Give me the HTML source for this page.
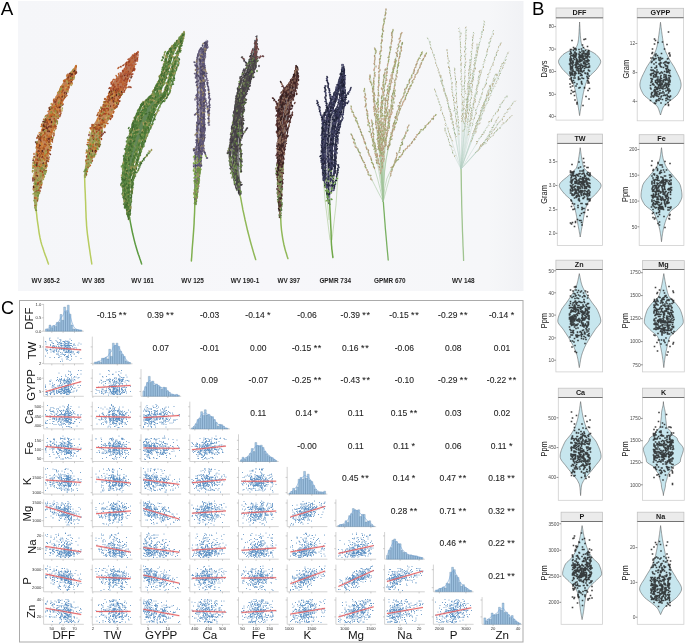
<!DOCTYPE html>
<html><head><meta charset="utf-8"><style>
html,body{margin:0;padding:0;background:#fff;}
body{width:685px;height:644px;overflow:hidden;font-family:"Liberation Sans",sans-serif;}
svg{display:block;will-change:transform;}
</style></head><body>
<svg width="685" height="644" viewBox="0 0 685 644">
<defs><linearGradient id="pbg" x1="0" y1="0" x2="1" y2="0"><stop offset="0" stop-color="#f5f6f9"/><stop offset="0.5" stop-color="#f7f7fa"/><stop offset="0.93" stop-color="#f6f7f9"/><stop offset="1" stop-color="#f1f2f5"/></linearGradient></defs>
<rect x="18" y="1" width="505.5" height="290" fill="url(#pbg)"/>
<text x="0.8" y="14.9" font-size="18.8" fill="#000" font-family="Liberation Sans, sans-serif">A</text>
<defs><filter id="bl" x="-5%" y="-5%" width="110%" height="110%"><feGaussianBlur stdDeviation="0.35"/></filter></defs>
<g filter="url(#bl)">
<path d="M35.5 205l.2 1.7.3 2.3.3 2.7.4 3 .3 3.1.4 3.1.4 2.8.4 2.5.3 2.3.3 2.2.3 2.1.4 2.2.4 2.2.5 2.3.6 2.5.8 2.9 1.1 3.2 1.1 3.4 1.2 3.4 1.2 3.2 1 2.8.8 2.3.3.8" fill="none" stroke="#b8cc60" stroke-width="1.5" stroke-linecap="round"/>
<defs><linearGradient id="g299564765" gradientUnits="userSpaceOnUse" x1="0" y1="65.6" x2="0" y2="211.0"><stop offset="0" stop-color="#b05a2a"/><stop offset="0.55" stop-color="#b86a30"/><stop offset="0.75" stop-color="#a08040"/><stop offset="1" stop-color="#8a9a48"/></linearGradient></defs>
<path d="M76.9,65.6 76.7,68.1 76.5,70.5 76.1,73.0 74.9,75.5 73.8,77.9 72.6,80.4 71.4,82.9 70.2,85.3 69.1,87.8 68.0,90.2 66.9,92.7 65.8,95.2 64.7,97.6 63.9,100.1 63.0,102.6 62.2,105.0 61.4,107.5 60.5,110.0 59.7,112.4 58.8,114.9 58.0,117.4 57.1,119.8 56.3,122.3 55.5,124.7 54.7,127.2 53.9,129.7 53.1,132.1 52.4,134.6 51.8,137.1 51.3,139.5 50.7,142.0 50.2,144.5 49.8,146.9 49.3,149.4 48.9,151.9 48.5,154.3 48.0,156.8 47.5,159.2 47.0,161.7 46.4,164.2 45.9,166.6 45.3,169.1 44.8,171.6 44.1,174.0 43.5,176.5 42.9,179.0 42.3,181.4 41.6,183.9 41.0,186.4 40.4,188.8 39.7,191.3 39.1,193.7 38.5,196.2 37.9,198.7 37.4,201.1 37.2,203.6 36.9,206.1 36.7,208.5 36.4,211.0 35.0,211.0 34.7,208.5 34.4,206.1 34.1,203.6 33.8,201.1 33.7,198.7 33.7,196.2 33.8,193.7 33.8,191.3 33.9,188.8 33.9,186.4 33.9,183.9 33.9,181.4 33.9,179.0 33.9,176.5 33.9,174.0 34.0,171.6 34.1,169.1 34.3,166.6 34.5,164.2 34.7,161.7 34.8,159.2 35.1,156.8 35.4,154.3 35.7,151.9 36.0,149.4 36.3,146.9 36.6,144.5 37.3,142.0 38.1,139.5 38.8,137.1 39.6,134.6 40.4,132.1 41.3,129.7 42.1,127.2 43.0,124.7 43.9,122.3 44.9,119.8 46.0,117.4 47.1,114.9 48.2,112.4 49.3,110.0 50.5,107.5 51.7,105.0 52.8,102.6 54.0,100.1 55.2,97.6 56.4,95.2 57.6,92.7 58.8,90.2 60.1,87.8 61.3,85.3 62.8,82.9 64.5,80.4 66.2,77.9 67.8,75.5 69.5,73.0 71.7,70.5 74.1,68.1 76.5,65.6Z" fill="url(#g299564765)" opacity="0.8"/>
<path d="M50 118l2.2-2.7 3.1-3.7 2.7-3.6 1.8-3.1 1.3-2.9.9-2M46 140l1.7-2.1 2.3-3.1 2-2.8 1.3-2.4 1-2.1.7-1.5M42 160l1.7-2.2 2.3-3.1 2-2.7 1.3-2.1 1-1.7.7-1.2" fill="none" stroke="#b87040" stroke-width="0.9" stroke-linecap="round" opacity="0.85"/>
<path transform="scale(0.5)" d="M90 278l-2 0m-8-4l-1 1m-5 0l0 2m5 41l-2 1m69-160l-1 1m-63 182l-2 0m4-91l0 2m24-52l-1 1m27-52l0 2m-22 56l-1 1m-41 167l1 1m22-136l1 2m4 36l1 1m-23 22l-1 1m69-153l-1 1m-53 104l0 2m-12 19l0 2m32-36l0 2m0-27l0 2m-34 100l0 2m76-189l-1 1m-57 182l0 2m-5-50l-1 1m6 62l-1 1m17-120l0 2m9-3l0 2m-49 148l-1 1m6-55l0 2m0-5l0 2m20-24l-1 1m-5-27l-2 0m3 34l-1 1m-12 90l-1 1m7-107l-1 1m-13 98l0 2m22-98l-2 0m62-131l0 2m-58 155l0 2m-3 6l1 1m-21 44l-2 0m17-13l0 2m5-57l-1 1m6 12l0 2m-29 52l0 2m29-117l-1 1m-21 52l0 2m4-22l-1 1m-3 108l-1 1m-3-59l-1 1m2 70l0 2m-3-72l-1 1m13 38l-1 1m-4-47l0 2m48-119l0 2m-49 122l1 1m43-90l-1 1m-20 10l0 2m-10 10l-1 1m61-105l-2 0m-28 59l-1 1m-23 64l0 2m4 24l-1 1" stroke="#a04420" stroke-width="2.8" stroke-linecap="round" fill="none"/>
<path transform="scale(0.5)" d="M93 270l0 2m33-102l-1 1m-53 199l-1 1m66-201l-1 1m-49 94l0 2m18 11l-1 1m-28 69l0 2m56-175l-1 1m-41 169l0 2m-2-25l1 1m-22 28l0 2m25-24l0 2m1-27l-1 1m-5-39l-1 1m41-73l-2 0m-49 94l0 2m62-124l-1 1m-42 89l0 2m-7 0l-1 1m2 78l-1 1m22-111l0 2m-19 63l-1 1m54-126l0 2m-57 167l-1 1m15-85l1 1m22-33l0 2m-59 108l1 2m33-92l0 2m-32 75l-1 1m84-175l-1 1m-65 152l1 1m23-71l0 2" stroke="#c8b060" stroke-width="2.8" stroke-linecap="round" fill="none"/>
<path transform="scale(0.5)" d="M73 330l1 1m35-121l-1 1m-35 153l-1 1m19-33l0 2m-4-80l-1 1m39-39l-1 2m-12 17l-1 1m-24 8l-1 1m2 106l-1 1m3-77l1 1m-20 101l-2 0m31-90l1 1m-8 15l0 2m-10 26l-1 1m9-80l-2 0m16-26l-1 1m39-84l-1 2m-56 213l1 1m65-227l0 2m-16 31l-1 1m-70 176l1 1m28-23l0 2m4-24l2 0" stroke="#a8a858" stroke-width="2.8" stroke-linecap="round" fill="none"/>
<path transform="scale(0.5)" d="M106 254l0 2m-25 20l0 2m-12 35l-1 1m7-4l0 2m19-56l-1 1m21-35l1 1m-10 4l0 2m47-96l-1 1m-85 226l0 2m15-71l-1 1m1 72l1 2m51-180l0 2m-41 49l0 2m34-30l-1 1m-56 120l-1 1m20-88l-2 0m32-35l-1 1m-23 112l0 2m-27-3l-1 1m32-68l-1 1m-17 15l1 1m22-18l0 2m-13 58l-1 1m6-51l1 1m-21 24l-1 1m7 45l0 2m11-82l1 1m27-25l1 1m2-30l0 2m-32 130l0 2m1-1l0 2m-14-28l0 2m-12 49l0 2m36-94l1 1" stroke="#6a2a20" stroke-width="2.8" stroke-linecap="round" fill="none"/>
<path transform="scale(0.5)" d="M86 271l-1 1m-6 17l-1 1m28-14l-1 1m-1-18l-1 1m-1-44l1 2m-14 57l-1 1m48-98l-1 1m-9-4l-2 0m-52 183l-1 1m7-63l1 1m36-99l-1 1m-15 45l1 1m15-3l-1 1m-32 85l-1 1m3-81l-1 1m3 9l0 2m-6 105l0 2m24-123l0 2m-24 129l-1 1m29-178l-1 2m25-41l1 1m-42 166l-1 1m10-87l0 2m1-7l-1 1m-32 78l1 1m79-177l-1 1m-10 16l0 2m-46 109l0 2m56-127l0 2m-26 77l0 2m-53 85l0 2m26-2l1 1m-29 33l-1 1m10-49l0 2m69-130l0 2m-3-8l0 2m11-16l-1 1m-42 103l-2 0m-39 129l-2 0m52-145l-1 2m-29 14l0 2m24 6l-1 1m0-6l1 1m-15 24l-2 0m10-17l0 2m-23 58l0 2m67-178l-2 0m-41 84l1 1m17-44l-1 1m-53 174l1 1m3-34l0 2m40-96l-2 0m-6 19l-1 1m8-42l1 1m-30 62l0 2m33-92l-1 1m-13 47l-1 1m10-12l2 0m6-11l0 2m-27 65l2 0m-4 32l1 1" stroke="#b8662e" stroke-width="2.8" stroke-linecap="round" fill="none"/>
<path transform="scale(0.5)" d="M116 208l1 1m24-62l0 2m-58 135l-1 1m35-88l-1 1m6-6l-1 1m-25 93l-1 1m3 32l-1 1m13-95l1 1m-36 124l1 1m8-92l-1 1m35-52l1 2m32-76l-1 1m-73 187l0 2m14-45l-1 1m28-86l1 2m23-31l0 2m-60 164l-1 1m4-45l0 2m3-10l-1 1m40-91l-1 1m-13 3l-1 1m-10 26l1 1m-19 75l0 2m5-7l1 1m40-114l0 2m-14 5l-1 1m-31 100l-2 0m52-135l-1 1m-15 51l-1 1m-28 56l-1 1m12 33l-1 1m9-30l-1 1m-39 105l0 2m60-212l-1 1m21-16l-1 1m-32 64l0 2m-2 17l-1 1m-33 34l-1 1m-8 61l0 2m47-110l-1 1m-13 48l1 1m-11 21l1 1m7-3l1 1m22-101l0 2m-25 25l0 2m-10 34l-1 1m20-37l-1 1m-19 110l0 2m3 8l-1 1m16-82l0 2m-4 10l-2 0m12-18l-1 1m-21 27l0 2m11 4l-1 1m-24-14l0 2m10 23l0 2m-12-12l0 2m11 0l-1 2m8-46l-1 1m18-6l0 2m39-88l0 2m-62 201l1 1m13-101l0 2m9-33l2 0m2-7l1 1m8-11l-2 1m-33 107l0 2" stroke="#d08a40" stroke-width="2.8" stroke-linecap="round" fill="none"/>
<path transform="scale(0.5)" d="M119 201l-1 1m17-40l-1 2m-52 101l0 2m1 52l2 0m46-133l-1 1m-39 155l0 2m6-33l-1 1m2-21l1 1m-30 79l1 1m-3-45l1 1m21-65l-1 1m55-94l-1 1m-20 31l0 2m-32 110l0 2m-21 31l-1 1m20-56l-1 1m-14 2l-1 1m7 64l-1 1m55-200l0 2m-30 44l-1 1m25-36l-1 1m-48 157l1 1m25-102l1 1" stroke="#b89a50" stroke-width="2.8" stroke-linecap="round" fill="none"/>
<path transform="scale(0.5)" d="M149 154l-1 1m-41 63l-1 1m-12 65l-1 1m-24 46l2 0m23-72l-1 1m-20 92l0 2m-3-40l1 1m32-89l0 2m-1 50l-1 1m21-94l-1 1m27-30l0 2m-71 134l-1 1m8 19l-2 0m38-109l-1 1m-11 36l-1 1m-31 136l-1 1m19-142l-1 1m15-7l1 1m-26 106l-1 1m27-78l0 2m-20 50l1 1m-18 54l1 1m5-95l-1 2m4 13l-1 1m61-121l-2 0m-33 81l-1 1" stroke="#a89848" stroke-width="2.8" stroke-linecap="round" fill="none"/>
<path transform="scale(0.5)" d="M140 167l-1 1m-66 140l0 2m37-58l-1 1m42-110l-1 2m-14 34l0 2m0-33l0 2m-36 150l1 1m16-108l1 1m-46 156l0 2m65-192l0 2m-49 117l0 2m14-50l0 2m2 50l1 1m39-123l-1 1m-24 70l1 1m-44 61l0 2m49-123l-1 1m-49 159l-2 0m56-137l-1 2m-41 111l-2 0m54-148l-1 1m-4 29l-1 1m6-42l-1 2m-45 189l-2 0m-16-47l-1 1m44-64l-1 1m-31 117l1 1m35-123l-1 1m1-32l-1 1m-35 153l0 2m34-132l-1 1m-19 11l-1 1m7-2l-2 0m7 22l-1 2m27-82l-1 1m-14-1l-1 2m-14 56l0 2m22-73l0 2m-6 41l-1 1m4-4l-1 1" stroke="#b05a26" stroke-width="2.8" stroke-linecap="round" fill="none"/>
<path transform="scale(0.5)" d="M144 157l-1 1m-40 93l-1 1m-21 60l-2 0m47-140l0 2m-51 151l0 2m7-24l0 2m-4 27l1 1m4 28l-1 1m27-125l-1 1m-27 102l0 2m2-41l1 1m10-72l0 2m10 31l-1 1m-16 52l1 1m-9 2l1 1m24-105l0 2m-16 80l0 2m-18 112l1 1m17-164l-1 1m-7 47l0 2m50-136l-1 1m-17 39l0 2m-21 34l-1 1m-21 85l0 2m28-20l1 1m-5-25l0 2m10-11l0 2m9-23l0 2m-16 68l1 1m-15-41l0 2m-5 11l1 1m60-122l0 2m-37 99l-1 1m-17-9l-2 0m70-121l-1 1m-26 36l-1 1m-43 197l0 2m32-184l1 1m-25 94l-1 1m33-115l0 2m-18 48l-1 1m-7 39l0 2m-11 34l0 2m25-37l-1 1m29-115l-1 1m-56 156l0 2m43-92l-2 0m-34 81l1 1m-14 39l-1 1m24-86l-1 1m22-47l-1 1" stroke="#a04e22" stroke-width="2.8" stroke-linecap="round" fill="none"/>
<path transform="scale(0.5)" d="M67 373l1 1m9 14l0 2m6-41l0 2m-8 36l-1 1m2-3l1 1m0-1l-1 1m-1-26l1 1m-1 36l1 1m-2-15l0 2m4-28l1 1m-9 27l0 2m2-21l-1 1m1 53l1 1m20-92l0 2m-27 4l0 2" stroke="#7a9040" stroke-width="2.8" stroke-linecap="round" fill="none"/>
<path transform="scale(0.5)" d="M111 212l-2 0m22-41l0 2m-50 120l1 1m-16 39l1 1m28-36l0 2m-5 28l1 1m29-139l-1 1m33-60l-1 2m-54 151l1 1m-21 19l-1 1m23-61l-2 0m-14 8l-1 1m-1 81l-1 1m13-3l1 1m29-151l-2 0m17-14l-1 1m-33 110l1 1m16-75l0 2m-1 5l-1 1m-33 105l-1 1m17-39l0 2m-18-30l-1 1m0 116l0 2m-9-80l1 1m70-144l-1 1m-18 58l-1 1m-4-31l-1 1m24-18l-1 1m-20 12l-1 1m-46 131l1 2m67-160l-1 1m-71 247l1 2m8-87l-1 1m3-23l0 2m67-153l-1 1m-17 32l1 2m-47 140l-1-1m-1 57l-1 1m1-40l0 2m9-22l-1 1m17-98l-1 1m-24 100l-1 1m16-81l-1 1m-10 22l0 2m28-51l1 1m-19 98l0 2m44-161l0 2m-42 79l0 2m15-6l-1 1m-15 45l1 1m3-8l2 0m0-4l1 1" stroke="#d07c34" stroke-width="2.8" stroke-linecap="round" fill="none"/>
<path transform="scale(0.5)" d="M80 309l0 2m-5 89l0 2m40-207l0 2m-37 123l-1 1m16-71l0 2m17-12l0 2m19-57l0 2m-52 180l-2 0m46-155l-1 1m2-6l-1 1m-32 56l0 2m-8 7l1 1m49-80l-1 1m13-37l-1 1m-69 210l1 1m35-141l0 2m-15 8l1 1m57-96l-1 1m-32 49l-1 1m-3 30l-1 1m8-21l0 2m-24 82l1 1m-6 35l0 2m7-109l-1 1m-13 29l1 1m27-37l-1 1m-20 36l-1 1m38-57l-1 1m-40 80l-1 1m7 42l1 1m12-51l0 2m-10 45l0 2m4-63l0 2m-1-41l1 1m24-41l-2 0m-36 123l-2 0m38-104l-1 1m7-4l-1 1m-19 60l0 2m-7 41l-1 1" stroke="#9a5428" stroke-width="2.8" stroke-linecap="round" fill="none"/>
<path transform="scale(0.5)" d="M76 272l1 1m17-29l0 2m-9 67l-1 2m53-161l-1 1m-66 204l-1 1m27-61l0 2m-4 30l-1 2m9-25l1 1m52-165l0 2m-48 85l-2 1m7-29l0 2m-18 85l-1 1m0-51l-1 1m-2 18l1 1m49-94l-1 1m4-20l-2 0m4 16l-1 1m-47 92l0 2m5-6l0 2m-14 5l0 2m18 18l1 1m-22 87l-1 1m59-216l0 2m11-9l-1 2m-53 131l-2 0m3-63l-1 1m27-24l0 2m-43 180l0 2m48-191l-1 1m-31 97l0 2" stroke="#7a3424" stroke-width="2.8" stroke-linecap="round" fill="none"/>
<path transform="scale(0.5)" d="M142 148l1 1m-65 152l0 2m9 36l1 1m-1-14l-1 1m-12 3l-1 1m25-55l0 2m0-16l1 1m21-49l-1 1m-30 37l-1 1m38-73l-1 1m20-33l-1 1m-41 94l0 2m-27 121l0 2m24-150l-1 1m-28 65l1 1m8-6l1 1m18-41l-2 1m-24 46l0 2m76-147l-1 2m-63 158l0 2m-18 70l0 2m35-82l-1 1m-27 57l1 1m4-62l0 2m8-42l0 2m-13 32l0 2m16-43l0 2m-17 83l-1 2m15-70l1 1m12-23l0 2" stroke="#5a2a1e" stroke-width="2.8" stroke-linecap="round" fill="none"/>
<path transform="scale(0.5)" d="M124 204l-1 1m-44 104l-1 2m10-19l0 2m-11-5l0 2m31-61l0 2m-37 88l-1 1m33-57l-2 0m-27 24l0 2m21-52l0 2m-5 79l-1 1m-1-51l-1 1m19-40l0 2m-18 6l-1 1m12 34l1 1m10-54l0 2m-11 11l0 2m5-9l0 2m24-67l-1 1m-9 22l-1 1m-37 184l-1 1m45-182l0 2m-27 112l-1 1m12-83l0 2m-6 6l0 2m-5 10l-1 1m26-43l-1 1m-30 92l0 2m13-84l1 1m-3 85l0 2m-15 10l0 2m-12 56l1 1m17-65l-1 1m-9-25l-1 1m27-64l-2 1m45-83l0 2m-34 75l-1 1m-17 32l-1 1m5-15l0 2m-35 103l1 1m56-155l-1 1m-45 120l1 2m62-148l0 2m-70 148l0 2m11-11l0 2m9-15l0 2m-22 34l1 1m61-141l1 2m-37 42l-1 1m39-40l1 1m-44 47l-1 1m5 40l1 2m12-19l-1 1m-18 56l1 1m8-12l-1 1" stroke="#c46a2c" stroke-width="2.8" stroke-linecap="round" fill="none"/>
<path transform="scale(0.5)" d="M68 401l1 1m2-15l1 2m7-4l0 2m-7-14l2 0m-2 16l0 2m3-56l1 1m5 16l0 2m-11 60l0 2m19-73l-1 2" stroke="#8a9a48" stroke-width="2.8" stroke-linecap="round" fill="none"/>
<path transform="scale(0.5)" d="M123 210l-1 1m-6 22l1 1m-28 27l1 1m-7 84l-1 1m-15-12l-1 1m14-7l-1 1m13-29l0 2m-23 63l-1 1m33-153l0 2m20-36l-1 1m-29 52l-1 1m-8 34l0 2m60-115l-1 1m-6 26l-1 1m-13-6l0 2m-45 166l-1 1m15-40l0 2m18-64l0 2m-24 119l-1 2m-11-9l0 2m2-77l0 2m-7 39l0 2m22 4l0 2m28-148l0 2m6-10l0 2m-53 183l1 1m32-137l-1 1m13 21l-1 1m-8 27l-1 1m3-29l-1 1m39-109l1 1m-32 90l-1 1m-2-7l-1 1m-26 95l-1 1" stroke="#9a9a48" stroke-width="2.8" stroke-linecap="round" fill="none"/>
<path transform="scale(0.5)" d="M89 239l0 2m22-20l-1 1m-37 85l0 2m-1 31l0 2m0 26l-1 1m10-33l-1 1m2 0l0 2m6-1l-1 1m28-95l-1 1m-27 93l-1 1m0-10l0 2m-17 24l-1 1m5 21l0 2m22-148l1 1m48-75l-2 0m-29 84l0 2m-35 74l0 2m25-96l-1 1m6 9l-2 0m-24 128l1 1m34-157l0 2m-17 29l-1 1" stroke="#8a8a40" stroke-width="2.8" stroke-linecap="round" fill="none"/>
<path transform="scale(0.5)" d="M76 388l-1 1m-1-1l0 2m-1 19l0 2m-4-8l1 1m5-27l-1 1m-3 35l0 2m9-49l0 2m-10-28l-1 1" stroke="#9aa850" stroke-width="2.8" stroke-linecap="round" fill="none"/>
<path transform="scale(0.5)" d="M91 348l-2 0m-18 19l0 2m5 22l0 2m16-51l-1 1m-20-14l-1 1m14 5l0 2" stroke="#6a8a3a" stroke-width="2.8" stroke-linecap="round" fill="none"/>
<path transform="scale(0.5)" d="M75 395l1 1m-5-9l-1 1m13-40l0 2m6 3l-1 2m-20 25l-1 1m-2-39l0 2m2 43l-1 1m26-53l0 2m0 6l0 2m-13 12l0 2" stroke="#a0a050" stroke-width="2.8" stroke-linecap="round" fill="none"/>
<path d="M84.5 175l.1 2 .1 2.7.1 3.3.1 3.5.2 3.9.2 3.9.1 3.8.2 3.7.1 3.8.1 3.9.2 3.9.1 4.1.3 4.1.2 4.2.4 4.2.5 4.6.7 5.1.7 5.2.8 5.3.7 4.8.7 4.3.5 3.4.2 1.3" fill="none" stroke="#b8cc60" stroke-width="1.5" stroke-linecap="round"/>
<defs><linearGradient id="g186076096" gradientUnits="userSpaceOnUse" x1="0" y1="51.8" x2="0" y2="178.0"><stop offset="0" stop-color="#a04a28"/><stop offset="0.5" stop-color="#b86a30"/><stop offset="0.7" stop-color="#a08040"/><stop offset="1" stop-color="#8a9a48"/></linearGradient></defs>
<path d="M138.1,51.8 137.7,53.9 137.4,56.1 136.9,58.2 136.3,60.4 135.7,62.5 135.1,64.6 134.4,66.8 133.8,68.9 133.0,71.1 131.9,73.2 130.9,75.3 129.8,77.5 128.6,79.6 127.5,81.7 126.4,83.9 125.4,86.0 124.4,88.2 123.4,90.3 122.4,92.4 121.3,94.6 120.4,96.7 119.4,98.9 118.4,101.0 117.4,103.1 116.5,105.3 115.5,107.4 114.4,109.6 113.3,111.7 112.2,113.8 111.2,116.0 110.1,118.1 108.8,120.2 107.2,122.4 105.6,124.5 103.9,126.7 103.0,128.8 102.6,130.9 102.1,133.1 101.6,135.2 101.1,137.4 100.6,139.5 99.9,141.6 99.2,143.8 98.5,145.9 97.7,148.1 97.0,150.2 96.3,152.3 95.2,154.5 94.1,156.6 93.0,158.7 91.9,160.9 90.8,163.0 89.8,165.2 89.1,167.3 88.3,169.4 87.6,171.6 86.9,173.7 86.4,175.9 85.8,178.0 84.2,178.0 84.1,175.9 84.1,173.7 84.3,171.6 84.6,169.4 84.9,167.3 85.2,165.2 85.6,163.0 85.9,160.9 86.3,158.7 86.6,156.6 87.0,154.5 87.3,152.3 87.6,150.2 87.8,148.1 88.1,145.9 88.4,143.8 88.6,141.6 88.9,139.5 89.5,137.4 90.0,135.2 90.5,133.1 91.1,130.9 91.6,128.8 92.4,126.7 93.6,124.5 94.8,122.4 96.1,120.2 97.1,118.1 98.1,116.0 99.1,113.8 100.1,111.7 101.1,109.6 102.0,107.4 103.1,105.3 104.1,103.1 105.2,101.0 106.3,98.9 107.3,96.7 108.4,94.6 109.1,92.4 109.9,90.3 110.7,88.2 111.5,86.0 112.2,83.9 113.2,81.7 114.9,79.6 116.5,77.5 118.4,75.3 120.8,73.2 123.2,71.1 125.0,68.9 125.8,66.8 126.6,64.6 127.4,62.5 128.2,60.4 129.1,58.2 131.3,56.1 134.4,53.9 137.6,51.8Z" fill="url(#g186076096)" opacity="0.8"/>
<path d="M110 92l3.2-1.1 4.6-1.6 4.2-1.3 3.6-.6 3.2-.3 2.2-.1M96 140l1.3-1 1.9-1.5 1.8-1.5 1.6-1.5 1.4-1.5 1-1M118 68l2.4-1.2 3.2-1.6 2.4-1.2" fill="none" stroke="#b07040" stroke-width="0.9" stroke-linecap="round" opacity="0.85"/>
<path transform="scale(0.5)" d="M234 205l-2 0m-22 14l0 2m8 15l0 2m-19 28l0 2m11-58l0 2m-14 16l-1 1m18-7l-1 1m-26 31l1 1m31-50l0 2m-31 56l-1 1m7-14l-2 0m-15 83l0 2m23-70l0 2m41-88l-1 1m-46 121l0 2m6-83l1 1m-11 75l0 2m26-94l1 1m11 9l1 1m-39 51l0 2m44-83l-1 1m8 16l-1 1m-15-7l-1 1m-47 92l-2 0m42-54l0 2m10-39l-1 1m-26 56l0 2" stroke="#a04e22" stroke-width="2.8" stroke-linecap="round" fill="none"/>
<path transform="scale(0.5)" d="M223 227l-1 1m-9 7l-1 1m-21 15l0 2m12-20l-2 0m27-43l-2 0m-43 70l0 2m1 41l0 2m30-83l1 1m-26 62l0 2m42-81l0 2m-27 12l-1 1m5 27l-1 1m-28 15l0 2m18-26l0 2" stroke="#c8b060" stroke-width="2.8" stroke-linecap="round" fill="none"/>
<path transform="scale(0.5)" d="M237 206l-2 0m-22 21l0 2m-1-4l-1 1m-16 61l-1 1m11-60l-2 0m7 23l-1 1m-5-12l-1 1m7 13l-1 1m26-54l0 2m-21 24l-1 1m-7 18l-1 1m23-58l1 1m-32 66l0 2m-12 31l-1 1m12-53l-1 1m12-27l-1 2m-23 100l-1 1m15-48l0 2m27-67l-1 1m-5 9l-1 1m1-22l-1 1m-27 67l0 2m-13 25l-2 0m19-22l-1 1m27-69l-1 2m-6 47l-1 1m-11-14l-1 1m-11 47l-2 0m3 16l-1 1m50-105l-1 1m-35 54l-1 1m-4-16l0 2m23-48l-2 1m-24 55l-1 1m33-30l0 2m-36 83l0 2m39-119l2 0m-42 100l2 0" stroke="#d07c34" stroke-width="2.8" stroke-linecap="round" fill="none"/>
<path transform="scale(0.5)" d="M202 214l0 2m0 40l-1 1m39-71l-1 1m-54 112l0 2m46-111l1 1m-21 12l0 2m-38 138l2 0m6-55l-1 1m25-61l1 1m-22 28l-1 1m30-48l1 1m-6 1l-1 1m1-9l0 2m-2 20l-1 1m-18 23l-1 1m17-29l-1 1m45-43l-2 0m-48 70l-1 1m22-65l-1 1m-17 35l-1 1m-17 33l-1 1m50-43l-1 1m-57 126l0 2m14-45l-1 1m10-45l-2 0m7-28l0 2m7 0l-2-1m-15 27l-1 2m-2 56l1 1m45-99l-1 1m-23-8l-1 1m-31 90l0 2m58-120l0 2m-21 17l-2 1m22-3l-1 2m-36 88l-1 1m-9-17l-2 1" stroke="#b8662e" stroke-width="2.8" stroke-linecap="round" fill="none"/>
<path transform="scale(0.5)" d="M224 192l1 1m5 24l-1 1m-10 13l-1 1m-8 20l-1 1m2-49l1 2m-26 79l-1 1m-2 2l0 2m38-106l-1 1m20 8l0 2m-31 20l1 1m3 12l0 2m-11-2l1 1" stroke="#a89848" stroke-width="2.8" stroke-linecap="round" fill="none"/>
<path transform="scale(0.5)" d="M174 339l-1 1m10-74l0 2m5 43l1 1m1-31l0 2m8-17l-2 0m-14 44l1 1m3-25l1 1m-9 45l1 1m-7-12l0 2m16-43l-1 1m17-20l1 1" stroke="#8a9a48" stroke-width="2.8" stroke-linecap="round" fill="none"/>
<path transform="scale(0.5)" d="M257 143l-1 1m-62 144l0 2m9-27l0 2m-15-7l-1 1m-9 10l0 2m49-70l-1 1m-8-3l0 2m37-51l0 2m-56 79l1 2m74-126l-1 1m-34 94l-2 0m-39 57l0 2m-25 41l1 1m50-71l0 2m-5-58l-1 1m-33 94l-1 1m23-28l-1 1m0 2l-1 1m-2 17l-1 1m26-63l-1 1m4-24l0 2m-36 76l-1 1m-10-6l0 2m61-103l-1 1m-38 113l0 2" stroke="#7a3424" stroke-width="2.8" stroke-linecap="round" fill="none"/>
<path transform="scale(0.5)" d="M203 216l1 1m71-100l-1 1m-38 67l1 1m-3 25l0 2m8-50l1 1m-12 51l-1 1m40-101l-1 1m-1 25l-1-1m-31 28l1 1m12-1l0 2m-57 118l0 2m26-98l0 2m17 12l-1 1m-13 5l-1 1m-41 93l0 2m28-66l-1 1m44-93l-1 1m-45 119l-1 2m6-8l1 1" stroke="#6a2a20" stroke-width="2.8" stroke-linecap="round" fill="none"/>
<path transform="scale(0.5)" d="M219 219l0 2m-9-15l-1 1m-1-4l-1 1m23 0l1 1m-28 47l0 2m-3 29l0 2m0-59l0 2m-19 46l0 2m26-30l-1 1m13-35l-1 1m19-29l-1 1m-14 11l-1 1m-23 87l0 2m40-96l-1 1m-51 75l-1 1m34-62l-1 1m-27 48l-1 1m10 19l-2 0" stroke="#b89a50" stroke-width="2.8" stroke-linecap="round" fill="none"/>
<path transform="scale(0.5)" d="M208 243l-1 1m16-16l-1 1m-7-35l0 2m14-13l0 2m-36 104l0 2m9-47l-1 1m-12 55l-1 1m22-62l-1 1m28-36l0 2m-9 17l-1 1m-27 40l1 2m14-73l-1 1m-32 118l-1 2m21-58l-2 0m5-12l1 1m15-54l-1 1m-32 120l0 2m4-19l0 2m8-60l-1 1m-7 63l-1 1m13-55l-1 1m-6-23l-1 1m-16 104l1 1m-7-5l-1 1m13-39l1 1m-10 15l-1 1m35-88l-2 0m-25 96l1 1m2-19l-1 1m21-77l0 2m28-20l-1 1m-18 19l-1 1" stroke="#c46a2c" stroke-width="2.8" stroke-linecap="round" fill="none"/>
<path transform="scale(0.5)" d="M234 162l-1 1m10 12l-1 1m0-15l-1 1m26-25l-1 1m-39 30l0 2m9-2l0 2m28-17l-1 1m-43 21l-1 1m38-58l-1 1m-5 53l-2 0m-5-13l-1 1m21-30l0 2m-8 15l1 1m5-12l0 2m-13 10l-1 1m17-33l-1 1m-23 56l0 2m25-27l-2 0m4-11l1 1m-1-3l-1 1m-16 32l0 2m2 0l-1 1m-10-7l1 1m16-34l-2 0m-3 37l-1 1m1-5l-1 1m-9-9l-1 1m32-39l0 2m-29 56l2 0m-7-43l1 1" stroke="#a84a2a" stroke-width="2.8" stroke-linecap="round" fill="none"/>
<path transform="scale(0.5)" d="M200 253l-1 1m42-71l-1 1m-30 67l-1 1m22-41l-1-1m-57 95l-1 1m28-84l0 2m-15 77l-1 2m42-112l-1 1m-1 35l-1 1m-36 23l-1 1m26-47l0 2m-28 48l-1 1m-7 23l0 2m39-76l0 2m-33 80l-1 1m49-88l0 2m3-4l1 1m-52 58l0 2" stroke="#d08a40" stroke-width="2.8" stroke-linecap="round" fill="none"/>
<path transform="scale(0.5)" d="M212 212l-2 0m15-25l-1 1m-38 61l0 2m11 42l1 1m-1-3l1 1m23-94l-1 1m10-7l-1 1m-25 55l-1 1m-11 7l-1 1m-9 39l-1 1m56-115l1 1m-16 49l0 2m-22 3l-1 1m-17 61l-1 2m39-103l0 2m9 2l1 1m-53 115l-1 1m8-6l-1 1m50-102l-1 1m-59 135l0 2m19-48l-1 1m-4-42l-1 1m26-59l-1 1m-4 5l-1 1m-11 20l-1 1m10 0l-1 1m7-35l0 2m27-17l0 2m-21 27l1 1m-7-9l-1 1m-24 117l-1 2" stroke="#9a5428" stroke-width="2.8" stroke-linecap="round" fill="none"/>
<path transform="scale(0.5)" d="M253 145l-1 1m-61 155l-1 1m-4-25l1 1m46-89l0 2m5-3l1 2m-15-1l-2-1m-22 62l-2 0m-8 5l-1 1m36-61l-1 1m19-13l0 2m19-31l0 2m-27 50l0 2m-32 62l-1 1m5-34l-1 2m-7 52l0 2m-14 8l0 2m34-120l0 2m4-3l0 2" stroke="#5a2a1e" stroke-width="2.8" stroke-linecap="round" fill="none"/>
<path transform="scale(0.5)" d="M204 226l-1 1m-15 71l0 2m1-39l0 2m26-51l-1 1m7-23l0 2m-4 41l-1 1m-27 24l-1 1" stroke="#a8a858" stroke-width="2.8" stroke-linecap="round" fill="none"/>
<path transform="scale(0.5)" d="M172 341l-1 1m6-28l0 2m24-27l-1 1m-28 47l1 1m6-42l-1 1m16-9l0 2m6-18l-1 1m-17 18l-1 1m13 5l1 1m-23 48l0 2m-3-6l-1 1m9-52l0 2m18 3l-1 1m-17 15l-1 1m-5 26l-1 1" stroke="#6a8a3a" stroke-width="2.8" stroke-linecap="round" fill="none"/>
<path transform="scale(0.5)" d="M260 160l-1 1m-22 11l-2 0m16-38l1 1m-2 27l-1 1m14-36l-1 1m9-20l0 2m5-1l0 2m-26 37l-2 0m19-24l-2 0m-28 33l-1 1m25-29l-1 1m-29 47l-1 1m15-6l-1 1m-2-24l-1 1m13-14l-1 2m-32 38l0 2m20-26l-1 1m1 12l-2 0m14-20l-1 1m-6 14l1 1m-5-6l-1 1m35-53l0 2m-34 41l-2 0m15 4l-1 1m-32 14l1 1m14 11l1 1m13-4l0 2" stroke="#b0583a" stroke-width="2.8" stroke-linecap="round" fill="none"/>
<path transform="scale(0.5)" d="M247 163l-1 1m-13-12l0 2m21-10l-1 1m-24 14l-2 0m41-43l0 2m-5 23l-1 1m-12 26l0 2m19-37l-1 1m-4 2l0 2m5-31l0 2m-29 68l-1 1m11-39l-1 1m-24 31l1 1m20-31l1 2m-18 29l1 1m31-52l-1 1m-11 46l-1 1m4 8l-1 1m-19-27l1 1m23-28l-1 1m-18 42l-2 0m19-40l0 2m-2 26l-1 2m-19 18l-1 1m23-52l-1 1m-12 53l1 2m13-19l0 2m-8 5l0 2m15-45l0 2m-18 25l-2 0m23-30l0 2m-20 41l0 2m-3-6l0 2m26-33l-1 1m-27 24l-1 1m-13 13l-1 1m22-5l-1-1m-4-2l-1 1m-4-16l0 2m7 27l-1 1m10-3l1 1m-4-47l2 0" stroke="#c06a38" stroke-width="2.8" stroke-linecap="round" fill="none"/>
<path transform="scale(0.5)" d="M205 263l-1 1m-9 18l1 1m11-45l-1-1m11 1l-1 1m-34 39l-1 1m-4 27l0 2m-4-8l0 2m15-9l-1 1m4-15l0 2m9-10l0 2m-1 12l-2 0m5-70l0 2m26-36l-1 1" stroke="#9a9a48" stroke-width="2.8" stroke-linecap="round" fill="none"/>
<path transform="scale(0.5)" d="M235 205l0 2m-56 73l1 1m8-13l1 1m48-81l1 1m-40 101l0 2m8-68l1 1m-25 76l-1 1m43-83l-1 1m-47 89l-1 1m1-8l-1 1m70-115l-2 1m-49 82l-1 1m31-53l-1 1m-35 56l1 1" stroke="#8a8a40" stroke-width="2.8" stroke-linecap="round" fill="none"/>
<path transform="scale(0.5)" d="M253 138l-1 2m-9 23l-1 1m30-36l-1 1m-26 12l0 2m-5 21l-1 1m11-29l-1 1m14-7l-1 1m-15 12l-1 1m19-34l0 2m-23 48l-1 1m7-23l0 2m9-14l0 2m2 18l2 0m-27 11l-1 1m26 3l0 2m-7-1l0 2m23-42l-2 0m-13-3l0 2m-13 56l0 2m22-40l0 2m-14 2l-1 1m-3 0l-1 1m-6 13l-1 1m33-55l0 2m-48 68l-1 1m9-15l-1 1m29-45l-1 1m-17 51l-1 1m-7 5l-2 0m-11-12l0 2m31-22l-1 1m-32 21l0 2m30-8l0 2m1-2l0 2m17-49l-1 1m6 2l-1 1m-5-1l1 1m-43 54l1 1m23-26l-1 1m-29 31l0 2m5-19l-1 1m11-25l-1 2" stroke="#b85a30" stroke-width="2.8" stroke-linecap="round" fill="none"/>
<path transform="scale(0.5)" d="M249 160l-1 1m19-21l-1 1m-15 15l0 2m-24 19l0 2m0-2l-1 1m34-30l-1 1m-35 19l-2 0m46-58l0 2m2 26l-2 0m-15-13l-1 1m12 23l-1 1m-4-28l0 2m-7 7l-1 1m5 25l-1 2m-25 14l-1 1m26-24l0 2m-19 25l1 1m5-26l0 2m16-31l-1 1m16-18l0 2m-7 33l-1 1m5-22l0 2m-24 19l0 2m-19 27l-1 1m26-43l1 1m19-9l-1 1m-38 57l1 2m24-7l0 2m3-1l1 1m-15-45l-1 1" stroke="#983e26" stroke-width="2.8" stroke-linecap="round" fill="none"/>
<path transform="scale(0.5)" d="M195 293l0 2m-10-19l2 0m-11 3l1 1m1 35l0 2m2-26l-1 1m18 6l-1 1m0-35l-1 1" stroke="#9aa850" stroke-width="2.8" stroke-linecap="round" fill="none"/>
<path transform="scale(0.5)" d="M215 217l-2 0m-9 1l-1 1m0 58l0 2m6-52l-1 1m33-38l0 2m-19-3l-1 2m-24 58l-1 1m29-19l0 2m3-23l-1 1m-35 46l0 2m24-56l0 2m21 3l-1 1m-27 10l-1 2m25-37l-1 1m13 0l-1 1m-44 102l-2 1m30-109l-1 1m23-1l-1 1m-13 18l0 2m-24 26l-1 1m-2-10l-2 0m-34 94l0 2m30-43l-1 1m41-82l-1 1m-25 0l0 2m-14 62l-2 0m21-18l-1 1m-17 2l1 1m-2-19l0 2m32-43l-1 1m-33 72l-1 1m21-18l0 2m1-58l0 2m-5 45l1 1m1-34l0 2m21-2l-1 1m-11 0l1 2m9-6l-1 1m-43 70l-1 1m24-46l0 2m-33 29l0 2m7 53l0 2m58-122l-2 0" stroke="#a04420" stroke-width="2.8" stroke-linecap="round" fill="none"/>
<path transform="scale(0.5)" d="M182 315l1 1m14-35l0 2m1 5l0 2m-17 0l-1 1m29-46l-2 0m4-47l-2 0m-16 80l0 2m34-56l0 2m-26 3l0 2m30-16l-1 1m-51 64l-1 1m45-95l-1 1m-36 105l0 2m2-38l0 2m28-11l-2 0m-27 27l-1 2m-4-20l-2 0m21-8l-1 1m-28 71l0 2m51-90l1 2m-28 24l-1 1m4 15l0 2m12-25l-1 1m-17 2l-2 0" stroke="#b05a26" stroke-width="2.8" stroke-linecap="round" fill="none"/>
<path transform="scale(0.5)" d="M173 323l-1 1m9-41l-1 1m9 28l-1 1m-12 16l-1 1m-2 3l0 2m9-19l0 2m10-10l-1 1m-12 2l0 2m-7 20l0 2m8-23l-1 1m5-28l0 2m15-3l-1-1m-17 36l0 2m-7 8l0 2m4-2l-1 1m-1 0l0 2" stroke="#a0a050" stroke-width="2.8" stroke-linecap="round" fill="none"/>
<path transform="scale(0.5)" d="M182 292l1 1m-6-3l-1 1m6 10l0 2m0 22l1 1m15-39l1 1m-13-4l0 2m3 23l0 2m-6-3l-1 1m17-28l-1-1m-14 31l0 2m-7 13l-1 1m20-50l-1 1" stroke="#7a9040" stroke-width="2.8" stroke-linecap="round" fill="none"/>
<path d="M129 215l.3 1.7.5 2.3.5 2.8.6 3 .6 3.2.6 3 .6 2.8.6 2.3.5 2.2.5 2.1.5 2 .5 1.9.6 1.9.5 1.9.6 1.9.6 2 .7 2.2.8 2.1.7 2.2.7 1.9.5 1.7.5 1.4.2.5" fill="none" stroke="#5c9a40" stroke-width="1.5" stroke-linecap="round"/>
<path d="M164.7,92.7 163.1,95.9 160.1,99.0 157.2,102.2 154.4,105.3 153.1,108.5 151.8,111.6 150.4,114.8 149.1,118.0 147.8,121.1 146.5,124.3 145.3,127.4 144.2,130.6 143.1,133.7 142.0,136.9 140.8,140.1 139.8,143.2 138.8,146.4 137.8,149.5 136.8,152.7 135.8,155.8 134.8,159.0 134.0,162.2 133.3,165.3 132.7,168.5 132.0,171.6 131.3,174.8 130.7,178.0 130.3,181.1 130.1,184.3 130.0,187.4 129.8,190.6 129.7,193.7 129.5,196.9 129.5,200.1 129.5,203.2 129.6,206.4 129.6,209.5 129.6,212.7 129.6,215.8 129.5,219.0 128.5,219.0 127.9,215.8 127.3,212.7 126.8,209.5 126.2,206.4 125.7,203.2 125.1,200.1 124.8,196.9 124.6,193.7 124.4,190.6 124.3,187.4 124.1,184.3 123.9,181.1 124.0,178.0 124.3,174.8 124.7,171.6 125.0,168.5 125.3,165.3 125.6,162.2 126.2,159.0 126.9,155.8 127.7,152.7 128.4,149.5 129.2,146.4 129.9,143.2 130.8,140.1 131.7,136.9 132.6,133.7 133.5,130.6 134.4,127.4 135.3,124.3 136.6,121.1 138.0,118.0 139.4,114.8 140.8,111.6 142.2,108.5 143.6,105.3 146.8,102.2 150.1,99.0 153.5,95.9 155.5,92.7Z" fill="#3e6a30" opacity="0.8"/>
<path d="M138 165l1.8-1.8 2.7-2.5 2.5-2.7 2.4-2.9 2.3-3 1.6-2.1M133 178l1.4-2.1 1.9-3 1.7-2.9 1.3-2.7 1-2.5.7-1.8M128 190l1.1-2.1 1.5-3.1 1.4-2.8 1.2-2.4 1.1-2.1.7-1.5M162 60l.6-1.4.7-1.9.7-1.7.4-1.3.4-1 .2-.7" fill="none" stroke="#7aa458" stroke-width="0.9" stroke-linecap="round" opacity="0.85"/>
<path transform="scale(0.5)" d="M255 318l1 2m-11 52l-1 2m48-104l0 2m1-72l-1 2m45-55l-1 2m-19 36l-2-1m47-87l-2 1m-94 232l2 2m26-126l-2 0m39-70l-1 2m-69 244l0 2m33-72l-2 1" stroke="#a8a060" stroke-width="3" stroke-linecap="round" fill="none"/>
<path transform="scale(0.5)" d="M259 347l1 2m-3-42l-2 1m12 26l-1 2m-13-54l0 2m48-59l-2 1m68-155l0 2m-96 172l1 2m-19 82l-2 1m47-70l0 2m-51 70l-1 2m6 67l0 2m6-120l-2 0m61-85l-2 1m-40 130l1 2m20-25l2 1m-20 26l2 1m-24 45l0 2m13-26l-1 2m57-237l-2 1" stroke="#5e8a44" stroke-width="3" stroke-linecap="round" fill="none"/>
<path transform="scale(0.5)" d="M247 357l-1 2m92-197l0 2m8-58l1 2m-6 6l1 2m23-40l-2 1m-11 36l-2 1m-62 131l-2 1m-21 94l-1 2m0 5l0 2m63-221l0 2m-5 54l0 2m27-93l-2 2m-24 59l-2 2m-41 168l2 0m21-25l0 2" stroke="#a09858" stroke-width="3" stroke-linecap="round" fill="none"/>
<path transform="scale(0.5)" d="M346 157l0 2m-58 82l-1 2m-37 106l0 2m-8 18l0 2m83-214l-2 1m-10 40l-1 2m-44 132l-1 2m10-78l-2 1m69-158l-1 2m-46 151l-1 2m64-152l1 2m-101 268l2 1" stroke="#6a9048" stroke-width="3" stroke-linecap="round" fill="none"/>
<path transform="scale(0.5)" d="M272 299l2 2m21-95l-1 2m31-73l0 2m-27 60l1 2m27-36l-2 2m-73 133l-2 0m9-43l-1 2m87-114l1 2m6-18l0 2m-71 197l1 2m-22 47l0 2" stroke="#4a7636" stroke-width="3" stroke-linecap="round" fill="none"/>
<path transform="scale(0.5)" d="M249 412l1 2m60-226l-1 2m-57 223l2 1m67-216l-1 2m7-32l0 2m-15 57l-1 2m-1-38l-1 2m21-75l2 1m-47 111l-2 2m-40 100l0 2m73-133l-2 2m-54 57l-1 2m63-108l1 2m-55 195l0 2m9-12l-2 1m-12 21l1 2m67-262l-2 2" stroke="#7a9a50" stroke-width="3" stroke-linecap="round" fill="none"/>
<path transform="scale(0.5)" d="M356 100l-1 2m-91 265l0 2m41-138l-1 2m58-132l-2 1m-111 283l-1 2m7 31l1 2m91-315l0 2m-51 89l-1 2m26-23l0 2m-31 101l-2 0m-30 44l-1 2m1 99l0 2m27-137l-1 2m18-50l-1 2m-26 77l-1 2m16-6l-2 2m-10 20l-1 2" stroke="#587e40" stroke-width="3" stroke-linecap="round" fill="none"/>
<path transform="scale(0.5)" d="M256 274l-2 2m104-198l0 2m-70 201l-2 2m-31 13l0 2m33-42l0 2m59-115l2 2m2-31l0 2m2 5l1 2m-61 104l-2 1m-4 90l1 2m6-11l0 2m-27 44l-1 2m15-27l-2 0m3-5l1 2m-20 40l-1 2m7-17l2 0m54-238l2 2" stroke="#40682f" stroke-width="3" stroke-linecap="round" fill="none"/>
<path transform="scale(0.5)" d="M275 307l0 2m70-178l0 2m-29 55l-1 2m-29 13l0 2m-10 62l-2 0m-16 170l-1 2m3-146l-1 2m39 7l2 2m-31 45l2 0m58-241l0 2" stroke="#909050" stroke-width="3" stroke-linecap="round" fill="none"/>
<path transform="scale(0.5)" d="M325 190l-2 2m-70 161l-2 1m59-175l0 2m-26 106l-1 2m51-143l-1 2m-42 114l-1 2m41-109l-2 1m21-12l-2 1m-82 130l-1 2m20 44l0 2m-11 22l-2 0m-5 15l-2 0" stroke="#52803c" stroke-width="3" stroke-linecap="round" fill="none"/>
<path d="M128.5 205.4l0-1.4-.1-1.7-.1-1.5-.1-1.6 0-1.5.1-1.6 0-1.5 0-1.6.1-1.5 0-1.5.1-1.6 0-1.5.1-1.6 0-1.5.1-1.6.1-1.5.1-1.6.3-1.5.3-1.5.3-1.6.3-1.5.3-1.6.3-1.5.3-1.6.3-1.5.3-1.5.3-1.6.4-1.5.4-1.6.4-1.5.5-1.6.5-1.5.5-1.6.4-1.5.5-1.5.5-1.6.5-1.5.5-1.6.5-1.5.5-1.6.5-1.5.5-1.6.6-1.5.6-1.5.5-1.6.6-1.5.6-1.6.5-1.5.6-1.6.6-1.5.5-1.5.6-1.6.6-1.5.7-1.6.6-1.5.7-1.6.7-1.5.7-1.6.7-1.5.7-1.5.7-1.6.7-1.5.6-1.6.8-1.5.9-1.6 1.2-1.5 1.5-1.6 1.5-1.5 1.5-1.5 1.5-1.6 1.3-1.5 1.2-1.6.7-1.5.5-1.6.6-1.5.6-1.5.6-1.6.6-1.5.6-1.6.6-1.5.5-1.6.5-1.5.5-1.6.5-1.5.5-1.5.5-1.6.6-1.5.5-1.6.5-1.5.5-1.6.4-1.5.5-1.5.4-1.6.5-1.5.4-1.6.5-1.5.4-1.6.5-1.5.5-1.6.6-1.5.6-1.5.7-1.6.6-1.5.6-1.6.7-1.7.5-1.4M131.8 192.9l0-1.4.2-1.7.1-1.6.1-1.6.1-1.6.1-1.6.1-1.5.1-1.6.2-1.6.4-1.6.3-1.6.4-1.6.3-1.5.4-1.6.3-1.6.4-1.6.3-1.6.4-1.6.3-1.5.3-1.6.5-1.6.5-1.6.5-1.6.4-1.5.5-1.6.5-1.6.5-1.6.4-1.6.5-1.6.5-1.5.5-1.6.4-1.6.6-1.6.5-1.6.6-1.6.5-1.5.5-1.6.6-1.6.5-1.6.5-1.6.5-1.5.6-1.6.5-1.6.5-1.6.6-1.6.7-1.6.6-1.5.6-1.6.6-1.6.6-1.6.6-1.6.6-1.6.6-1.5.6-1.6.7-1.6.9-1.6 1.3-1.6 1.5-1.5 1.4-1.6 1.4-1.6 1.5-1.6 1.2-1.6.6-1.6.4-1.5.5-1.6.6-1.6.5-1.6.5-1.6.5-1.6.5-1.5.6-1.8.4-1.4M131.9 188.3l.1-1.4.1-1.7.1-1.5.1-1.6.2-1.5.1-1.6.4-1.5.4-1.6.3-1.5.4-1.6.4-1.5.3-1.6.4-1.5.3-1.6.4-1.5.4-1.6.3-1.5.4-1.6.5-1.5.5-1.6.5-1.5.5-1.6.5-1.5.5-1.6.5-1.5.5-1.6.5-1.5.5-1.5.5-1.6.5-1.5.6-1.6.5-1.5.6-1.6.5-1.5.6-1.6.6-1.5.5-1.6.6-1.5.5-1.6.6-1.5.5-1.6.6-1.5.6-1.6.6-1.5.7-1.6.6-1.5.6-1.6.6-1.5.7-1.6.6-1.5.6-1.5.6-1.6.6-1.5.8-1.6 1.3-1.5 1.5-1.6 1.3-1.5 1.4-1.6 1.5-1.5 1.3-1.6.7-1.5.5-1.6.5-1.5.5-1.6.5-1.5.5-1.6.5-1.5.5-1.6.5-1.5.5-1.6.5-1.5.4-1.6.5-1.5.4-1.6.5-1.5.4-1.5.5-1.6.5-1.5.4-1.6.4-1.5.4-1.6.5-1.5.4-1.6.4-1.5.4-1.6.5-1.5.4-1.6.4-1.5.5-1.6.6-1.5.5-1.6.5-1.5.6-1.8.4-1.3M127.1 203.7l-.1-1.3-.2-1.8-.2-1.5-.1-1.6-.1-1.5 0-1.6-.1-1.6 0-1.5 0-1.6-.1-1.5 0-1.6 0-1.5-.1-1.6 0-1.5 0-1.6 0-1.5.2-1.6.2-1.5.2-1.6.2-1.5.2-1.6.2-1.6.2-1.5.2-1.6.2-1.5.2-1.6.2-1.5.2-1.6.4-1.5.4-1.6.4-1.5.4-1.6.4-1.5.4-1.6.4-1.6.3-1.5.4-1.6.4-1.5.4-1.6.4-1.5.5-1.6.4-1.5.5-1.6.4-1.5.5-1.6.4-1.5.5-1.6.4-1.5.5-1.6.5-1.6.4-1.5.5-1.6.7-1.5.7-1.6.6-1.5.7-1.6.6-1.5.7-1.6.7-1.5.6-1.6.6-1.5.7-1.6 1-1.7.8-1.4M128.4 194.4l.1-1.3 0-1.8.1-1.5.1-1.6 0-1.5.1-1.6 0-1.5.1-1.6.1-1.5.1-1.6.3-1.5.3-1.6.4-1.6.3-1.5.3-1.6.3-1.5.3-1.6.3-1.5.4-1.6.3-1.5.3-1.6.4-1.5.5-1.6.5-1.5.5-1.6.5-1.6.5-1.5.5-1.6.5-1.5.5-1.6.5-1.5.5-1.6.5-1.5.5-1.6.6-1.5.6-1.6.6-1.5.5-1.6.6-1.6.6-1.5.6-1.6.5-1.5.6-1.6.6-1.5.6-1.6.6-1.5.7-1.6.7-1.5.7-1.6.7-1.5.7-1.6.7-1.6.7-1.5.7-1.6.7-1.5.7-1.6.8-1.5.9-1.6 1.4-1.5 1.6-1.6 1.5-1.5 1.5-1.6 1.6-1.5 1.4-1.6.7-1.6.4-1.5.6-1.6.6-1.5.6-1.6.6-1.5.6-1.6.6-1.5.6-1.6.5-1.5.5-1.6.5-1.5.5-1.6.6-1.6.5-1.5.5-1.6.5-1.5.5-1.6.5-1.5.4-1.6.5-1.5.4-1.6.5-1.5.5-1.6.4-1.5.5-1.6.5-1.6.5-1.5.6-1.6.6-1.5.6-1.6.6-1.5.6-1.6.5-1.5.7-1.8.5-1.3M129.1 203.8l0-1.3-.1-1.7 0-1.6 0-1.5 0-1.5.1-1.5.1-1.6 0-1.5.1-1.5.1-1.6.1-1.5 0-1.5.1-1.5.1-1.6 0-1.5.1-1.5.3-1.5.4-1.6.3-1.5.3-1.5.3-1.6.3-1.5.4-1.5.3-1.5.3-1.6.3-1.5.4-1.5.3-1.5.5-1.6.5-1.5.4-1.5.5-1.6.5-1.5.5-1.5.5-1.5.5-1.6.5-1.5.5-1.5.5-1.6.5-1.5.5-1.5.6-1.5.5-1.6.6-1.5.5-1.5.6-1.5.6-1.6.5-1.5.6-1.5.5-1.6.6-1.5.6-1.5.6-1.5.7-1.6.6-1.5.7-1.5.7-1.5.6-1.6.7-1.5.7-1.5.6-1.6.7-1.5.6-1.5.7-1.5 1.1-1.6 1.3-1.5 1.4-1.5 1.5-1.6 1.4-1.5 1.4-1.5 1.2-1.5 1-1.6.7-1.5.5-1.5.5-1.5.6-1.6.6-1.5.5-1.5.6-1.6.6-1.5.5-1.5.5-1.5.5-1.6.4-1.5.5-1.5.5-1.5.5-1.6.5-1.5.5-1.5.5-1.6.4-1.5.5-1.5.4-1.5.4-1.6.5-1.5.4-1.5.5-1.5.4-1.6.5-1.5.6-1.5.5-1.6.6-1.5.6-1.5.5-1.5.6-1.6.5-1.5.6-1.5.5-1.6.4-1.5.3-1.5.3-1.7.3-1.4M129.1 210.9l-.1-1.4 0-1.7-.1-1.5 0-1.6-.1-1.5 0-1.6 0-1.5-.1-1.6.1-1.5.1-1.5 0-1.6.1-1.5.1-1.6.1-1.5.1-1.6 0-1.5.1-1.6.1-1.5.1-1.5.1-1.6.3-1.5.3-1.6.3-1.5.4-1.6.4-1.5.3-1.5.4-1.6.3-1.5.4-1.6.3-1.5.4-1.6.4-1.5.4-1.5.5-1.6.6-1.5.5-1.6.5-1.5.6-1.6.5-1.5.5-1.6.6-1.5.5-1.5.5-1.6.6-1.5.5-1.6.7-1.5.6-1.6.6-1.5.6-1.5.6-1.6.6-1.5.6-1.6.6-1.5.7-1.6.6-1.5.6-1.6.7-1.5.7-1.5.7-1.6.7-1.5.7-1.6.7-1.5.7-1.6.7-1.5.7-1.5.7-1.6.7-1.5.8-1.6 1.1-1.5 1.3-1.6 1.4-1.5 1.5-1.6 1.5-1.5 1.4-1.5 1.2-1.6.9-1.5.7-1.8.4-1.3M128.3 218.2l-.3-1.3-.3-1.8-.3-1.5-.3-1.5-.2-1.6-.3-1.5-.3-1.5-.2-1.6-.3-1.5-.2-1.6-.3-1.5-.3-1.5-.2-1.6-.1-1.5-.1-1.5-.1-1.6 0-1.5-.1-1.5-.1-1.6 0-1.5-.1-1.5-.1-1.6-.1-1.5 0-1.5 0-1.6 0-1.5.2-1.6.1-1.5.2-1.5.2-1.6.1-1.5.2-1.5.2-1.6.2-1.5.1-1.5.2-1.6.2-1.5.3-1.5.3-1.6.4-1.5.4-1.5.4-1.6.4-1.5.3-1.6.4-1.5.4-1.5.4-1.6.4-1.5.3-1.5.5-1.6.4-1.5.5-1.5.4-1.6.5-1.5.4-1.5.5-1.6.5-1.5.4-1.5.5-1.6.4-1.5.5-1.6.5-1.5.7-1.5.7-1.6.7-1.5.7-1.5.7-1.6.7-1.5.7-1.5.7-1.6.6-1.5.8-1.5.7-1.6.9-1.5 1.5-1.5 1.8-1.6 1.6-1.5 1.7-1.6 1.7-1.5 1.5-1.5 1-1.6.7-1.5.8-1.5.7-1.6.8-1.5.7-1.5.8-1.6.7-1.5.7-1.5.7-1.6.5-1.5.5-1.5.5-1.6.6-1.5.5-1.6.5-1.5.5-1.5.5-1.6.5-1.5.4-1.5.5-1.6.4-1.5.4-1.5.4-1.6.5-1.5.4-1.5.5-1.6.6-1.5 1-1.5 1.2-1.6 1.1-1.5 1.1-1.6 1.1-1.5 1.1-1.5 1.1-1.6 1.1-1.5 1-1.7.8-1.4M130.1 215.2l.1-1.3.1-1.8.1-1.6.1-1.5 0-1.6.1-1.5 0-1.6.1-1.5.1-1.6.1-1.6.1-1.5.1-1.6.1-1.5.2-1.6.1-1.6.1-1.5.2-1.6.1-1.5.2-1.6.1-1.5.1-1.6.2-1.6.3-1.5.3-1.6.4-1.5.4-1.6.4-1.6.4-1.5.4-1.6.5-1.5.4-1.6.4-1.5.4-1.6.4-1.6.5-1.5.5-1.6.6-1.5.6-1.6.5-1.6.6-1.5.6-1.6.5-1.5.6-1.6.6-1.5.5-1.6.6-1.6.6-1.5.6-1.6.6-1.5.7-1.6.6-1.5.7-1.6.6-1.6.6-1.5.7-1.6.6-1.5.7-1.6.6-1.6.7-1.5.6-1.6.7-1.5.7-1.6.7-1.5.7-1.6.7-1.6.6-1.5.7-1.6.6-1.5.6-1.6.7-1.6 1-1.5 1.2-1.6 1.3-1.5 1.4-1.6 1.4-1.5 1.3-1.6 1-1.6.9-1.5.5-1.6.4-1.5.5-1.6.5-1.6.4-1.5.5-1.6.5-1.5.4-1.6.5-1.5.5-1.6.4-1.6.5-1.5.5-1.6.4-1.5.5-1.6.5-1.6.4-1.5.5-1.6.4-1.5.5-1.6.5-1.7.4-1.4M129.1 139.6l.3-1.4.5-1.7.4-1.6.4-1.5.4-1.6.5-1.5.4-1.6.4-1.6.4-1.5.4-1.6.6-1.5.7-1.6.7-1.5.7-1.6.7-1.5.7-1.6.6-1.6.7-1.5.7-1.6.7-1.5.6-1.6.8-1.5 1.4-1.6 1.7-1.6 1.7-1.5 1.7-1.6 1.8-1.5 1.6-1.6 1.3-1.5.9-1.6.9-1.5.7-1.6.8-1.6.8-1.5.8-1.6.8-1.5.8-1.6.7-1.5.5-1.6.5-1.6.6-1.5.5-1.6.5-1.5.5-1.6.6-1.5.5-1.6.5-1.5.4-1.6.4-1.6.4-1.5.4-1.6.4-1.5.4-1.6.5-1.5.4-1.6.7-1.5 1.2-1.6 1.4-1.6 1.3-1.5 1.3-1.6 1.2-1.5 1.3-1.6 1.5-1.7 1.1-1.4M146.1 130.2l.4-1.4.6-1.8.4-1.6.5-1.5.5-1.6.6-1.6.6-1.6.5-1.5.6-1.6.6-1.6.5-1.6.6-1.5.6-1.6.5-1.6.5-1.5.7-1.6 1.2-1.6 1.5-1.6 1.4-1.5 1.4-1.6 1.4-1.6 1.3-1.6.8-1.5.5-1.6.5-1.6.5-1.6.5-1.5.5-1.6.6-1.6.5-1.5.5-1.6.4-1.6.5-1.6.4-1.5.4-1.6.5-1.6.4-1.6.4-1.5.5-1.6.4-1.6.4-1.6.3-1.5.4-1.6.4-1.6.4-1.7.3-1.4M128 215.7l-.2-1.3-.3-1.8-.3-1.5-.2-1.5-.3-1.6-.2-1.5-.3-1.6-.3-1.5-.2-1.6-.3-1.5-.2-1.6-.2-1.5-.1-1.5-.1-1.6-.1-1.5-.1-1.6-.1-1.5-.1-1.6-.1-1.5-.1-1.6-.1-1.5-.1-1.5-.1-1.6 0-1.5.1-1.6.2-1.5.1-1.6.1-1.5.1-1.5.2-1.6.1-1.5.1-1.6.1-1.5.1-1.6.2-1.5.2-1.6.3-1.5.3-1.5.3-1.6.3-1.5.4-1.6.3-1.5.3-1.6.3-1.5.3-1.6.4-1.5.3-1.5.3-1.6.4-1.5.4-1.6.4-1.5.4-1.6.3-1.5.4-1.6.4-1.5.4-1.5.4-1.6.4-1.5.4-1.6.4-1.5.6-1.6.7-1.5.6-1.5.7-1.6.6-1.5.7-1.6.6-1.5.6-1.6.7-1.5.6-1.6.7-1.5.9-1.5 1.6-1.6 1.7-1.5 1.7-1.6 1.6-1.5 1.8-1.6 1.5-1.5 1-1.6.7-1.5.8-1.5.8-1.6.7-1.5.8-1.6.8-1.5.7-1.6.7-1.5.7-1.6.5-1.5.5-1.5.5-1.6.5-1.5.5-1.6.5-1.5.5-1.6.5-1.5.4-1.5.4-1.6.4-1.5.3-1.6.4-1.5.4-1.6.3-1.5.5-1.6.5-1.5.8-1.5 1.2-1.6 1.4-1.5 1.4-1.6 1.3-1.5 1.3-1.6 1.4-1.5 1.4-1.6 1.3-1.5 1.1-1.5 1.1-1.6 1.2-1.7.9-1.4M125.6 207.6l-.3-1.4-.4-1.7-.3-1.6-.3-1.5-.4-1.5-.3-1.6-.1-1.5-.1-1.5-.2-1.6-.1-1.5-.1-1.5-.1-1.6-.1-1.5-.1-1.6-.2-1.5-.1-1.5-.1-1.6-.1-1.5.1-1.5.1-1.6.1-1.5.1-1.5.1-1.6.1-1.5.2-1.5.1-1.6.1-1.5.1-1.6.1-1.5.2-1.5.2-1.6.3-1.5.4-1.5.3-1.6.4-1.5.3-1.5.3-1.6.4-1.5.3-1.6.4-1.5.3-1.5.3-1.6.4-1.5.4-1.5.4-1.6.5-1.5.4-1.5.4-1.6.4-1.5.4-1.6.5-1.5.4-1.5.4-1.6.4-1.5.6-1.5.6-1.6.7-1.5.7-1.5.7-1.6.7-1.5.7-1.6.7-1.5.7-1.5.6-1.6.7-1.5.7-1.5 1.2-1.6 1.5-1.5 1.6-1.5 1.8-1.6 1.7-1.5 1.7-1.5 1.4-1.6 1.3-1.5.9-1.6.7-1.5.8-1.5.8-1.6.8-1.5.8-1.5.8-1.6.8-1.5.6-1.5.5-1.6.6-1.5.5-1.6.5-1.5.6-1.5.5-1.6.5-1.5.5-1.5.5-1.6.5-1.5.4-1.5.4-1.6.4-1.5.4-1.6.4-1.5.4-1.5.4-1.6.9-1.5 1.2-1.5 1.2-1.6 1.3-1.5 1.5-1.7 1.1-1.4M125.5 202.6l-.2-1.4-.3-1.7-.2-1.6-.2-1.5-.1-1.6-.1-1.5-.1-1.6-.1-1.5-.1-1.6-.1-1.5-.1-1.6-.1-1.5-.2-1.6 0-1.5-.1-1.6.1-1.5.1-1.6.1-1.5.2-1.6.1-1.5.1-1.6.1-1.5.1-1.6.1-1.5.1-1.6.2-1.5.2-1.6.2-1.5.3-1.6.4-1.5.3-1.6.3-1.5.3-1.6.3-1.5.4-1.6.3-1.5.3-1.6.3-1.5.4-1.6.3-1.5.4-1.6.4-1.5.4-1.6.4-1.5.4-1.6.4-1.5.3-1.6.4-1.5.4-1.6.4-1.5.5-1.6.5-1.5.7-1.6.6-1.5.7-1.6.6-1.5.7-1.6.6-1.5.7-1.6.7-1.5.5-1.6.8-1.5 1-1.6 1.3-1.5 1.7-1.6 1.7-1.5 1.7-1.6 1.6-1.5 1.6-1.6 1.2-1.5.9-1.6.7-1.5.8-1.6.8-1.5.7-1.6.8-1.5.8-1.6.8-1.5.6-1.6.5-1.5.5-1.6.5-1.5.5-1.6.5-1.5.5-1.6.6-1.5.4-1.6.5-1.5.4-1.6.4-1.5.4-1.6.3-1.5.4-1.6.4-1.5.3-1.6.5-1.5 1-1.6 1.2-1.5 1.3-1.6 1.4-1.5 1.3-1.6 1.4-1.5 1.3-1.6 1.4-1.5 1.3-1.6 1.3-1.5 1.2-1.8.9-1.3M148.6 105.6l1.2-1.4 1.6-1.8 1.6-1.5 1.6-1.6 1.6-1.6 1.5-1.6 1.1-1.6.9-1.5.7-1.6.7-1.6.6-1.6.7-1.5.7-1.6.6-1.6.7-1.6.6-1.5.5-1.6.5-1.6.5-1.6.5-1.5.5-1.6.5-1.6.6-1.6.5-1.6.4-1.5.4-1.6.5-1.6.4-1.6.4-1.5.4-1.6.5-1.6.4-1.6.5-1.5.7-1.6.9-1.6.9-1.6 1-1.5.9-1.6.9-1.6.9-1.6 1-1.5.9-1.6.8-1.8.6-1.4M128.8 217.9l-.1-1.3-.2-1.8-.2-1.5-.1-1.5-.2-1.6-.1-1.5-.2-1.6-.2-1.5-.1-1.6-.2-1.5-.2-1.5-.1-1.6-.1-1.5-.1-1.6 0-1.5 0-1.6 0-1.5-.1-1.5 0-1.6 0-1.5 0-1.6-.1-1.5 0-1.6 0-1.5.1-1.6.1-1.5.2-1.5.2-1.6.3-1.5.2-1.6.2-1.5.2-1.6.2-1.5.2-1.5.2-1.6.3-1.5.3-1.6.3-1.5.4-1.6.4-1.5.4-1.5.4-1.6.4-1.5.4-1.6.4-1.5.4-1.6.4-1.5.4-1.5.5-1.6.4-1.5.5-1.6.4-1.5.5-1.6.5-1.5.5-1.5.4-1.6.5-1.5.5-1.6.4-1.5.5-1.6.6-1.5.5-1.5.7-1.6.7-1.5.6-1.6.7-1.5.7-1.6.6-1.5.7-1.5.6-1.6.7-1.5.7-1.6.9-1.5 1.1-1.6 1.5-1.5 1.6-1.5 1.6-1.6 1.6-1.5 1.5-1.6 1.3-1.5.8-1.6.6-1.5.6-1.5.7-1.6.7-1.5.7-1.6.7-1.5.6-1.6.6-1.5.6-1.5.5-1.6.5-1.5.5-1.6.5-1.5.5-1.6.5-1.5.5-1.5.5-1.6.4-1.5.4-1.6.4-1.5.4-1.6.4-1.5.4-1.5.4-1.6.5-1.5.6-1.6.8-1.5 1-1.6 1-1.5.9-1.5 1-1.6 1-1.5.9-1.6 1.1-1.5.9-1.6.7-1.5.7-1.5.8-1.8.6-1.3M130 135.6l.4-1.4.5-1.7.4-1.6.4-1.6.4-1.6.5-1.6.4-1.5.6-1.6.6-1.6.8-1.6.7-1.6.7-1.5.7-1.6.7-1.6.7-1.6.7-1.6.7-1.5.7-1.6.9-1.6 1.2-1.6 1.6-1.6 1.9-1.5 1.7-1.6 1.7-1.6 1.8-1.6 1.4-1.6 1-1.5.7-1.6.8-1.6.8-1.6.8-1.6.8-1.5.8-1.6.8-1.6.7-1.6.6-1.6.5-1.5.6-1.6.5-1.6.5-1.6.6-1.6.5-1.5.6-1.8.5-1.4M127.5 213.9l-.2-1.4-.3-1.7-.3-1.5-.2-1.6-.3-1.5-.2-1.5-.3-1.6-.2-1.5-.3-1.5-.2-1.6-.2-1.5 0-1.5-.1-1.6-.1-1.5 0-1.5-.1-1.6-.1-1.5 0-1.5-.1-1.6 0-1.5-.1-1.5-.1-1.6.1-1.5.2-1.5.1-1.6.2-1.5.2-1.5.2-1.6.2-1.5.1-1.6.2-1.5.2-1.5.2-1.6.2-1.5.3-1.5.3-1.6.4-1.5.4-1.5.4-1.6.4-1.5.3-1.5.4-1.6.4-1.5.4-1.5.4-1.6.4-1.5.4-1.5.5-1.6.4-1.5.5-1.5.5-1.6.4-1.5.5-1.5.5-1.6.4-1.5.5-1.5.5-1.6.4-1.5.6-1.6.6-1.5.7-1.5.7-1.6.7-1.5.7-1.5.7-1.6.7-1.5.7-1.5.7-1.6.6-1.5.8-1.5 1.1-1.6 1.3-1.5 1.5-1.5 1.7-1.6 1.7-1.5 1.6-1.5 1.5-1.6 1.3-1.5.8-1.5.7-1.6.7-1.5.7-1.5.8-1.6.7-1.5.7-1.5.8-1.6.6-1.5.5-1.6.6-1.5.5-1.5.5-1.6.5-1.5.6-1.5.5-1.6.5-1.5.5-1.5.4-1.6.5-1.5.4-1.5.4-1.6.5-1.5.4-1.5.4-1.6.4-1.5.8-1.5.8-1.6 1.1-1.5 1.1-1.5 1-1.6 1.1-1.5 1-1.5 1.1-1.6 1.1-1.5 1-1.5.8-1.6.7-1.5.8-1.7.7-1.4" fill="none" stroke="#4e7e3c" stroke-width="1.3" stroke-linecap="round" opacity="0.9"/>
<path transform="scale(0.5)" d="M259 413l0-2m-3-16l1-2m0-25l-1-2m12-51l0-2m4-13l1-2m20-61l2-1m3 0l0-2m33-56l-1-2m8-11l2-1m5-27l0-2m4-8l1-2m1-18l2 0m4-2l0-2m-92 251l1-2m21-72l0-2m5-14l0-2m3-3l-1-2m4-5l0-2m-2-1l2-1m-34 130l1-2m6-42l1-2m5-19l0-2m3-8l0-2m1-2l2-1m1-7l1-2m26-68l1-2m22-34l1-1m5-19l1-2m5-17l0-2m2-1l1-2m3-16l1-2m8-32l0-2m-109 294l0-2m3-15l-1-2m1-34l1-2m2-14l1-2m2-8l1-2m2-4l0-2m1-7l2-1m8-44l2-1m-19 135l0-2m-1-2l-1-2m3-17l0-2m5-18l1-2m10-42l0-2m5-8l-1-2m15-34l1-2m5-14l1-2m2-3l0-2m45-88l1-2m-91 264l0-2m1-10l0-2m2-19l-1-2m-1 0l0-2m16-60l0-2m12-34l2-1m1-5l1-2m0-4l0-2m11-26l1-1m24-29l1-2m2-10l2-1m5-12l0-2m4-11l0-2m5-15l1-2m0-4l0-2m21-60l1-2m-112 347l0-2m1-4l-1-2m1-1l0-2m0-17l0-2m3-32l0-2m9-33l1-1m3-16l2-1m20-51l2-1m-1-2l1-2m16-34l1-2m20-21l0-2m-80 242l0-2m-5-78l-1-2m6-33l0-2m1-5l0-2m19-62l0-2m18-33l2 1m3-5l1-1m8-7l1-2m12-21l1-1m13-41l0-2m28-52l1-2m-100 329l-1-2m1-1l-1-2m1-34l1-2m12-36l0-2m5-19l2-1m-2-3l2-1m5-6l0-2m7-19l0-2m6-12l-1-2m6-16l2 0m2-8l1-2m6-13l1-2m29-62l0-2m3-7l-1-2m-89 137l0-2m0-6l0-2m4-13l1-2m30-54l0-2m21-26l1-2m-21 75l1-2m6-22l1-2m38-79l0-2m2-9l1-2m-95 270l0-2m0-9l-1-2m13-118l0-2m9-21l1-2m9-27l1-2m29-39l1-2m13-30l-1-2m7-20l1-2m32-49l2-1m-118 310l-1-2m0-55l2-1m6-37l1-2m-1-2l1-1m8-27l1-2m12-22l0-2m-1 0l0-2m3-4l1-2m0-2l1-1m6-8l2-1m17-13l0-2m3-9l1-2m4-6l1-2m19-55l-1-2m-84 283l0-2m-3-30l2-1m4-49l1-2m2-19l1-2m5-20l-1-2m14-36l-1-2m2-6l0-2m1-2l1-2m23-24l0-2m10-16l1-2m3-7l1-2m5-10l0-2m5-6l0-2m-1-1l0-2m5-15l0-2m20-39l1-2m8-10l2-1m-47 124l1-2m10-23l1-2m5-6l-2-1m2-3l1-2m9-34l-1-2m3-2l0-2m2-5l1-1m-92 243l-1-2m4-16l-1-1m2 0l1-2m6-33l0-2m6-21l1-2m5-19l1-1m11-32l2-1m17-27l2-1m5-6l1-2m31-81l1-1m11-21l1-2m6-9l-1-2m3-3l0-2m-108 204l1-2m2-6l-1-2m36-63l2-1m10-11l-1-2m16-33l1-2m-74 253l-1-2m-1-7l1-2m1-64l2-1m1-17l0-2m13-34l-1-2m1-2l2-1m3-13l1-2m6-24l2-1m22-31l1-2m12-18l1-2m24-69l1-2m2 0l0-2m14-23l2-1m0 0l1-2" stroke="#6a9048" stroke-width="2.8" stroke-linecap="round" fill="none"/>
<path transform="scale(0.5)" d="M258 411l0-2m-2-38l-1-2m23-88l1-2m5-17l1-2m1 1l0-2m1-9l0-2m4-3l1-2m2 2l-1-2m46-88l1-2m14-43l1-1m0-5l0-2m4-7l-1-2m-93 285l0-2m0-18l0-2m7-17l0-2m50-138l-1-2m-49 133l-1-2m22-66l1-2m21-51l1-2m40-97l0-2m1-1l1-2m1-10l-2-1m-106 295l1-2m1-12l-1-1m1-35l1-1m3-17l2-1m-1-10l2-1m6-26l0-2m3-10l0-2m4-8l1-1m-16 101l0-2m11-44l0-2m0-4l0-2m12-32l1-2m20-52l1-1m28-35l1-2m-1-6l2-1m1-2l1-2m8-26l2-1m6-21l0-2m1-2l0-2m5-16l0-2m0-1l0-2m9-18l0-2m-90 220l1-1m0-2l2 0m58-128l0-2m2-1l-1-2m17-50l2-1m2-14l0-2m-101 317l0-2m7-74l2-1m5-22l0-2m29-70l0-2m6-17l1-2m-60 170l-1-2m1 0l0-2m2-16l0-2m0-10l-1-2m2-37l1-2m15-50l1-2m21-53l2-1m39-68l1-1m9-40l2-1m19-19l1-2m-95 278l-1-2m47-128l1-2m2-3l2-1m31-74l1-2m4-9l0-2m-63 69l1-2m16-14l1-2m20-60l2-1m13-28l1-1m13-16l2 0m-67 177l2-1m0-4l0-2m24-51l0-2m13-21l0-2m2-3l-1-2m-83 179l-1-2m3-29l0-2m8-27l0-2m1-11l1-2m4-12l1-2m1-7l-1-2m6-11l0-2m-1-1l-1-2m40-52l1-2m15-43l0-2m3-7l1-2m4-19l2-1m1-5l2 0m12-15l1-2m10-12l2-1m-122 282l0-2m5-8l-1-2m5-38l0-2m1-10l1-2m13-44l-1-2m17-29l-1-2m4-2l0-2m16-13l1-2m4-8l0-2m17-36l0-2m-74 258l-1-2m-1-14l-1-2m1-14l-2-1m1-27l1-2m15-80l1-2m6-13l-2-1m54-95l1-2m21-54l2-1m9-11l2-1m5-9l2-1m-57 132l2-1m3-5l1-2m5-5l1-2m-1-3l1-2m18-48l1-1m16-42l1-1m-2 1l1-1m-96 333l-1-2m-4-41l0-2m-1-8l1-2m1-21l1-1m0-14l2-1m23-92l2-1m36-56l-1-2m13-24l1-1m2-9l-1-2m31-70l1-2m-81 139l1-2m5-1l1-2m4-5l0-2m-42 206l-2-1m6-97l1-2m26-81l2-1m2-6l1-2m4-4l0-2m5-7l1-2m9-5l1-2m2-1l1-2m5-5l-1-2m8-18l1-2m10-37l1-2m12-23l0-2m8-12l0-2m11-12l-1-2" stroke="#a8a060" stroke-width="2.8" stroke-linecap="round" fill="none"/>
<path transform="scale(0.5)" d="M256 406l1-2m0-25l0-2m3-29l0-2m10-40l-1-2m3 0l1-2m4-13l0-2m0-2l1-2m5-10l-1-2m-2-2l2-1m15-37l1-2m16-25l1-2m15-17l0-2m-65 190l1-2m-2-5l1-2m7-34l2-1m0-15l2-1m0-2l0-2m3-1l0-2m5-13l1-1m31-84l1-2m19-38l0-2m3-4l0-2m0-1l0-2m-73 218l-1-2m0-1l-1-2m4-23l-2-1m6-24l2 0m1-5l0-2m14-44l1-2m3-3l-1-2m5-12l1-2m3-3l-1-1m0-2l2-1m-1-4l2-1m22-41l1-2m-73 214l1-2m-1-12l-1-1m12-102l0-2m6-9l-1-2m-3-4l-1-2m4-2l2 0m13-40l1-2m3-16l2-1m-32 178l1-2m-1-4l0-2m13-74l-1-2m3-10l2 0m-1-2l0-2m8-18l1-2m7-20l0-2m6-10l0-2m40-72l1-2m-81 225l0-2m3-9l0-2m0 1l1-2m4-33l1-2m0-7l1-2m2-14l1-1m2-3l1-2m2-8l-1-2m14-35l1-2m4-9l1-2m40-77l0-2m8-16l0-2m4-13l1-2m7-25l1-2m-96 304l-1-2m1-16l0-2m1-41l0-2m53-142l0-2m13-15l2 0m1-4l0-2m1-1l2-1m-80 213l0-2m-3-36l-1-1m4-42l1-2m7-24l-1-2m6-17l1-2m0 0l0-2m9-22l1-2m1-11l1-2m22-36l2 0m14-21l1-1m2-3l-1-2m16-30l0-2m5-26l1-1m8-15l1-2m-84 289l-1-2m23-88l-1-2m3-10l2-1m-1-5l1-2m12-22l0-2m3-1l1-2m36-74l-1-2m-68 59l2 0m48-86l2-1m-73 263l-1-2m-3-22l1-1m-2-5l0-2m1-3l0-2m2-17l-1-2m1-21l0-2m1-14l2-1m16-67l1-1m33-53l2-1m26-58l0-2m28-51l1-2m-110 335l0-2m-4-36l-1-2m-1-16l-1-1m2-24l1-2m5-29l1-2m0-5l1-2m39-91l2-1m14-12l1-2m5-16l1-2m32-75l2-1m-100 295l0-2m1-52l-1-2m1-14l0-2m2-6l0-2m5-21l0-2m1-6l2-1m1-7l1-2m14-39l0-2m5-13l2-1m-2-2l2-1m14-10l0-2m33-73l1-2m2-9l0-2m1-1l1-2m8-14l2 0m-30 99l1-2m1-1l0-2m5-10l0-2m7-16l1-2m6-16l1-1m1-4l1-2m-82 290l0-2m-1-19l-1-2m-3-27l2-1m-2-8l1-2m-1-3l1-2m18-94l2-1m16-37l-1-2m9-14l2-1m-1-2l2-1m1-2l1-2m14-15l1-2m4-7l1-1m18-51l1-2m1-14l1-2m4-12l1-2m3-1l0-2m3 0l1-2m0-1l1-2m-85 148l1-2m32-43l0-2m3 0l0-2m23-53l1-2m-82 279l0-2m0-21l1-2m-4-20l2-1m2-20l0-2m-1-4l1-2m2-1l-1-2m8-39l0-2m14-48l2-1m2-5l1-2m1-2l2-1m18-33l1-2m18-19l1-2m9-27l0-2m7-13l0-2m3-13l0-2m4-5l-1-2" stroke="#52803c" stroke-width="2.8" stroke-linecap="round" fill="none"/>
<path transform="scale(0.5)" d="M257 402l0-2m12-91l0-2m3-11l0-2m8-15l2-1m5-25l1-2m14-27l1-2m-2-1l1-2m7-9l0-2m1-2l2-1m10-8l0-2m4-8l1-2m12-23l0-2m-1-4l0-2m13-40l2-1m5-13l1-2m-2-4l2-1m2-1l-1-2m1-2l1-2m-89 234l1-2m60-146l1-2m-72 199l1-2m1-6l2-1m-1-5l1-2m13-52l2-1m3-16l2-1m10-29l-1-2m11-31l1-2m3-3l1-2m1-3l1-2m13-12l2-1m8-24l0-2m3 0l2 0m-2-3l1-2m1-3l-1-2m2-4l-1-2m12-31l-1-2m10-32l1-2m-111 284l-2-1m1-11l1-2m2-29l2 0m0-4l-1-2m8 18l-2-1m3-13l2 0m0-11l0-2m60-122l1-2m-1 1l0-2m14-32l1-2m7-23l1-2m1-5l1-2m13-38l1-2m-105 291l-1-2m-1-2l0-2m-2-2l2-1m6-36l1-2m1-2l0-2m2 0l0-2m8-32l2-1m0-6l0-2m4-8l0-2m15-32l0-2m16-28l0-2m19-21l-1-2m3-10l1-2m18-56l0-2m10-28l1-2m-106 285l1-2m-1 0l1-2m0-2l0-2m8-36l-1-2m4-6l0-2m1-7l0-2m2 0l1-2m5-17l1-2m1-3l0-2m0 0l0-2m4-4l1-2m13-35l2-1m2-10l2-1m10-16l1-1m-62 217l-1-2m-3-23l-2 0m0-15l0-2m0-8l0-2m-2-22l0-2m20-85l2 0m7-22l0-2m8-21l1-2m40-58l1-2m15-48l2-1m7-13l2-1m-92 338l-1-1m6-49l0-2m2-28l0-2m6-23l-1-2m5-6l1-1m17-49l0-2m14-30l1-2m5-13l1-1m4-5l0-2m0 1l0-2m37-81l0-2m-100 152l-1-2m7-14l1-2m3-18l2-1m8-20l0-2m2-3l0-2m27-28l1-2m14-29l1-2m-27 93l2-1m1-3l1-2m6-19l1-2m29-57l2-1m8-36l1-2m2-1l1-2m-97 283l1-2m-2-10l-1-2m-3 0l1-2m3-45l-1-2m7-56l-1-2m34-78l1-2m2-3l2 0m26-50l2-1m37-73l1-2m1-2l1-2m-117 310l0-2m-3-7l-1-2m3-25l2-1m-2-5l0-2m1-8l0-2m9-40l1-2m3-16l1-2m5-13l1-2m51-86l2-1m-1-1l0-2m3-8l1-2m8-21l1-2m18-39l1-1m-100 314l-1-2m0-8l0-2m-1-23l1-2m-2-10l1-2m2-1l-1-2m-1-13l0-2m1-1l1-2m-2-8l2-1m0-5l2-1m10-54l1-2m0 0l-1-2m90-174l2-1m-26 83l2-1m7-26l-1-2m7-11l1-1m3-22l1-2m1-3l2-1m-92 337l0-2m-5-42l0-2m-3-5l2-1m1-15l-1-2m15-80l1-1m4-16l1-2m2-14l1-2m10-21l0-2m5-13l1-2m47-93l1-2m8-18l1-2m18-33l0-2m-109 206l2-1m4-22l1-2m7-14l0-2m4-4l2-1m1-3l1-2m0-3l1-1m28-38l2-1m7-11l1-1m1-5l0-2m-67 261l0-2m-5-61l0-2m3-20l-1-2m1-7l2-1m0-6l1-2m21-77l1-2m6-9l1-2m10-18l1-2m25-33l1-2m6-13l-1-2m30-66l1-2" stroke="#7a9a50" stroke-width="2.8" stroke-linecap="round" fill="none"/>
<path transform="scale(0.5)" d="M256 399l-1-2m5-52l1-2m0-6l2-1m46-127l1-2m8-8l2 0m3-4l2-1m6-13l0-2m4-10l-1-2m9-28l-1-2m6-12l1-2m1-3l1-2m-66 163l1-2m12-34l1-2m10-31l2-1m22-37l0-2m4-7l2-1m-72 188l1-1m-1-15l2-1m4-9l0-2m16-47l1-2m1-6l1-2m28-61l-1-2m2-1l1-1m10-13l0-2m16-49l1-2m0 1l2 0m-99 258l0-2m7-27l0-2m27-100l0-2m32-61l1-2m9-13l1-2m25-69l0-2m1-2l0-2m-92 231l1-2m0-4l0-2m13-47l1-2m7-14l0-2m7-19l1-2m30-52l2-1m33-92l1-2m5-16l1-2m1-4l2-1m-104 256l1-2m44-114l0-2m12-11l1-2m12-20l2 0m-87 224l0-2m-4-44l1-2m14-77l1-2m16-45l1-2m3-5l1-2m7-12l1-2m19-19l2-1m10-22l2-1m-3-3l2-1m6-14l0-2m-59 195l2-1m3-9l0-2m19-58l1-2m8-18l2-1m25-53l1-1m4-3l0-2m6-7l0-2m1-5l1-2m-2-1l1-2m17-46l0-2m-73 81l2 0m2-2l1-2m12-11l1-2m3-7l1-2m19-40l2-1m-3-1l2 0m4-14l2-1m0-7l0-2m1-5l2 0m8-16l0-2m-35 118l2-1m1-4l2-1m3-1l2-1m3-7l2-1m3-3l1-2m1-5l0-2m4-14l0-2m3-8l0-2m6-17l1-2m6-17l1-2m-95 305l0-2m-7-43l1-1m2-57l1-2m11-47l0-2m12-36l1-2m41-67l2-1m0 1l0-2m9-29l2-1m0-17l1-2m2 1l0-2m9-13l-1-2m8-7l2-1m5-7l2-1m-110 323l1-2m0-2l0-2m-2-71l0-2m4-17l0-2m40-101l2-1m6-8l2-1m25-53l0-2m0 1l2 0m4-19l0-2m2-8l0-2m-78 189l-2-1m3-7l1-2m30-83l2 0m2-4l2 0m21-37l2 0m2-7l1-2m11-33l0-2m2-4l1-2m12-23l2-1m-52 120l0-2m25-26l2-1m3-10l0-2m14-37l0-2m3-19l2 0m17-36l1-2m-109 272l0-2m12-50l2-1m8-32l2-1m4-25l2 0m22-33l0-2m20-32l1-1m-1-3l1-2m9-18l1-2m-1-3l-1-2m7-25l1-1m-72 128l1-1m30-45l1-1m14-21l2-1m8-25l-1-2m-77 253l2-1m4-90l1-2m5-17l0-2m15-41l2-1m8-21l0-2m0-3l2-1m37-56l1-2m12-26l-1-2m15-33l1-2m13-25l1-2" stroke="#a09858" stroke-width="2.8" stroke-linecap="round" fill="none"/>
<path transform="scale(0.5)" d="M255 391l0-2m2-3l-1-2m0-14l-1-2m1-5l1-2m1-8l-1-2m8-21l0-2m9-33l1-2m0-2l1-2m30-73l0-2m-2-1l1-2m30-46l1-2m4-15l1-2m-71 186l1-2m2-2l1-2m3-8l-1-2m12-41l0-2m3-3l-1-2m15-35l0-2m-1 0l2-1m0-6l1-2m0-2l-2-1m3-1l0-2m4-4l1-2m14-15l0-2m-60 152l2 0m11-36l-1-2m10-30l1-1m15-44l0-2m45-100l2-1m3-21l2-1m-104 279l1-2m-2-4l0-2m3-40l0-2m0-3l0-2m5-24l0-2m14-51l1-2m1-5l2-1m1-3l1-2m10-22l0-2m1-5l1-2m-33 170l-1-2m3-28l-2-1m3-17l2-1m2-13l1-2m8-30l1-2m10-16l-1-2m3-11l1-2m11-23l1-1m7-16l1-2m10-15l2-1m20-38l0-2m3-14l1-2m19-58l1-1m-107 328l0-2m-2-1l0-2m1-2l0-2m0-15l0-2m5-32l0-2m10-42l1-2m32-82l1-2m-3-2l2-1m12-16l1-1m24-50l1-2m7-22l1-2m8-26l0-2m-101 308l0-2m0-14l-2-1m3-13l-1-2m-1 1l1-2m29-97l-1-2m5-18l2-1m38-67l1-2m-76 248l-1-2m-3-13l0-2m-3-40l0-2m1-6l0-2m-2-10l-1-2m3-9l0-2m1-7l1-2m1-16l0-2m6-12l-1-2m7-33l2-1m29-64l1-2m13-11l2-1m21-55l0-2m-72 276l0-2m0-16l1-2m5-20l-1-2m54-159l1-1m1 0l1-2m6-1l1-2m9-14l0-2m1-2l1-2m6-20l2-1m-75 68l0-2m4-5l2-1m39-61l1-2m9-30l2-1m3-14l0-2m-27 105l1-2m18-22l1-1m12-34l1-2m-87 266l0-2m-5-59l-1-2m2-3l-1-2m1-7l0-2m0-11l-1-2m7-25l0-2m1-5l1-2m-3-2l1-2m4-15l2-1m7-29l1-2m6-15l1-2m6-17l2-1m12-13l2 0m3-4l1-2m10-20l1-2m13-28l-1-2m8-31l2-1m9-12l1-2m6-2l0-2m-102 318l0-2m-3-21l1-2m-1-17l-1-2m2-28l0-2m11-61l1-2m2-12l2-1m12-36l2-1m45-68l0-2m2-2l1-2m3-10l-1-2m-81 228l-1-2m3-16l0-2m5-39l0-2m5-14l0-2m11-43l1-2m-2-4l2-1m8-16l2-1m18-24l1-1m8-7l1-1m17-44l1-2m1-1l-1-1m33-57l-1-2m3-4l2-1m-6 15l2-1m3-7l2-1m-109 318l0-2m-2-44l-1-2m7-21l0-2m0-8l1-2m5-18l1-2m1-9l1-2m54-111l1-2m23-69l0-2m11-16l1-2m5-6l1-1m-85 145l1-1m10-16l2-1m8-8l0-2m21-35l0-2m-67 271l0-2m-2-9l0-2m-1-14l-1-1m0-25l-1-2m1-5l-1-2m1-22l0-2m9-42l0-2m5-18l0-2m9-28l0-2m38-57l1-2m1-1l0-2m22-50l1-2m17-41l1-2" stroke="#5e8a44" stroke-width="2.8" stroke-linecap="round" fill="none"/>
<path transform="scale(0.5)" d="M256 389l1-2m1-37l0-2m4-13l0-2m67-153l1-1m15-32l0-2m2-15l0-2m-83 254l1-2m5-43l1-2m10-41l0-2m42-96l1-2m9-14l0-2m2 1l0-2m-67 165l1-2m72-186l2 0m8-21l0-2m3-16l0-2m8-25l1-2m-110 317l0-2m0-43l0-2m-1-10l0-2m32-108l-1-2m-26 122l2 0m5-27l2-1m6-24l1-2m5-13l1-2m-1-5l2-1m25-66l0-2m8-6l2-1m-1-2l2 0m3-8l2 0m8-15l1-2m12-30l0-2m3-4l0-2m8-29l1-2m6-20l1-2m2 0l-1-2m-98 261l0-2m24-84l0-2m8-17l2-1m1-10l1-2m2-3l2-1m44-90l-1-1m4-14l1-2m2-14l2-1m10-31l2 0m0-7l0-2m-109 360l-1-2m11-96l-1-2m25-72l1-2m28-49l2-1m-69 225l-1-2m27-194l0-2m18-26l2-1m3-3l1-2m26-48l0-2m5-21l1-2m2-1l1-2m4-16l1-2m9-13l0-2m4 0l2 0m-2-2l2-1m-100 335l2-1m0-2l-1-2m4-26l-1-2m7-50l1-2m7-19l1-2m3-14l0-2m8-16l1-2m19-48l0-2m36-78l0-2m8-26l1-2m-97 154l1-2m-1-4l2 0m2-6l0-2m6-16l2-1m25-43l2-1m16-22l0-2m4-4l0-2m0-3l1-1m6-13l0-2m3-14l1-2m7-26l0-2m2-1l-1-2m4-6l2-1m12-10l0-2m-51 144l-1-2m37-77l-2-1m10-31l-1-2m-95 286l0-2m1-88l1-2m4-17l0-2m30-84l1-1m17-19l-1-2m2-2l1-1m12-23l0-2m0-1l0-2m4-4l0-2m6-22l-2-1m15-30l2 0m-99 299l-1-2m23-149l1-2m1-3l0-2m51-75l-1-2m12-38l0-2m5-12l1-2m2-3l1-2m5-2l2-1m-99 257l0-2m10-72l0-2m26-67l1-2m19-17l1-2m4-11l0-2m8-22l1-2m18-48l1-2m16-17l1-2m-55 127l-1-2m32-53l1-2m0 0l1-2m16-49l1-1m9-15l0-2m-104 333l0-2m0-5l0-2m23-156l1-2m24-47l1-2m15-16l1-1m11-26l-1-2m7-21l0-2m5-18l2-1m17-32l1-2m-67 120l2-1m15-21l1-2m9-20l0-2m5-10l0-2m2-7l1-1m-76 296l0-2m-5-49l-1-2m2 1l0-2m3-64l1-2m7-29l2-1m5-18l2-1m-1 0l1-2m70-148l1-2" stroke="#909050" stroke-width="2.8" stroke-linecap="round" fill="none"/>
<path transform="scale(0.5)" d="M255 382l0-2m1-23l2-1m0 1l0-2m5-25l0-2m40-112l0-2m23-23l1-1m6-18l2-1m13-37l-1-2m-83 256l0-2m2-17l0-2m0-1l0-2m0-17l2-1m1-1l1-2m4-21l2-1m16-58l1-2m10-24l0-2m1-8l2-1m24-36l1-2m-48 104l2 0m2-12l0-2m12-27l0-2m39-70l0-2m7-26l0-2m5-21l2-1m4-11l-1-2m-101 248l0-2m-3-6l1-2m2-8l0-2m13-56l0-2m10-32l1-2m1-12l1-1m9-14l1-1m-23 101l0-2m5-20l1-2m21-56l1-2m3-6l1-2m4-11l1-2m2-8l2-1m29-47l1-2m-42 82l0-2m2-2l0-2m9-22l0-2m2-3l1-2m1 0l2 0m33-64l0-2m12-39l1-2m6-24l1-1m-108 320l0-2m-2-2l1-1m0-13l0-2m0 0l1-2m4-28l-1-2m5-7l-1-2m13-42l0-2m0-1l1-2m1-2l-2-1m13-28l0-2m8-13l2-1m-44 192l-1-2m-5-20l-1-2m2-2l-1-1m-3-26l-2-1m3-40l1-2m0-5l1-2m5-22l1-2m3-18l-1-2m3-10l2-1m5-20l1-2m5-10l0-2m13-28l1-1m25-26l0-2m19-52l1-1m8-21l-1-2m7-12l1-2m-89 334l1-2m1-22l1-2m1-36l0-2m15-54l2-1m15-45l2-1m-2-2l1-2m5-4l0-2m43-88l1-2m10-32l1-2m-93 128l1-2m0-4l1-2m4-10l0-2m14-28l0-2m48-76l-1-2m16-39l1-2m1-1l2-1m2-1l1-2m-53 149l1-2m5-19l2-1m13-14l0-2m18-49l0-2m7-12l-1-2m-90 297l-1-2m-4-86l-2-1m5-30l-1-2m8-23l0-2m3-17l-1-2m2-7l2-1m12-32l0-2m5-13l2-1m20-22l1-1m3-5l1-2m8-20l0-2m-70 255l-2-1m-3-20l1-2m1-26l-2-1m3-46l0-2m11-34l0-2m1-13l1-2m5-13l1-2m44-70l2-1m20-47l2-1m-2-2l1-2m-82 282l1-2m-1-22l-2-1m-1-32l0-2m6-44l1-2m6-24l0-2m3-17l1-1m14-36l0-2m17-17l1-2m16-28l2-1m12-38l2-1m11-29l1-2m-33 98l2 0m36-90l0-2m-93 296l0-2m1-4l0-2m2-70l1-2m2-13l1-2m12-33l1-2m6-22l0-2m0-2l1-2m32-47l1-2m11-23l2-1m7-21l1-1m-69 104l-1-2m1 1l1-2m4-4l-1-2m49-76l1-2m-67 162l0-2m19-67l0-2m48-81l0-2m5-10l1-2m14-45l1-2m8-18l0-2m15-19l1-2m1-4l2-1" stroke="#587e40" stroke-width="2.8" stroke-linecap="round" fill="none"/>
<path transform="scale(0.5)" d="M257 376l1-2m24-100l-1-2m3-7l1-1m6-16l-1-1m6-12l1-2m1-8l2 0m44-82l1-1m17-59l2-1m-100 302l0-2m-1-21l0-2m17-59l0-2m17-41l0-2m4-12l0-2m-2-2l1-2m16-32l2-1m2-2l1-2m7-9l2-1m-1-5l0-2m-64 174l0-2m10-34l-1-2m10-25l0-2m2-7l-1-2m23-52l1-2m-1-4l0-2m4-10l2-1m15-19l0-2m4-9l2-1m0-2l0-2m7-27l0-2m16-45l1-2m0-1l0-2m-104 309l-1-2m-2-6l-1-2m1-28l1-2m-1-18l1-2m4-29l0-2m4-15l0-2m3-5l-1-2m8-27l2-1m1-7l0-2m9-23l1-2m-27 156l0-2m0-13l1-2m4-26l2-1m-3-1l0-2m20-68l-1-2m12-22l-2-1m6-9l1-2m27-41l1-2m9-19l1-2m11-32l-1-2m14-40l0-2m1-2l1-2m-104 303l0-2m4-38l0-2m4-13l0-2m4-22l-1-2m15-36l2-1m14-46l1-2m14-22l1-2m5-6l1-2m1 1l1-2m40-107l1-2m-102 265l0-2m0-6l0-2m10-31l0-2m19-48l1-2m25-52l0-2m9-8l1-2m-70 244l1-2m-7-99l0-2m2-9l-1-1m10-37l0-2m9-34l1-2m9-25l2-1m32-41l-1-2m9-19l1-1m0-2l2-1m1-5l-1-2m1 0l2-1m7-25l1-2m-79 300l2-1m0 0l1-2m0-24l2-1m0-2l0-2m1-15l-1-2m1-2l0-2m6-24l1-2m2-6l0-2m1-9l-1-2m6-19l2 0m9-22l1-2m19-43l-1-2m16-34l2-1m6-5l1-2m1-5l2-1m12-32l-1-2m11-36l-1-2m-93 130l2-1m3-9l0-2m13-23l1-2m15-15l0-2m12-15l0-2m0 4l1-2m12-30l0-2m-25 93l1-2m7-18l1-2m9-12l0-2m14-23l0-2m13-43l1-2m-93 282l1-2m0 1l-2-1m3-3l-2-1m-2-19l0-2m-2-27l0-2m11-85l2-1m19-56l0-2m12-14l1-1m60-118l1-1m-106 316l0-2m-6-27l1-2m2-7l0-2m3-39l0-2m13-50l1-2m3-7l0-2m6-16l0-2m25-38l1-1m38-91l2 0m5-7l0-2m-92 291l-1-2m-1-14l-2-1m4-51l1-2m16-65l1-2m-1-1l-1-2m21-42l0-2m23-24l0-2m4-6l0-2m17-51l0-2m3-12l1-2m4-6l2-1m-39 108l1-2m29-46l1-2m10-38l0-2m7-18l1-2m10-10l0-2m4-12l2-1m-109 360l0-2m-6-16l2-1m0-34l2-1m-5-18l1-1m1-15l2-1m3-12l1-1m-2-7l2-1m1-8l2 1m-1-1l1-2m5-27l2-1m11-40l2 0m1-5l1-2m27-40l0-2m11-16l0-2m14-36l0-2m4-14l-1-2m3-3l0-2m-82 150l1-2m3-3l1-2m-1-5l2-1m10-23l1-2m5-15l0-2m3-2l2 0m35-59l1-2m4-8l1-2m-74 283l0-2m-4-48l-1-2m-2-7l0-2m3 0l0-2m1-8l-1-2m2-28l-1-2m7-16l0-2m2-10l0-2m-1 0l1-2m4-11l1-1m24-60l0-2m15-16l2 0m15-28l1-2m6-19l1-2m4-3l-1-2m0 0l2 0m4-16l1-2m3-17l1-2m18-20l0-2" stroke="#40682f" stroke-width="2.8" stroke-linecap="round" fill="none"/>
<path transform="scale(0.5)" d="M261 343l-1-2m6-16l-1-2m2-3l0-2m-2 2l1-2m2-5l0-2m19-56l0-2m30-53l1-2m23-45l0-2m8-34l1-2m-83 237l0-2m1-9l-1-2m12-36l-1-2m2-2l1-1m2-9l1-2m-1-1l1-1m5-10l0-2m3-7l-1-2m21-54l2-1m16-22l0-2m-65 180l0-2m3-23l1-1m7-24l0-2m21-54l-1-2m6-16l1-2m3-3l-1-2m18-33l1-2m6-6l0-2m-58 74l1-2m11-36l1-2m3-5l1-2m5-8l-1-2m-35 156l0-2m2-13l2-1m26-87l0-2m0-1l0-2m21-47l2 0m26-44l0-2m4-12l2-1m6-22l1-2m4-21l1-2m-97 299l-1-2m2-45l1-2m12-44l0-2m5-17l1-2m4-10l0-2m45-87l1-2m1 0l1-2m3-9l0-2m8-15l0-2m1-9l1-2m6-16l1-2m0-5l2-1m10-30l2-1m-104 293l-2-1m5-40l1-2m2-11l0-2m11-30l1-2m7-19l0-2m5-7l-1-2m0-1l1-2m13-30l-2-1m3-1l-1-2m3 0l0-2m2-7l1-2m-56 197l0-2m-4-20l1-1m0 2l-1-2m2-64l-1-2m7-26l1-2m1-4l1-2m1-9l0-2m8-22l0-2m1-6l-1-2m16-28l1-2m28-40l1-2m24-64l0-2m10-20l2-1m10-11l1-2m-102 334l1-2m5-49l1-2m0-4l1-2m1-10l0-2m8-21l0-2m9-28l2-1m18-46l1-2m38-71l2-1m-3-5l-1-2m10-21l0-2m-1-2l1-1m-75 92l0-2m3-9l0-2m19-18l2-1m17-32l-1-2m5-8l1-2m9-31l0-2m8-16l1-1m-51 160l1-2m2-3l1-2m6-18l0-2m3-5l-1-2m25-41l1-2m2-8l1-2m5-13l1-2m1-8l0-2m-82 284l-1-2m-1-1l-1-2m-5-59l0-2m-2-3l0-2m2-26l0-2m1-7l0-2m2-3l-2-1m7-22l0-2m12-43l0-2m7-25l0-2m3-5l-1-1m20-24l2-1m15-25l1-2m14-44l1-2m5-17l2-1m-89 313l0-2m-3-19l1-2m-1-45l-1-2m4-24l0-2m2-11l0-2m0-9l1-2m4-8l1-2m15-55l1-2m1 0l-1-2m10-18l0-2m16-12l1-2m10-15l2-1m9-17l-1-2m10-23l1-2m12-36l1-1m-95 282l0-2m2-47l-1-2m1-17l0-2m16-64l1-2m4-7l0-2m30-41l1-1m14-28l1-2m7-26l2-1m-24 70l2-1m31-59l2-1m-81 291l0-2m-2-13l1-2m0-2l1-2m-3-26l0-2m10-82l-1-1m3-8l0-2m4-16l0-2m5-9l1-2m16-41l1-2m-1-2l-1-1m3-4l2 0m29-47l1-2m4-11l-1-2m8-22l1-1m-67 115l0-2m39-60l-1-2m5-7l0-2m-60 244l0-2m-3-22l0-2m-1-5l-1-2m0-31l2-1m16-82l2-1m2-13l1-2m24-47l0-2m33-47l-1-2m4-9l0-2" stroke="#4a7636" stroke-width="2.8" stroke-linecap="round" fill="none"/>
<path d="M195 200l-.1 2.1-.1 2.9-.1 3.4-.1 3.8-.2 3.9-.2 3.8-.1 3.5-.2 3.1-.2 2.9-.2 2.8-.2 2.7-.2 2.6-.2 2.6-.2 2.5-.2 2.4-.2 2.5-.2 2.5-.1 2.5-.2 2.3-.1 2.2-.2 1.9-.1 1.5 0 .6" fill="none" stroke="#80b050" stroke-width="1.5" stroke-linecap="round"/>
<path d="M206.6,39.6 206.2,42.4 205.8,45.2 204.7,48.0 203.6,50.8 202.6,53.6 202.2,56.4 201.9,59.2 201.7,62.0 201.7,64.8 201.7,67.6 201.7,70.4 201.7,73.2 201.7,76.0 201.8,78.8 201.9,81.7 202.1,84.5 202.2,87.3 202.4,90.1 202.5,92.9 202.5,95.7 202.5,98.5 202.5,101.3 202.4,104.1 202.4,106.9 202.5,109.7 202.5,112.5 202.5,115.3 202.6,118.1 202.6,120.9 202.6,123.7 202.6,126.5 202.5,129.3 202.5,132.1 202.4,134.9 202.2,137.7 201.8,140.5 201.5,143.3 201.1,146.1 200.8,148.9 200.5,151.7 200.2,154.5 199.9,157.3 199.7,160.1 199.4,162.9 199.1,165.8 198.9,168.6 198.7,171.4 198.5,174.2 198.2,177.0 198.0,179.8 197.8,182.6 197.5,185.4 197.3,188.2 197.0,191.0 196.8,193.8 196.5,196.6 196.3,199.4 196.1,202.2 195.9,205.0 194.6,205.0 194.6,202.2 194.6,199.4 194.6,196.6 194.6,193.8 194.6,191.0 194.7,188.2 194.7,185.4 194.7,182.6 194.8,179.8 194.9,177.0 195.0,174.2 195.0,171.4 195.1,168.6 195.2,165.8 195.3,162.9 195.4,160.1 195.4,157.3 195.5,154.5 195.6,151.7 195.9,148.9 196.2,146.1 196.5,143.3 196.7,140.5 197.0,137.7 197.3,134.9 197.4,132.1 197.6,129.3 197.7,126.5 197.8,123.7 197.8,120.9 197.7,118.1 197.6,115.3 197.5,112.5 197.4,109.7 197.3,106.9 197.3,104.1 197.4,101.3 197.4,98.5 197.4,95.7 197.5,92.9 197.4,90.1 197.4,87.3 197.3,84.5 197.2,81.7 197.1,78.8 197.0,76.0 197.0,73.2 197.0,70.4 197.0,67.6 197.0,64.8 197.0,62.0 197.3,59.2 197.7,56.4 198.2,53.6 199.7,50.8 201.5,48.0 203.2,45.2 204.7,42.4 206.2,39.6Z" fill="#6a6480" opacity="0.5"/>
<path d="M203 60l1.1 5.2 1.5 7.4 1.4 7.4 1.1 6.9.8 6.8.6 6.3 0 5.9-.3 5.4-.2 3.7M204 95l1.1 3.9 1.6 5.5 1.3 5.6.6 5.6.3 5.5.1 3.9M202 140l.5 2.7.7 3.7.8 3.6 1 3.1 1.2 2.9.8 2" fill="none" stroke="#6a6080" stroke-width="0.9" stroke-linecap="round" opacity="0.85"/>
<path transform="scale(0.5)" d="M406 240l0 2m-10 52l-1 2m3-16l1 2m11-27l0 2m-19-28l-2 1m14-74l2 2m-15 152l-1 2m1-114l0 2m15 83l-1 2m-2-163l-1 2m-4-17l-1 2m13 61l-1 2m-5 95l0 2m-7 50l1 2m-3-47l2 2m10 1l2 1m-7 51l0 2m-3-136l-2 1m-3-50l1 2m-1 49l1 2m8-71l-1 2m10 20l2 1m1 10l2 0m-8 33l2 0m0 3l2 1m0 7l2 2m4 26l-1 2m2 15l-2 0m-12 33l1 2" stroke="#7a7088" stroke-width="3" stroke-linecap="round" fill="none"/>
<path transform="scale(0.5)" d="M389 147l2 1m-1 158l2 1m16-140l0 2m-15 90l1 2m0-8l0 2m9-145l0 2m-8 169l-1 2m14-156l0 2m6 28l-2 2m5 17l0 2m0 48l2 1m-9-37l-2 1m7 34l2 2m-11 64l1 2" stroke="#6a6280" stroke-width="3" stroke-linecap="round" fill="none"/>
<path transform="scale(0.5)" d="M396 303l-2 2m3-97l-1 2m-7 117l-2 1m7-139l-2 2m10 96l0 2m-7-5l0 2m9-136l0 2m-6 132l1 2m-7-156l2 2m16 143l-2-1m-13-141l-2 2m4 2l-1 2m14-42l-2 1m-16 129l-2 2m12-133l-1 2m4 159l1 2m-6-50l0 2m11-58l2 1m6 37l-1 2m1 2l-2 1m1 10l1 2m-1 6l2 1m-7-5l-2 0m-8 70l2 1m2 14l1 2" stroke="#605878" stroke-width="3" stroke-linecap="round" fill="none"/>
<path transform="scale(0.5)" d="M393 147l1 2m1 94l-1 2m10 16l2 2m0-107l1 2m-16-4l0 2m8 129l0 2m-5-29l-1 2m4-99l-1 2m11 49l1 2m-8 99l0 2m2-29l0 2m4-28l-2 2m0-108l-1 2m-11 124l1 2m7 51l-1 2m7-176l1 2m-3 100l-1 2m-5-153l-1 2m-9 12l2 1m17 116l0 2m-2 27l1 2m1-152l-2 1m3 2l-1 2m3 6l-2 1m4 14l2 1m1 25l2 2m4 24l-2 2m0 2l-1 2m0 14l1 2m-2 1l-2 2m3 22l-2 1m-9 42l-2 0m5 19l1 2" stroke="#5a5470" stroke-width="3" stroke-linecap="round" fill="none"/>
<path transform="scale(0.5)" d="M399 236l0 2m-7 30l-2 2m6 15l0 2m1 69l0 2m-8-61l-2 1m10-40l-1 2m-6 126l2 2m10-239l0 2m-9 152l0 2m14-24l-1 2m-2-100l0 2m2-15l0 2m-9 57l1 2m-3 93l-2 2m5-218l0 2m-5 140l1 2m16-114l1 2m7 89l0 2" stroke="#8a7a62" stroke-width="3" stroke-linecap="round" fill="none"/>
<path transform="scale(0.5)" d="M402 261l-1 2m-5 19l2 2m1-166l0 2m-8 224l1 2m0-151l2-1m12-86l-1 2m-8 148l0 2m-6-121l0 2m10 157l1 2m6-27l-2 2m2-188l-2 0m1 125l-1 2m-11 143l-1 2m16-217l2 1m6 40l-1 2m-1 32l-2 1m4 11l-2 1m1 12l2 0m-11 58l-2 1" stroke="#9a8a6a" stroke-width="3" stroke-linecap="round" fill="none"/>
<path transform="scale(0.5)" d="M396 368l-2 1m-7-43l2 1m6 46l0 2m-1-8l-1 2m0-3l0 2m5-9l-1 2m-4-1l1 2m0-49l0 2" stroke="#80a848" stroke-width="3" stroke-linecap="round" fill="none"/>
<path transform="scale(0.5)" d="M406 161l-1 2m-3 28l-1 2m6-4l0 2m-20 109l1 2m11-15l-2 1m3-89l-1 2m-1 95l1 2m7-179l-1 2m3 65l0 2m-10 59l-1 2m-7 50l-1 2m11-2l0 2m13-217l-2 2m-21 44l1 2m-4 200l1 2m17-244l0 2m11 88l2 0m1 7l-2 1m1 33l-1 2m-9 81l2 1m3 11l2 0" stroke="#4a4460" stroke-width="3" stroke-linecap="round" fill="none"/>
<path transform="scale(0.5)" d="M391 350l1 2m-3 28l1 2m0-18l-1 2m0 19l-1 2m3 9l-1 2m10-86l2 1m-13-1l-2 2m3-3l1 2m20-2l1 2" stroke="#8ab050" stroke-width="3" stroke-linecap="round" fill="none"/>
<path transform="scale(0.5)" d="M401 315l-1 2m-13 23l0 2m4 51l1 2m5-81l0 2m-5 21l-1 2m1 5l0 2" stroke="#78a048" stroke-width="3" stroke-linecap="round" fill="none"/>
<path transform="scale(0.5)" d="M395 117l-1 2m4 100l-2 1m5-6l0 2m-4-65l0 2m-3 92l0 2m7 3l1 2m-7-30l1 2m9 61l0 2m1-115l0 2m3-89l0 2m1 47l0 2m4 29l2 1m-2 2l1 2m5 40l-2 1m-6-10l-1 2m5 10l-2 1m2 23l2 1" stroke="#504a66" stroke-width="3" stroke-linecap="round" fill="none"/>
<path transform="scale(0.5)" d="M399 351l0 2m-8 48l2 2m-1 4l0 2m-2-94l-1 2m4 28l2 2m-5 58l-1 2m12-82l1 2" stroke="#6a9040" stroke-width="3" stroke-linecap="round" fill="none"/>
<path d="M198.8 173.3l.2-1.4.1-1.7.2-1.6.1-1.5.2-1.6.2-1.6.2-1.5.2-1.6.1-1.6.2-1.5.2-1.6.2-1.5.2-1.6.2-1.6.2-1.5.2-1.6.3-1.6.2-1.5.2-1.6.2-1.5.2-1.6.3-1.6.2-1.5.2-1.6.1-1.6 0-1.5.1-1.6 0-1.5.1-1.6 0-1.6 0-1.5.1-1.6 0-1.5 0-1.6 0-1.6.1-1.5 0-1.6 0-1.6 0-1.5 0-1.6 0-1.5.1-1.6 0-1.6 0-1.5.1-1.6 0-1.6 0-1.5.1-1.6 0-1.5 0-1.6.1-1.6 0-1.5-.1-1.6-.1-1.5 0-1.6-.1-1.6-.1-1.5 0-1.6-.1-1.6-.1-1.5-.1-1.6 0-1.5 0-1.6 0-1.6.1-1.5 0-1.6 0-1.6 0-1.5.1-1.6 0-1.5 0-1.6.1-1.6.1-1.5.2-1.6.2-1.6.2-1.5.3-1.6.3-1.5.5-1.6.5-1.6.4-1.5.4-1.6 0-1.7-.2-1.4M199.8 174.3l.1-1.3.2-1.8.1-1.6.1-1.5.2-1.6.1-1.5.2-1.6.2-1.6.1-1.5.2-1.6.2-1.5.1-1.6.2-1.6.2-1.5.1-1.6.2-1.5.2-1.6.2-1.6.1-1.5.2-1.6.2-1.6.2-1.5.2-1.6.1-1.5.1-1.6.1-1.6 0-1.5-.1-1.6 0-1.5 0-1.6 0-1.6 0-1.5 0-1.6 0-1.5-.1-1.6 0-1.6 0-1.5-.1-1.6 0-1.6 0-1.5-.1-1.6 0-1.5 0-1.6 0-1.6 0-1.5-.1-1.6 0-1.5 0-1.6 0-1.6 0-1.5 0-1.6-.1-1.5 0-1.6-.1-1.6-.1-1.5-.1-1.6-.2-1.7 0-1.4M201.9 153.1l.2-1.4.2-1.8.2-1.6.2-1.6.2-1.6.2-1.6.2-1.6.2-1.6.3-1.6.2-1.6.1-1.6.1-1.6 0-1.6 0-1.6 0-1.7 0-1.6 0-1.6 0-1.6 0-1.6 0-1.6 0-1.6 0-1.6 0-1.6 0-1.6 0-1.6 0-1.6 0-1.6 0-1.6 0-1.6 0-1.6 0-1.6 0-1.6.1-1.6 0-1.6 0-1.7 0-1.6 0-1.6 0-1.6-.1-1.6-.1-1.6-.1-1.6-.1-1.6-.1-1.6-.1-1.6-.1-1.6-.1-1.6-.1-1.6 0-1.6 0-1.6 0-1.6 0-1.6 0-1.6 0-1.6 0-1.6 0-1.9 0-1.4M195.9 196.2l.1-1.4.1-1.7.1-1.6.1-1.5.1-1.6.1-1.5.1-1.6.1-1.5.1-1.6.1-1.5.1-1.5.1-1.6.1-1.5.1-1.6.1-1.5.1-1.6.1-1.5.1-1.6.1-1.5.1-1.6.2-1.5.1-1.6.1-1.5.1-1.6.2-1.5.1-1.6.1-1.5.2-1.6.1-1.5.2-1.6.1-1.5.2-1.6.2-1.5.2-1.6.2-1.5.2-1.5.2-1.6.2-1.5.1-1.6.1-1.5.1-1.6 0-1.5.1-1.6 0-1.5.1-1.6 0-1.5 0-1.6 0-1.5 0-1.6 0-1.5 0-1.6 0-1.5-.1-1.6 0-1.5 0-1.6 0-1.5-.1-1.6 0-1.5.1-1.6 0-1.5 0-1.5 0-1.6 0-1.5.1-1.6 0-1.5 0-1.6 0-1.5 0-1.6-.1-1.5-.1-1.6 0-1.5-.1-1.6-.1-1.5 0-1.6-.1-1.5-.1-1.6 0-1.5 0-1.6 0-1.5 0-1.6 0-1.5 0-1.6 0-1.5 0-1.5 0-1.6 0-1.5.1-1.6.1-1.5.1-1.6.3-1.5.1-1.6.3-1.5.5-1.6.7-1.5.7-1.6.7-1.5.6-1.6.6-1.5.4-1.8.2-1.3M197.4 167l.1-1.3.1-1.8.1-1.6.1-1.5.2-1.6.1-1.6.1-1.5.1-1.6.1-1.5.2-1.6.1-1.6.2-1.5.2-1.6.2-1.6.2-1.5.2-1.6.2-1.6.2-1.5.2-1.6.1-1.5.1-1.6.1-1.6 0-1.5.1-1.6 0-1.6.1-1.5 0-1.6.1-1.6 0-1.5 0-1.6-.1-1.5 0-1.6 0-1.6 0-1.5-.1-1.6 0-1.6 0-1.5 0-1.6 0-1.6 0-1.5 0-1.6.1-1.5 0-1.6 0-1.6 0-1.5 0-1.6.1-1.6 0-1.5-.1-1.6 0-1.6-.1-1.5-.1-1.6 0-1.5-.1-1.6 0-1.6-.1-1.5-.1-1.6 0-1.6 0-1.5 0-1.6 0-1.6 0-1.5 0-1.6 0-1.5 0-1.6 0-1.6.1-1.5 0-1.6.2-1.6.2-1.5.2-1.6.3-1.6.4-1.5.6-1.6.7-1.5.8-1.6.8-1.8.6-1.3M194.7 202.6l0-1.4 0-1.7 0-1.5 0-1.6 0-1.5.1-1.6 0-1.5 0-1.6.1-1.5 0-1.6 0-1.5 0-1.6.1-1.5 0-1.6 0-1.5.1-1.6 0-1.5.1-1.6 0-1.5 0-1.6.1-1.5 0-1.6.1-1.5 0-1.6.1-1.5 0-1.6.1-1.5 0-1.6.1-1.5 0-1.6.1-1.5 0-1.5.1-1.6.1-1.5.1-1.6.2-1.5.2-1.6.1-1.5.2-1.6.1-1.5.2-1.6.1-1.5.2-1.6.1-1.5.1-1.6 0-1.5.1-1.6.1-1.5 0-1.6.1-1.5 0-1.6.1-1.5-.1-1.6-.1-1.5 0-1.6-.1-1.5-.1-1.6 0-1.5-.1-1.5-.1-1.6 0-1.5 0-1.6 0-1.5 0-1.6 0-1.5 0-1.6 0-1.5.1-1.6 0-1.5 0-1.6 0-1.5 0-1.6-.1-1.5 0-1.6-.1-1.5 0-1.6-.1-1.5 0-1.6-.1-1.5 0-1.6-.1-1.5 0-1.6 0-1.5 0-1.6 0-1.5 0-1.6 0-1.5 0-1.5-.1-1.6 0-1.5.1-1.6.1-1.5.2-1.6.2-1.5.2-1.6.3-1.5.7-1.6.9-1.5 1.1-1.8.8-1.3M195.9 202.6l0-1.3.2-1.8.1-1.5.1-1.6.2-1.6.1-1.5.1-1.6.2-1.5.1-1.6.2-1.6.1-1.5.2-1.6.1-1.5.1-1.6.2-1.5.1-1.6.1-1.6.2-1.5.1-1.6.1-1.5.2-1.6.1-1.6.2-1.5.1-1.6.2-1.5.2-1.6.1-1.5.2-1.6.2-1.6.2-1.5.1-1.6.2-1.5.2-1.6.2-1.6.2-1.5.2-1.6.3-1.5.2-1.6.2-1.5.2-1.6.2-1.6.2-1.5.2-1.6.1-1.5.1-1.6 0-1.6.1-1.5 0-1.6 0-1.5.1-1.6 0-1.5 0-1.6.1-1.6 0-1.5 0-1.6 0-1.5 0-1.6 0-1.6 0-1.5 0-1.6.1-1.5 0-1.6 0-1.5 0-1.6.1-1.6 0-1.5 0-1.6.1-1.5 0-1.6 0-1.6 0-1.5 0-1.6-.1-1.5 0-1.6-.1-1.5-.1-1.6 0-1.6-.1-1.5-.1-1.6 0-1.5-.1-1.6 0-1.6 0-1.5.1-1.6 0-1.7 0-1.4M196.8 198.7l.2-1.4.1-1.8.2-1.5.2-1.6.2-1.5.1-1.6.2-1.5.2-1.6.1-1.5.2-1.6.2-1.6.1-1.5.1-1.6.2-1.5.1-1.6.2-1.5.1-1.6.1-1.5.2-1.6.1-1.5.2-1.6.1-1.6.2-1.5.2-1.6.1-1.5.2-1.6.2-1.5.2-1.6.1-1.5.2-1.6.2-1.6.2-1.5.2-1.6.2-1.5.2-1.6.1-1.5.2-1.6.2-1.5.2-1.6.2-1.6.1-1.5 0-1.6.1-1.5 0-1.6 0-1.5 0-1.6 0-1.5 0-1.6 0-1.6 0-1.5 0-1.6 0-1.5 0-1.6-.1-1.5 0-1.6 0-1.5 0-1.6 0-1.6 0-1.5 0-1.6 0-1.5 0-1.6 0-1.5 0-1.6 0-1.5 0-1.6 0-1.6 0-1.5 0-1.6-.1-1.5-.1-1.6-.1-1.5-.1-1.6-.1-1.5-.1-1.6-.1-1.6-.1-1.5-.1-1.6 0-1.5 0-1.6 0-1.5 0-1.6 0-1.5 0-1.6 0-1.6 0-1.5-.1-1.6.1-1.5.1-1.6.1-1.5.2-1.6.2-1.5.2-1.6.3-1.5.5-1.6.6-1.6.7-1.7.4-1.4M198.2 175.6l.1-1.4.1-1.8.1-1.5.1-1.6.1-1.6.1-1.5.1-1.6.2-1.6.1-1.5.1-1.6.2-1.6.1-1.5.1-1.6.1-1.6.2-1.6.1-1.5.2-1.6.2-1.6.1-1.5.2-1.6.2-1.6.2-1.5.1-1.6.2-1.6.2-1.6.1-1.5 0-1.6 0-1.6 0-1.5 0-1.6.1-1.6 0-1.5 0-1.6 0-1.6 0-1.5-.1-1.6 0-1.6-.1-1.6 0-1.5-.1-1.6 0-1.6 0-1.5-.1-1.6 0-1.6 0-1.5 0-1.6 0-1.6 0-1.5 0-1.6 0-1.6 0-1.8 0-1.3" fill="none" stroke="#4e4864" stroke-width="1.1" stroke-linecap="round" opacity="0.9"/>
<path transform="scale(0.5)" d="M397 347l1-2m2 1l0-2m3-28l0-2m-10 68l0-2m2-55l1-2m-5 84l-2-1m1-30l1-2m0-46l0-2m-1-3l1-2m2 80l-1-2m2-4l1-2m-2-22l1-2m1 19l-2-1m2-11l0-2m4-14l-1-2m1-9l-1-2m2-30l1-2m1-2l0-2m-3 6l1-2" stroke="#80a848" stroke-width="3" stroke-linecap="round" fill="none"/>
<path transform="scale(0.5)" d="M398 345l-1-2m3-9l0-2m0 11l0-2m1-18l-1-2m-5 55l-2-1m0-3l0-2m3-12l0-2m0-7l1-2m-9 48l2-1m-1-12l0-2m1 1l-1-2m2-7l0-2m-3-14l2-1m-1 0l2-1m-2-5l0-2m3 2l-1-2m-1-31l0-2m1 89l0-2m1-16l0-2m2-17l1-2m2-4l-1-2m1-15l-1-2m-3 55l1-2m1-12l0-2" stroke="#78a048" stroke-width="3" stroke-linecap="round" fill="none"/>
<path transform="scale(0.5)" d="M399 340l-1-2m10-83l1-2m0-14l0-2m0-4l-1-2m1-112l0-2m4-30l1-2m-7 198l0-2m-1-7l2-2m-1-100l0-2m-3 133l1-2m0-1l0-2m2-5l1-2m-1-12l1-2m2-64l0-2m-4-71l-1-2m-11 224l-1-2m4-50l2-1m1-17l-1-2m2-2l0-2m3-31l-1-2m-2-38l0-2m0-6l2-2m0-23l0-2m0-4l0-2m-2 93l1-2m0-62l2-1m-2-15l0-2m-5 94l-1-2m2-91l-1-2m-2-9l0-2m1-36l-1-2m-2-11l0-2m1 0l0-2m1 232l1-2m10-110l-1-2m1-14l1-2m1-9l-2-1m0-25l0-2m-13 213l0-2m13-118l1-2m1-41l-1-2m0-27l-1-2m-11 149l0-2m1-4l1-2m1-1l0-2m3-136l0-2" stroke="#8a7a62" stroke-width="3" stroke-linecap="round" fill="none"/>
<path transform="scale(0.5)" d="M398 338l1-2m5-47l0-2m3-10l1-2m-1-66l0-2m2-15l1-2m0-8l1-2m-12 154l1-2m4-30l1-2m0-3l0-2m3-16l1-2m0-5l1-2m-2-18l0-2m-2-11l1-2m1-3l-1-2m1-11l-1-2m0-5l-1-2m1-7l0-2m2 2l0-2m-1-7l0-2m-3-68l2-1m-10 195l1-2m-1-3l-1-2m5-24l1-2m0-6l-1-2m0-2l-1-2m5-29l-1-2m-2-23l0-2m0-22l1-2m1-86l-1-2m2-3l1-2m-2-1l2-1m-6 116l2-1m-1-15l2-1m-2-42l0-2m-2-33l1-2m-6 172l0-2m-1-19l1-2m1-9l-1-2m0-4l1-2m0-30l1-2m-2-16l2-1m-1-14l0-2m-2-16l1-2m1-57l1-2m4-11l1-2m1 1l0-2m-5 228l1-2m1-7l1-2m1-6l0-2m1-20l1-2m2-12l2-1m0-104l-1-2m-6 166l-2-2m6-26l0-2m2-11l0-2m0-20l-1-2m4 0l-1-2m1-18l-1-2m0-30l-1-2m0-35l1-2m-2-30l1-2m-2-28l1-2m-7 191l2-1m0-15l-1-2m4-20l-1-2m0-32l0-2m-2-3l1-2m0-5l1-2m0-29l1-2" stroke="#5a5470" stroke-width="3" stroke-linecap="round" fill="none"/>
<path transform="scale(0.5)" d="M400 332l-1-2m3-24l-1-2m4-11l0-2m-1-5l0-2m3-88l1-2m1-7l0-2m0-1l-2-2m2-37l-1-2m0-19l1-2m1-6l1-2m3-29l0-2m-6 172l-2-1m3-22l0-2m-2-2l0-2m0 43l0-2m1-9l2-1m0-18l-2-2m1-21l-1-2m0-28l1-2m-3-25l1-2m-2-2l0-2m1-20l2-1m-12 196l0-2m2 1l-1-2m3-56l2-1m0-44l0-2m0-116l1-2m7-9l1-2m-14 222l1-2m-1-12l1-2m3-37l-1-2m2-3l-1-2m1-20l0-2m-1-7l-1-2m3-2l-1-2m0-5l-1-2m1-66l2-1m-15 174l0-2m3-16l0-2m0-4l-1-2m5-50l0-2m0-5l-1-2m1-33l-1-2m1-32l-1-2m0-6l0-2m-2-1l0-2m2-34l1-2m5 178l1-2m2-19l1-2m2-37l1-2m-3-4l2-2m-1-9l1-2m-1-6l1-2m0-41l0-2m0-8l-1-2m0-4l1-2m-7 185l0-2m4-35l0-2m1-1l-1-2m3-10l0-2m0-21l-1-2m2-13l0-2m-2-4l1-2m0-29l0-2m-1-53l0-2m-5 155l0-2m2-43l0-2m0-37l1-2m-2-13l0-2m1-13l-1-2" stroke="#7a7088" stroke-width="3" stroke-linecap="round" fill="none"/>
<path transform="scale(0.5)" d="M400 325l0-2m9-105l0-2m-1-38l0-2m0-2l-1-2m3 2l-2-2m2-9l0-2m-3-5l-1-2m0-1l1-2m1-14l-1-2m1-2l-1-2m4-23l-1-2m1-7l1-2m2-5l1-2m-12 242l0-2m0-20l1-2m0 0l-1-2m0-16l1-2m2-39l-1-2m2-29l0-2m-2-21l1-2m1-9l0-2m-2-5l-1-2m3 97l0-2m1-6l-1-2m1-6l1-2m-1-5l1-2m-2-24l1-2m-1-13l1-2m1-36l0-2m-3-19l0-2m3 0l-1-2m-2-15l1-2m-6 144l1-2m1-5l-1-2m-1-6l2-1m0-53l0-2m-2-17l0-2m0-17l1-2m0-13l-1-2m0-1l0-2m1-11l1-2m-1-10l0-2m10-32l1-2m-22 246l2-1m3-21l0-2m3-21l0-2m2-24l1-2m1-70l0-2m-3-14l0-2m3-6l-1-2m-1-7l-2-2m2-8l-1-2m2-31l0-2m2-11l1-2m5-7l1-2m-21 243l2-1m-1-15l0-2m1-5l-1-2m6-73l-1-2m-3-79l-1-2m2 0l-2 0m1-6l1-2m1-9l-1-2m2 201l1-2m5-25l0-2m2-24l1-2m-1-4l1-2m0-14l-1-2m1-20l0-2m2-40l-1-2m2-9l-1-2m2-1l-1-2m-2-30l0-2m0-8l0-2m-7 191l1-2m8-48l-2-1m0-19l2-1m-2-1l1-2m2-2l1-2m-2-13l-1-2m0-5l2-1m-3-58l0-2m0 1l-1-2m0-19l-2-1m3-31l0-2m0-5l0-2m-9 220l0-2m1-7l1-2m2-15l1-2m2-48l0-2m-2-33l0-2m2-1l-2-1m0-14l2-2" stroke="#504a66" stroke-width="3" stroke-linecap="round" fill="none"/>
<path transform="scale(0.5)" d="M399 324l2-1m-1-2l-1-2m5-17l-2-1m5-20l0-2m0-21l2-1m-1-13l0-2m2-25l-1-2m1-14l0-2m-3-74l-1-2m5-11l-1-2m1-8l1-2m-4 164l1-2m-1-39l1-2m-4-10l0-2m2-1l-1-2m2-18l-2-1m-2 110l0-2m6-33l0-2m-2-12l1-2m0-7l-1-2m0-38l0-2m2-7l1-2m-4 0l1-2m3-4l-1-2m-1-7l0-2m-1-5l-2-1m-5 131l0-2m-1-48l1-2m1-11l0-2m1-1l-2-1m3-1l0-2m0-38l-1-2m-1-6l1-2m0-25l-1-2m-1-7l-1-2m2-15l-1-2m2-5l-1-2m13-34l0-2m-18 246l-1-2m-1-18l1-2m2-2l1-2m-2-11l1-2m2-19l1-2m1-15l0-2m0-2l-1-2m-1-3l-2-1m3 0l0-2m0-48l1-2m-3-38l2-1m-1-14l0-2m4-30l-1-2m0-1l2-1m3-4l0-2m-17 211l-1-2m3-31l0-2m1-6l-1-2m2-51l-1-2m2-102l2-1m0-4l2-1m-4 226l1-2m10-122l0-2m0-6l0-2m-1-53l0-2m4 83l-1-2m-4-25l0-2m2-16l1-2m-2-12l1-2m-3-5l-1-2m1-15l1-2m8-43l0-2m-12 221l-2-1m0-3l2-1m2-12l-1-2m-2-2l2-1m0-18l2-1m0-33l2-1m-3-43l-1-2" stroke="#6a6280" stroke-width="3" stroke-linecap="round" fill="none"/>
<path transform="scale(0.5)" d="M398 316l2-1m7-43l-1-2m1-3l0-2m1-14l0-2m0-4l-2-1m2-7l-2-1m2-7l0-2m0 0l1-2m-2-4l2-1m-2-7l1-2m0-5l1-2m-1-1l0-2m0-34l0-2m-1-3l0-2m1-8l1-2m-1-3l1-2m-3 118l1-2m2-1l1-2m-2-71l-1-2m1-23l0-2m-12 175l0-2m2-30l1-2m-2-2l2-1m2-36l0-2m1-50l0-2m-1-9l-1-2m2-29l0-2m1-4l0-2m-3-2l1-2m2-15l1-2m-2-3l0-2m10-44l0-2m-14 208l0-2m-1-3l0-2m5-12l0-2m0-3l0-2m-1-31l0-2m2-9l0-2m-2-20l0-2m0-35l-1-2m2-32l-1-2m-1-4l0-2m1-3l0-2m-2-3l2-2m-9 214l-2-1m5-48l-1-2m3-31l0-2m1 1l1-2m-3-21l-2 0m1-17l0-2m-3-41l1-2m9 141l-1-2m0-10l1-2m4-6l0-2m1-26l-1-2m-2-2l1-2m1-1l-1-2m2-19l0-2m-1-9l1-2m0-8l0-2m2-6l-1-2m-3-8l2-1m0-32l0-2m-1-10l-2-1m-3 180l1-2m0-4l1-2m1-24l1-2m2-10l1-2m1-76l0-2m-3-10l0-2m0-37l0-2m0-14l-1-2m3-12l0-2m-2-14l2-1m2 0l1-2m1-6l0-2m-15 245l1-2m6-63l0-2m0 0l-1-2m1-31l0-2" stroke="#4a4460" stroke-width="3" stroke-linecap="round" fill="none"/>
<path transform="scale(0.5)" d="M402 313l0-2m-3 38l0-2m3-8l-1-2m0-17l1-2m-11 75l0-2m1-4l1-2m-1-6l0-2m2-7l1-2m-2-13l1-2m3-1l-1-2m-1-15l2-1m-3-8l2-1m-1-7l1-2m-6 87l0-2m0-8l-1-2m-1-2l0-2m2-19l-1-2m0-22l0-2m-1-4l1-2m4 53l0-2m1-4l0-2m0-6l1-2m2-38l2 0m-3 35l-1-2m2-15l1-2m1-11l2-1m-2-16l0-2" stroke="#8ab050" stroke-width="3" stroke-linecap="round" fill="none"/>
<path transform="scale(0.5)" d="M402 309l1-2m-1-13l1-2m3-12l1-2m0-12l-2-1m2-125l1-2m2-34l0-2m-9 226l0-2m4-39l-1-2m3-10l0-2m-2-47l2-1m1-22l1-2m-2-48l0-2m-12 215l0-2m5-84l1-2m4-27l0-2m-1-12l-1-2m-1-118l-1-2m8-18l1-2m-15 226l-1-2m8-40l0-2m-2-65l-1-2m4-30l0-2m-1-14l-1-2m0-31l0-2m1-19l2-1m-16 277l1-2m2-44l1-2m3-71l-2-1m1-37l-1-2m1-8l0-2m1-71l1-2m-4 252l1-2m4-41l-1-2m0-3l0-2m6-47l1-2m1-6l2-1m2-115l1-2m-3-11l0-2m-10 224l-1-2m1-9l2-1m10-145l1-2m-2-8l0-2m-2-23l1-2m0-4l1-2m1-22l0-2m-2-23l0-2m0-10l0-2m4-25l2 0m-15 237l0-2m7-88l-1-2" stroke="#9a8a6a" stroke-width="3" stroke-linecap="round" fill="none"/>
<path transform="scale(0.5)" d="M404 299l-2-2m6-36l0-2m-2-129l-1-2m10-32l1-2m-10 209l0-2m-1-4l-1-2m3-21l1-2m-1-27l1-2m0-2l-1-2m-1-39l0-2m1-3l0-2m-1-15l0-2m-1-6l2-1m-4 138l-1-2m3-15l0-2m0-2l1-2m2-2l0-2m1-36l-2-1m2-10l-1-2m-1-2l1-2m-1-10l2-1m-1-38l0-2m0-38l-1-2m-8 181l-1-2m0-9l1-2m1-63l1-2m3-23l-1-2m0-20l-1-2m1-20l-1-2m-1-40l1-2m1-15l-1-2m-3 172l1-2m2-49l0-2m-1-33l1-2m1-11l-2-1m0-6l-1-2m1-36l-1-2m10-42l0-2m-17 206l1-2m0-11l-2-1m2 1l-1-2m2-26l1-2m0-15l0-2m-1-21l0-2m1-18l-1-2m-1-2l-1-2m2 0l1-2m-1-9l0-2m1-2l1-2m-4-35l0-2m0-9l0-2m2-10l-1-2m4-13l1-2m1 231l0-2m-1-15l0-2m7-46l-1-2m1-1l-1-2m2-16l-1-2m0-69l0-2m-5 161l-1-2m3-22l1-2m-1 0l-1-2m5-33l-1-2m2-47l0-2m-1-21l-1-2m2-16l1-2m-1-50l1-2m-3-5l-1-2m-6 210l0-2m2-41l1-2m1-3l0-2m0-1l-2-2m4-20l-1-2m0 1l-1-2m3-6l-1-2m-2-13l-1-2m1-29l0-2" stroke="#605878" stroke-width="3" stroke-linecap="round" fill="none"/>
<path transform="scale(0.5)" d="M399 322l1-2m-6 70l-1-2m3-44l-1-2m-1-1l0-2m2 0l1-2m-5 63l-1-2m0-34l1-2m-4 0l2-1m1 46l0-2m3-27l2-1m0-9l0-2m-1-7l1-2m3-17l0-2m1-18l1-2m-8 73l-1-2m6-22l-1-2m1 0l0-2m-2-5l2-1m1-10l0-2m0-4l1-2m-3 2l-1-2" stroke="#6a9040" stroke-width="3" stroke-linecap="round" fill="none"/>
<path d="M239.6 192l.4 1.9.4 2.5.6 3 .6 3.4.7 3.5.6 3.6.8 3.5.7 3.2.7 3.4.8 3.4.8 3.4.8 3.5.9 3.4.8 3.2.8 3.1.8 3 .9 3.1.9 3.1.8 2.9.8 2.6.7 2.3.6 1.9.2.7" fill="none" stroke="#90b858" stroke-width="1.5" stroke-linecap="round"/>
<path d="M257.0,35.8 257.0,38.5 257.0,41.2 256.9,43.9 256.9,46.6 256.8,49.3 256.8,52.0 256.9,54.7 256.9,57.4 256.7,60.1 256.4,62.8 256.1,65.5 255.1,68.2 254.1,70.9 253.0,73.6 252.0,76.3 250.9,79.0 249.8,81.7 248.8,84.4 247.9,87.1 246.9,89.8 245.9,92.5 244.9,95.2 244.1,97.9 243.7,100.6 243.3,103.3 242.9,106.0 242.5,108.7 242.1,111.4 241.8,114.1 241.6,116.7 241.4,119.4 241.2,122.1 241.0,124.8 240.8,127.5 240.4,130.2 239.9,132.9 239.4,135.6 238.9,138.3 238.6,141.0 238.7,143.7 238.9,146.4 239.0,149.1 239.1,151.8 239.3,154.5 239.3,157.2 239.3,159.9 239.3,162.6 239.3,165.3 239.3,168.0 239.3,170.7 239.5,173.4 239.8,176.1 240.0,178.8 240.3,181.5 240.6,184.2 240.9,186.9 240.9,189.6 240.9,192.3 240.8,195.0 238.8,195.0 238.2,192.3 237.6,189.6 237.1,186.9 236.4,184.2 235.7,181.5 235.1,178.8 234.4,176.1 233.8,173.4 233.2,170.7 232.9,168.0 232.7,165.3 232.4,162.6 232.1,159.9 231.8,157.2 231.7,154.5 231.9,151.8 232.1,149.1 232.2,146.4 232.4,143.7 232.5,141.0 232.8,138.3 233.1,135.6 233.4,132.9 233.7,130.2 234.0,127.5 234.4,124.8 234.7,122.1 235.1,119.4 235.4,116.7 235.8,114.1 236.1,111.4 236.6,108.7 237.0,106.0 237.4,103.3 237.8,100.6 238.2,97.9 238.8,95.2 239.5,92.5 240.1,89.8 240.8,87.1 241.5,84.4 242.1,81.7 243.2,79.0 244.2,76.3 245.3,73.6 246.3,70.9 247.4,68.2 248.4,65.5 249.7,62.8 251.0,60.1 252.0,57.4 252.4,54.7 252.8,52.0 253.3,49.3 254.0,46.6 254.6,43.9 255.3,41.2 256.0,38.5 256.7,35.8Z" fill="#3e3c40" opacity="0.65"/>
<path d="M250 70l-1.4-2.2-1.9-3.1-1.7-2.7-1.3-2.1-1-1.7-.7-1.2M255 60l1.4-.9 1.9-1.1 1.7-1 1.3-.5 1-.3.7-.2M232 140l-.8 2.2-1.2 3.1-1 2.7-.8 2.1-.7 1.7-.5 1.2M240 140l1.1-1.9 1.5-2.7 1.4-2.4 1.2-2 1.1-1.8.7-1.2" fill="none" stroke="#5a4a52" stroke-width="0.9" stroke-linecap="round" opacity="0.85"/>
<path transform="scale(0.5)" d="M467 345l0 2m7 20l1 2m7-175l1 2m5 22l1 2m-6-24l-2 2m27-55l1 2m-29 223l2 2m15-193l1 2m-32 103l-1 2m40-163l-1 2m-18 133l-1 2m13-105l-2 1m6-31l-2 0m0 48l-1 2m-5-45l-2 2" stroke="#46404a" stroke-width="3" stroke-linecap="round" fill="none"/>
<path transform="scale(0.5)" d="M504 131l-1 2m-22 167l1 2m0-88l2 1m-9-26l-1 2m32-80l-1 2m-18 104l0 2m18-68l-2 1m-3-28l-1 2m-13 114l2 1m30-110l0 2m-55 132l1 2m-1 5l-1 2m48-188l1 2m-35 100l1 2m4 44l1 2m-10-27l1 2m38-91l-2 0m-53 185l-1 2m32-40l-2 1m8-9l-2 2m4-5l-2 1" stroke="#4a4448" stroke-width="3" stroke-linecap="round" fill="none"/>
<path transform="scale(0.5)" d="M484 369l-2 1m-21-63l0 2m2-24l1 2m-2-9l-1 2m25-35l-1 2m-10-41l-1 2m-7 73l0 2m22-129l-2 1m4 43l-1 2m-26 130l1 2m14-15l1 2m14-171l0 2m-4 19l-1 2m-28 106l0 2m38-140l2 2m-12-21l-1 2m-6 158l-2 1" stroke="#3e3a40" stroke-width="3" stroke-linecap="round" fill="none"/>
<path transform="scale(0.5)" d="M483 343l-2 1m13-177l1 2m-8 79l-1 2m24-125l-1 2m-37 99l0 2m9-8l0 2m1 108l2 1m25-227l0 2m-31 260l-2 1m-14-79l0 2" stroke="#6a8a4a" stroke-width="3" stroke-linecap="round" fill="none"/>
<path transform="scale(0.5)" d="M480 272l1 2m21-163l0 2m-22 251l2 1m-12-137l1 2m22-31l-1 2m-8 88l-2 1m-3-98l-1 2m-2 23l-1 2m-6 28l-2 2m30-73l-1 2m-21 10l0 2m24-58l-2 2m-5 55l-2 1m-13 178l2 1m-6-107l0 2m-3 9l1 2m38-154l-1 2m-12 9l0 2m-11-20l-2 1m-1 160l2 1" stroke="#55504e" stroke-width="3" stroke-linecap="round" fill="none"/>
<path transform="scale(0.5)" d="M495 171l1 2m15-45l-1 2m-9 31l0 2m-20 128l0 2m11-88l-2 1m-8 114l1 2m-16 16l2 2" stroke="#4e6a3c" stroke-width="3" stroke-linecap="round" fill="none"/>
<path transform="scale(0.5)" d="M473 359l1 2m1 1l2 2m5 19l0 2m-5-54l1 2m36-192l0 2m-17-8l0 2" stroke="#5a7a44" stroke-width="3" stroke-linecap="round" fill="none"/>
<path transform="scale(0.5)" d="M485 265l-2 2m-14-30l-1 2m13 21l0 2m19-144l-2 2m5-2l1 2m-3 25l-1 2m-13 100l-2 1m-3-71l-2 2m-18 114l-1 2m29-134l-2-1m16-11l1 2m3 3l-2 1m-29 52l-1 2m6 44l0 2m-15 7l1 2m24-93l1 2m-23 157l0 2m2-43l-1 2m17-153l0 2m3-16l2 2m-30 157l0 2m-3 7l-1 2m26-23l-1 2" stroke="#34323a" stroke-width="3" stroke-linecap="round" fill="none"/>
<path transform="scale(0.5)" d="M475 178l1 2m-8 149l2 1m37-188l-1 2m10-23l-1 2m-35 243l-1 2m-10-17l2 2m-3-44l1 2m1 56l-1 2m-7-82l-2 2m55-172l-2 2" stroke="#5a6a48" stroke-width="3" stroke-linecap="round" fill="none"/>
<path transform="scale(0.5)" d="M473 339l1 2m-13-14l1 2m0-16l1 2m14-86l0 2m-6-16l0 2m26-79l0 2m-40 157l2 1m-1 3l-2 1m32-39l2 1" stroke="#7a8a5a" stroke-width="3" stroke-linecap="round" fill="none"/>
<path transform="scale(0.5)" d="M500 154l-1 2m7-29l0 2m7-7l-1 2m-18 12l-2 1m10-11l0 2m3 16l-2 0m-33 141l-1 2m32-164l-2 2m-12 112l-2 0m-1 12l0 2m-19 77l-1 2m-2-63l-1 2m42-144l0 2m-21 133l1 2m-13 21l0 2m9-98l-2 1m-10 75l-2 1m-1 15l0 2" stroke="#5a5450" stroke-width="3" stroke-linecap="round" fill="none"/>
<path transform="scale(0.5)" d="M514 93l-1 2m-1 9l1 2m-6 10l-2 1m-5-4l1 2m20-3l0 2" stroke="#7a4a48" stroke-width="3" stroke-linecap="round" fill="none"/>
<path transform="scale(0.5)" d="M505 117l-2 1m13-21l1 2m-7-14l-1 2m-23 30l2 1m30-4l1 2m6-4l2 1" stroke="#6a4444" stroke-width="3" stroke-linecap="round" fill="none"/>
<path d="M238.5 185l-.3-1.4-.3-1.8-.3-1.6-.3-1.5-.3-1.6-.3-1.6-.3-1.6-.3-1.6-.2-1.6-.1-1.5-.2-1.6-.1-1.6-.1-1.6-.1-1.6-.1-1.6-.1-1.5-.2-1.6-.1-1.6 0-1.6 0-1.6 0-1.5 0-1.6 0-1.6 0-1.6 0-1.6 0-1.6 0-1.5 0-1.6.2-1.6.2-1.6.2-1.6.2-1.6.2-1.5.2-1.6.2-1.6.2-1.6.2-1.6.1-1.5.2-1.6.1-1.6.2-1.6.1-1.6.2-1.6.1-1.5.2-1.6.2-1.6.2-1.6.2-1.6.2-1.6.3-1.5.2-1.6.2-1.6.2-1.6.3-1.6.2-1.5.3-1.6.4-1.6.4-1.6.5-1.6.4-1.6.4-1.5.4-1.6.5-1.8.4-1.4M240.5 168.7l.1-1.3 0-1.8 0-1.6 0-1.5 0-1.6.1-1.6 0-1.5 0-1.6-.1-1.5-.2-1.6-.1-1.6-.1-1.5-.2-1.6-.1-1.6-.1-1.5-.1-1.6-.2-1.6-.1-1.5.2-1.6.3-1.5.3-1.6.3-1.6.3-1.5.2-1.6.3-1.6.3-1.5.1-1.6.1-1.6.1-1.5 0-1.6.1-1.5.1-1.6.1-1.6.1-1.5.1-1.6.1-1.6.2-1.5.2-1.6.2-1.5.2-1.6.2-1.6.3-1.5.2-1.6.2-1.6.2-1.5.2-1.6.6-1.6.6-1.5.5-1.6.6-1.5.5-1.6.6-1.6.5-1.5.6-1.6.5-1.6.6-1.5.6-1.6.6-1.6.5-1.5.6-1.6.6-1.5.6-1.6.6-1.6.6-1.5.6-1.6.5-1.6.2-1.5.1-1.6.2-1.5.2-1.6 0-1.6 0-1.5 0-1.6 0-1.6 0-1.5 0-1.6 0-1.6 0-1.5.1-1.8 0-1.3M236.3 189.3l-.4-1.4-.5-1.7-.4-1.6-.5-1.6-.4-1.5-.4-1.6-.4-1.5-.4-1.6-.4-1.5-.4-1.6-.4-1.5-.3-1.6-.2-1.6-.2-1.5-.1-1.6-.2-1.5-.2-1.6-.1-1.5-.2-1.6-.2-1.5 0-1.6-.1-1.6.2-1.5.2-1.6.2-1.5.2-1.6.1-1.5.2-1.6.2-1.5.1-1.6.2-1.6.2-1.5.2-1.6.2-1.5.2-1.6.2-1.5.2-1.6.2-1.5.3-1.6.2-1.6.3-1.5.2-1.6.3-1.5.2-1.6.3-1.5.2-1.6.3-1.6.2-1.5.3-1.6.2-1.5.3-1.6.3-1.5.3-1.6.2-1.5.3-1.6.3-1.6.3-1.5.2-1.6.4-1.5.3-1.6.5-1.7.4-1.4M230.6 167.1l-.2-1.4-.3-1.7-.2-1.6-.2-1.5-.2-1.6-.2-1.5-.1-1.6 0-1.5.2-1.6.2-1.5.1-1.6.2-1.5.2-1.6.1-1.6.2-1.5.2-1.6.1-1.5.2-1.6.1-1.5.2-1.6.2-1.5.1-1.6.2-1.5.2-1.6.2-1.5.2-1.6.2-1.6.3-1.5.2-1.6.2-1.5.3-1.6.2-1.5.3-1.6.2-1.5.2-1.6.3-1.5.3-1.6.2-1.5.3-1.6.2-1.6.3-1.5.2-1.6.3-1.5.2-1.6.3-1.5.4-1.6.3-1.5.4-1.6.4-1.5.3-1.6.4-1.5.4-1.6.3-1.5.4-1.6.6-1.8.4-1.3M237.2 181.8l-.2-1.4-.3-1.7-.3-1.5-.3-1.6-.3-1.5-.3-1.6-.1-1.5-.1-1.5-.1-1.6-.1-1.5-.1-1.6 0-1.5-.1-1.5-.1-1.6-.1-1.5 0-1.6 0-1.5 0-1.6.1-1.5 0-1.5.1-1.6 0-1.5.1-1.6 0-1.5.1-1.5 0-1.6.2-1.5.2-1.6.2-1.5.3-1.6.2-1.5.3-1.5.2-1.6.3-1.5.2-1.6.2-1.5.2-1.5.2-1.6.2-1.5.2-1.6.1-1.5.2-1.6.2-1.5.2-1.5.2-1.6.2-1.5.3-1.6.3-1.5.2-1.5.3-1.6.2-1.5.3-1.6.2-1.5.3-1.6.4-1.5.4-1.5.5-1.6.5-1.5.5-1.6.5-1.5.5-1.6.6-1.5.5-1.5.5-1.6.6-1.5.6-1.6.6-1.5.6-1.5.7-1.6.6-1.5.7-1.6.6-1.5.7-1.6.6-1.5.6-1.5.5-1.6.4-1.5.4-1.6.4-1.5.3-1.5.2-1.6 0-1.5.1-1.6.1-1.5.1-1.6.1-1.5.1-1.5.2-1.6.1-1.5.2-1.6.1-1.5.1-1.5.2-1.8.1-1.3M237.5 152.1l0-1.4-.1-1.7-.1-1.6-.1-1.6-.1-1.6-.1-1.5 0-1.6 0-1.6.2-1.5.3-1.6.2-1.6.2-1.6.2-1.5.2-1.6.2-1.6.1-1.6.1-1.5.1-1.6.1-1.6.1-1.6.1-1.5.1-1.6.1-1.6.1-1.5.2-1.6.1-1.6.2-1.6.2-1.5.2-1.6.2-1.6.2-1.6.2-1.5.2-1.6.2-1.6.3-1.6.3-1.5.4-1.6.5-1.6.4-1.5.5-1.6.4-1.6.4-1.6.4-1.5.5-1.6.4-1.6.6-1.6.6-1.7.5-1.4M232.8 129.7l.1-1.4.2-1.7.2-1.6.2-1.5.3-1.6.2-1.6.2-1.5.2-1.6.2-1.5.2-1.6.2-1.5.3-1.6.2-1.6.2-1.5.3-1.6.2-1.5.2-1.6.3-1.6.2-1.5.3-1.6.2-1.5.3-1.6.4-1.5.4-1.6.3-1.6.4-1.5.3-1.6.4-1.5.3-1.6.4-1.6.5-1.5.5-1.6.6-1.5.6-1.6.6-1.5.6-1.6.6-1.6.6-1.5.6-1.6.6-1.5.7-1.6.8-1.5.8-1.6.8-1.6.9-1.5.7-1.6.3-1.5.2-1.6.3-1.6.2-1.5.4-1.8.4-1.3M241.1 171.7l0-1.4 0-1.8 0-1.6.1-1.5 0-1.6 0-1.6 0-1.6.1-1.6 0-1.6 0-1.6-.1-1.5-.2-1.6-.2-1.6-.1-1.6-.2-1.6-.2-1.6-.1-1.6-.2-1.6-.1-1.5 0-1.6.2-1.6.4-1.6.2-1.6.3-1.6.3-1.6.3-1.6.2-1.5.2-1.6.1-1.6.1-1.6 0-1.6.1-1.6.1-1.6.1-1.5 0-1.6.1-1.6.1-1.6.2-1.6.2-1.6.2-1.6.2-1.6.2-1.5.2-1.6.2-1.6.2-1.6.2-1.6.4-1.6.4-1.6.5-1.6.6-1.5.6-1.6.5-1.6.6-1.6.5-1.6.6-1.6.5-1.6.6-1.5.6-1.6.6-1.6.6-1.6.6-1.8.5-1.4M233.9 163.6l-.2-1.4-.1-1.7-.2-1.6-.1-1.5-.1-1.6 0-1.6.1-1.5 0-1.6.1-1.6 0-1.5.1-1.6 0-1.6.1-1.5.1-1.6.1-1.6.1-1.5.2-1.6.2-1.6.2-1.5.2-1.6.2-1.5.2-1.6.2-1.6.2-1.5.1-1.6.2-1.6.2-1.5.2-1.6.2-1.6.1-1.5.2-1.6.2-1.6.2-1.5.2-1.6.3-1.6.2-1.5.2-1.6.3-1.5.2-1.6.2-1.6.2-1.5.3-1.6.3-1.6.4-1.5.4-1.6.4-1.6.4-1.5.5-1.6.4-1.6.4-1.5.4-1.6.4-1.6.5-1.5.6-1.6.6-1.5.6-1.6.6-1.6.6-1.5.6-1.6.6-1.6.6-1.5.6-1.6.8-1.8.5-1.3M234.5 178.2l-.4-1.4-.5-1.8-.4-1.5-.4-1.6-.3-1.6-.2-1.6-.2-1.6-.2-1.5-.2-1.6-.3-1.6-.2-1.6-.2-1.6-.3-1.6-.2-1.5.1-1.6.1-1.6.1-1.6.1-1.6.1-1.6.1-1.5.1-1.6.1-1.6.1-1.6.1-1.6.1-1.6.2-1.5.1-1.6.1-1.6.2-1.6.1-1.6.1-1.6.2-1.5.2-1.6.2-1.6.2-1.6.2-1.6.2-1.6.1-1.5.2-1.6.2-1.6.2-1.6.3-1.6.2-1.6.2-1.5.2-1.6.2-1.6.2-1.6.3-1.6.2-1.6.2-1.5.2-1.6.3-1.6.3-1.6.3-1.6.3-1.5.4-1.6.3-1.6.3-1.6.3-1.6.3-1.6.4-1.5.5-1.6.5-1.6.6-1.6.6-1.6.6-1.6.6-1.7.5-1.4M239 193.9l-.2-1.4-.3-1.8-.3-1.5-.2-1.6-.3-1.5-.3-1.6-.4-1.6-.3-1.5-.3-1.6-.3-1.6-.4-1.5-.3-1.6-.3-1.5-.3-1.6-.2-1.6-.1-1.5-.2-1.6-.1-1.5-.1-1.6-.1-1.6-.1-1.5-.1-1.6-.2-1.6-.1-1.5.1-1.6 0-1.5.1-1.6 0-1.6.1-1.5.1-1.6 0-1.6.1-1.5 0-1.6.1-1.5.2-1.6.2-1.6.2-1.5.2-1.6.3-1.6.2-1.5.2-1.6.2-1.5.2-1.6.2-1.6.2-1.5.2-1.6.1-1.6.2-1.5.2-1.6.2-1.5.2-1.6.2-1.6.2-1.5.3-1.6.2-1.5.3-1.6.2-1.6.2-1.5.3-1.6.2-1.6.3-1.5.2-1.6.5-1.5.4-1.6.5-1.6.4-1.5.5-1.6.4-1.6.5-1.5.5-1.6.5-1.7.4-1.4M239.9 194.5l-.1-1.3-.1-1.7-.2-1.6-.1-1.5-.2-1.5-.2-1.6-.3-1.5-.2-1.5-.3-1.5-.3-1.6-.2-1.5-.3-1.5-.3-1.6-.2-1.5-.2-1.5-.2-1.6-.1-1.5 0-1.5-.1-1.6-.1-1.5-.1-1.5-.1-1.5-.1-1.6 0-1.5-.1-1.5 0-1.6-.1-1.5 0-1.5 0-1.6 0-1.5 0-1.5 0-1.6 0-1.5 0-1.5 0-1.6.1-1.5.2-1.5.3-1.5.2-1.6.2-1.5.2-1.5.2-1.6.2-1.5.2-1.5.2-1.6.1-1.5.1-1.5.2-1.6.1-1.5.2-1.5.1-1.6.2-1.5.1-1.5.2-1.5.2-1.6.2-1.5.2-1.5.3-1.6.2-1.5.2-1.5.2-1.6.3-1.5.2-1.5.3-1.6.4-1.5.5-1.5.4-1.5.5-1.6.4-1.5.5-1.5.4-1.6.5-1.5.4-1.5.5-1.6.6-1.5.6-1.5.5-1.6.6-1.5.6-1.5.6-1.6.6-1.5.6-1.5.6-1.5.5-1.6.5-1.5.5-1.5.5-1.6.5-1.5.3-1.5.3-1.6.1-1.5.1-1.5.1-1.6.1-1.5.2-1.5.2-1.6.3-1.5.2-1.5.2-1.7.3-1.4M239 185.4l-.3-1.3-.2-1.8-.3-1.6-.2-1.5-.3-1.6-.2-1.5-.3-1.6-.2-1.6-.1-1.5-.1-1.6-.1-1.5 0-1.6-.1-1.5 0-1.6-.1-1.6 0-1.5 0-1.6-.1-1.5 0-1.6 0-1.6 0-1.5 0-1.6 0-1.5 0-1.6 0-1.5 0-1.6 0-1.6 0-1.5.2-1.6.1-1.5.3-1.6.3-1.6.2-1.5.3-1.6.3-1.5.2-1.6.3-1.6.2-1.5.1-1.6.2-1.5.1-1.6.2-1.5.2-1.6.1-1.6.2-1.5.1-1.6.2-1.5.3-1.6.2-1.6.3-1.5.2-1.6.3-1.5.2-1.6.3-1.6.2-1.5.3-1.6.4-1.5.5-1.6.5-1.5.5-1.6.6-1.6.5-1.5.6-1.6.5-1.5.5-1.6.6-1.6.6-1.5.6-1.6.6-1.5.7-1.6.6-1.6.6-1.5.7-1.6.6-1.5.7-1.6.6-1.5.4-1.6.4-1.6.4-1.5.3-1.6.3-1.5.2-1.6 0-1.6 0-1.5.1-1.6 0-1.5.1-1.6.1-1.6.1-1.7.1-1.4" fill="none" stroke="#4a4640" stroke-width="1.0" stroke-linecap="round" opacity="0.9"/>
<path transform="scale(0.5)" d="M480 370l-1-1m-7-44l1-1m-3-3l-1-1m0-12l1-2m1-17l0-2m0-20l0-2m0-7l-1-2m2-6l1-1m4-17l0-2m5 19l1-2m-1-1l1-1m4-27l0-2m25-81l0-2m0 0l0-2m0-31l-1-1m-50 198l0-2m2 0l1-1m2-30l0-2m1-5l-1-2m-1 0l1-2m12-64l0-2m-18 114l0-2m3-11l-1-2m3-15l-1-2m0-17l1-2m0-1l2-1m0-4l1-2m0-1l0-2m1-6l0-2m2-27l0-2m5-23l2-1m-6 172l-1-2m-2-14l1-2m0-10l-1-2m1-22l0-2m-2-4l2 0m0-6l0-2m0-10l1-2m2-10l0-2m30-119l0-2m5-16l1-2m1 0l0-2m0-3l1-2m3-32l0-2m-41 214l1-1m-1-7l1-2m-1 1l0-2m3-8l1-2m-1-10l1-2m1-5l-1-2m1-22l1-1m3-26l-1-1m7-19l0-2m0-7l1-1m4-12l1-1m-23 78l-2-1m8-51l-1-1m6-23l0-2m16-37l0-2m2-10l1-2m-18 232l-1-1m1-33l1-2m2-92l2 0m12-49l1-2m-33 160l0-2m-3-41l1-2m6-36l0-2m1-13l0-2m2-12l2 0m0-3l0-2m-1 1l1-2m1-5l0-2m3-13l1-2m7-34l0-2m2 0l1-1m-25 205l-1-2m-5-54l1-2m1-3l-2 0m1-8l1-1m5-42l1-2m-1-1l0-2m0-2l-1-2m3-20l1-1m5-19l0-2m5-37l2-1m2-6l0-2m-8 241l0-2m0-1l0-2m-7-45l-1-1m-1-12l1-2m-2-18l1-2m1-16l0-2m2-21l0-2m2-10l-2-1m2-2l0-2m0-3l1-1m12-69l0-2m2-7l0-2m-7 228l1-2m-8-38l0-2m-2-48l0-2m0-11l0-2m1-9l1-1m0-4l0-2m-2 0l1-2m4-12l-2-1m2-3l-1-2m21-102l0-2m3 0l0-2m7-33l1-2m2-24l0-2m-39 256l1-1m2-56l-1-2m14-84l0-2m1-9l2-1m-1-5l2 0m7-19l1-2" stroke="#34323a" stroke-width="2.6" stroke-linecap="round" fill="none"/>
<path transform="scale(0.5)" d="M477 369l1-2m-7-53l1-2m-2-7l0-2m0-3l-1-1m12 5l1-2m5-86l0-2m7-34l1-2m-28 69l0-2m10-44l0-2m-16 134l1-1m-4-10l1-2m15-120l0-2m2-14l0-2m5-13l0-2m-8 195l0-2m-3-12l1-2m-1-7l-1-2m1-17l-1-2m11-107l2 0m0-8l0-2m26-72l0-2m2-21l1-2m-34 168l0-2m0-3l-1-2m6-76l1-1m4-17l1-1m8-43l1-2m-14 185l0-2m-3-28l1-1m3-20l-1-1m2-24l1-1m10-61l1-2m-30 137l-1-1m6-49l-2-1m16-81l-1-1m-23 157l0-2m0-13l0-2m3-43l0-2m11 104l1-1m-3-1l1-1m-5-26l1-2m-3-25l0-2m3-48l2-1m13-91l0-2m-8 188l0-2m-5-25l-1-1m0-13l-1-2m8-77l-2 0m-1-3l-1-2m1 0l0-2m9-55l1-2m-10 184l0-2m-1-4l0-2m-2-5l-1-1m-1-20l1-2m1-3l0-2m2-52l0-2m20-100l1-2" stroke="#4e6a3c" stroke-width="2.6" stroke-linecap="round" fill="none"/>
<path transform="scale(0.5)" d="M476 363l-2 1m1-6l-1-1m-3-69l-1-2m1-40l2 0m3-2l0-2m-1-2l1-2m3-18l1-2m0-26l0-2m8-19l0-2m-6 166l-1-2m1-4l-1-1m0-36l0-2m0-26l-1-2m3-23l0-2m2-5l0-2m-1-1l1-1m3-26l-1-1m3-10l1-1m5-12l1-2m14-48l0-2m2-3l1-1m-1-16l1-2m-53 197l1-2m3-31l0-2m5-36l2 0m0-11l1-1m2-14l0-2m-15 84l0-2m2-1l0-2m0-15l1-1m4-30l0-2m3-14l0-2m2-19l0-2m1-2l0-2m5-14l1-1m1-4l0-2m-11 171l-1-1m1-32l1-2m1-31l0-2m3-11l-1-1m3-17l1-1m7-54l0-2m6-10l0-2m1-2l0-2m-14 79l-1-2m3-12l0-2m-1-12l0-2m2-5l0-2m11-48l-1-1m-23 85l1-2m0 0l-1-1m3-18l1-1m-1-6l1-2m15-69l1-1m2-3l1-2m-1-2l2-1m1-5l1-1m10-19l0-2m-22 220l1-2m-2-30l-1-1m1-3l1-2m4-51l0-2m3-45l-1-2m4-7l1-1m0-5l1-1m-1-4l1-2m7-18l1-1m-34 145l0-2m0-5l2-1m-1-3l-1-2m1-6l0-2m3-11l0-2m1-37l1-2m5-22l-2-1m10-36l1-2m-23 169l0-2m-2-32l0-2m2-36l1-2m14-95l-1-2m7-19l1-2m-10 231l0-2m-8-101l-1-2m5-12l0-2m-2-5l1-1m10-53l0-2m0-11l2-1m-1 2l0-2m-7 169l1-2m1-23l-1-2m-5-13l-1-2m1-21l0-2m1-8l0-2m0-1l-2 0m4-13l-1-1m6-45l0-2m8-44l1-1m2-10l1-2m2-2l-1-2m14-37l1-2m5-32l1-1m-40 260l2-1m-2-36l1-1m0-13l0-2m4-56l1-1m3-22l0-2m-2 2l0-2m15-48l1 1m4-9l1-2m2-4l-1-2m3-4l-1-2m4-7l0-2" stroke="#5a5450" stroke-width="2.6" stroke-linecap="round" fill="none"/>
<path transform="scale(0.5)" d="M475 360l-1-1m-3-19l1-2m0-6l0-2m-1-20l-1-2m2-13l1-2m-2-29l0-2m5-35l0-2m0-9l-1-1m5-16l0-2m3-12l-1-1m-1 139l-1-2m1-2l1-1m-2-20l1-1m0-18l-2-1m2-3l2-1m2-40l1-2m-1-6l0-2m2-1l0-2m0-28l1-2m2-4l1-1m12-31l-1-1m-29 223l-1-2m-11-37l-1-1m-1-27l0-2m3-21l0-2m2-5l0-2m-1 0l1-2m10-66l1-2m1-2l1-2m-1-5l1-2m-18 111l1-1m12 51l1-1m-5-46l0-2m1-15l1-1m8-69l-1-2m6-28l0-2m3-6l1-1m21-59l0-2m3-11l-1-2m1-19l1-2m-37 211l0-2m1 1l-1-2m4-80l1-2m-1-5l1-2m0-1l1-2m3-8l-1-2m3-16l0-2m1 0l0-2m-15 39l0-2m-2-1l0-2m1-5l2-1m1-6l1-1m4-29l1-1m3-9l1-1m19-48l0-2m-19 217l0-2m-4-35l-1-2m6-23l0-2m2-36l1-2m2-16l0-2m10-42l1-2m2-3l0-2m-32 85l-1-2m3-13l1-1m4-22l0-2m1-10l0-2m2-8l-1-1m5-6l1-1m5-25l2-1m2-1l0-2m-1-2l1-2m-33 192l1-2m-3-15l0-2m5-55l0-2m0-2l1-1m0-4l-1-2m2-1l0-2m5-49l0-2m3-1l1-1m-2-4l1-1m0-7l0-2m5-20l0-2m-7 214l0-2m-7-40l1-1m1-39l1-2m1-8l-1-2m2-10l-1-1m16-86l0-2m-10 204l2-1m-7-40l0-2m0-53l0-2m9-89l1-1m26-79l1-1m-32 253l-1-1m-2-80l1-2m1-2l-1-2m0-3l-1-2m-1 0l1-1m4-17l1-2m3-32l1-2m3-12l0-2m0-3l0-2m13-38l1-2m0-3l0-2m15-59l0-2" stroke="#3e3a40" stroke-width="2.6" stroke-linecap="round" fill="none"/>
<path transform="scale(0.5)" d="M474 356l0-2m7-29l-1-2m3-56l0-2m12-91l1-1m2-7l1-2m-30 198l-1-2m0-4l1-2m-4-3l0-2m8-126l0-2m7-33l0-2m-19 144l-2 0m0-16l0-2m-2-5l1-2m13-92l1-2m-1 104l-1-2m24-147l0-2m17-52l0-2m-34 147l0-2m-8-11l0-2m24-106l1-2m-12 183l0-2m2-85l-1-1m5-27l2-1m-22 87l0-2m1-38l2 0m3-25l0-2m27-94l-1-2m-33 224l1-1m-5-24l-1-2m-1 0l1-1m4-89l0-2m3 112l0-2m2-5l-1-2m5-117l1-1m-4 131l1-1m0-20l1-2m11-138l1-2m2-12l2 0m3-17l2-1m11-27l2-1m0-7l-1-1m-29 245l-1-1m-2-19l-1-1m-1-35l-1-2m1-17l0-2m2-19l0-2m-1-2l1-2m9-50l-1-1" stroke="#5a7a44" stroke-width="2.6" stroke-linecap="round" fill="none"/>
<path transform="scale(0.5)" d="M475 352l-1-2m-2-6l-1-1m1-8l-1-2m-1-11l0-2m7-110l-1-2m12 15l-1-2m2-12l0-2m-15 174l-1-2m-11-52l-1-2m-1 1l0-2m13 30l0-2m-3-21l-1-2m1-42l0-2m14-93l1-2m5-16l1-2m11-26l0-2m-20 59l0-2m-13 36l0-2m0-7l-1-2m9-32l-1-1m0-10l0-2m23-60l1-2m-20 172l0-2m6-62l1-2m16-71l1-1m-35 166l0-2m-2-41l2-1m15-107l0-2m-21 150l-2-1m3-26l-1-1m8-90l2-1m-3 156l0-2m1-5l-1-2m-4-32l-1-1m0-5l0-2m11-84l0-2m5 171l-1-2m-2-15l1-2m-11-62l2 0m8-74l0-2m5-28l0-2m19-68l1-1m2-1l0-2m-31 182l-1-2m4-50l2 0" stroke="#5a6a48" stroke-width="2.6" stroke-linecap="round" fill="none"/>
<path transform="scale(0.5)" d="M474 351l0-2m-3-79l1-2m0-8l0-2m2-20l0-2m1-3l1-2m10-56l1-2m-7 112l0-2m0-14l1-1m2-26l1-1m4-43l1-1m4-13l1-2m2-12l1-1m9-27l-1-2m7-28l0-2m3-22l-1-1m-42 286l-1-1m-5-27l-1-2m-6-27l0-2m0-1l0-2m2-18l1-1m2-19l0-2m1-5l1-1m6-24l-2-1m0-6l0-2m-10 66l1-2m-2-3l0-2m8-53l0-2m4-30l0-2m5-15l1-1m6-29l0-2m-14 142l1-2m1-30l1-2m0-5l1-2m4-8l-1-2m-1-2l0-2m2-7l-1-2m1-7l1-1m9-42l1-2m6-20l0-2m1-5l2-1m7-17l1-2m6-34l1-2m-36 197l-1-2m-1-13l0-2m1-21l1-2m1-12l1-2m7-57l1-1m2-15l1-1m-17 66l0-2m-3-8l0-2m3-16l1-2m0-4l0-2m30-91l-1-1m-20 235l0-2m0-7l1-1m-1-10l0-2m4-80l-1-2m0-1l-1-2m3-17l-1-2m20-68l0-2m-38 128l-1-1m7-39l0-2m1-13l0-2m13-50l1-2m1-10l1-2m-22 197l0-2m-6-23l1-1m-5-17l-1-2m6-27l-1-2m2-12l0-2m1-3l0-2m1-7l-1-2m3-18l1-2m-2-4l0-2m3-12l0-2m1 0l0-2m-1-1l0-2m1-2l1-1m5-19l0-2m3-20l-1-2m-1 233l0-2m-7-40l-1-1m-2-67l-1-1m4-40l1-2m2-5l0-2m2 0l1-2m0-13l0-2m0-1l0-2m1-5l1-2m5-21l0-2m-8 195l1-2m-4-45l0-2m-1-14l0-2m-2-6l0-2m1 1l-1-1m1-12l0-2m3-24l-1-2m2-7l1-2m-2-9l0-2m3-16l0-2m1-9l-1-1m2-4l-1-2m5-21l1-2m6-18l1-2m2-5l0-2m17-67l-1-2m-37 234l-1-2m2-2l-2-1m0-22l-1-1m8-45l0-2m1-3l0-2m1-17l0-2m7-34l0-2m19-49l0-2" stroke="#55504e" stroke-width="2.6" stroke-linecap="round" fill="none"/>
<path transform="scale(0.5)" d="M473 347l-1-1m-2-55l1-2m-1-12l1-2m2-16l1-2m3-44l0-2m3-11l0-2m0-3l2-1m0-3l0-2m3-11l1-2m-7 121l1-2m-1-12l0-2m0-4l1-2m4-15l-1-1m4-47l-1-2m2-13l0-2m8-17l1-1m6-24l1-1m2-8l1-2m-35 228l0-2m-11-60l-1-2m1-1l0-2m3-19l0-2m1-30l1-2m3-1l0-2m1-10l-1-1m10-40l0-2m-22 111l1-2m2-23l1-1m4-2l1-1m-3-22l1-1m3-27l0-2m3-9l1-1m6-33l1-2m4-13l-1-2m-7 191l0-2m3-130l1-1m2-8l0-2m4-4l-1-2m13-46l0-2m2-4l0-2m2 0l1-2m5-18l0-2m6-57l2-1m-35 176l1-2m-1-14l0-2m5-35l0-2m-21 65l0-2m6-11l1-1m4-53l1-1m2-10l0-2m10-29l0-2m2-6l1-1m-8 133l-1-1m2-20l2-1m8-62l1-2m1-4l0-2m5-14l1-1m-31 158l1-2m-4-5l0-2m1-14l0-2m-2-2l0-2m0-16l1-1m4-12l-2-1m1-3l1-2m-2-6l2-1m-1-1l1-1m1-4l-1-2m7-47l0-2m1-1l1-1m2-14l0-2m6-16l0-2m9-23l-1-1m2-5l1-1m-30 228l1-2m-7-74l0-2m3-12l-1-2m5-45l0-2m-1-2l1-2m7-41l2 0m2-12l1-1m4-19l1-2m-12 224l0-2m-7-56l0-2m-1-6l1-2m-3-3l1-1m9-56l0-2m0-12l1-2m2-16l1-2m0-5l0-2m9-29l-1-2m-10 205l0-2m-3-8l1-2m-4-62l0-2m7-65l-1-1m0-4l0-2m3-8l-1-2m1-11l1-1m4-10l0-2m1-10l1-1m6-26l2-1m13-48l1-2m-33 148l2-1m1-7l1-1m-2-6l1-1m3-7l1-2m-1-4l1-1m10-44l0-2m9-21l1-2m4-11l0-2m2-9l1-2m3-21l-1-1" stroke="#46404a" stroke-width="2.6" stroke-linecap="round" fill="none"/>
<path transform="scale(0.5)" d="M471 337l-1-1m1-57l1-2m7-73l0-2m1 135l1-1m1-3l1-2m-1-22l-2 0m2-5l0-2m31-180l-1-1m-42 246l-2-1m2-1l-1-2m-8-16l1-2m-1-25l0-2m4-47l1-1m-5 47l-1-2m7-3l1-1m0-9l-1-2m3-17l1-2m28-132l1-1m3-4l0-2m-27 125l1-2m2-91l0-2m2 168l0-2m0-8l0-2m3-9l-1-2m-2-4l0-2m-1-22l0-2m0-19l1-2m5-56l1-1m-15 29l1-2m-8 111l0-2m14-180l-1-2m6-15l2-1m-8 232l0-2m-7-18l0-2m0-3l0-2m-4-19l0-2m3-2l0-2m-4-14l-1-1m6-57l0-2m10 130l0-2m-2-3l-1-1m-6-44l1-1m9-137l1-1m21-73l1-1m-27 249l-1-2m-6-37l2-1m0-41l1-2m3-34l0-2m2-22l1-1m8-40l0-2m17-40l0-2m8-42l0-2" stroke="#6a8a4a" stroke-width="2.6" stroke-linecap="round" fill="none"/>
<path transform="scale(0.5)" d="M472 328l1-1m-3-30l0-2m1-12l1-2m-2-6l1-2m1-24l2-1m3-22l-1-2m3-18l1-2m5-21l-2-1m-1 131l1-1m-1-3l0-2m-5-16l1-2m4-37l1-2m0 3l-1-2m5-46l1-2m10-39l1-1m1-3l1-1m1 0l0-2m3-7l0-2m0 0l1-2m2-7l2 0m0-1l1-2m-50 197l1-1m-1-43l0-2m7-43l1-1m3-15l0-2m-1-1l0-2m2-8l0-2m3 3l-1-1m-12 120l-1-2m-2-37l1-2m3-19l0-2m0-15l-1-1m7-29l0-2m0-6l0-2m1-9l0-2m6-15l1-1m3-24l1-2m-7 200l0-2m-5-33l0-2m0-59l1-2m3-16l1-2m0-8l0-2m3-3l-1-1m0-5l1-1m0-11l1-1m-1-1l0-2m3-14l1-2m2 0l-1-2m4-14l1-2m3-11l1-2m13-33l0-2m8-41l0-2m-39 215l-1-1m2-11l1-1m-1-14l-1-2m6-33l0-2m-1-11l1-1m-1-1l1-1m1-5l-1-2m2-25l0-2m11-33l-1-2m2 1l0-2m0-2l1-2m-30 109l1-2m4-43l1-1m2-17l-1-1m6-14l1-2m1-13l1-1m3-6l1-1m1-5l1-1m5-23l2-1m8-10l0-2m3-19l1-1m-27 185l1-2m2-9l1-1m2-6l0-2m1-9l-1-1m-3-4l0-2m1-4l0-2m3-20l0-2m1-6l0-2m2-18l1-2m5-15l1-1m4-3l0-2m-35 144l1-2m2-4l0-2m0-43l0-2m13-78l0-2m15-42l1-2m1-6l0-2m-34 208l-1-2m-2-28l1-1m-1-17l0-2m3-14l-1-2m6-49l1-1m6-38l1-2m2-11l1-2m-9 193l1-1m-3-71l0-2m1-15l0-2m3-32l2-1m2-11l0-2m1 139l1-1m-6-20l0-2m-1-23l0-2m4-56l-1-2m5-49l1-1m0-9l1-1m9-28l1-1m5-20l1-1m0-6l0-2m3-3l0-2m5-5l1-2m-30 230l0-2m-1-24l-1-2m-1-18l-1-2m-1-7l-1-2m1-2l2 0m10-96l1-2m0-2l0-2m5-16l1-2m-1-3l2 0m2-6l1-1m15-37l0-2m1-6l1-1m-2 0l0-2m2-2l0-2" stroke="#4a4448" stroke-width="2.6" stroke-linecap="round" fill="none"/>
<path transform="scale(0.5)" d="M470 315l0-2m4-91l1-1m7-40l0-2m6-12l0-2m-7 152l1-2m-2-45l1-1m0-13l0-2m-17 102l0-2m1-1l1-1m-3-12l0-2m0-7l0-2m0-1l-2-1m1-6l-2-1m17-128l-1-2m-16 131l-1-1m4-55l1-1m0-2l1-2m0-13l0-2m5 92l0-2m0-10l-1-1m1-45l1-2m5-21l1-1m-11-2l1-1m11-76l0-2m16-45l2-1m-13 174l0-2m-3-6l-1-2m2-16l0-2m8-74l1-2m16-46l0-2m-38 180l1-2m20-168l1-1m-27 184l0-2m-1-40l-1-2m5 21l-1-2m3-23l-1-1m12-95l1-1m2-6l0-2m0-7l1-1m4-14l1-1m-11 202l0-2m-1-21l0-2m1-98l-1-2m3 126l0-2m-3-19l-1-1m-2-10l-1-2m6-96l1-1" stroke="#7a8a5a" stroke-width="2.6" stroke-linecap="round" fill="none"/>
<path transform="scale(0.5)" d="M512 118l1-2m0-12l1-2m0-5l0-2m-1-4l0-2m-3 17l1-2m1-4l1-2m-1-14l1-2m1-3l-1-2m-9 25l1-2m3 11l1-2m0-5l0-2m1-7l1-2m0-1l1-2m1 27l-1-2m0-24l0-2" stroke="#7a4a48" stroke-width="2.6" stroke-linecap="round" fill="none"/>
<path transform="scale(0.5)" d="M514 115l1-2m-2-5l-1-1m1-12l0-2m0 2l1-1m-2-8l0-2m-8 21l-1-1m8-6l0-2m0 16l0-2m0-1l0-2m1-1l0-2m1-6l0-2" stroke="#6a4444" stroke-width="2.6" stroke-linecap="round" fill="none"/>
<path d="M280.5 215l.1 1.2.1 1.7.1 2 .1 2.2.1 2.3.2 2.4.2 2.2.2 2 .3 2 .3 2.1.3 2 .3 2 .4 2 .4 2 .4 1.9.5 2 .5 2.1.6 2.1.7 2 .5 1.9.5 1.7.5 1.3.1.5" fill="none" stroke="#90b858" stroke-width="1.5" stroke-linecap="round"/>
<path d="M297.1,65.4 297.4,68.0 297.6,70.6 297.9,73.2 298.1,75.7 297.6,78.3 297.0,80.9 296.5,83.5 296.2,86.1 295.8,88.7 295.4,91.3 294.5,93.9 293.6,96.4 292.8,99.0 292.0,101.6 291.3,104.2 290.5,106.8 290.0,109.4 289.5,112.0 288.9,114.5 288.4,117.1 287.8,119.7 287.3,122.3 286.9,124.9 286.5,127.5 286.1,130.1 285.7,132.6 285.3,135.2 284.9,137.8 284.6,140.4 284.3,143.0 283.9,145.6 283.6,148.2 283.3,150.8 283.0,153.3 282.9,155.9 282.7,158.5 282.5,161.1 282.4,163.7 282.2,166.3 282.1,168.9 282.0,171.4 282.0,174.0 281.9,176.6 281.8,179.2 281.7,181.8 281.6,184.4 281.5,187.0 281.4,189.5 281.3,192.1 281.3,194.7 281.2,197.3 281.2,199.9 281.2,202.5 281.2,205.1 281.2,207.7 281.2,210.2 281.1,212.8 280.9,215.4 280.7,218.0 279.8,218.0 279.5,215.4 279.2,212.8 279.0,210.2 278.9,207.7 278.7,205.1 278.6,202.5 278.4,199.9 278.3,197.3 278.1,194.7 278.1,192.1 278.0,189.5 277.9,187.0 277.8,184.4 277.7,181.8 277.6,179.2 277.6,176.6 277.5,174.0 277.4,171.4 277.3,168.9 277.3,166.3 277.4,163.7 277.5,161.1 277.6,158.5 277.8,155.9 277.9,153.3 278.0,150.8 278.1,148.2 278.2,145.6 278.2,143.0 278.3,140.4 278.4,137.8 278.4,135.2 278.4,132.6 278.4,130.1 278.3,127.5 278.3,124.9 278.3,122.3 278.4,119.7 278.6,117.1 278.7,114.5 278.8,112.0 279.0,109.4 279.1,106.8 279.7,104.2 280.4,101.6 281.1,99.0 282.3,96.4 283.5,93.9 284.7,91.3 286.4,88.7 288.2,86.1 289.9,83.5 291.5,80.9 293.0,78.3 294.5,75.7 295.1,73.2 295.6,70.6 296.1,68.0 296.6,65.4Z" fill="#3e2a2a" opacity="0.65"/>
<path d="M280 110l-1.1-2.2-1.5-3.1-1.4-2.7-1.2-1.8-1.2-1.3-.8-.9M286 92l-.8-1.6-1.2-2.3-1-2.1-.8-1.6-.7-1.4-.5-1" fill="none" stroke="#6a4a44" stroke-width="0.9" stroke-linecap="round" opacity="0.85"/>
<path transform="scale(0.5)" d="M558 348l0 2m9-106l1 2m-9 42l0 2m30-99l-1 2m-3 18l0 2m6-72l-1 2m-32 112l-2 1m6 153l0 2m-3-99l1 2m-7 34l0 2m5-126l0 2m-3-5l-2 1m15 3l1 2m16-35l-2 2m-26 131l1 2m10-54l1 2m23-115l0 2m-21 80l-1 2m-7 35l0 2m-1 12l2 1m-8-79l2 2m13-37l-2 1m-1-6l0 2" stroke="#3e2424" stroke-width="3" stroke-linecap="round" fill="none"/>
<path transform="scale(0.5)" d="M593 173l-1 2m-5 19l0 2m-27 64l-2 1m4-30l1 2m-8 136l1 2m36-196l-1 2m-27 211l0 2m2-210l0 2m16-23l0 2m-22 234l0 2m-2-131l2 1m3-40l-2 2m4 61l-2 1m-10 6l2 2m18-75l2 1" stroke="#8a6a58" stroke-width="3" stroke-linecap="round" fill="none"/>
<path transform="scale(0.5)" d="M564 351l-1 2m16-120l-1 2m-18 6l0 2m35-76l1 2m-33 136l-1 2m-3-34l1 2m-6-33l0 2m5-17l0 2m30-66l1 2m-20 81l-2-1m-13 26l1 2m-2 36l-2 2m5 17l-1 2m16-84l-2 2m2 26l0 2m-1-93l-1 2m-1 56l1 2m-2 2l1 2m16-89l-2 1m-23 167l-1 2m3-129l-1 2m-2 52l-2 2m-5-41l0 2m36-67l1 2m-34 178l-1 2m12-54l1 2m-5 5l0 2m-11-83l2 1m13-32l-2 1" stroke="#5a3634" stroke-width="3" stroke-linecap="round" fill="none"/>
<path transform="scale(0.5)" d="M561 335l1 2m19-136l-2 2m-13-3l0 2m3-6l2 0m-6 143l0 2m-2-103l0 2m16-15l0 2m7-38l-2 1m11-27l-1 2m-35 147l0 2m19-118l-1 2m-18 166l0 2m-1 28l-1 2m5-69l2 1m-4-92l-2 1m-4-25l-2 2m29-9l0 2m-26 129l-1 2m39-152l1 2m-34 31l1 2m2-54l1 2" stroke="#947260" stroke-width="3" stroke-linecap="round" fill="none"/>
<path transform="scale(0.5)" d="M557 223l0 2m0-15l-2 2m36-54l-1 2m-11 8l-2 2m7 46l-1 2m-22-13l-2 2m3 75l2 1m-5 58l-2 2m5-32l-1 2m-8 28l0 2m3-38l2 1m1-86l-2 1m33-53l1 2m-29 85l-1 2m28-88l-1 2m0 19l-1 2m-23 105l-1 2m2 27l2 1m0-137l-1 2m-12 122l2 2m27-122l-2 2m-17 115l0 2m-1-82l1 2m18-44l-2 1m-23 106l0 2m18-81l1 2m-10 140l-2 2m-10-144l-2 1m3 87l-1 2m0 21l1 2m24-107l-1 2m-8 73l-1 2m5-128l0 2m-19 65l-1 2m18-58l1 2" stroke="#4a2a2a" stroke-width="3" stroke-linecap="round" fill="none"/>
<path transform="scale(0.5)" d="M571 202l-1 2m4 38l-1 2m-2-2l1 2m-15 63l-1 2m27-99l0 2m-9 59l-2 1m-11-69l0 2m31-43l-1 2m0-6l-1 2m-1-7l0 2m-22 170l-1 2m31-168l0 2m-6 13l0 2m5-25l1 2m-1-7l0 2m-36 109l1 2m8-75l-2 1m10 57l1 2m-11-36l-1 2m12-33l-1 2m-22 205l2 1m-8-186l-1 2m13-38l1 2" stroke="#342020" stroke-width="3" stroke-linecap="round" fill="none"/>
<path transform="scale(0.5)" d="M575 228l-2 1m-11 63l1 2m-9-4l0 2m6 13l-2 1m-4-99l1 2m39-34l0 2m-17 11l0 2m-13 118l-1 2m-10-80l-1 2m41-45l0 2m-22 18l-2 2m9 11l0 2m-1 31l-1 2m2-77l-1 2m-5 7l1 2m-15 10l-1 2m9 123l-1 2m-3-87l0 2m17-26l1 2m-13-15l0 2m19-6l1 2m-24-16l-1 2m20-16l-1 2m-26 39l2 1m-3-6l-1 2m-8-12l2 1" stroke="#4a2c2c" stroke-width="3" stroke-linecap="round" fill="none"/>
<path transform="scale(0.5)" d="M564 409l-1 2m-3-33l-2 1m2 46l2 1m-1-1l1 2m-3 6l0 2m-1-5l1 2m2-81l0 2m-8-8l-1 2" stroke="#6a8a50" stroke-width="3" stroke-linecap="round" fill="none"/>
<path transform="scale(0.5)" d="M563 419l0 2m-4-35l2 0m0-22l0 2m-6-8l0 2m10 18l-1 2" stroke="#5a7a48" stroke-width="3" stroke-linecap="round" fill="none"/>
<path transform="scale(0.5)" d="M553 248l-1 2m12-34l-1 2m-4 216l2 1m1-145l-2 2m18-108l0 2m-22 65l-2 1m1-39l-1 2m13 22l0 2m-3 88l-1 2m30-174l-2 2m-20 93l1 2m22-82l0 2m0-23l1 2m-34 82l0 2m28-55l-2 1m3 24l-1 2m-35 30l2 1m16 5l0 2m-11-27l-1 2m19-10l-1 2m-14-10l0 2m-11 59l0 2" stroke="#603a36" stroke-width="3" stroke-linecap="round" fill="none"/>
<path transform="scale(0.5)" d="M560 390l-1 2m1 28l0 2m-6-67l1 2m5-9l2 2m-1 79l1 2m0-57l2 0" stroke="#8a9a60" stroke-width="3" stroke-linecap="round" fill="none"/>
<path d="M281.1 208.8l.1-1.4 0-1.7 0-1.6 0-1.5 0-1.6 0-1.6.1-1.5 0-1.6.1-1.5 0-1.6.1-1.5.1-1.6.1-1.5 0-1.6.1-1.5.1-1.6.1-1.6.1-1.5 0-1.6.1-1.5.1-1.6.1-1.5.1-1.6.1-1.5.1-1.6.1-1.5.1-1.6.1-1.6.1-1.5.1-1.6.1-1.5.2-1.6.1-1.5.1-1.6.1-1.5.2-1.6.2-1.5.3-1.6.2-1.6.3-1.5.2-1.6.3-1.5.2-1.6.3-1.5.2-1.6.3-1.5.3-1.6.4-1.5.3-1.6.4-1.6.3-1.5.4-1.6.3-1.5.3-1.6.3-1.5.4-1.6.4-1.5.4-1.6.3-1.5.4-1.6.5-1.7.3-1.4M277.9 136.7l0-1.4-.1-1.9 0-1.7 0-1.7 0-1.7-.1-1.7 0-1.7 0-1.7 0-1.7 0-1.7.1-1.7.1-1.6 0-1.7.1-1.7 0-1.7.1-1.7 0-1.7.2-1.7.4-1.7.5-1.7.4-1.7.4-1.7.7-1.6.8-1.7.8-1.7.8-1.7 1.2-1.9.9-1.5M280.6 176.2l.1-1.3 0-1.8 0-1.6 0-1.6 0-1.6 0-1.6.1-1.6.1-1.6.1-1.6 0-1.6.1-1.6.1-1.5.1-1.6.1-1.6.1-1.6.1-1.6.2-1.6.1-1.6.1-1.6.2-1.6.1-1.6.1-1.5.2-1.6.1-1.6.1-1.6.2-1.6.1-1.6.2-1.6.1-1.6.2-1.6.1-1.6.2-1.6.1-1.5.2-1.6.2-1.6.2-1.6.2-1.6.2-1.6.3-1.6.2-1.6.2-1.6.2-1.6.2-1.6.3-1.5.4-1.6.4-1.6.4-1.6.5-1.6.5-1.6.6-1.6.5-1.6.6-1.6.6-1.6.6-1.5.6-1.6.5-1.6.5-1.6.6-1.6.6-1.8.5-1.4M278.4 183.9l0-1.3 0-1.8 0-1.6 0-1.5 0-1.6 0-1.5 0-1.6 0-1.6 0-1.5-.1-1.6 0-1.6.1-1.5.1-1.6.1-1.5.1-1.6.1-1.6.1-1.5.1-1.6.1-1.5.1-1.6.1-1.6.1-1.5.1-1.6.1-1.5.1-1.6.1-1.6.1-1.5.2-1.6.1-1.6.1-1.5.1-1.6.1-1.5.1-1.6.1-1.6.1-1.5.1-1.6.1-1.5.1-1.6.1-1.6.1-1.5.2-1.6.2-1.5.2-1.6.2-1.6.2-1.5.2-1.6.2-1.6.2-1.5.2-1.6.3-1.5.5-1.6.5-1.6.4-1.5.5-1.6.6-1.5.7-1.6.7-1.6.7-1.5.7-1.6.7-1.5.8-1.6.7-1.6.8-1.5.7-1.6.7-1.6.7-1.5.8-1.8.6-1.3M280.2 217.6l0-1.3 0-1.8 0-1.5-.1-1.5 0-1.6-.1-1.5 0-1.6 0-1.5-.1-1.5 0-1.6 0-1.5-.1-1.5 0-1.6 0-1.5 0-1.6 0-1.5 0-1.5 0-1.6 0-1.5 0-1.5 0-1.6 0-1.5 0-1.6.1-1.5 0-1.5 0-1.6 0-1.5 0-1.5 0-1.6.1-1.5 0-1.6 0-1.5 0-1.5.1-1.6 0-1.5.2-1.5.1-1.6.1-1.5.1-1.6.1-1.5.1-1.5.1-1.6.1-1.5.2-1.5.1-1.6.1-1.5.2-1.6.1-1.5.1-1.5.2-1.6.1-1.5.2-1.5.1-1.6.2-1.5.1-1.6.2-1.5.2-1.5.1-1.6.2-1.5.2-1.5.1-1.6.2-1.5.2-1.6.3-1.5.2-1.5.3-1.6.2-1.5.3-1.5.2-1.6.3-1.5.2-1.6.3-1.5.4-1.5.4-1.6.5-1.5.5-1.5.5-1.6.5-1.5.6-1.6.6-1.5.6-1.5.6-1.6.6-1.5.5-1.5.5-1.6.5-1.5.5-1.6.5-1.5.6-1.5.5-1.6.6-1.5.4-1.6.2-1.5 0-1.5 0-1.6 0-1.5 0-1.7 0-1.4M278.2 171.1l0-1.3-.1-1.8 0-1.5 0-1.6 0-1.5.1-1.6.1-1.5 0-1.6.1-1.5.1-1.6 0-1.5.1-1.6 0-1.5 0-1.5.1-1.6 0-1.5 0-1.6.1-1.5 0-1.6 0-1.5 0-1.6 0-1.5 0-1.6 0-1.5 0-1.6-.1-1.5 0-1.5 0-1.6-.1-1.5 0-1.6 0-1.5-.1-1.6.1-1.5 0-1.6.1-1.5 0-1.6 0-1.5 0-1.6.1-1.5 0-1.5 0-1.6.1-1.5.3-1.6.4-1.5.3-1.6.4-1.5.5-1.6.6-1.5.7-1.6.7-1.5.7-1.6.8-1.5 1-1.5 1.1-1.6 1.1-1.5 1.1-1.6 1-1.5 1-1.6.9-1.5 1-1.6.9-1.5.9-1.6.4-1.5.3-1.6.3-1.5.4-1.5.4-1.8.3-1.3M279.2 210.5l0-1.4-.1-1.7-.1-1.6-.1-1.6-.1-1.5-.1-1.6-.1-1.6-.1-1.5-.1-1.6 0-1.5-.1-1.6-.1-1.6 0-1.5-.1-1.6 0-1.6-.1-1.5 0-1.6-.1-1.5 0-1.6-.1-1.6 0-1.5-.1-1.6 0-1.6-.1-1.5 0-1.6-.1-1.5-.1-1.6 0-1.6 0-1.5 0-1.6.1-1.6.1-1.5.1-1.6.1-1.5 0-1.6.1-1.6.1-1.5 0-1.6 0-1.6.1-1.5 0-1.6 0-1.6 0-1.5.1-1.6 0-1.5 0-1.6 0-1.6 0-1.5 0-1.6-.1-1.6 0-1.5 0-1.6-.1-1.5 0-1.6 0-1.6-.1-1.5 0-1.6.1-1.6 0-1.5.1-1.6 0-1.5 0-1.6.1-1.6 0-1.5 0-1.6.1-1.6.2-1.5.3-1.6.4-1.5.4-1.6.5-1.6.5-1.5.7-1.6.7-1.6.7-1.5.8-1.6 1-1.5 1.1-1.6 1.1-1.6 1.1-1.5 1.1-1.6 1-1.6 1-1.5 1-1.6 1-1.5 1-1.6.5-1.6.4-1.5.4-1.6.3-1.6.4-1.7.4-1.4M281.4 181.7l.1-1.3 0-1.8.1-1.6 0-1.5.1-1.6 0-1.5.1-1.6 0-1.5.1-1.6 0-1.5.1-1.6.1-1.5.1-1.6.1-1.6.1-1.5.1-1.6.1-1.5.1-1.6.2-1.5.1-1.6.2-1.5.2-1.6.2-1.6.2-1.5.2-1.6.1-1.5.2-1.6.2-1.5.2-1.6.3-1.5.2-1.6.2-1.6.3-1.5.2-1.6.3-1.5.2-1.6.2-1.5.3-1.6.3-1.5.3-1.6.3-1.5.3-1.6.3-1.6.4-1.5.3-1.6.3-1.5.3-1.6.3-1.5.5-1.6.4-1.5.5-1.6.4-1.6.5-1.5.5-1.6.5-1.5.6-1.6.5-1.5.5-1.6.4-1.5.2-1.6.3-1.5.2-1.6.3-1.6.3-1.5.3-1.6.4-1.5.4-1.8.3-1.3M279.7 210l-.1-1.4-.1-1.8 0-1.5-.1-1.6-.1-1.6 0-1.6-.1-1.6-.1-1.5 0-1.6-.1-1.6 0-1.6 0-1.6 0-1.5-.1-1.6 0-1.6 0-1.6 0-1.6-.1-1.5 0-1.6 0-1.6 0-1.6 0-1.6-.1-1.6 0-1.5 0-1.6 0-1.6-.1-1.6 0-1.6.1-1.5.1-1.6.1-1.6.1-1.6 0-1.6.1-1.5.1-1.6.1-1.6.1-1.6.1-1.6 0-1.5.1-1.6.1-1.6.1-1.6 0-1.6.1-1.5.1-1.6.1-1.6 0-1.6.1-1.6 0-1.5.1-1.6 0-1.6.1-1.6 0-1.6.1-1.5 0-1.6.1-1.6.1-1.6.2-1.6.1-1.6.1-1.5.1-1.6.2-1.6.1-1.6.1-1.6.2-1.5.2-1.6.4-1.6.5-1.6.3-1.6.5-1.5.7-1.8.6-1.4M278.9 159.8l.1-1.4.1-1.7.1-1.6 0-1.6.1-1.5.1-1.6 0-1.6.1-1.5.1-1.6 0-1.6.1-1.5.1-1.6 0-1.6.1-1.5.1-1.6 0-1.6 0-1.5.1-1.6 0-1.5.1-1.6 0-1.6 0-1.5 0-1.6.1-1.6.1-1.5.1-1.6.1-1.6.1-1.5.1-1.6.1-1.6.2-1.5.1-1.6 0-1.6.2-1.5.3-1.6.5-1.6.3-1.5.5-1.6.5-1.6.6-1.5.6-1.6.7-1.6.7-1.5.7-1.6.9-1.6.9-1.5.9-1.6.9-1.5.8-1.6.9-1.6.9-1.7.7-1.4M278.7 194l0-1.3-.1-1.8 0-1.6 0-1.5-.1-1.6 0-1.6 0-1.6-.1-1.5 0-1.6 0-1.6 0-1.5-.1-1.6 0-1.6 0-1.6 0-1.5-.1-1.6 0-1.6 0-1.5.1-1.6 0-1.6.1-1.6.1-1.5.1-1.6.1-1.6.1-1.6.1-1.5.1-1.6 0-1.6.1-1.5.1-1.6.1-1.6 0-1.6.1-1.5.1-1.6 0-1.6.1-1.5.1-1.6 0-1.6 0-1.6.1-1.5 0-1.6.1-1.6 0-1.5.1-1.6 0-1.6.1-1.6.1-1.5.1-1.6.1-1.6.2-1.5.1-1.6.1-1.6.1-1.6.2-1.5.1-1.6.2-1.6.4-1.5.5-1.6.4-1.6.4-1.6.6-1.5.7-1.6.7-1.6.7-1.6.7-1.5.8-1.6.9-1.6.9-1.5.9-1.6.9-1.6.8-1.6.8-1.5.9-1.6.8-1.6.7-1.5.5-1.6.3-1.6.2-1.6.2-1.7.2-1.4" fill="none" stroke="#4a3030" stroke-width="1.0" stroke-linecap="round" opacity="0.9"/>
<path transform="scale(0.5)" d="M563 419l-1-2m1-10l1-2m0-26l0-2m-2-7l0-2m-5-1l-2 0m2-8l0-2m0-11l0-2m-1-6l-1-2m5 96l2-1m-3-40l0-2m1-5l0-2m0-3l0-2m-1-3l0-2m0 1l0-2m1-14l1-2m-2 55l1-2m-4-8l-1-1m3-2l0-2m-3-13l1-1m0-37l0-2m-1-9l0-2m8 29l-1-1m-1-4l1-1m0 66l-1-1m-4-11l0-2m2-2l-1-2m0-5l1-1m0-6l0-2m0-17l0-2m1-33l-1-2m-3 18l0-2m1 0l-1-2m-1-1l1-2m-2-15l1-2" stroke="#5a7a48" stroke-width="2.6" stroke-linecap="round" fill="none"/>
<path transform="scale(0.5)" d="M563 414l1-2m0-3l0-2m0-9l-1-1m0-4l-1-1m-1-20l1-2m2-10l0-2m-4-7l1-2m-2-7l2-1m0 94l0-2m-2-21l0-2m0-18l2-1m-1-29l1-2m-1-10l0-2m-1-5l1-1m-1 0l-1-2m2 75l0-2m-4-18l-1-2m0-5l-1-2m1-18l0-2m0-8l1-2m-1-7l0-2m0-6l1-2m8 28l0-2m0-25l0-2m-6 73l0-2m1-49l-1-2m-1-1l0-2m1-6l0-2m-1-2l0-2m0-4l1-2m-1 49l0-2m1-10l-1-2m1-4l0-2m0-3l-1-2m0-2l0-2" stroke="#6a8a50" stroke-width="2.6" stroke-linecap="round" fill="none"/>
<path transform="scale(0.5)" d="M562 411l0-2m1-26l-1-2m3-28l-1-2m4-32l0-2m8-46l-2-1m3-16l1-2m2-7l1-1m-2-3l1-1m-23-7l0-2m-2-9l0-2m15-39l0-2m-9 151l-1-1m5-53l-1-1m1-10l1-1m0-6l0-2m2-10l1-1m1-23l1-2m4-17l0-2m11-27l0-2m0-3l2-1m-33 197l1-1m2-8l1-1m0-56l0-2m2-3l0-2m-2-4l0-2m3-31l0-2m3-27l0-2m0-3l1-2m-2 60l1-1m1-29l1-1m11-50l0-2m9-26l0-2m5-9l1-1m3-18l0-2m-37 160l-1-2m-1-1l0-2m2-15l-1-2m-2-28l2-1m-2-4l0-2m7-48l0-2m2-2l0-2m5-2l0-2m4-10l1-1m10-14l0-2m-29 209l0-2m-2-37l1-2m1-26l0-2m1-23l0-2m-3-50l1-1m5-24l0-2m5-10l1-2m5-5l0-2m3-4l2 0m10-17l2-1m3-13l1-2m-29 209l0-2m9-85l0-2m-1-5l0-2m7-19l1-2m0-10l0-2m0-2l0-2m5-17l2-1m2-10l0-2m3-11l0-2m4-11l1-2m-38 205l0-2m-2-10l0-2m0-19l1-1m1-33l0-2m4-59l1-2m-2-1l0-2m2-14l2-1m-6 102l0-2m-1-4l2-1m0-19l-1-2m0-23l0-2m2-5l-1-2m1-4l-1-1m1-1l0-2m-2-2l0-2m6-37l0-2m7-16l0-2m1-4l0-2m4-7l1-1m10-17l2-1m-32 154l-1-2m0-2l1-2m1-47l0-2m2-47l2-1m7-16l1-2m6-14l2-1m4-9l1-1m6-13l0-2" stroke="#5a3634" stroke-width="2.6" stroke-linecap="round" fill="none"/>
<path transform="scale(0.5)" d="M563 402l0-2m0-15l1-1m-2-2l0-2m3-30l-1-2m2-4l0-2m1-3l-1-2m-1-2l1-2m0-2l0-2m-4 24l0-2m0-2l-1-2m-1-11l0-2m-3 22l0-2m0-23l-1-2m5 98l0-2m-2-2l0-2m1-3l1-1m0-1l-1-2m0-12l0-2m-1-19l1-1m1-11l-1-2m0-7l0-2m1-19l1-2m-6-4l-1-2m1 73l-1-2m2-12l0-2m-2-4l1-2m3-7l-1-1m-2-3l-1-2m1-8l0-2m-5-21l1-2m3-6l0-2m7 30l0-2m0-13l1-2m1-5l2 0m-8 82l0-2m3-16l1-2m-2-5l-2-1m-2-11l0-2m1-5l1-2m-1-2l0-2m-1-3l-1-1m2-11l-1-1m1-12l-1-1m3 39l-1-1m0 0l0-2m0-21l-1-1m-1-12l-2 0" stroke="#8a9a60" stroke-width="2.6" stroke-linecap="round" fill="none"/>
<path transform="scale(0.5)" d="M563 397l-1-2m5-48l-1-2m-1-19l0-2m4-28l0-2m3-11l0-2m1-4l-1-1m10-41l0-2m-27 33l1-2m1-3l-1-2m-1-6l0-2m2-11l0-2m0-10l0-2m-1 0l0-2m11-37l-1-2m-7 144l0-2m0 0l1-2m0-6l0-2m3-1l0-2m2-7l0-2m0-9l0-2m3-41l1-1m2-25l-1-2m9-35l1-1m8-24l0-2m-30 179l0-2m2-27l0-2m0-28l0-2m1-7l-1-1m0-5l2-1m-1-19l-1-2m4-18l0-2m13-38l1-2m8-22l1-1m1-1l1-1m0-4l2-1m-29 178l-2-1m1-20l-1-2m1-6l2 0m-1-12l1-2m8-60l1-2m13-50l-1-1m-28 144l-1-1m2-12l1-1m1-33l0-2m0-47l-1-1m-1-4l1-1m12-42l1-1m10-10l1-2m4-8l0-2m0-1l1-1m-29 261l1-2m-4-89l1-2m-1-69l0-2m0-15l0-2m10-44l1-1m1-6l1-1m4-7l2 0m2-4l1-2m12-19l1-1m-23 159l0-2m3-27l-1-2m0-2l1-2m19-83l0-2m2-11l0-2m5-18l1-2m-37 230l-1-1m0-81l-1-2m3 1l0-2m-1-44l0-2m1-1l0-2m-3 54l1-1m-1-5l-1-1m3-68l-1-1m6-27l1-1m1-7l2-1m6-7l0-2m8-17l0-2m-27 197l-1-2m2-23l-2-1m2-6l0-2m2-31l-1-2m0-8l1-2m4-59l-1-2m12-42l1-1" stroke="#4a2a2a" stroke-width="2.6" stroke-linecap="round" fill="none"/>
<path transform="scale(0.5)" d="M564 392l-1-2m2-22l1-2m3-65l0-2m6-40l0-2m6-20l1-2m-26 38l-1-1m0-17l0-2m-1-5l0-2m2-30l0-2m1-5l-1-2m5-8l0-2m1-4l2-1m-1 0l1-2m4-8l0-2m-4 155l0-2m0-29l-1-2m5-32l1-1m1-39l0-2m-13 106l0-2m1-15l0-2m2-14l0-2m2-50l0-2m5-37l1-2m7-17l1-2m5-8l2 0m-24 240l0-2m0-33l-1-1m2-56l-1-1m1-1l0-2m1-5l1-2m-2-21l1-1m5-25l1-2m-2-5l0-2m13-66l1-2m6-12l1-2m8-27l0-2m1-14l0-2m-38 204l-1-2m3-3l0-2m-2-44l1-1m0-6l0-2m1-19l-1-2m-1-27l1-2m-2-15l0-2m4-9l1-1m21-39l0-2m8-19l1-1m-33 281l1-2m-2-14l0-2m-2-54l0-2m2-38l-2-1m0-15l-1-1m3-9l-1-1m2-8l1-1m-4-5l1-2m1-5l1-2m-2-3l0-2m0-8l0-2m1-4l-1-2m0-25l1-1m30-62l0-2m-21 149l0-2m1-5l1-2m4-36l1-2m2-13l2 0m-1-3l0-2m0 1l1-1m4-14l-1-1m2-7l0-2m9-27l0-2m-33 153l-1-2m1-5l0-2m-2 0l0-2m2-1l0-2m1-11l-1-2m4-30l-1-1m0-15l0-2m-1-8l1-2m2-23l-1-2m3-16l1-1m4-10l1-1m-11 119l-1-1m0-12l0-2m1-30l0-2m1-9l1-2m-3-11l0-2m1-3l1-2m4-22l-1-1m0-1l-1-2m17-41l0-2m-23 212l0-2m0-42l0-2m0-9l-1-1m3-36l-1-2m1-19l1-2m-1-4l0-2m1-34l0-2m15-45l0-2m19-36l-1-2" stroke="#3e2424" stroke-width="2.6" stroke-linecap="round" fill="none"/>
<path transform="scale(0.5)" d="M565 374l-1-2m4-63l1-1m0-2l-1-2m3-11l-1-2m15-60l0-2m0-3l0-2m-30 44l-1-2m3-49l-1-2m4-14l1-1m6 83l0-2m-1-8l0-2m0-21l2-1m0-10l0-2m4-17l0-2m11-33l0-2m-27 124l1-2m1 0l-1-1m1-11l0-2m3-29l0-2m1-3l-1-1m1-13l1-1m1-11l1-1m12-45l0-2m12-25l1-1m-31 247l0-2m1-4l0-2m1-43l1-1m0-27l-1-1m-1-11l1-1m3-18l-1-2m3-7l0-2m2-37l1-2m-1 0l1-1m1-13l1-2m3-14l0-2m2-5l1-1m11-33l-1-2m3-7l0-2m-33 154l0-2m2-59l1-2m-2-10l0-2m-3-9l1-2m1-11l0-2m1-5l0-2m2-7l1-2m30-65l1-1m-37 220l-1-1m1-40l0-2m1-4l0-2m0-6l-1-2m0-10l-1-2m3-41l-1-1m-1-15l1-2m5-25l0-2m8-19l-1-2m10-11l0-2m3-6l2-1m7-15l0-2m2-8l0-2m-28 189l1-1m-1-2l1-2m-1-1l1-1m-2-21l2-1m4-16l1-1m-1-8l1-1m2-9l0-2m1-9l2-1m-1-1l1-2m3-17l-1-2m15-40l0-2m0-13l0-2m1-1l-1-2m-32 251l1-2m-2-7l0-2m-1-91l1-2m1-39l1-1m3-51l-2-1m2-5l0-2m-4 72l1-2m-2-4l0-2m3-3l-1-2m1-44l0-2m1-18l1-2m3-8l0-2m8-15l0-2m2 0l2-1m-23 144l0-2m4-39l-1-2m0-43l1-2m5-27l1-2m-1-2l1-2m0-1l1-2m13-25l1-1" stroke="#603a36" stroke-width="2.6" stroke-linecap="round" fill="none"/>
<path transform="scale(0.5)" d="M565 365l0-2m5-64l-2-1m3-10l2-1m1-24l0-2m5-18l0-2m2-10l1-1m-26 10l-1-1m3-2l-1-2m5-40l-1-2m0 148l1-1m0-30l-1-1m3-9l0-2m0-9l1-2m4-52l1-2m9-38l0-2m4-9l1-2m6-19l0-2m-33 189l-1-2m2-22l0-2m0-7l0-2m3-30l-1-1m1-11l0-2m6-53l0-2m1-8l0-2m1-4l1-2m14-30l1-2m2-1l0-2m-29 246l0-2m-2-66l2-1m6-39l-1-2m2-19l-1-2m1-5l1-1m-1-15l-1-2m2-3l0-2m1-11l1-1m15-53l0-2m2-10l1-1m8-27l0-2m-38 182l0-2m-1-1l1-2m1-4l0-2m1-9l1-2m-2-35l1-2m0-3l-1-2m2-29l0-2m3-41l2-1m17-29l2 0m10-24l0-2m-39 244l0-2m1-4l1-2m0-50l1-2m-1-13l-1-2m2-26l0-2m-2-26l0-2m0-15l1-2m0-4l1-1m-1-15l0-2m4 1l-1-2m2-10l0-2m1-2l1-2m17-27l0-2m-15 170l-1-2m1-2l0-2m-1-16l0-2m1 0l0-2m3-8l-1-2m2-14l0-2m13-74l-1-2m1-4l1-2m2-8l0-2m7-17l0-2m4-18l1-1m-39 167l-1-2m1-31l0-2m3-20l1-1m-1-15l1-2m-2-7l1-2m8-37l1-1m-9 64l0-2m0-24l-1-2m22-65l-1-1m-24 134l0-2m2-5l0-2m1-37l0-2m0-9l0-2m2-13l1-1m-1-6l1-2m5-26l0-2m18-35l1-1m1 1l0-2" stroke="#4a2c2c" stroke-width="2.6" stroke-linecap="round" fill="none"/>
<path transform="scale(0.5)" d="M564 358l0-2m2-41l1-1m2-26l2-1m2-6l-1-2m-16-7l0-2m2-66l1-2m5-16l1-2m0 115l0-2m0-13l0-2m2-18l0-2m3-20l1-1m2-26l0-2m3-7l0-2m-1-7l0-2m9-14l0-2m-26 183l0-2m1-46l-1-2m6-73l0-2m4-33l0-2m3-4l1-2m9-21l1-2m-16 83l-1-2m5-28l-1-2m2-5l1-1m3-12l1-2m14-42l0-2m0-4l1-2m3-11l0-2m-38 149l-1-2m3-35l0-2m0-43l0-2m14-29l1-1m5-10l2 0m9-22l1-1m-36 159l1-1m1-20l0-2m2-13l0-2m-2-26l-1-1m1-21l0-2m37-76l0-2m-29 214l0-2m0 4l1-2m-1-25l-1-2m4-20l0-2m1-18l0-2m2-11l1-2m0-6l-1-2m13-58l1-2m-25 187l-1-2m0-5l-1-2m3-91l1-1m-1-5l0-2m0-3l1-1m-2-6l0-2m2-3l1-1m-1-18l0-2m2-21l-1-1m-3 87l-1-2m6-84l-1-2m-3 152l-2-1m2-77l-1-1m0-12l0-2m1-2l-1-1m3-27l-1-2m15-62l0-2m7-14l1-1m1-5l-1-1m7-15l1-2m3-7l-2-1" stroke="#947260" stroke-width="2.6" stroke-linecap="round" fill="none"/>
<path transform="scale(0.5)" d="M566 340l-1-1m0-18l1-1m3-11l0-2m8-55l1-1m1-1l-1-2m-21-4l1-1m-1-31l0-2m9 68l-1-1m2-16l-1-2m1-7l1-2m3-21l0-2m3-16l2-1m-1-1l1-1m4-18l1-1m7-17l0-2m-31 174l0-2m1-19l0-2m2-41l0-2m1-1l-1-1m3-23l-1-2m1-10l1-2m2-26l0-2m15-30l0-2m-21 250l-1-2m1-80l0-2m0-10l0-2m1-15l0-2m1-9l1-2m1-21l1-2m1-19l0-2m3-24l0-2m1-12l0-2m3-4l0-2m-2-4l1-1m-14 104l0-2m0-9l-1-2m0-5l1-1m-1-10l0-2m2-11l-1-1m0-6l0-2m0-25l0-2m13-56l2-1m1-8l2-1m14-22l1-2m-7 15l0-2m1-1l1-2m5-13l0-2m-29 186l0-2m11-78l0-2m8-35l1-2m-22 96l0-2m-1-19l0-2m3-40l-1-2m2-28l1-2m2-6l-1-2m-6 92l-1-2m2-5l1-1m-2 0l1-2m2-50l0-2m5-34l1-2m17-31l0-2m-30 228l1-2m-1-71l1-1m5-42l0-2m-1-9l-1-1m1-19l0-2m4-23l-1-2m0-3l1-2m6-18l0-2m6-14l1-1m15-27l-1-1" stroke="#8a6a58" stroke-width="2.6" stroke-linecap="round" fill="none"/>
<path transform="scale(0.5)" d="M566 328l-1-2m2-10l0-2m8-40l1-2m-1-6l0-2m-2-4l1-1m-18 1l-1-2m1-35l0-2m6 104l0-2m2-12l0-2m-1-16l1-2m6-57l0-2m7-34l1-1m7-21l0-2m-28 154l1-2m4-60l1-2m0-29l1-2m0-19l1-2m7-18l2 0m0-2l0-2m6-15l1-1m-20 224l-1-2m0-31l1-1m4-72l-1-2m1-18l0-2m3-32l0-2m9-34l1-2m2-6l0-2m1 0l1-2m0-4l1-2m7-17l0-2m4-16l1-2m0-11l0-2m-39 204l0-2m2-78l-1-2m0-37l1-2m5-19l-2-1m2-1l0-2m26-44l0-2m4-15l-1-2m-34 288l-1-2m-2-72l0-2m-1-26l1-2m1-24l1-2m-1-26l-2-1m4-41l0-2m2-15l1-2m4-10l0-2m3 96l0-2m8-57l1-2m11-34l-1-1m6-28l0-2m-35 154l0-2m2-19l0-2m0-62l1-2m5-21l0-2m4-12l2-1m-13 130l-2-1m3-24l-1-1m-1-22l0-2m5-32l-1-2m1-17l1-2m-2-7l0-2m11-21l0-2m11-25l1-2m-28 182l-1-1m1-17l1-2m0-8l1-2m0-11l-2-1m3-29l1-1m-1-16l2-1m-1-11l0-2m2-3l0-2m0-19l0-2m1-2l1-2m7-22l0-2m16-31l0-2m6-7l0-2" stroke="#342020" stroke-width="2.6" stroke-linecap="round" fill="none"/>
<path d="M322 160L325 200L330 240M338.6 165L336 205L332 240M326 185L329 220" stroke="#a8c890" stroke-width="0.6" fill="none"/>
<path d="M329.5 200l.1 2.6.2 3.6.2 4.4.3 4.7.2 4.7.2 4.5.2 3.9.2 3 0 2.6.1 2.2 0 1.9.1 1.8 0 1.7.1 1.6.1 1.8.2 1.9.1 1.9.3 2 .2 1.8.2 1.8.2 1.4.1 1.2.1.5" fill="none" stroke="#70a848" stroke-width="1.5" stroke-linecap="round"/>
<path d="M338.7,112.4 338.1,114.8 337.5,117.3 337.0,119.7 336.5,122.1 336.0,124.6 335.6,127.0 335.1,129.4 334.6,131.9 334.3,134.3 334.0,136.8 333.8,139.2 333.6,141.6 333.3,144.1 333.1,146.5 332.9,148.9 332.9,151.4 332.9,153.8 332.9,156.3 332.9,158.7 332.9,161.1 332.8,163.6 332.6,166.0 332.4,168.4 332.1,170.9 331.9,173.3 331.7,175.8 331.5,178.2 331.3,180.6 331.1,183.1 330.9,185.5 330.8,187.9 330.6,190.4 330.5,192.8 330.3,195.3 330.3,197.7 330.3,200.1 330.3,202.6 330.3,205.0 329.2,205.0 328.8,202.6 328.4,200.1 328.1,197.7 327.7,195.3 327.5,192.8 327.4,190.4 327.2,187.9 327.1,185.5 326.9,183.1 326.7,180.6 326.7,178.2 326.7,175.8 326.6,173.3 326.6,170.9 326.5,168.4 326.5,166.0 326.4,163.6 326.4,161.1 326.3,158.7 326.2,156.3 326.1,153.8 326.0,151.4 325.9,148.9 325.9,146.5 326.0,144.1 326.0,141.6 326.1,139.2 326.1,136.8 326.2,134.3 326.3,131.9 326.6,129.4 326.8,127.0 327.1,124.6 327.3,122.1 327.6,119.7 327.9,117.3 328.8,114.8 329.8,112.4Z" fill="#2e3048" opacity="0.45"/>
<path d="M333 110l-1.1-5.4-1.6-7.7-1.3-6.9-.9-5.3-.7-4.6-.4-3.1M330 120l-1.2-5.4-1.6-7.6-1.2-7-.4-5.6-.1-5 0-3.4M324 125l-1.4-4.8-2-6.6-1.6-5.6-1-3.3-.6-2.3-.4-1.4M341 105l1.6-2.7 2.3-3.8 2.1-3.5 1.6-2.8 1.4-2.5 1-1.7M336 115l2.2-2.5 3.1-3.5 2.7-3 2-2 1.7-1.4 1.1-1M324 180l-.6-4.1-.7-5.8-.7-5.1-.4-3.8-.4-3.1-.2-2.1M334 190l.8-4.1 1.2-5.7 1-5.2.7-4.1.5-3.5.4-2.4" fill="none" stroke="#3a3c5c" stroke-width="0.9" stroke-linecap="round" opacity="0.85"/>
<path transform="scale(0.5)" d="M669 222l0 2m-7 134l-1 2m12-94l0 2m-25-25l-1 2m12 142l0 2m11-125l-2 2m14-75l0 2m-6 56l-1 2m0 29l1 2m-31-19l0 2m42-51l-1 2m-31 53l-2 1m11-55l2 2m-9-48l-1 2m1 57l-2 1m-1-19l-2 1m-2-17l0 2m0-24l2 0m50 3l-1 2m-52 183l-2 1m-1-10l1 2m-2-9l2 1m-3-25l-2 1m34 24l-2 1m1-9l1 2m1-6l1 2" stroke="#30324e" stroke-width="3" stroke-linecap="round" fill="none"/>
<path transform="scale(0.5)" d="M658 329l1 2m4-54l0 2m18-106l-1 2m-28 143l-1 2m18-2l1 2m-3-81l-2 0m-13 8l0 2m5-8l0 2m13 79l2 1m-25-25l-1 2m14-104l2 1m-3-17l0 2m0 53l0 2m-4-20l1 2m-3-5l2 0m-3-8l2 1m-2-17l0 2m-7 45l0 2m-9-34l-2 2m54-9l1 2m-11 23l1 2m-31 131l-2 0m-2-21l0 2m2-5l-2 1m0-17l-2 1m0-6l-2 2m31 48l2 0m1-13l0 2" stroke="#1e2034" stroke-width="3" stroke-linecap="round" fill="none"/>
<path transform="scale(0.5)" d="M676 224l-2 1m5-36l0 2m-8 36l0 2m4 25l-1 2m-19 114l1 2m-2-15l2 2m12-40l0 2m7-67l2 1m-18 35l2 2m13-50l-2 1m-10 93l1 2m-17-62l1 2m12 92l1 2m14-177l0 2m-31 97l1 2m38-53l-2 2m-9 47l-1 2m-12 31l1 2m22-99l-1 2m-13 100l-1 2m-5-132l2 1m-2-12l-2 1m-4-25l2 2m-4-6l2 1m-1-9l1 2m-9 87l-2 0m47-47l-2 0m6-9l2 2m-6 20l-2 1m-47 115l2 0m29 28l0 2m3-13l-2 1m3-12l-2 0" stroke="#2a2c44" stroke-width="3" stroke-linecap="round" fill="none"/>
<path transform="scale(0.5)" d="M678 171l2 1m-1 82l0 2m-3-77l0 2m2 50l-1 2m-20 82l0 2m18-144l1 2m12-28l-2 2m-27 123l-1 2m22-40l-2 2m-24 42l1 2m30-99l0 2m-16 39l-2 1m-7 9l1 2m5 53l1 2m15-126l1 2m1-36l0 2m-18 88l0 2m-3-17l1 2m-7-29l2 1m0 55l-2 0m0-12l-2 1m-3-19l-2 0m-1-20l2 1m-10 45l1 2m-5-22l-1 2m-2-10l1 2m45 7l2 0m19-31l-1 2m-19 39l-2 1m5-4l-2 1m-11 150l-2 2" stroke="#3a3c5c" stroke-width="3" stroke-linecap="round" fill="none"/>
<path transform="scale(0.5)" d="M660 205l-1 2m6 122l0 2m-10 40l0 2m2-52l-1 2m17-107l-2 2m12-44l0 2m-17 33l-2 1m0 59l2 1m12-68l1 2m-32 71l-2 1m28-56l-1 2m4-8l0 2m-1-31l0 2m-18 72l-1 2m31-89l-1 2m2-36l0 2m-37 132l0 2m14-63l-1 2m-2-21l-2 1m-2-8l2 0m-7-28l1 2m5 81l2 0m-5-15l2 1m-6-40l-1 2m-3 61l0 2m-7-26l0 2m-1-9l-2 0m59-34l2 0m-28 45l2 2m3-4l-2 0m13-15l2 0m8-10l0 2m-50 136l-2 0m23 40l-2 1" stroke="#4a4a6e" stroke-width="3" stroke-linecap="round" fill="none"/>
<path transform="scale(0.5)" d="M675 222l-2 1m-24 17l0 2m16 128l1 2m5-59l-2 2m1 31l-2 1m21-162l1 2m-13-10l0 2m-12 29l-2 0m-7-35l0 2m-5 23l1 2m-2-20l2 0m-3-5l1 2m-4 68l0 2m-1-13l-2 1m-3-14l-1 2m0-10l1 2m45-9l-2 0m2-4l2 1m6-13l-1 2m-5 22l-2 1m9-10l1 2m-48 141l-2 0m0-21l-1 2m25 47l-2 0m1-5l1 2" stroke="#24263c" stroke-width="3" stroke-linecap="round" fill="none"/>
<path transform="scale(0.5)" d="M654 388l2 2m5-5l-2 1m3-22l0 2" stroke="#90b868" stroke-width="3" stroke-linecap="round" fill="none"/>
<path transform="scale(0.5)" d="M662 398l2 1m2-48l-2 2m9 4l2 0" stroke="#6aa048" stroke-width="3" stroke-linecap="round" fill="none"/>
<path transform="scale(0.5)" d="M654 387l1 2m0-32l-2 0m1 24l2 2" stroke="#80b050" stroke-width="3" stroke-linecap="round" fill="none"/>
<path transform="scale(0.5)" d="M670 364l1 2" stroke="#5a9040" stroke-width="3" stroke-linecap="round" fill="none"/>
<path d="M328.9 197.2l-.1-1.4-.1-1.7-.1-1.6 0-1.6 0-1.5-.1-1.6 0-1.6 0-1.5-.1-1.6 0-1.6 0-1.5 0-1.6 0-1.6 0-1.5 0-1.6.1-1.6 0-1.5 0-1.6 0-1.6 0-1.5 0-1.6 0-1.6 0-1.5-.1-1.6-.1-1.6 0-1.5-.1-1.6 0-1.6-.1-1.5-.1-1.6 0-1.6 0-1.5 0-1.6.1-1.6 0-1.5.1-1.6 0-1.6 0-1.5.1-1.6 0-1.6.1-1.5.1-1.6.2-1.6.2-1.5.1-1.6.2-1.6.2-1.5.1-1.6.2-1.6.2-1.5.3-1.6.3-1.6.6-1.5.6-1.6.6-1.6.6-1.5.5-1.6.6-1.6.6-1.5.6-1.6.5-1.6.5-1.5.4-1.6.4-1.6.4-1.5.4-1.6.4-1.6.4-1.5.4-1.6.4-1.6.4-1.5.3-1.6.3-1.6.3-1.5.3-1.8.2-1.4M324.2 180.6l-.1-1.4-.2-1.8-.1-1.5-.1-1.6-.1-1.6-.2-1.6-.1-1.5-.1-1.6-.1-1.6-.1-1.6-.1-1.5-.1-1.6-.1-1.6-.1-1.6-.1-1.5-.1-1.6-.1-1.6 0-1.5-.1-1.6-.1-1.6-.1-1.6 0-1.5 0-1.6 0-1.6-.1-1.6 0-1.5 0-1.6 0-1.6-.1-1.5 0-1.6.1-1.6.1-1.6.1-1.5.1-1.6.1-1.6.1-1.6.1-1.5.1-1.6 0-1.6.2-1.6.6-1.5.7-1.6.8-1.6.8-1.5.8-1.6.8-1.6.8-1.6.8-1.5.9-1.6.8-1.6.7-1.6.6-1.5.7-1.6.7-1.6.7-1.5.6-1.6.7-1.6.7-1.6.7-1.5.6-1.6.5-1.6.5-1.6.4-1.5.5-1.6.5-1.6.4-1.6.5-1.5.4-1.6.5-1.6.5-1.5.1-1.8.1-1.4M325.4 178.5l0-1.4-.1-1.8 0-1.6-.1-1.6 0-1.5 0-1.6-.1-1.6 0-1.6-.1-1.6 0-1.6 0-1.6-.1-1.5 0-1.6-.1-1.6 0-1.6 0-1.6-.1-1.6 0-1.5 0-1.6 0-1.6 0-1.6.1-1.6 0-1.6.1-1.6 0-1.5.1-1.6 0-1.6.1-1.6.1-1.6.2-1.6.1-1.5.2-1.6.2-1.6.2-1.6.2-1.6.2-1.6.2-1.6.2-1.5.5-1.6.6-1.6.7-1.6.7-1.6.8-1.6.7-1.6.7-1.5.7-1.6.8-1.6.7-1.6.6-1.6.5-1.6.6-1.5.5-1.6.5-1.6.5-1.6.5-1.6.5-1.6.6-1.6.5-1.5.4-1.6.3-1.6.4-1.6.3-1.6.4-1.6.3-1.5.4-1.6.3-1.6.4-1.6.3-1.6.1-1.8 0-1.4M330 171.7l.1-1.3.1-1.8 0-1.5.1-1.6.1-1.6 0-1.5 0-1.6 0-1.6 0-1.5 0-1.6-.1-1.6 0-1.5 0-1.6 0-1.5 0-1.6.1-1.6.1-1.5.1-1.6.1-1.6.1-1.5.1-1.6.1-1.6.1-1.5.1-1.6.2-1.5.2-1.6.2-1.6.3-1.5.3-1.6.2-1.6.3-1.5.2-1.6.2-1.5.3-1.6.4-1.6.4-1.5.5-1.6.5-1.6.5-1.5.5-1.6.5-1.6.5-1.5.5-1.6.5-1.5.4-1.6.4-1.6.2-1.5.3-1.6.2-1.6.3-1.5.2-1.6.3-1.6.3-1.5.2-1.6.2-1.5.2-1.6.2-1.6.2-1.5.2-1.6.2-1.6.2-1.7.2-1.4M333.2 180.8l.2-1.4.3-1.8.2-1.6.2-1.6.2-1.5.3-1.6.2-1.6.2-1.6.3-1.6.2-1.6.2-1.6.1-1.6.1-1.6 0-1.6.1-1.6 0-1.5.1-1.6 0-1.6 0-1.6.1-1.6.1-1.6.2-1.6.3-1.6.2-1.6.2-1.6.3-1.6.2-1.5.3-1.6.2-1.6.2-1.6.4-1.6.4-1.6.4-1.6.4-1.6.4-1.6.3-1.6.4-1.6.4-1.5.5-1.6.3-1.6.4-1.6.3-1.6.3-1.6.3-1.6.3-1.6.3-1.6.3-1.6.3-1.6.3-1.5.2-1.6 0-1.6-.1-1.6 0-1.6-.1-1.6-.1-1.6 0-1.6-.1-1.6-.1-1.6 0-1.6-.1-1.5 0-1.6 0-1.6-.1-1.6 0-1.6 0-1.8-.1-1.4M328.7 203.7l-.3-1.3-.3-1.8-.3-1.6-.3-1.5-.3-1.6-.2-1.6-.2-1.5-.1-1.6-.1-1.6-.1-1.5-.2-1.6-.1-1.6-.1-1.5-.1-1.6-.1-1.6-.1-1.5 0-1.6 0-1.6-.1-1.5 0-1.6 0-1.6-.1-1.5 0-1.6 0-1.6-.1-1.5 0-1.6 0-1.6-.1-1.5 0-1.6 0-1.6-.1-1.5 0-1.6-.1-1.6 0-1.5 0-1.6 0-1.6 0-1.5.1-1.6 0-1.6.1-1.5 0-1.6.1-1.6.1-1.5 0-1.6.1-1.6.1-1.6.2-1.5.2-1.6.2-1.6.2-1.5.2-1.6.2-1.6.2-1.5.2-1.6.3-1.6.4-1.5.7-1.6.7-1.6.7-1.5.7-1.6.7-1.6.7-1.5.7-1.6.7-1.6.6-1.5.6-1.6.6-1.6.4-1.5.5-1.6.5-1.6.6-1.7.4-1.4M323.8 162.9l-.1-1.4 0-1.8 0-1.5 0-1.6-.1-1.6 0-1.6 0-1.6 0-1.5 0-1.6 0-1.6 0-1.6.1-1.5.1-1.6 0-1.6.1-1.6.1-1.5 0-1.6.1-1.6.1-1.6.2-1.5.2-1.6.2-1.6.2-1.6.2-1.5.2-1.6.3-1.6.2-1.6.2-1.6.4-1.5.6-1.6.7-1.6.8-1.6.8-1.5.8-1.6.8-1.6.7-1.6.8-1.5.7-1.6.7-1.6.6-1.6.6-1.5.5-1.6.6-1.6.5-1.6.6-1.6.5-1.5.6-1.6.5-1.6.4-1.6.4-1.5.4-1.8.3-1.4M331.6 192.8l.1-1.4.2-1.7.1-1.6.2-1.5.2-1.6.1-1.5.2-1.6.1-1.5.2-1.6.2-1.5.2-1.6.2-1.5.2-1.6.2-1.5.1-1.6.2-1.5.2-1.6.2-1.5.1-1.6.1-1.5 0-1.6 0-1.5 0-1.6.1-1.5 0-1.6 0-1.5 0-1.6 0-1.5.1-1.6.1-1.5.2-1.5.1-1.6.2-1.5.2-1.6.2-1.5.1-1.6.2-1.5.2-1.6.2-1.5.3-1.6.3-1.5.3-1.6.4-1.5.3-1.6.3-1.5.3-1.6.3-1.5.4-1.6.3-1.5.3-1.6.3-1.5.4-1.6.3-1.5.3-1.6.4-1.5.3-1.6.4-1.5.3-1.6.2-1.5.1-1.6 0-1.5 0-1.6.1-1.5 0-1.6 0-1.5 0-1.5.1-1.6 0-1.5.1-1.6 0-1.5 0-1.6.1-1.5 0-1.6.1-1.5 0-1.6 0-1.5.1-1.6 0-1.5 0-1.6-.1-1.5-.1-1.8-.1-1.3M330 152.2l0-1.4.1-1.8.1-1.5.2-1.6.2-1.5.1-1.6.2-1.6.2-1.5.2-1.6.2-1.5.2-1.6.2-1.6.3-1.5.3-1.6.4-1.6.3-1.5.4-1.6.4-1.5.3-1.6.4-1.6.3-1.5.4-1.6.5-1.5.6-1.6.5-1.6.5-1.5.6-1.6.5-1.6.6-1.5.5-1.6.5-1.5.5-1.6.3-1.6.3-1.5.2-1.6.2-1.5.2-1.6.2-1.6.2-1.5.1-1.6.2-1.6.2-1.5.1-1.6.1-1.5.1-1.6.2-1.6.1-1.5.1-1.6.1-1.5.1-1.6.1-1.8.1-1.3M330.2 180.8l.1-1.3.1-1.8.2-1.6.1-1.5.1-1.6.1-1.5.2-1.6.1-1.6.1-1.5.2-1.6.1-1.5.1-1.6 0-1.6 0-1.5.1-1.6 0-1.5 0-1.6 0-1.6 0-1.5.1-1.6 0-1.5.2-1.6.1-1.6.2-1.5.2-1.6.2-1.5.1-1.6.2-1.6.2-1.5.2-1.6.2-1.5.3-1.6.3-1.6.3-1.5.4-1.6.3-1.5.3-1.6.4-1.6.3-1.5.3-1.6.4-1.5.4-1.6.5-1.6.5-1.5.4-1.6.5-1.5.5-1.6.4-1.6.5-1.5.4-1.6.3-1.5.3-1.6.1-1.5.2-1.6.1-1.6.1-1.5.2-1.6.1-1.5.2-1.6.1-1.6.1-1.5.1-1.6.1-1.5.1-1.6.1-1.8.1-1.3M325.2 187.7l-.2-1.3-.2-1.8-.2-1.6-.2-1.5-.1-1.6-.1-1.6-.1-1.5-.1-1.6-.1-1.6-.1-1.5-.1-1.6-.1-1.6-.1-1.5-.1-1.6-.1-1.5-.1-1.6 0-1.6-.1-1.5-.1-1.6 0-1.6-.1-1.5-.1-1.6 0-1.6-.1-1.5 0-1.6-.1-1.6 0-1.5 0-1.6 0-1.5 0-1.6 0-1.6 0-1.5 0-1.6.1-1.6 0-1.5.1-1.6.1-1.6.1-1.5.2-1.6.1-1.6.1-1.5.2-1.6.1-1.5.1-1.6.4-1.6.4-1.5.8-1.6.8-1.6.8-1.5.8-1.6.8-1.6.8-1.5.7-1.6.8-1.6.7-1.5.7-1.6.7-1.6.6-1.5.6-1.6.7-1.5.6-1.6.6-1.6.6-1.5.7-1.6.6-1.8.4-1.3M330.6 179.4l.1-1.4.2-1.8.1-1.5.1-1.6.2-1.6.1-1.6.2-1.5.1-1.6.2-1.6.1-1.6.1-1.5 0-1.6 0-1.6 0-1.6.1-1.6 0-1.5 0-1.6 0-1.6.1-1.6 0-1.5.2-1.6.2-1.6.1-1.6.2-1.6.2-1.5.2-1.6.2-1.6.2-1.6.1-1.5.3-1.6.3-1.6.3-1.6.4-1.6.3-1.5.4-1.6.3-1.6.3-1.6.4-1.5.3-1.6.4-1.6.5-1.6.4-1.5.5-1.6.4-1.6.5-1.6.4-1.6.5-1.5.4-1.6.4-1.6.3-1.6.2-1.5.1-1.6.1-1.6.1-1.6.2-1.6.1-1.5.1-1.6.1-1.6.1-1.6.1-1.5.1-1.6.1-1.6.1-1.6.1-1.6.1-1.5 0-1.6.1-1.6.1-1.6 0-1.7 0-1.4M334.3 168.6l.2-1.4.1-1.8.2-1.5.1-1.6 0-1.6 0-1.6 0-1.5 0-1.6-.1-1.6 0-1.5 0-1.6 0-1.6 0-1.6.1-1.5.2-1.6.1-1.6.2-1.6.1-1.5.2-1.6.1-1.6.1-1.5.2-1.6.2-1.6.2-1.6.3-1.5.3-1.6.3-1.6.3-1.6.3-1.5.3-1.6.2-1.6.3-1.5.3-1.6.3-1.6.4-1.6.3-1.5.3-1.6.4-1.6.3-1.6.3-1.5.4-1.6.3-1.6.2-1.5.1-1.6.1-1.6 0-1.6.1-1.5 0-1.6.1-1.6.1-1.6.1-1.5 0-1.6.1-1.6.1-1.5.1-1.6 0-1.6.1-1.6.1-1.5.1-1.8 0-1.4" fill="none" stroke="#262840" stroke-width="1.0" stroke-linecap="round" opacity="0.9"/>
<path transform="scale(0.5)" d="M657 395l-1-1m-7-35l0-2m21-15l1-1m-15 60l0-2m-2-4l1-2m-3-11l-1-1m0-30l0-2m13 31l-1-2m-15-34l0-2" stroke="#6aa048" stroke-width="2.6" stroke-linecap="round" fill="none"/>
<path transform="scale(0.5)" d="M657 389l-1-1m1-21l0-2m0-36l1-1m-1-44l0-2m7-59l0-2m15-48l0-2m-35 130l0-2m1-14l-1-2m2-51l0-2m17-36l2-1m2-1l1-1m5-21l2-1m4-11l0-2m2-6l-1-2m-31 168l0-2m1-24l1-2m1-14l1-1m-2-18l0-2m10-31l0-2m3-12l2 0m0 1l0-2m0-2l0-2m1-1l2-1m4-6l-1-2m5-23l0-2m-16 151l1-1m-1-13l1-2m-2-14l0-2m3-18l1-2m2-19l-1-2m15-66l1-2m1-6l1-1m1-14l0-2m-14 183l0-2m0-3l1-2m1-3l0-2m-1-13l0-2m4-44l0-2m4 1l-1-1m3-23l1-1m3-7l-1-2m2-6l1-1m3-18l1-2m-1-20l0-2m0-8l-1-1m0-2l-1-2m2-2l-1-2m-37 169l-2-1m2-16l0-2m0-20l-2-1m9-69l0-2m15-38l1-2m-24 65l1-2m5-22l0-2m3-7l1-2m12-23l-1-1m4-10l-1-2m4-8l0-2m-16 203l1-2m3-4l1-2m2-26l-1-1m-1-5l0-2m1-7l0-2m0-22l1-1m0-3l1-2m1-16l0-2m1-8l0-2m3-12l0-2m5-23l1-2m6-57l-1-2m2-15l-2 0m2-10l-1-2m-27 148l0-2m1-4l2-1m14-65l1-1m-1-5l1-2m8-43l1-1m1-22l-1-1m-24 170l1-1m3-50l0-2m5-24l1-1m11-41l0-2m2-24l0-2m-1-3l1-2m-1-3l-1-1m-36 218l1-2m-4-48l-1-2m2-71l-1-2m5-17l1-1m14-32l0-2m6-8l0-2m1-4l-1-2m0 0l1-1m1-3l1-2m-14 181l1-2m4-49l0-2m0-17l-1-2m7-20l-1-1m11-47l0-2m2-8l0-2m0-4l1-2m0-23l0-2m4-32l-1-2m-18 179l-1-2m2-29l0-2m1-7l-1-2m6-23l-2-1m1-11l0-2m2-5l1-1m1-4l1-2m4-37l1-2m-2-4l2-1m0-10l-1-1" stroke="#2a2c44" stroke-width="2.6" stroke-linecap="round" fill="none"/>
<path transform="scale(0.5)" d="M659 388l0-2m-2-6l0-2m-1-24l1-2m1-10l-1-1m1-5l0-2m-5-47l2 0m2-15l1-1m0-4l0-2m1-13l-2-1m2-1l-1-1m1-14l2 0m1-4l1-2m11-36l1-2m1-10l1-1m0-3l2-1m1-12l1-1m-33 187l1-2m-3-10l1-2m-4-33l-1-1m2-33l0-2m2-7l-1-2m0-22l1-2m2-8l1-1m3-4l0-2m4-3l0-2m7-14l1-1m4-14l2-1m7-19l1-2m3-15l1-2m-30 204l0-2m-3-10l1-2m-2-25l0-2m3-4l-2-1m0 0l0-2m2-16l0-2m-1-4l1-1m-2-2l1-2m0-11l1-1m2-28l1-1m7-14l0-2m18-49l0-2m8-32l1-1m-26 180l0-2m-1-1l-1-1m1-17l0-2m9-70l1-2m5-14l1-1m2-9l1-1m0-4l1-2m-1-6l1-2m3-10l0-2m-14 178l1-2m1-40l-1-1m2-3l0-2m0-4l1-1m0-9l0-2m3-21l1-1m-1 0l1-2m1-9l2-1m-27 117l-1-1m-1-8l-1-1m0-36l0-2m-1-17l1-2m2-48l1-2m2-3l0-2m0-4l0-2m11-25l-1-2m0-1l0-2m9-19l1-1m1-4l0-2m-31 82l2-1m-1 0l1-2m4-24l1-2m4-9l1-2m12-32l1-1m1 0l1-1m-9 184l1-1m4-29l0-2m0-7l1-1m3-59l-1-1m1-3l-1-2m4-8l0-2m2-23l0-2m5-8l0-2m2-9l1-1m-3 1l1-2m1-3l1-2m1-6l0-2m-1-4l0-2m0-28l0-2m2-2l-1-1m1-1l0-2m-1-2l0-2m-24 124l0-2m1-5l1-2m-1-8l0-2m9-22l-1-1m-1-3l0-2m4-11l1-1m8-35l2-1m-2-2l1-1m0-6l1-2m-24 159l2-1m-2-16l0-2m2-6l-1-2m2-14l1-1m1-10l1-1m2-25l1-2m1-7l1-2m2-16l2-1m2-5l0-2m4-12l0-2m2-24l0-2m0-5l1-1m-38 183l1-2m-2-50l-1-2m-1-2l0-2m0-14l0-2m1 0l0-2m0-10l-1-1m1 0l0-2m3-3l-1-2m8-37l-1-2m1-3l1-1m2-4l0-2m0-2l2-1m2-8l0-2m13-25l1-1m-13 166l0-2m-2 1l-1-2m1-1l0-2m1-4l2-1m0-13l0-2m-1-20l2-1m5-36l1-2m6-29l0-2m0-3l1-1m4-9l0-2m1-7l0-2m1-15l-1-2m0-3l0-2m3-1l0-2m0-17l0-2m-17 154l-1-1m5-50l-1-2m4-8l2-1m-4-8l1-2m4-17l0-2m6-30l-1-2" stroke="#24263c" stroke-width="2.6" stroke-linecap="round" fill="none"/>
<path transform="scale(0.5)" d="M657 385l0-2m1 21l-1-1m-5-1l1-1m-4-61l0-2m12 12l-1-1m-10 26l-1-1m2-4l0-2m10-12l0-2" stroke="#80b050" stroke-width="2.6" stroke-linecap="round" fill="none"/>
<path transform="scale(0.5)" d="M657 383l0-2m3 28l-1-2m-4-16l-1-2m0-3l-1-1m11-8l0-2m3-6l0-2m-16 2l-1-1" stroke="#5a9040" stroke-width="2.6" stroke-linecap="round" fill="none"/>
<path transform="scale(0.5)" d="M655 376l1-2m3-20l1-1m-3-2l0-2m-2-47l1-2m2-45l0-2m1-13l0-2m7-17l0-2m3-9l0-2m4-15l1-1m5-13l0-2m-32 154l0-2m-4-43l1-2m2-28l-1-2m0-10l1-1m-1-1l-1-2m15-33l0-2m5-8l1-2m7-16l0-2m0-1l0-2m3 0l0-2m8-33l1-2m-32 209l-1-2m1-17l0-2m-2-8l0-2m0-2l0-2m4-70l1-2m7-25l1-2m14-32l1-2m2-19l1-2m5-13l0-2m0-1l0-2m-26 184l1-2m1-12l0-2m-1-8l2 0m-2-17l0-2m1-4l1-2m-2-10l2-1m13-51l-1-2m3-7l0-2m1-1l-2-1m7-38l2-1m-10 127l0-2m-1-4l1-2m10-42l0-2m-1-6l2 0m4-18l-1-2m0-29l-2-1m1-13l1-2m0-8l0-2m-37 221l0-2m0-4l-1-2m-2-20l0-2m1-19l0-2m1-11l0-2m-3-1l1-2m0-17l0-2m2-9l-1-2m0-10l0-2m2-4l0-2m2-18l0-2m9-21l0-2m0-5l2 0m5-17l0-2m3-2l-1-1m-27 120l1-2m1-5l-1-1m0-15l-1-2m2-7l0-2m2-18l-1-2m6-25l1-1m3-9l1-2m5-12l1-1m1-7l2-1m-1-2l0-2m6-9l1-2m0-6l1-1m-8 170l-1-2m1-4l1-1m2-34l1-2m1-10l-1-2m3-35l-2-1m6-12l0-2m-1 1l0-2m4-20l0-2m4-19l1-2m1-17l-1-2m0-35l-1-2m1-11l-1-1m-17 117l-2 0m12-35l1-2m1-6l0-2m0-4l-1-1m7-33l-1-2m-1-8l1-1m-21 183l-1-1m-2-3l0-2m0-7l0-2m1 1l0-2m2-35l1-1m2-18l0-2m3-16l0-2m3-6l-2-1m7-17l0-2m7-31l0-2m2-9l0-2m-3-6l0-2m-39 193l0-2m1-7l0-2m1-10l0-2m0-3l-1-2m-1-18l0-2m0-21l0-2m1-4l-1-1m1-45l1-2m5-11l1-2m5-9l1-2m1-10l2 0m4-10l1-1m9-25l0-2m-12 158l-2-1m0-15l1-1m4-38l1-2m4-23l2-1m1-14l1-2m8-35l-1-1m0-3l0-2m0-18l1-1m3-8l0-2m-1-8l0-2m-20 180l-1-1m3-20l0-2m-1-2l1-1m1-5l0-2m2-28l0-2m11-56l1-1m0-7l1-2m0-18l0-2m0-13l0-2" stroke="#4a4a6e" stroke-width="2.6" stroke-linecap="round" fill="none"/>
<path transform="scale(0.5)" d="M657 373l-1-1m-1-48l1-2m1-11l0-2m1-6l1-2m-3-5l0-2m0-12l-1-2m0-3l1-2m3-34l0-2m10-27l0-2m1-6l2-1m0-1l-1-2m4-12l2 0m-29 173l1-2m-1-3l0-2m-3-34l1-1m0-3l-2 0m1-22l1-2m-3-1l-1-1m2-7l0-2m1-33l-1-1m17-45l1-2m16-39l0-2m-27 199l-2-1m1-32l0-2m1-41l0-2m-2-19l1-2m2-13l1-1m3-13l2-1m1-2l1-1m11-38l1-2m3-1l-1-2m5-11l2-1m1-10l0-2m-1-6l1-1m-20 191l-1-1m-2-4l2-1m-1-7l1-1m0-28l0-2m2-14l-1-2m1-23l0-2m4-17l0-2m1 2l0-2m-3-5l0-2m10-19l-1-2m4-5l0-2m3-13l0-2m-1-4l1-1m0-9l0-2m5-22l1-2m-16 192l0-2m3-42l1-2m3-42l2-1m1-5l0-2m6-24l0-2m-1-5l0-2m1 1l0-2m4-6l0-2m-1-5l1-2m1 1l-1-2m-2-5l2-1m-1-9l1-2m-2-16l-1-1m2-3l0-2m-1-6l2-1m-37 220l-1-2m-2-16l0-2m0-9l1-1m-2-47l2-1m-1-5l-1-2m1-11l1-2m-1-10l0-2m0-13l0-2m7-16l1-2m3-12l1-2m8-13l1-1m-23 123l-1-1m0-4l0-2m-1-3l0-2m0-10l0-2m0-2l-1-1m5-49l1-2m17-42l0-2m7-25l1-2m-15 210l1-2m3-27l0-2m3-28l-1-2m3-7l-2-1m1-1l2-1m-3-4l1-1m13-78l0-2m4-19l1-2m1-2l0-2m-1-28l0-2m0-28l-1-1m-28 152l0-2m5-39l2-1m9-29l0-2m3-4l0-2m6-32l1-2m2-14l-1-1m1-22l1-2m-27 208l-1-1m3-49l0-2m0-4l0-2m0-4l1-2m1-5l0-2m3-9l-1-2m2-14l1-2m10-43l1-1m1-3l-1-2m3-9l0-2m-2-9l1-1m3-1l-1-1m-39 149l1-2m-1-22l0-2m-1-11l0-2m4-61l1-1m2-6l2-1m7-17l0-2m7-15l2 0m-10 169l1-1m1-13l1-1m3-14l-2-1m0-12l-1-1m1-18l1-2m-1 1l1-2m1-14l-1-1m1-1l-1-2m0-1l0-2m3-8l1-2m4-5l0-2m-1-15l1-1m9-32l2 0m1-14l-1-1m0-5l-1-2m1-25l2-1m2-15l1-1m-22 189l1-2m1-42l1-1m1-6l-1-2m3-20l-1-2m6-24l1-2m3-19l1-1m2-20l1-1m0-32l0-2" stroke="#30324e" stroke-width="2.6" stroke-linecap="round" fill="none"/>
<path transform="scale(0.5)" d="M656 370l0-2m1-35l0-2m0-2l1-2m-1-13l-2-1m0-22l1-2m0-10l0-2m0-13l1-2m0-1l0-2m0 0l0-2m1-12l2 0m1-12l0-2m5-14l1-2m15-55l1-1m-38 146l-1-1m0-9l1-2m0-29l0-2m-1-5l0-2m0-16l1-1m4-8l-1-2m2-2l1-2m3-7l-1-2m5-5l1-2m8-20l2-1m14-44l2 0m-1-1l-1-2m-32 207l-1-2m-1-2l0-2m1-44l0-2m0-3l0-2m1-21l0-2m1-17l2-1m-1-6l0-2m8-24l1-1m11-22l-1-1m5-15l1-1m1-10l1-2m3-16l1-2m-23 133l1-2m-3-6l1-2m6-12l0-2m0-3l0-2m4-24l1-2m-1-3l0-2m14-54l1-1m-1 0l0-2m-1-12l1-2m-19 213l1-2m1-8l1-2m-2 1l1-2m3-20l0-2m1-5l0-2m0-4l2 0m-2-4l0-2m2-19l0-2m3-11l-1-2m-1-2l1-1m11-54l0-2m7-22l-2-1m-37 194l0-2m-3-26l0-2m-1-30l0-2m0-3l0-2m1-50l1-2m1-11l1-2m3-23l1-1m0-3l2-1m1-6l2-1m7-16l0-2m2-4l-1-2m-23 129l-1-2m-2-4l1-2m-1-13l1-1m-1-24l2-1m1-6l2 0m-2-3l0-2m14-54l0-2m18-45l2-1m-15 192l0-2m4-30l-1-1m1-25l2-1m-2-9l0-2m1-6l1-2m2-17l-2-1m4-11l1-1m9-62l0-2m0-3l-2 0m3-12l0-2m-28 133l1-2m1-11l2-1m-1-8l0-2m3-26l0-2m3-8l1-1m-1-2l2-1m12-34l-1-2m2-11l0-2m-1-1l2-1m2-28l-1-2m0-2l-1-2m2-4l0-2m-24 193l1-2m-1-11l1-2m-1-10l2 0m-1-7l-1-2m10-70l1-2m0-5l1-2m8-24l1-2m0-2l1-1m1-35l0-2m-39 186l-1-2m2-4l-1-1m0-12l-1-2m-2-14l0-2m1-22l-1-2m3-28l-1-2m-1-2l1-1m4-7l-1-1m12 107l1-2m1-3l0-2m1-25l0-2m2-31l1-1m2-33l1-2m1-2l0-2m2-9l0-2m2-1l1-2m11-67l1-2m0-21l0-2m-18 197l0-2m1-2l-1-1m-1-12l-1-1m0-8l0-2m4-30l1-1m-1-10l0-2m11-44l1-1m1-21l0-2m-2-3l1-1m2-21l0-2m0-1l0-2m2-21l1-2" stroke="#1e2034" stroke-width="2.6" stroke-linecap="round" fill="none"/>
<path transform="scale(0.5)" d="M657 363l1-2m-1-21l1-2m8 21l2 0m-1-4l1-2m-15 27l1-2m-2-16l0-2m11 26l-1-1m-1-29l0-2m1-11l1-1" stroke="#90b868" stroke-width="2.6" stroke-linecap="round" fill="none"/>
<path transform="scale(0.5)" d="M655 359l1-2m0-9l1-2m-1-25l0-2m1-3l-1-1m-1-7l0-2m0-9l1-1m10-69l-1-2m4-17l0-2m5-6l0-2m0-14l1-1m4-13l1-2m-1-2l1-2m1-6l1-2m-35 197l0-2m1-6l0-2m-2-2l0-2m1-3l1-1m-2-2l0-2m1-6l0-2m-2 1l1-2m-1-9l0-2m1-1l0-2m-2-31l0-2m1 0l0-2m-3-2l1-2m2-19l0-2m14-37l1-1m12-28l0-2m5-15l0-2m4-8l0-2m4-17l-1-2m-32 222l-1-2m-1-18l0-2m0 0l0-2m2-10l-1-2m-2-21l1-1m2-27l0-2m2-12l0-2m0-19l0-2m4-8l0-2m11-26l1-2m6-14l0-2m7-27l-1-2m3-11l-1-1m-24 200l1-2m0-3l0-2m0-4l0-2m-2-6l0-2m2-21l1-2m1-35l0-2m2-9l0-2m3-14l-1-2m1 0l2-1m2-12l1-1m-2 108l-1-2m4-16l0-2m2-32l-1-2m6-18l-2-1m5-11l1-2m6-51l0-2m-40 147l1-2m-1-26l0-2m-1 0l0-2m2-16l-1-2m1-6l-1-2m3-21l0-2m-8 43l-1-2m5-1l2-1m-5-6l0-2m3-16l-2 0m2-13l1-1m-1-2l0-2m0-7l1-1m2-1l1-1m-2-8l2 0m10-19l1-1m1-5l1-1m13-34l-1-2m1-8l1-1m-17 201l-1-2m5-9l-1-2m4-36l-1-1m2-28l0-2m1 0l-1-2m5-34l1-1m1-9l1-2m7-42l-1-1m0-12l1-2m1-28l0-2m-2-12l1-1m-26 173l0-2m2-6l-1-2m-2-3l2-1m1-20l0-2m1-5l0-2m0-1l2-1m4-11l0-2m0-19l0-2m4 1l2-1m8-33l2-1m-1-15l0-2m-24 187l0-2m0-2l0-2m2-9l0-2m2-52l1-1m3-20l-1-2m0-4l-1-2m-2-3l2 0m3-15l1-2m6-21l0-2m3-6l1-2m-32 148l0-2m0-3l1-1m-3-31l0-2m-2-7l1-1m-4-9l2-1m0-29l1-2m0-2l0-2m1-19l1-1m0-9l0-2m1-4l0-2m20-45l1-2m-5 126l-1-2m1-10l1-1m4-28l-1-1m8-37l0-2m1-2l0-2m3-9l2-1m5-66l1-2m-18 180l2 0m-3-12l1-1m0-18l-1-1m1-7l-1-1m2-14l0-2m1-10l1-2m2-10l0-2m2-5l0-2m4-24l1-2m1-4l0-2m0-5l1-1m3-39l0-2m0-6l-1-2m0-4l1-1" stroke="#3a3c5c" stroke-width="2.6" stroke-linecap="round" fill="none"/>
<path d="M383.2 200l.2 2.5.2 3.3.3 4 .4 4.5.3 4.6.4 4.6.3 4.4.4 4.2.4 4.4.4 4.6.4 4.6.4 4.5.4 4 .3 3.3.2 2.5" fill="none" stroke="#78b060" stroke-width="1.3" stroke-linecap="round"/>
<path d="M383.2 201.8l-.6-9.3-.9-13.5-.9-15-.8-14-.7-12.4-.7-12.1-.5-12.4-.1-13.1.5-14.8.9-16 1.1-15.4 1.1-13.1 1.1-10.5 1.3-8.8 1.2-7 .8-4.9M383.2 201.8l-.5-9.3-.7-13.5-.7-15-.3-14 0-12.2.2-11.7.6-12.2 1.2-13.9 2.2-17.7 3-20.4 3-18.9 2-13M383.2 201.8l.1-9.3 0-13.5.3-15 .4-14 .6-12.2.6-11.8 1.1-12.3 1.7-13.7 3-17.2 3.9-19.6 3.8-18 2.6-12.5M383.2 201.8l.2-9.3.3-13.5.4-15 .9-14 1.3-12.5 1.7-12.1 1.9-12.4 2.1-13 2.5-15.2 2.9-16.7 2.7-15.1 1.9-10.5M383.2 201.8l.2-7.3.3-10.5.7-12 1.6-12 2.4-11.8 3.1-12.3 3.9-12.7 4.6-13.2 6.3-15.1 7.7-16.4 7.3-14.9 5-10.4M383.2 201.8l.3-7.3.3-10.5.8-12 1.4-12 2.1-11.7 2.6-12.3 3.3-12.8 4-13.2 5.7-15.2 6.9-16.8 6.6-15.2 4.6-10.5M383.2 201.8l-.7-9.3-1.1-13.5-1.2-15-1.2-14-1.3-12.6-1.6-12.4-1.3-12.4-.8-12.6-.1-14.1.5-15.1.6-13.5.4-9.4M383.2 201.8l-1-7.6-1.5-10.8-1.8-12.1-1.9-11.3-2.2-10.3-2.5-10.4-2.4-10-1.9-9.3-1.3-9.1-1-8.9-.6-7.6-.5-5.4M383.2 201.8l-1.3-5.5-1.9-7.9-2.3-9.1-2.7-9.3-3.4-9.8-4-10.7-4.1-10.5-3.5-9-3-7.5-2.6-6.6-2.2-5.3-1.6-3.8M383.2 201.8l-1.9-3.7-2.8-5.3-3.2-6.3-3.3-6.5-3.5-7.2-3.8-8.1-3.7-8-3-6.7-2.3-5.4-1.8-4.6-1.4-3.6-1-2.6M383.2 201.8l.7-5.6.8-7.9 2.1-9.5 4.8-10.6 9.5-13.1 12.9-15.6 12.7-14.4 8.7-10M383.2 201.8l1.4-5.4 2-7.8 2.5-9.1 2.9-9.5 3.9-11.1 4.8-12.7 4.5-11.8 3.1-8.1M383.2 201.8l-.3-9.3-.6-13.5-.3-15 0-14 .5-12.9.8-12.8 1.2-12.5 1.5-11.8 2.3-11.6 2.9-11.5 2.9-9.9 1.9-7M383.2 201.8l-.6-9.6-.8-13.8-.9-15.1-.9-13.3-.9-10.9-.9-10.2-1-9.5-1.2-9.4-1.5-9.9-1.7-10.1-1.7-8.8-1.1-6.2M383.2 201.8l-.2-7.6-.3-10.8-.2-12.1.5-11.3 1.3-10.4 1.9-10.3 2-10 1.8-9.3 1.5-8.9 1.4-8.6 1.2-7.3.9-5.2M383.2 201.8l-.4-7.6-.6-10.8-.7-12.1-.5-11.3-.5-9.9-.4-9.6-.3-9.8.2-10.7.9-13 1.5-14.5 1.6-13.3 1-9.2M383.2 201.8l-.3-6.7-.4-9.5-.4-10.7-.1-9.9.2-9.2.4-9.4.6-8.7.8-7.7 1.2-6.5 1.4-5.7 1.4-4.6 1-3.2M383.2 201.8l-.5-5.8-.7-8.2-.9-9.2-1.1-8.6-1.4-7.9-1.7-7.8-1.6-7.5-1.3-6.8-.8-6.2-.6-5.7-.3-4.7-.3-3.4" fill="none" stroke="#a0c498" stroke-width="0.6" opacity="0.9"/>
<path transform="scale(0.5)" d="M758 269l-1-2m-3-46l0-2m3-1l0-2m1-24l-2-1m2-20l0-2m-1-25l2-2m-2-5l1-2m1-7l1-2m-1-18l1-2m3-10l0-2m1-12l0-2m2-24l0-2m-5 208l1-2m2-21l0-2m1-20l-1-2m1-10l0-2m2-17l0-2m6-26l-1-2m7-47l0-2m3-12l0-2m2-17l1-2m-16 210l0-2m2-29l-1-2m5-42l1-2m1-18l0-2m7-33l0-2m16-69l1-2m-3-3l2-2m3-9l1-2m-25 169l-1-2m3-2l-1-2m0-3l-1-2m9-45l1-2m5-22l-1-2m5-35l1-2m4-13l0-2m-1-3l0-2m-24 197l-1-2m2-7l1-2m1-6l1-2m20-60l0-2m7-11l2-1m16-40l2-1m1-8l2-1m-53 134l1-2m3-14l-1-2m37-99l0-2m4-8l1-2m4-14l1-2m1-3l2-1m-79 123l0-2m-5-32l1-2m-1-2l0-2m-1-2l1-2m-1-20l-1-2m4 0l-1-2m-2-10l0-2m1-14l-1-2m2-10l1-2m-2-8l0-2m5 173l-2-1m0-2l-1-2m-7-32l1-2m-8-29l1-2m-1-14l-2-1m-4-13l1-2m1-3l0-2m6 103l0-2m-5-12l-1-2m-3-8l0-2m-11-30l-1-2m-7-18l-2-1m0 53l-1-2m103 16l1-2m4-4l1-2m3 0l1-2m13-20l2-1m-53 74l2-1m2-9l1-2m24-63l1-2m-48 15l1-2m1-17l-2-2m2-14l0-2m2-6l1-2m1-19l0-2m10-51l-1-2m1-1l0-2m9-28l0-2m-30 184l0-2m3 0l0-2m-3-19l-1-2m-1-35l-1-2m-2-15l0-2m-2-17l-2-1m0-3l0-2m-10-59l0-2m33 123l1-2m5-29l0-2m1-5l1-2m3-7l0-2m-27 33l1-2m4-5l0-2m0-16l0-2m-1-13l1-2m0-9l1-2m3-19l0-2m-3-5l0-2m4-6l-1-2m0 130l1-2m3-38l-1-2m-2-2l-1-2m5-15l2-1m-14 93l-1-2m-1 0l-1-2m-1-14l-1-2m-7-35l0-2m-1-6l-1-2" stroke="#c0a080" stroke-width="2.6" stroke-linecap="round" fill="none"/>
<path transform="scale(0.5)" d="M757 266l1-2m-1-90l0-2m1-18l0-2m0-1l0-2m2-8l0-2m-2-6l0-2m5-29l0-2m-1 179l1-2m-1-34l0-2m9-75l1-2m1-16l1-2m1-14l0-2m0-1l1-2m7-39l-1-2m-13 200l1-2m0-14l-1-2m2-2l0-2m0-18l0-2m-1-2l-1-2m3-8l1-2m2-16l1-2m4-37l1-2m0-3l0-2m1-2l2-1m3-27l1-2m1-11l0-2m10-38l0-2m-27 204l0-2m2-19l1-2m1-18l0-2m6-27l1-2m1-18l1-2m4-21l0-2m8-50l0-2m-14 153l2-2m-1-3l0-2m4-6l1-2m0-4l0-2m5-15l-1-2m12-25l0-2m0-1l1-2m0-1l2-2m21-48l2 0m5-10l0-2m5-10l-1-2m9-16l0-2m-63 147l0-2m1-8l1-2m14-47l1-2m4-5l1-2m26-67l1-2m-79 141l-1-2m-2-11l-2-1m-2-18l1-2m-1-19l0-2m-1-3l-1-2m0-16l1-2m-2-3l1-2m1-11l0-2m1-29l0-2m0-11l0-2m1-6l0-2m-13 126l-1-2m-3-41l-2-2m-2-1l0-2m12 120l-2-1m-9-28l-2-2m-25-63l-1-2m39 141l1-2m-7-16l-2 0m-22-46l-1-2m-5-19l-1-2m97 43l1-2m11-15l2-1m16-22l2 0m21-25l2-1m4-4l1-2m6-8l1-2m-87 116l1-2m11-34l1-2m10-30l1-2m7-12l0-2m3-8l0-2m-51 41l0-2m4-53l1-2m6-65l1-2m6-13l1-2m-1-4l0-2m3 0l0-2m6-26l1-2m-34 153l0-2m-2-14l0-2m-2-9l1-2m-4-15l0-2m-2-32l-1-2m-9-34l0-2m28 166l0-2m0-7l1-2m7-50l2-1m6-32l-1-2m0-7l2-1m1-7l0-2m-27 28l2-1m3-43l1-2m2-3l1-2m1-38l2-1m-6 189l1-2m-1-4l0-2m1-16l0-2m0-10l0-2m-3 44l0-2m-2-1l0-2m-14-56l0-2m0-19l1-2m-4-17l0-2" stroke="#c8a890" stroke-width="2.6" stroke-linecap="round" fill="none"/>
<path transform="scale(0.5)" d="M757 263l-1-2m3-5l-1-2m0-2l0-2m-1-25l-1-2m-1-24l1-2m2-6l-1-2m0-8l-1-2m1-3l-1-2m7-80l-1-2m5-29l0-2m-1-9l1-2m3-12l1-2m0-10l0-2m-8 246l0-2m-1-3l0-2m5-72l2-1m-2-13l1-2m3-35l2-1m11-58l-1-2m-16 201l1-2m0-3l1-2m2-13l1-2m5-59l-1-2m7-34l0-2m3-3l-1-2m0-6l-1-2m10-38l1-2m0-5l1-2m-2-3l1-2m1-6l1-2m4-14l0-2m1-2l-1-2m-29 214l-1-2m3-8l0-2m1-12l1-2m-1 0l-1-2m4-12l-1-2m6-17l0-2m1-15l0-2m7-38l-2-1m0-3l1-2m2-1l0-2m1-5l-1-2m2-3l1-2m5-39l0-2m-7 130l1-2m2-2l1-2m1-2l0-2m26-61l1-2m9-14l1-2m1-4l1-2m5-10l1-2m-1 0l1-2m-65 160l1-2m15-59l1-2m2-3l1-2m3-13l1-2m3-6l1-2m8-20l1-2m17-41l0-2m-76 137l-1-2m-3-29l-1-2m-4-75l1-2m2-3l0-2m2-17l0-2m-3-11l1-2m0-21l-1-2m5 227l-1-2m-6-33l0-2m-4-14l-1-2m-2-16l-1-2m-4-28l0-2m-4-31l0-2m0 0l-1-2m-3 89l-1-2m-18-43l-1-2m37 131l-2-1m-37-82l0-2m77 60l2-1m5-8l2-1m14-18l1-2m57-67l2-1m-84 115l1-2m6-21l1-2m1-6l1-2m9-14l-2-1m19-52l1-2m-52 7l2-1m2-29l1-2m-24-32l0-2m-2-7l0-2m-4-18l-1-2m28 157l0-2m0-11l1-2m-2 0l1-2m4-24l1-2m2-10l0-2m3-7l1-2m9-57l-1-2m-24 116l-1-2m-3-28l1-2m-1-19l1-2m1-34l-1-2m2-8l0-2m3-33l0-2m2-17l0-2m2-12l1-2m-6 144l0-2m-1-1l2-2m-1-11l1-2m5-26l1-2m-10 104l0-2m-4-23l0-2m-1-1l0-2" stroke="#b8a888" stroke-width="2.6" stroke-linecap="round" fill="none"/>
<path transform="scale(0.5)" d="M757 258l2-1m-4-23l1-2m2-66l-1-2m8-90l-2-1m2-4l0-2m0-7l0-2m3-18l0-2m-6 219l1-2m2-41l-1-2m4-14l0-2m1-14l0-2m6-42l-1-2m5-30l1-2m0-8l0-2m4-29l1-2m-7 121l0-2m2-4l-1-2m5-31l2-1m4-24l1-2m6-24l1-2m-26 169l2-1m9-58l0-2m3-10l-1-2m0 0l1-2m9-50l0-2m5-25l0-2m4-18l1-2m-1 0l1-2m-30 209l1-2m3-4l1-2m2-7l2-1m28-86l1-2m-38 109l1-2m3-6l1-2m7-42l2-2m9-30l1-2m15-43l2-1m2-7l1-2m0 0l1-2m21-46l0-2m-85 189l1-2m-5-41l1-2m-1-11l0-2m-2-38l-1-2m-1-3l0-2m6 131l-1-2m-7-41l1-2m-7-18l-2-1m-2-31l-2-2m9 91l0-2m-12-31l0-2m-8-21l-2-2m2 53l0-2m-2-8l-2-1m-1-1l-1-2m-1-2l0-2m-7-18l-2-2m-4-8l-1-2m90 54l1-2m2 0l2-1m40-52l2-1m27-27l1-2m-83 103l0-2m21-49l0-2m-2-2l2-1m3-7l0-2m2-2l0-2m5-9l1-2m-53 48l0-2m3-56l0-2m4-36l0-2m8-36l2-1m7-32l0-2m-25 166l-1-2m-4-37l0-2m-11-85l-1-2m-5-22l0-2m37 93l0-2m7-31l2-1m3-25l-1-2m-27 93l0-2m0-11l0-2m-1-17l0-2m1-22l0-2m2-18l2-1m-2-4l0-2m5-39l1-2m-2-2l1-2m-4 184l1-2m2-50l0-2m0-3l0-2m-15 23l-1-2m-6-47l1-2" stroke="#98a070" stroke-width="2.6" stroke-linecap="round" fill="none"/>
<path transform="scale(0.5)" d="M758 247l1-2m-2-58l0-2m2-60l1-2m0-5l1-2m1-29l1-2m0-12l1-2m-2 211l0-2m1-26l0-2m1-23l1-2m-3-1l1-2m1-3l-1-2m3-11l-1-2m3-5l0-2m0-25l0-2m9-51l1-2m-2-4l2 0m0-1l0-2m8-51l0-2m-16 200l0-2m0-18l1-2m0-3l1-2m2-15l0-2m1-9l0-2m2-9l0-2m1-12l2-2m10-50l1-2m-19 164l0-2m-1-10l0-2m1-2l1-2m3-21l1-2m5-36l1-2m4-29l0-2m3 68l1-2m4-7l-1-2m5-17l1-2m11-22l0-2m11-23l1-2m2-4l1-2m18-43l2-1m-64 149l1-2m2-5l0-2m4-17l1-2m3-11l0-2m0 0l1-2m16-41l0-2m30-66l-2-1m-82 172l0-2m2-10l-1-2m-5-36l1-2m-4-7l0-2m-2-53l0-2m2-25l1-2m1-38l1-2m0 0l0-2m-3 192l-1-2m-3-12l0-2m-4-19l0-2m-6-21l0-2m-4-33l-1-2m-2-17l0-2m19 148l-2-2m-8-21l-1-2m-10-32l-2-1m-6-16l-1-2m-5-11l-1-2m-4-15l-2-1m-1 0l0-2m-1-8l-1-2m40 139l-2 0m-3-1l-1-2m50-14l1-2m16-22l2-1m23-29l2-1m9-14l1-2m1-3l2-1m7-7l2 0m-67 83l1-2m3-9l2-1m8-22l1-2m0-2l0-2m1-4l2-1m-39-26l1-2m5-37l-1-2m5-31l-1-2m3-6l0-2m-17 112l0-2m-3-44l-1-2m-6-43l-2-1m-4-32l1-2m-2-2l-1-2m24 162l-1-2m6-39l2-1m6-35l1-2m9-41l0-2m2-22l0-2m-30 119l-1-2m1-27l-1-2m0-13l-1-2m3-19l1-2m1-22l0-2m3-36l0-2m-2 158l0-2m1-20l1-2m2-38l0-2m0-3l0-2m2-9l1-2m3-15l1-2m1-5l-1-2m-25 67l0-2m0-2l-1-2m-2-6l-1-2m1-18l-1-2m-2-11l0-2" stroke="#a8a878" stroke-width="2.6" stroke-linecap="round" fill="none"/>
<path transform="scale(0.5)" d="M756 241l-1-2m2 0l-1-2m1-7l-2-1m0-15l0-2m2-2l-1-2m-1-3l2-1m-1-2l0-2m2-43l0-2m3-42l1-2m-2-7l1-2m6-53l1-2m1-3l-1-2m3-14l1-2m-8 221l0-2m0-12l1-2m-1-37l0-2m6-23l1-2m1-15l2-1m3-27l0-2m4-22l0-2m-11 151l1-2m15-107l0-2m2-4l0-2m3-9l1-2m-16 117l1-2m6-24l-1-2m8-39l0-2m4-26l1-2m2-9l0-2m-1 1l0-2m1-2l1-2m-10 131l2-2m1-7l2-2m20-57l2-1m5-14l1-2m31-63l1-2m-72 173l-1-2m1-2l1-2m8-38l1-2m17-45l0-2m4-9l1-2m10-23l1-2m12-30l1-2m6-9l1-2m-1-2l2-1m-88 188l1-2m-4-11l1-2m0-6l1-2m-9-103l0-2m5-63l-2-2m2 216l1-2m-3-9l1-2m-3-3l1-2m-3-5l-1-2m-9-39l0-2m3-2l-1-2m-9-66l0-2m18 157l0-2m-2-6l-2-1m-27-77l-1-2m-1-2l0-2m-1-5l-2-2m21 101l-1-2m0 1l-1-2m-4-11l-1-2m-15-32l0-2m77 46l1-2m10-15l1-2m8-10l0-2m39-41l1-2m2-2l2-1m6-8l1-2m13-14l1-2m-108 57l1-2m-1-6l-1-2m7-43l-2-2m3-11l0-2m3-38l2-2m2-10l2-1m7-22l-1-2m4-10l0-2m1-6l1-2m-33 178l0-2m-1-14l-1-2m1-1l1-2m-1-11l0-2m-3-28l1-2m-3-5l0-2m-2-11l0-2m2-9l0-2m-4-18l-1-2m-2-11l1-2m19 137l1-2m5-27l-2-1m8-26l1-2m7-34l-1-2m1-16l1-2m2-10l0-2m-28 120l-1-2m1-1l0-2m0-7l-1-2m-1-6l1-2m1-10l0-2m5-107l1-2m-1 147l0-2m0-38l2-2m8-39l-1-2m-24 66l-1-2m-2-22l-1-2" stroke="#a0a870" stroke-width="2.6" stroke-linecap="round" fill="none"/>
<path transform="scale(0.5)" d="M757 162l1-2m1-40l0-2m5-36l0-2m6-49l1-2m1-9l0-2m-12 257l1-2m0-23l2-1m9-88l2-1m0-15l0-2m9-59l1-2m0-10l-1-2m1-2l-1-2m-11 159l0-2m1-2l0-2m2-17l1-2m19-87l-1-2m-1-4l-1-2m-8 89l-1-2m16-78l1-2m3-17l-1-2m-17 171l0-2m14-44l2-1m15-33l1-2m0-2l0-2m2 0l1-2m19-40l1-2m6-15l1-2m4-5l-1-2m-73 185l0-2m9-40l0-2m5-14l0-2m5-23l2-1m2-4l-1-2m10-25l1-2m17-31l1-2m0-2l1-2m4-12l1-2m-77 168l-1-2m0-10l0-2m-5-35l1-2m-3-115l-1-2m1-14l0-2m5 210l-2-1m-9-51l0-2m-10-46l0-2m-2-7l1-2m17 127l0-2m-7-17l0-2m-5-14l0-2m-3-1l-1-2m-5-18l-1-2m-3-7l-1-2m-2-8l-1-2m16 87l0-2m-5-12l-1-2m-1-4l-2-1m-3-6l-1-2m-2-4l-1-2m-6-14l-2-1m111-8l1-2m0 0l1-2m3-4l1-2m-37 40l1-2m1-7l-1-2m-30-5l2-1m-2-2l1-2m-1-6l0-2m2-15l1-2m-2-2l0-2m2-13l1-2m4-44l-1-2m1-4l2-1m-2 1l1-2m-1-2l0-2m4-9l0-2m13-48l-2-1m-24 162l-1-2m-4-19l-1-2m1-14l1-2m-5-35l-1-2m-5-22l0-2m20 100l0-2m2-3l2-2m0-1l-1-2m3-19l1-2m5-31l-1-2m12-41l0-2m-30 99l0-2m-2-45l2-1m10-102l1-2m-9 185l1-2m1-2l1-2m1-24l0-2m5-49l0-2m8-19l-1-2m-19 116l-1-2m-4-19l1-2m-1-3l0-2m-2-5l0-2m-8-47l0-2" stroke="#b09878" stroke-width="2.6" stroke-linecap="round" fill="none"/>
<path d="M461 166l.1 4.1.1 5.5.1 6.6.1 7.3.2 7.6.1 7.5.2 7.1.2 6.5.2 6.8.2 7.1.3 7 .2 6.6.3 5.9.2 5 .1 3.8" fill="none" stroke="#a0c490" stroke-width="1.3" stroke-linecap="round"/>
<path d="M461 169l1-12.2 1.5-17.4 1.9-19.8 2.6-19.6 3.8-20.9 4.9-22.8 4.6-20.7 3.2-14.4M461 169l.3-12.3.3-17.7.4-20 0-19-.4-19.4-.7-20.6-.7-18.5-.5-12.9M461 169l.6-12.3.8-17.7.9-19.9.7-19.1.6-19.6.5-21 .5-18.9.3-13.1M461 169l1.3-12.4 1.9-17.9 2-19.9 1.8-18.8 1.6-18.6 1.5-19.5 1.3-17.4.9-12.1M461 169l2.2-12.4 3.1-17.8 3.7-19.9 4-18.9 4.8-18.8 5.6-20 5.2-17.7 3.6-12.4M461 169l-1.7-10.3-2.5-14.8-3.1-17-3.7-16.9-5.1-18.4-6.2-20.4-5.9-18.5-4.1-12.9M461 169l2.9-11.5 4.2-16.6 4.9-18.5 5-17.4 5.8-17.2 6.6-18.1 6-16.2 4.2-11.2M461 169l3.7-10.6 5.2-15.3 6-17.1 6.1-16 6.8-15.9 7.6-16.7 6.9-14.8 4.8-10.4M461 169l3.7-9.8 5.4-14 6.1-15.6 5.8-14.6 6-14.3 6.5-14.9 5.8-13.2 4.1-9.2M461 169l3-8.9 4.4-12.7 4.9-14.2 4.7-13.2 4.8-12.9 5.1-13.5 4.6-12 3.2-8.3M461 169l-.5-8.7-.8-12.6-.9-14.1-.8-13.6-.9-13.9-.9-15-.9-13.4-.6-9.4M461 169l-2.3-7-3.4-10-3.7-11.2-3.6-10.8-3.6-11-3.8-11.7-3.3-10.6-2.4-7.3M461 169l5.3-6.1 7.7-8.7 8.4-9.9 7.6-9.3 7-9.4 7-9.9 6-8.9 4.3-6.2M461 169l4.9-5.3 7.1-7.7 7.8-8.4 7.2-7.6 6.7-7 6.9-7.1 6-6.1 4.2-4.3M461 169l4.4-7.1 6.2-10.2 7-11.4 6.4-10.3 6.1-9.7 6.3-9.9 5.5-8.7 3.9-6.1M461 169l-1.7-3.3-2.4-4.8-2.6-5.5-2.3-5.4-2.1-5.8-2.1-6.4-1.7-5.8-1.3-4M461 169l-1-10.6-1.5-15.2-1.7-17-1.8-16.2-2-16.3-2.4-17.4-2.1-15.5-1.5-10.8M461 169l1.7-11.6 2.4-16.6 2.6-18.6 2.3-17.2 2.1-16.7 2-17.3 1.7-15.3 1.2-10.7M461 169l2.9-8 4.3-11.5 4.6-12.7 4.2-11.8 3.8-11.2 3.7-11.6 3.2-10.1 2.3-7.1M461 169l.9-10.8 1.3-15.6 1.5-17.1 1.3-15.5 1.2-14.3 1.1-14.4 1-12.5.7-8.8M461 169l-1.5-8.9-2.3-12.8-2.5-14.2-2.7-13.1-3.1-12.6-3.5-13-3.2-11.4-2.2-8M461 169l3.9-4.2 5.6-6.1 6.1-6.9 5.4-6.8 4.7-7.2 4.6-7.8 3.9-7.1 2.8-4.9M461 169l2-9.9 3-14.3 3.2-15.7 2.8-14.1 2.4-12.9 2.3-13 1.9-11.2 1.4-7.9" fill="none" stroke="#b4d0c4" stroke-width="0.45" opacity="0.9"/>
<path transform="scale(0.5)" d="M931 237l-1-2m1-7l0-2m3-3l1-2m0-28l1-1m5-25l2 0m1-4l0-2m7-23l0-2m-2-5l-1-2m4-13l1-2m14-53l0-2m-42 170l0-2m1-9l0-2m-1-10l0-2m-3-73l0-2m-2-55l1-2m-2-8l-1-1m9 181l-1-2m-2-5l1-2m5-51l0-2m0-28l0-2m1-26l1-2m-3-20l0-2m1-20l1-1m1-9l0-2m-1-14l1-2m2 182l-2-1m1-2l0-2m2-11l1-2m2-40l0-2m2-19l0-2m3-15l-1-1m3-47l-1-2m1-2l1-2m0-10l-1-2m-3 155l-1-2m33-123l0-2m1-2l0-2m5-20l2-1m-80 155l2-1m-3-12l-1-1m-12-35l0-2m-10-35l0-2m-9-29l-1-1m-4-14l-1-1m-1-2l-1-2m92 132l-1-2m37-109l1-2m3-8l1-2m-36 133l1-2m17-44l1-2m0 1l1-2m2-6l1-1m13-30l-1-2m1 2l0-2m12-22l1-2m8-17l1-1m-57 141l1-2m10-35l1-1m21-43l1-1m-38 77l0-2m6-19l1-2m9-19l0-2m10-25l0-2m-68 48l-1-2m3-3l0-2m-2-9l0-2m0-37l0-2m-11 113l-1-2m-10-23l-1-1m-5-22l0-2m79 65l0-2m19-21l1-2m4-6l1-2m20-30l1-1m4-2l1-1m0-5l2-1m13-15l1-1m-56 80l0-2m31-34l2 0m-55 37l2 0m9-14l2 0m11-25l2-1m4-3l1-2m13-17l0-2m3-10l1-1m-92 105l1-2m-6-17l-1-2m-4-7l-1-1m-3-11l-1-1m13-71l0-2m-10-64l0-2m-3-32l0-2m43 129l0-2m3-20l1-1m3-20l-1-2m1-19l1-2m3-24l1-2m24 56l0-2m2-4l1-1m4-11l-1-2m-46 43l-1-2m3-8l1-2m2-62l0-2m1-2l1-1m-38 103l0-2m0-3l-1-2m0-4l1-1m-1-3l-1-2m-12-43l0-2m-3-15l0-2m-5-8l0-2m112 92l1-2m-52 1l1-1m0-2l1-2m1-10l-1-2m5-8l-1-2m0-5l0-2m12-64l1-2" stroke="#b8b090" stroke-width="2" stroke-linecap="round" fill="none"/>
<path transform="scale(0.5)" d="M932 230l0-2m2-13l1-2m0-2l0-2m0-5l1-2m4-18l0-2m8-39l0-2m2-14l0-2m5-21l0-2m12-47l0-2m-42 186l-1-2m-1-4l1-2m1-21l-1-2m2-13l-1-2m-2-3l0-2m0-24l1-2m-2-19l0-2m0-13l1-2m-2-5l0-2m1-13l-1-1m1-10l-1-2m7 135l0-2m1-9l-1-1m-1-4l1-2m-1-15l1-1m3-106l0-2m3 141l1-2m1-51l0-2m5-21l0-2m-1-18l1-2m0-3l-1-1m2 113l0-2m6-34l1-2m0-2l-1-2m12-45l1-2m1-3l0-2m5-9l0-2m2-9l-1-1m15-49l1-1m-77 178l0-2m-4-20l-1-2m-6-26l-1-2m-13-46l0-2m64 88l1-1m17-49l0-2m12-32l1-1m-2-5l2-1m3-8l1-2m5-7l0-2m14-38l1-2m-35 124l1-2m6-14l1-1m12-23l-1-2m1-2l1-2m-35 97l0-2m10-31l1-1m11-23l1-1m2-9l1-2m27-58l1-2m-41 76l1-1m8-18l1-2m2-2l0-2m-1-3l1-1m3-3l1-1m4-9l0-2m-67 102l0-2m-6-75l-1-2m1-21l0-2m-7 115l-1-2m-8-22l0-2m-4-8l-1-1m-1-6l-1-2m-8-18l1-2m0-3l1-2m76 81l1-2m8-7l2-1m5-8l1-1m15-20l1-1m8-12l1-1m4-2l0-2m18-27l1-1m-48 68l2 0m36-37l1-2m4-3l1-2m3-2l1-1m-71 57l1-2m41-62l1-2m-106 40l0-2m23-17l0-2m1-1l-1-2m-5-32l1-2m-4-12l0-2m0-4l-1-2m0-9l0-2m0-5l0-2m-2-8l1-2m-3-9l-1-2m0-8l0-2m-4-22l0-2m40 134l1-2m9-72l0-2m2-9l-1-2m1-14l-1-2m8-31l0-2m1-3l-1-2m0-14l0-2m-12 195l1-2m7-17l0-2m8-21l2-1m20-69l1-1m-51 69l0-2m1-15l0-2m6-36l0-2m0-34l0-2m-31 103l-1-1m1-3l0-2m-11-36l1-1m-2-9l0-2m-1-3l-1-2m-4-9l-1-1m-6-25l0-2m80 139l0-2m4-1l0-2m6-7l1-1m6-8l1-2m17-33l1-2m-61 36l1-2m0-8l1-1m2-11l1-2m9-41l1-2m3-18l1-2m4-38l-1-2" stroke="#c0b898" stroke-width="2" stroke-linecap="round" fill="none"/>
<path transform="scale(0.5)" d="M935 200l0-2m2-8l1-2m2-11l0-2m5-17l0-2m-1-8l1-2m7-35l0-2m6-19l0-2m1-3l1-1m4-15l-1-1m1-3l0-2m-40 159l0-2m-2-107l1-2m-1-43l0-2m4 154l2-1m0-40l1-2m-1-4l0-2m1-4l0-2m0-30l0-2m2-2l-1-2m0-15l-1-2m2-13l1-2m-2-2l0-2m2-15l0-2m0-14l1-2m2 156l1-2m1-4l1-1m-4-3l0-2m2-5l-1-2m3-8l-1-2m3-25l-1-1m1-26l-1-2m3-13l1-2m2-37l0-2m3-13l-1-1m-5 157l1-1m11-33l-1-2m18-71l1-1m1-3l1-2m4-22l0-2m2-1l1-2m5-20l1-1m-89 154l-1-2m-10-41l-1-1m-4-8l0-2m1-5l-1-1m-14-44l0-2m-8-24l0-2m-4-5l-1-2m90 175l1-1m5-29l1-2m8-19l0-2m13-30l0-2m20-55l0-2m-39 133l1-1m9-18l1-1m1-4l1-2m14-38l0-2m30-55l1-2m-50 119l0-2m2-8l1-1m12-26l1-2m3-12l1-1m15-28l-1-2m3-8l2-1m-51 112l0-2m2-10l1-2m6-12l1-1m8-25l0-2m-50 57l-1-2m1-4l0-2m-1-8l0-2m-2-19l-1-2m-1-35l0-2m-2-6l1-1m-1-20l0-2m-38 34l-1-1m100 90l1-2m6-5l-1-2m16-21l1-2m-37 50l2-1m6-7l1-2m4 0l1-1m20-24l1-2m6-5l2 0m-43 21l1-1m3-2l1-2m5-6l0-2m32-49l0-2m4-7l1-2m9-10l0-2m-109 114l0-2m-4-13l-2-1m-2-10l0-2m-7-20l0-2m22-28l0-2m-4-4l1-2m0-3l0-2m0-19l-2-1m-6-43l0-2m-1-8l-1-2m37 115l-1-1m1-14l0-2m3-17l0-2m1-7l1-2m1-29l0-2m5-23l0-2m1-5l-1-1m2-31l1-2m4-19l1-2m4 138l-1-1m5-9l1-1m3-12l2-1m0-5l1-1m-42 58l1-2m0-10l-1-2m5-35l0-2m0-9l0-2m2-1l0-2m5-74l0-2m-29 151l0-2m-2-1l0-2m-1-5l1-2m-3-1l1-2m-10-41l0-2m54 93l1-1m15-19l2 0m11-20l0-2m4-8l2 0m1-3l1-2m-51 14l2-1m1-11l0-2m4-18l0-2m7-36l-1-1m7-37l1-1m-1-1l1-2" stroke="#a8b898" stroke-width="2" stroke-linecap="round" fill="none"/>
<path transform="scale(0.5)" d="M939 174l0-2m7-19l-1-2m7-29l0-2m4-21l-1-2m2-1l0-2m4-16l-1-1m9-27l-1-2m1-4l-1-2m-45 201l1-2m0-57l-1-1m1-3l0-2m-1-8l-1-2m-1-9l1-2m1-10l-1-1m1-7l-1-1m-1-36l0-2m0-10l0-2m0-2l0-2m-4-27l1-1m9 177l-1-2m2-26l0-2m2-3l0-2m0-10l1-1m-1-24l0-2m-1-3l0-2m0-10l1-1m1-79l1-1m0 178l1-1m7-96l0-2m3-30l-1-2m1-3l0-2m-2-3l2-1m-4 140l1-2m3-23l0-2m3-8l1-2m3-14l0-2m6-18l-1-2m11-41l1-1m3-7l-1-2m9-25l1-2m-75 154l1-2m-1-5l0-2m-3-13l-1-1m-3-15l-2-1m-1-10l-1-1m-1-3l-1-2m-1-3l0-2m-2-8l-1-2m-26-86l-1-2m85 160l-1-2m5-9l0-2m8-25l1-1m4-13l0-2m2-8l1-1m0-6l1-2m23-57l0-2m-40 141l1-1m1-3l0-2m4-4l0-2m5-14l0-2m1-3l0-2m11-23l0-2m16-38l1-2m0-2l2-1m8-15l0-2m1-3l1-1m2-9l2-1m7-13l1-1m-60 145l1-2m29-73l0-2m2-3l1-1m22-51l2 0m-58 127l0-2m9-23l0-2m4-10l1-1m21-57l1-2m2-6l1-1m1 1l1-2m-75 92l-1-1m-1-4l0-2m-2-4l0-2m-5-86l0-2m1-1l-1-2m-9 137l0-2m-3-7l0-2m-8-26l-1-2m-7-24l-2-1m-1-4l0-2m-9-23l0-2m156 30l1-2m-72 97l1-1m25-27l2-1m6-7l1-2m6-5l0-2m17-14l1-2m-43 20l1-1m2-5l1-1m9-12l0-2m8-13l0-2m19-31l1-1m-118 74l-1-2m20-18l0-2m-1-12l0-2m-7-52l-1-2m1-12l1-1m-9-38l0-2m41 108l1-1m4-15l-1-2m2-18l0-2m6-63l-1-2m2-2l0-2m-2-4l1-1m-4 157l0-2m2-5l-1-1m4-3l1-1m1-15l2-1m4-11l0-2m5-21l1-2m4-2l1-2m4-12l0-2m-47 67l0-2m4-7l0-2m1-24l0-2m3-48l2-1m1-3l-1-2m1-7l0-2m1-11l-1-1m-46 38l0-2m-6-15l0-2m-1-4l-1-2m92 110l1-1m-24-84l-1-1m1-9l1-2m0-5l2-1m2-3l0-2" stroke="#b8c0a0" stroke-width="2" stroke-linecap="round" fill="none"/>
<path transform="scale(0.5)" d="M963 75l0-2m-37 128l-1-1m0-26l-1-2m-2-18l1-2m-1-35l-1-2m-1-36l1-1m9 64l1-1m0-22l0-2m0-7l1-2m4 86l1-1m0-9l0-2m1-13l0-2m7-70l-1-2m3-23l0-2m-6 163l1-2m4-19l1-1m6-30l1-2m0-3l0-2m4-8l0-2m0-4l1-2m0-3l1-1m2-12l0-2m25-71l0-2m-103 102l-1-2m-7-26l1-2m-1-2l-1-2m-2-3l0-2m-2-3l0-2m0-5l-1-2m-5-12l0-2m86 126l1-2m2-14l1-1m4-8l-1-2m11-28l1-2m1-2l0-2m2-8l0-2m6-13l1-1m2-11l1-1m3-6l1-2m8-23l2-1m0-6l0-2m4-6l2-1m-35 123l0-2m33-74l2-1m13-27l1-1m-64 148l1-1m6-10l1-1m7-18l0-2m1-4l0-2m12-22l1-1m8-18l-1-1m4-9l1-1m4-10l1-1m1-8l1-1m5-10l1-1m-62 141l1-1m-1-4l2-1m0-3l1-2m10-23l1-2m13-37l1-1m14-36l1-2m-73 93l1-2m-4-44l-1-2m2-7l0-2m0-22l-1-2m-1-18l-1-2m0-5l-1-2m-10 124l0-2m-12-36l-1-1m-10-31l0-2m-2-4l-1-1m-2-8l0-2m112 81l1-1m13-16l1-1m9-12l2 0m11-15l0-2m-59 77l2 0m23-21l1-2m16-20l1-1m-27 3l1-1m8-19l1-1m19-29l2-1m-102 100l-1-1m9-46l0-2m-5-40l-1-2m-9-87l-1-2m-2-3l0-2m-1-9l0-2m40 144l-1-1m6-47l1-2m3-9l-1-2m1-13l0-2m9-71l1-2m-3 158l0-2m5-7l0-2m5-20l1-1m14-45l2-1m-47 63l0-2m0-7l0-2m5-43l-2-1m2-19l-1-2m3-10l0-2m3-23l0-2m0-4l1-2m-31 150l2-1m-15-54l0-2m-3-14l-1-2m62 101l1-2m2-2l0-2m24-36l1-1m8-14l-1-1m-46-23l1-1m4-19l1-2m6-36l-1-2" stroke="#c8c0a8" stroke-width="2" stroke-linecap="round" fill="none"/>
</g>
<text x="45.6" y="283.2" font-size="6.4" font-weight="bold" text-anchor="middle" fill="#222" font-family="Liberation Sans, sans-serif">WV 365-2</text>
<text x="93.3" y="283.2" font-size="6.4" font-weight="bold" text-anchor="middle" fill="#222" font-family="Liberation Sans, sans-serif">WV 365</text>
<text x="142.5" y="283.2" font-size="6.4" font-weight="bold" text-anchor="middle" fill="#222" font-family="Liberation Sans, sans-serif">WV 161</text>
<text x="192.5" y="283.2" font-size="6.4" font-weight="bold" text-anchor="middle" fill="#222" font-family="Liberation Sans, sans-serif">WV 125</text>
<text x="245.0" y="283.2" font-size="6.4" font-weight="bold" text-anchor="middle" fill="#222" font-family="Liberation Sans, sans-serif">WV 190-1</text>
<text x="288.8" y="283.2" font-size="6.4" font-weight="bold" text-anchor="middle" fill="#222" font-family="Liberation Sans, sans-serif">WV 397</text>
<text x="335.2" y="283.2" font-size="6.4" font-weight="bold" text-anchor="middle" fill="#222" font-family="Liberation Sans, sans-serif">GPMR 734</text>
<text x="389.8" y="283.2" font-size="6.4" font-weight="bold" text-anchor="middle" fill="#222" font-family="Liberation Sans, sans-serif">GPMR 670</text>
<text x="463.3" y="283.2" font-size="6.4" font-weight="bold" text-anchor="middle" fill="#222" font-family="Liberation Sans, sans-serif">WV 148</text>
<rect x="556.0" y="17.8" width="47.0" height="102.3" fill="#fff" stroke="#cfcfcf" stroke-width="0.8"/>
<rect x="556.0" y="8.0" width="47.0" height="9.8" fill="#ebebeb" stroke="#c4c4c4" stroke-width="0.8"/>
<line x1="556.0" y1="17.8" x2="603.0" y2="17.8" stroke="#6a6a6a" stroke-width="0.9"/>
<text x="579.5" y="15.4" font-size="7.2" font-weight="bold" text-anchor="middle" fill="#1a1a1a" font-family="Liberation Sans, sans-serif">DFF</text>
<line x1="554.2" y1="26.6" x2="556.0" y2="26.6" stroke="#444" stroke-width="0.6"/>
<text x="554.0" y="28.3" font-size="4.8" text-anchor="end" fill="#4d4d4d" font-family="Liberation Sans, sans-serif">80</text>
<line x1="554.2" y1="49.1" x2="556.0" y2="49.1" stroke="#444" stroke-width="0.6"/>
<text x="554.0" y="50.8" font-size="4.8" text-anchor="end" fill="#4d4d4d" font-family="Liberation Sans, sans-serif">70</text>
<line x1="554.2" y1="71.5" x2="556.0" y2="71.5" stroke="#444" stroke-width="0.6"/>
<text x="554.0" y="73.2" font-size="4.8" text-anchor="end" fill="#4d4d4d" font-family="Liberation Sans, sans-serif">60</text>
<line x1="554.2" y1="94.3" x2="556.0" y2="94.3" stroke="#444" stroke-width="0.6"/>
<text x="554.0" y="96.0" font-size="4.8" text-anchor="end" fill="#4d4d4d" font-family="Liberation Sans, sans-serif">50</text>
<line x1="554.2" y1="116.4" x2="556.0" y2="116.4" stroke="#444" stroke-width="0.6"/>
<text x="554.0" y="118.1" font-size="4.8" text-anchor="end" fill="#4d4d4d" font-family="Liberation Sans, sans-serif">40</text>
<text transform="translate(547.3,69.0) rotate(-90) scale(0.88,1)" font-size="8.4" text-anchor="middle" fill="#1a1a1a" font-family="Liberation Sans, sans-serif">Days</text>
<path d="M579.60,22.00 L579.69,23.36 L579.76,24.71 L579.83,26.07 L579.90,27.43 L579.97,28.78 L580.03,30.14 L580.10,31.50 L580.18,32.85 L580.27,34.21 L580.37,35.57 L580.48,36.92 L580.61,38.28 L580.76,39.63 L580.93,40.99 L581.16,42.35 L581.48,43.70 L581.91,45.06 L582.50,46.42 L583.25,47.77 L585.13,49.13 L589.12,50.49 L591.85,51.84 L594.26,53.20 L596.14,54.56 L597.44,55.91 L598.63,57.27 L599.64,58.63 L600.36,59.98 L600.69,61.34 L600.55,62.70 L600.04,64.05 L599.26,65.41 L598.36,66.77 L597.45,68.12 L596.44,69.48 L595.18,70.83 L593.75,72.19 L592.27,73.55 L590.84,74.90 L589.56,76.26 L588.54,77.62 L587.81,78.97 L587.18,80.33 L586.61,81.69 L586.10,83.04 L585.63,84.40 L585.20,85.76 L584.80,87.11 L584.44,88.47 L584.09,89.83 L583.77,91.18 L583.47,92.54 L583.19,93.90 L582.93,95.25 L582.69,96.61 L582.45,97.97 L582.22,99.32 L581.99,100.68 L581.77,102.03 L581.53,103.39 L581.30,104.75 L581.08,106.10 L580.87,107.46 L580.65,108.82 L580.44,110.17 L580.23,111.53 L580.02,112.89 L579.81,114.24 L579.60,115.60 L579.60,115.60 L579.39,114.24 L579.18,112.89 L578.97,111.53 L578.76,110.17 L578.55,108.82 L578.33,107.46 L578.12,106.10 L577.90,104.75 L577.67,103.39 L577.43,102.03 L577.21,100.68 L576.98,99.32 L576.75,97.97 L576.51,96.61 L576.27,95.25 L576.01,93.90 L575.73,92.54 L575.43,91.18 L575.11,89.83 L574.76,88.47 L574.40,87.11 L574.00,85.76 L573.57,84.40 L573.10,83.04 L572.59,81.69 L572.02,80.33 L571.39,78.97 L570.66,77.62 L569.64,76.26 L568.36,74.90 L566.93,73.55 L565.45,72.19 L564.02,70.83 L562.76,69.48 L561.75,68.12 L560.84,66.77 L559.94,65.41 L559.16,64.05 L558.65,62.70 L558.51,61.34 L558.84,59.98 L559.56,58.63 L560.57,57.27 L561.76,55.91 L563.06,54.56 L564.94,53.20 L567.35,51.84 L570.08,50.49 L574.07,49.13 L575.95,47.77 L576.70,46.42 L577.29,45.06 L577.72,43.70 L578.04,42.35 L578.27,40.99 L578.44,39.63 L578.59,38.28 L578.72,36.92 L578.83,35.57 L578.93,34.21 L579.02,32.85 L579.10,31.50 L579.17,30.14 L579.23,28.78 L579.30,27.43 L579.37,26.07 L579.44,24.71 L579.51,23.36 L579.60,22.00Z" fill="#c7e6ee" stroke="#4a4a4a" stroke-width="0.5"/>
<path transform="scale(.5)" d="M1169 133h0m7 29h0m-26-18h0m12-31h0m-3 5h0m-17 40h0m2-77h0m31 68h0m-17-3h0m13-20h0m-29-9h0m21-2h0m11 1h0m0 8h0m-35 4h0m21 3h0m-6 77h0m16-62h0m-28-11h0m8 65h0m22-87h0m-14-4h0m-1 24h0m21-31h0m-26-2h0m-11 27h0m14-2h0m-10 41h0m-3-32h0m20-6h0m15-1h0m-15-12h0m3-25h0m-13 22h0m10 26h0m7-26h0m-6 9h0m8-43h0m-10 73h0m-14-42h0m16 5h0m-4 44h0m-13-32h0m18 25h0m8-16h0m-27 7h0m16-37h0m8 23h0m-14-1h0m-5 29h0m4-35h0m7 13h0m6-32h0m-5 19h0m-19-3h0m29-9h0m4 39h0m-33-28h0m6 71h0m-3-60h0m27 3h0m3 1h0m-35 3h0m11-29h0m-5 16h0m11-11h0m18 8h0m-34-17h0m4 79h0m13-72h0m1 25h0m9-20h0m-12 40h0m-12-20h0m8-30h0m25 45h0m-9 23h0m-25-12h0m28-33h0m-20-20h0m18 2h0m-30 56h0m34-39h0m-28-17h0m11 47h0m9-26h0m-6-1h0m-14-10h0m-1 2h0m6-10h0m-10-15h0m7 57h0m-4-28h0m14 1h0m-5-9h0m10 22h0m-13-45h0m-9 23h0m11-22h0m17 10h0m-20 75h0m6-46h0m14-13h0m-14 3h0m20 29h0m1-37h0m-24 13h0m17 5h0m-20-18h0m-4 9h0m12 15h0m6 20h0m14-54h0m-32 63h0m23-93h0m-10 63h0m-14 5h0m34-39h0m-11 16h0m-23 24h0m31-55h0m-32 40h0m0 13h0m9-18h0m25 12h0m-36-26h0m35-2h0m-12 9h0m-22-10h0m20 8h0m-4 57h0m4-45h0m7-11h0m-3-5h0m13 62h0m-34-54h0m27 70h0m-16-66h0m15 0h0m4 34h0m4-19h0m-29-12h0m7-7h0m20 34h0m0-35h0m-23 46h0m23-66h0m-22 21h0m-1 6h0m15 47h0m-11-61h0m-1 32h0m-2-11h0m2 2h0m-12-2h0m-3 51h0m27-68h0m-7 3h0m4-10h0m5-11h0m-23 13h0m1 51h0m1-15h0m1-44h0m19 26h0m-16-5h0m-2 6h0m13 2h0m-18-18h0m-4 64h0m24-54h0m2 5h0m-18 3h0m14-25h0m-24-7h0m14 19h0m7 21h0m-13 4h0m4-7h0m11-32h0m-1 58h0m-18-19h0m22 10h0m-25-30h0m36 39h0m-31-65h0m2-3h0m-2-3h0m32 19h0m-28 1h0m12-4h0m16 21h0m-2-31h0m-36 31h0m19-22h0m3 27h0m4-42h0m-14 22h0m-1 55h0m-13-44h0m2 20h0m20-12h0m-19-3h0m5-21h0m6 18h0m-11-31h0m-2 48h0m36 34h0m-19-27h0m-10-53h0m21 17h0m-28 0h0m9-12h0m29 27h0m-3 13h0m-10-30h0m-22 39h0m9-8h0m-12-39h0m8 35h0m-8 15h0m4-47h0m21 20h0m-22 3h0m2-1h0m30-29h0m-22 32h0m0-2h0m-10 15h0m28-2h0m-5-28h0m-5 20h0m3 17h0m-21 5h0m7-51h0m13-12h0m14 37h0m-5-22h0m-7 18h0m-5 44h0m-20-54h0m35-7h0m-33 11h0m2 12h0m23-30h0m5 15h0m-1-15h0m-14 30h0m-11 13h0m-5-31h0m32 2h0m5 7h0m-29-16h0m25 2h0m-19 6h0m-3 5h0m7-21h0m-19 40h0m17-11h0m-10-16h0m21-13h0m-9 38h0m15-35h0m1 1h0m-23 0h0m-2-4h0m27 60h0m-18-49h0m-16 3h0m-2 33h0m38-17h0m-17-22h0m-21 12h0m19 34h0m-1-37h0m-2 17h0m20-34h0m0 37h0m-33 3h0m1 6h0m10-15h0m18-14h0m-9-19h0m4 25h0m-6 14h0m-14-30h0m24 5h0m-32 13h0m27 13h0m-20 19h0m11-53h0m20 1h0m-17 38h0m-20-12h0m15 6h0m10 70h0m-25-37h0m8-22h0m-9-7h0m21-22h0m-7 11h0m5-23h0m-8 33h0m14 0h0m-19-4h0m29-16h0m3-3h0m-19 3h0m-1-25h0m16 54h0m-23-24h0m20-7h0m-20 7h0m17 12h0m-15-19h0m10 27h0m13 17h0m-35-44h0m30-14h0m-10 34h0m-7 63h0m-1-96h0m-11 31h0m8 9h0m14 19h0m-21-61h0m23-1h0m12 92h0m0-92h0m-3 5h0" fill="none" stroke="#111" stroke-width="3.2" stroke-linecap="square" opacity="0.8"/>
<rect x="637.2" y="17.7" width="46.4" height="103.1" fill="#fff" stroke="#cfcfcf" stroke-width="0.8"/>
<rect x="637.2" y="8.3" width="46.4" height="9.4" fill="#ebebeb" stroke="#c4c4c4" stroke-width="0.8"/>
<line x1="637.2" y1="17.7" x2="683.6" y2="17.7" stroke="#6a6a6a" stroke-width="0.9"/>
<text x="660.4" y="15.3" font-size="7.2" font-weight="bold" text-anchor="middle" fill="#1a1a1a" font-family="Liberation Sans, sans-serif">GYPP</text>
<line x1="635.4" y1="43.5" x2="637.2" y2="43.5" stroke="#444" stroke-width="0.6"/>
<text x="635.2" y="45.2" font-size="4.8" text-anchor="end" fill="#4d4d4d" font-family="Liberation Sans, sans-serif">12</text>
<line x1="635.4" y1="72.6" x2="637.2" y2="72.6" stroke="#444" stroke-width="0.6"/>
<text x="635.2" y="74.3" font-size="4.8" text-anchor="end" fill="#4d4d4d" font-family="Liberation Sans, sans-serif">8</text>
<line x1="635.4" y1="101.4" x2="637.2" y2="101.4" stroke="#444" stroke-width="0.6"/>
<text x="635.2" y="103.1" font-size="4.8" text-anchor="end" fill="#4d4d4d" font-family="Liberation Sans, sans-serif">4</text>
<text transform="translate(628.7,69.2) rotate(-90) scale(0.88,1)" font-size="8.4" text-anchor="middle" fill="#1a1a1a" font-family="Liberation Sans, sans-serif">Gram</text>
<path d="M660.50,22.30 L660.67,23.64 L660.84,24.99 L661.00,26.33 L661.17,27.67 L661.34,29.02 L661.51,30.36 L661.68,31.70 L661.87,33.05 L662.06,34.39 L662.24,35.73 L662.43,37.08 L662.61,38.42 L662.81,39.77 L663.01,41.11 L663.23,42.45 L663.47,43.80 L663.73,45.14 L664.03,46.48 L664.37,47.83 L664.78,49.17 L665.27,50.51 L665.81,51.86 L666.40,53.20 L667.03,54.54 L667.68,55.89 L668.35,57.23 L669.03,58.57 L669.72,59.92 L670.49,61.26 L671.33,62.60 L672.22,63.95 L673.10,65.29 L673.94,66.63 L674.69,67.98 L675.35,69.32 L676.01,70.67 L676.69,72.01 L677.37,73.35 L678.04,74.70 L678.67,76.04 L679.27,77.38 L679.80,78.73 L680.27,80.07 L680.64,81.41 L680.91,82.76 L681.07,84.10 L681.09,85.44 L680.92,86.79 L680.58,88.13 L680.09,89.47 L679.49,90.82 L678.81,92.16 L678.08,93.50 L677.22,94.85 L675.95,96.19 L674.37,97.53 L672.64,98.88 L670.91,100.22 L669.31,101.57 L667.66,102.91 L665.94,104.25 L664.44,105.60 L663.42,106.94 L662.75,108.28 L662.22,109.63 L661.77,110.97 L661.36,112.31 L660.95,113.66 L660.50,115.00 L660.50,115.00 L660.05,113.66 L659.64,112.31 L659.23,110.97 L658.78,109.63 L658.25,108.28 L657.58,106.94 L656.56,105.60 L655.06,104.25 L653.34,102.91 L651.69,101.57 L650.09,100.22 L648.36,98.88 L646.63,97.53 L645.05,96.19 L643.78,94.85 L642.92,93.50 L642.19,92.16 L641.51,90.82 L640.91,89.47 L640.42,88.13 L640.08,86.79 L639.91,85.44 L639.93,84.10 L640.09,82.76 L640.36,81.41 L640.73,80.07 L641.20,78.73 L641.73,77.38 L642.33,76.04 L642.96,74.70 L643.63,73.35 L644.31,72.01 L644.99,70.67 L645.65,69.32 L646.31,67.98 L647.06,66.63 L647.90,65.29 L648.78,63.95 L649.67,62.60 L650.51,61.26 L651.28,59.92 L651.97,58.57 L652.65,57.23 L653.32,55.89 L653.97,54.54 L654.60,53.20 L655.19,51.86 L655.73,50.51 L656.22,49.17 L656.63,47.83 L656.97,46.48 L657.27,45.14 L657.53,43.80 L657.77,42.45 L657.99,41.11 L658.19,39.77 L658.39,38.42 L658.57,37.08 L658.76,35.73 L658.94,34.39 L659.13,33.05 L659.32,31.70 L659.49,30.36 L659.66,29.02 L659.83,27.67 L660.00,26.33 L660.16,24.99 L660.33,23.64 L660.50,22.30Z" fill="#c7e6ee" stroke="#4a4a4a" stroke-width="0.5"/>
<path transform="scale(.5)" d="M1316 183h0m16-51h0m-14 69h0m-15-66h0m16 53h0m-10 1h0m-8-18h0m39-10h0m-27-26h0m9 26h0m-7-17h0m-12-19h0m34 0h0m1 58h0m-30 9h0m10-64h0m-2-43h0m-8 57h0m19-16h0m5 5h0m-1 35h0m-3-11h0m-26 2h0m8-21h0m12 36h0m7-29h0m-13 11h0m3 6h0m16 32h0m-33-52h0m10 35h0m1-28h0m28 46h0m-31-39h0m-7 8h0m15 27h0m9-17h0m-20-52h0m28 6h0m-26 80h0m20-108h0m-22 48h0m29 53h0m-27-111h0m21 41h0m5 6h0m-24-18h0m-6 41h0m19 8h0m-3-20h0m-1-25h0m12 61h0m-12-1h0m1-17h0m-1-37h0m-1 37h0m-2 7h0m-10-17h0m6 33h0m-1-34h0m-1 8h0m21-38h0m-26 44h0m3 12h0m13-3h0m-8-36h0m-3 67h0m5-31h0m5-22h0m7 0h0m12 27h0m-5-49h0m-17 38h0m1 7h0m-1-15h0m-7 25h0m28-29h0m-35 1h0m5-16h0m18 48h0m-2-45h0m-13 29h0m26-20h0m-21 38h0m8 6h0m-20-101h0m32 111h0m-32-40h0m12-54h0m19 46h0m3-55h0m-2 59h0m-3-33h0m-24 17h0m-8-1h0m17 21h0m-15 16h0m35 9h0m-38-45h0m13 18h0m-5-89h0m-7 73h0m19 47h0m-17-75h0m33 63h0m-8-16h0m-13-26h0m19 36h0m-2-36h0m-19 46h0m21-72h0m3 7h0m-12 53h0m-11-20h0m22-31h0m2 35h0m-24-17h0m-11 18h0m32 15h0m-8 8h0m-18-76h0m14 59h0m-11 34h0m25-45h0m-23 21h0m-6-60h0m-6 68h0m12-19h0m26 24h0m-31-10h0m9 6h0m21-78h0m-39 66h0m12-41h0m21 7h0m-29 5h0m33 21h0m-4 1h0m-27 25h0m18-110h0m-2 50h0m6 15h0m-16 35h0m3-20h0m-5-2h0m2 17h0m-5-9h0m29-27h0m-1-26h0m-21 42h0m14 31h0m-8-22h0m-9-60h0m3 50h0m25-7h0m-25 17h0m9-2h0m15 29h0m-26-45h0m20 5h0m-27 13h0m24 22h0m3-15h0m1-16h0m6 23h0m-11-23h0m11 41h0m-28-56h0m10-18h0m-12 59h0m-6-38h0m15 39h0m11-17h0m2-9h0m-30-44h0m37 66h0m-28-70h0m2 88h0m21-11h0m3-45h0m-7-19h0m-16 64h0m6-30h0m14-34h0m-19 36h0m18-22h0m-1 14h0m-12 18h0m17 22h0m-21-10h0m15-51h0m-4 28h0m-13 0h0m8 46h0m3-89h0m-3 44h0m-17 31h0m36-39h0m-1-12h0m-38 24h0m37-19h0m-17 48h0m-16-78h0m28 21h0m-16-20h0m12 60h0m4-32h0m-11 47h0m-20-2h0m31 6h0m-5-53h0m8-79h0m-25 89h0m20 48h0m4-21h0m-21-69h0m2 65h0m-3 16h0m-13 9h0m9-26h0m4 12h0m-9-2h0m27-35h0m-14-30h0m6 57h0m-12-52h0m3 29h0m16 55h0m-11-43h0m5-4h0m-7 35h0m5-53h0m14 67h0m-25-20h0m10-40h0m6-1h0m-24-27h0m35 71h0m-18-61h0m-10-52h0m20 110h0m3-24h0m-8 6h0m12 5h0m-33-73h0m17 13h0m9 43h0m7-54h0m-11 55h0m-2 15h0m-8-5h0m7-4h0m-1-61h0m14 32h0m-3 50h0m-4-65h0m8 38h0m-34-55h0m28 90h0m-12-67h0m11 23h0m-18 12h0m7 11h0m14 21h0m-32-19h0m11-30h0m8-33h0m14 61h0m-23 26h0m22-113h0m-23 91h0m2-48h0m10 25h0m4 7h0m9 5h0m0 36h0m-25-32h0m20-20h0m-5 23h0m-10-18h0m16-4h0m5-3h0m-17 8h0m18-17h0m-32-2h0m2-12h0m24 29h0m-19-12h0m11 41h0m-3 0h0m-14-35h0m24 19h0m0 21h0m-24-40h0m4 14h0m22-9h0m4 15h0m-1 28h0m-15-74h0m-5 75h0m3-28h0m-11 10h0m13-13h0m-11 19h0m-3-41h0m9 28h0m-12-34h0m16 21h0m9 10h0m-2-37h0m13-23h0m-4 69h0m-10 2h0m11-10h0m-18-26h0m14 25h0m-21-55h0m10 56h0m18-9h0m-15 4h0m-4-12h0m11-19h0m-19 39h0m21-18h0m-32 20h0m9-28h0m-3-32h0m3 46h0m28 5h0m-37 25h0" fill="none" stroke="#111" stroke-width="3.2" stroke-linecap="square" opacity="0.8"/>
<rect x="557.3" y="143.4" width="45.3" height="102.0" fill="#fff" stroke="#cfcfcf" stroke-width="0.8"/>
<rect x="557.3" y="134.1" width="45.3" height="9.3" fill="#ebebeb" stroke="#c4c4c4" stroke-width="0.8"/>
<line x1="557.3" y1="143.4" x2="602.6" y2="143.4" stroke="#6a6a6a" stroke-width="0.9"/>
<text x="580.0" y="141.0" font-size="7.2" font-weight="bold" text-anchor="middle" fill="#1a1a1a" font-family="Liberation Sans, sans-serif">TW</text>
<line x1="555.5" y1="161.7" x2="557.3" y2="161.7" stroke="#444" stroke-width="0.6"/>
<text x="555.3" y="163.4" font-size="4.8" text-anchor="end" fill="#4d4d4d" font-family="Liberation Sans, sans-serif">3.5</text>
<line x1="555.5" y1="185.5" x2="557.3" y2="185.5" stroke="#444" stroke-width="0.6"/>
<text x="555.3" y="187.2" font-size="4.8" text-anchor="end" fill="#4d4d4d" font-family="Liberation Sans, sans-serif">3.0</text>
<line x1="555.5" y1="209.7" x2="557.3" y2="209.7" stroke="#444" stroke-width="0.6"/>
<text x="555.3" y="211.4" font-size="4.8" text-anchor="end" fill="#4d4d4d" font-family="Liberation Sans, sans-serif">2.5</text>
<line x1="555.5" y1="233.3" x2="557.3" y2="233.3" stroke="#444" stroke-width="0.6"/>
<text x="555.3" y="235.0" font-size="4.8" text-anchor="end" fill="#4d4d4d" font-family="Liberation Sans, sans-serif">2.0</text>
<text transform="translate(547.2,194.4) rotate(-90) scale(0.88,1)" font-size="8.4" text-anchor="middle" fill="#1a1a1a" font-family="Liberation Sans, sans-serif">Gram</text>
<path d="M580.20,147.70 L580.38,148.99 L580.56,150.29 L580.74,151.58 L580.92,152.88 L581.10,154.17 L581.29,155.47 L581.49,156.76 L581.71,158.05 L581.93,159.35 L582.14,160.64 L582.36,161.94 L582.61,163.23 L582.90,164.52 L583.25,165.82 L583.67,167.11 L584.34,168.41 L585.42,169.70 L586.75,171.00 L588.21,172.29 L589.66,173.58 L590.97,174.88 L592.37,176.17 L593.94,177.47 L595.58,178.76 L597.18,180.06 L598.64,181.35 L599.85,182.64 L600.70,183.94 L601.09,185.23 L600.97,186.53 L600.47,187.82 L599.68,189.11 L598.72,190.41 L597.67,191.70 L596.63,193.00 L595.54,194.29 L594.18,195.59 L592.69,196.88 L591.22,198.17 L589.92,199.47 L588.96,200.76 L588.24,202.06 L587.60,203.35 L587.01,204.64 L586.50,205.94 L586.03,207.23 L585.62,208.53 L585.25,209.82 L584.92,211.12 L584.61,212.41 L584.34,213.70 L584.09,215.00 L583.85,216.29 L583.63,217.59 L583.41,218.88 L583.20,220.18 L582.97,221.47 L582.74,222.76 L582.51,224.06 L582.27,225.35 L582.04,226.65 L581.80,227.94 L581.57,229.23 L581.34,230.53 L581.12,231.82 L580.89,233.12 L580.66,234.41 L580.43,235.71 L580.20,237.00 L580.20,237.00 L579.97,235.71 L579.74,234.41 L579.51,233.12 L579.28,231.82 L579.06,230.53 L578.83,229.23 L578.60,227.94 L578.36,226.65 L578.13,225.35 L577.89,224.06 L577.66,222.76 L577.43,221.47 L577.20,220.18 L576.99,218.88 L576.77,217.59 L576.55,216.29 L576.31,215.00 L576.06,213.70 L575.79,212.41 L575.48,211.12 L575.15,209.82 L574.78,208.53 L574.37,207.23 L573.90,205.94 L573.39,204.64 L572.80,203.35 L572.16,202.06 L571.44,200.76 L570.48,199.47 L569.18,198.17 L567.71,196.88 L566.22,195.59 L564.86,194.29 L563.77,193.00 L562.73,191.70 L561.68,190.41 L560.72,189.11 L559.93,187.82 L559.43,186.53 L559.31,185.23 L559.70,183.94 L560.55,182.64 L561.76,181.35 L563.22,180.06 L564.82,178.76 L566.46,177.47 L568.03,176.17 L569.43,174.88 L570.74,173.58 L572.19,172.29 L573.65,171.00 L574.98,169.70 L576.06,168.41 L576.73,167.11 L577.15,165.82 L577.50,164.52 L577.79,163.23 L578.04,161.94 L578.26,160.64 L578.47,159.35 L578.69,158.05 L578.91,156.76 L579.11,155.47 L579.30,154.17 L579.48,152.88 L579.66,151.58 L579.84,150.29 L580.02,148.99 L580.20,147.70Z" fill="#c7e6ee" stroke="#4a4a4a" stroke-width="0.5"/>
<path transform="scale(.5)" d="M1153 363h0m-8 15h0m19 7h0m10 6h0m-10-23h0m-18-9h0m11 40h0m-6-47h0m-10-7h0m38 15h0m-20 14h0m-13 45h0m30-31h0m4-13h0m-7-1h0m-22 10h0m-3-4h0m13-15h0m3-17h0m12 11h0m3 32h0m-2-11h0m-23 13h0m10-51h0m-19 65h0m16-38h0m-18 44h0m2-34h0m0-3h0m7 18h0m1-14h0m16 2h0m-26-27h0m2 24h0m22-12h0m0-21h0m2 4h0m0 23h0m-2-13h0m-4 30h0m7-37h0m-26-24h0m5 124h0m21-89h0m-22 10h0m14-16h0m-11 0h0m7 10h0m16 24h0m-7-52h0m-9 57h0m-7 48h0m22-68h0m-6-10h0m-9-6h0m17-3h0m-7 7h0m12 33h0m-13-81h0m9 75h0m-14-10h0m7-50h0m5 15h0m-30 41h0m15-5h0m6-19h0m-22 38h0m29-43h0m-3 11h0m9-19h0m-23 29h0m4-33h0m18 10h0m-20 33h0m17-17h0m-17 8h0m-3 5h0m-3-7h0m-2-22h0m9 28h0m-11-33h0m27 12h0m5 8h0m-35-21h0m-1-1h0m-2 29h0m37 8h0m-35-20h0m25 2h0m-15-10h0m-5 16h0m2 3h0m18 39h0m-27-75h0m34 66h0m-12 37h0m-13-80h0m-1 23h0m18 8h0m-1-14h0m-13-20h0m1 18h0m5 22h0m18-52h0m-15 22h0m12-37h0m-8 62h0m-3-6h0m-3-49h0m8 46h0m-8-4h0m9-32h0m-21 23h0m5 9h0m22-18h0m-19 7h0m18 60h0m4-52h0m-14-8h0m-20-27h0m27 6h0m-4 45h0m-15-10h0m23 9h0m-15-19h0m-17-1h0m0 0h0m7 11h0m15-21h0m8 7h0m-29-1h0m-3 10h0m24-23h0m-8-23h0m1 12h0m15 8h0m4 43h0m2-13h0m-7 2h0m-31-17h0m5-22h0m18 23h0m15 30h0m-35-28h0m17 7h0m-5-13h0m1-16h0m-6 28h0m0-8h0m-1-5h0m-5-6h0m18 23h0m-5-19h0m11 12h0m-3-16h0m13 27h0m-25-22h0m22 6h0m-20 43h0m11-28h0m6 1h0m-17-22h0m2 32h0m8-29h0m-21 76h0m17-38h0m-18-25h0m5 14h0m16-20h0m14 11h0m1-35h0m-29 91h0m-5-52h0m15-38h0m-3 6h0m-2 18h0m15 12h0m-2-36h0m-6 74h0m2-60h0m-1 83h0m3-60h0m11-16h0m0-8h0m2-16h0m-5-1h0m-30 32h0m13 10h0m14 17h0m-20-41h0m13 50h0m-22-54h0m6 55h0m7-7h0m-13-57h0m14 46h0m-7-15h0m25 0h0m-22 10h0m3-20h0m16-2h0m-9-6h0m-21 33h0m7 8h0m16-53h0m-17 35h0m2-27h0m15-6h0m-5 0h0m-9 21h0m12-15h0m3-2h0m-24-11h0m9 15h0m2 26h0m23-56h0m-34 38h0m12 7h0m-6-37h0m20 21h0m5 45h0m-30 39h0m32-49h0m-7-43h0m-19 32h0m28-17h0m-25-16h0m20 19h0m-29 39h0m16-12h0m2-32h0m15-24h0m-2 64h0m-12 32h0m-20-69h0m16-12h0m-3 15h0m25 9h0m-12-13h0m-11-4h0m-2-5h0m16 0h0m-27-18h0m29 17h0m-6 64h0m-9-101h0m11 62h0m-13 6h0m-10-23h0m11 9h0m-15-18h0m2 22h0m14 2h0m15 5h0m-24-16h0m11 58h0m20-30h0m-7-25h0m3 6h0m-9-20h0m-3 57h0m0-38h0m0 26h0m-5-44h0m-4 76h0m-5-88h0m-7 23h0m12-23h0m16 6h0m-8 33h0m-16-44h0m26 22h0m-31-12h0m36 42h0m-12-51h0m-3 19h0m-6 33h0m16-16h0m-32 3h0m0 60h0m20-112h0m-9 49h0m4 5h0m6 0h0m-20-2h0m38-40h0m-12 1h0m-24 43h0m26-9h0m-8-18h0m6-38h0m2 51h0m10-27h0m-35 39h0m35-21h0m-21 26h0m-11-42h0m7 22h0m0-24h0m21 43h0m-15-16h0m-18-16h0m26 65h0m-9-41h0m13-18h0m-31 34h0m33-31h0m1 51h0m-35-56h0m18 77h0m-14-97h0m17 43h0m-18-23h0m32 6h0m-28 10h0m19-38h0m0 17h0m-14-10h0m-4 39h0m28-29h0m-35 13h0m9-8h0m2-2h0m11 53h0m-9-41h0m-10 8h0m18 3h0m6 9h0m0-32h0m-9-15h0" fill="none" stroke="#111" stroke-width="3.2" stroke-linecap="square" opacity="0.8"/>
<rect x="639.2" y="143.4" width="44.7" height="102.0" fill="#fff" stroke="#cfcfcf" stroke-width="0.8"/>
<rect x="639.2" y="134.7" width="44.7" height="8.7" fill="#ebebeb" stroke="#c4c4c4" stroke-width="0.8"/>
<line x1="639.2" y1="143.4" x2="683.9" y2="143.4" stroke="#6a6a6a" stroke-width="0.9"/>
<text x="661.5" y="141.0" font-size="7.2" font-weight="bold" text-anchor="middle" fill="#1a1a1a" font-family="Liberation Sans, sans-serif">Fe</text>
<line x1="637.4" y1="149.5" x2="639.2" y2="149.5" stroke="#444" stroke-width="0.6"/>
<text x="637.2" y="151.2" font-size="4.8" text-anchor="end" fill="#4d4d4d" font-family="Liberation Sans, sans-serif">200</text>
<line x1="637.4" y1="175.2" x2="639.2" y2="175.2" stroke="#444" stroke-width="0.6"/>
<text x="637.2" y="176.9" font-size="4.8" text-anchor="end" fill="#4d4d4d" font-family="Liberation Sans, sans-serif">150</text>
<line x1="637.4" y1="201.1" x2="639.2" y2="201.1" stroke="#444" stroke-width="0.6"/>
<text x="637.2" y="202.8" font-size="4.8" text-anchor="end" fill="#4d4d4d" font-family="Liberation Sans, sans-serif">100</text>
<line x1="637.4" y1="226.8" x2="639.2" y2="226.8" stroke="#444" stroke-width="0.6"/>
<text x="637.2" y="228.5" font-size="4.8" text-anchor="end" fill="#4d4d4d" font-family="Liberation Sans, sans-serif">50</text>
<text transform="translate(628.4,194.4) rotate(-90) scale(0.88,1)" font-size="8.4" text-anchor="middle" fill="#1a1a1a" font-family="Liberation Sans, sans-serif">Ppm</text>
<path d="M661.50,147.70 L661.69,149.06 L661.86,150.42 L662.03,151.79 L662.20,153.15 L662.39,154.51 L662.60,155.87 L662.85,157.24 L663.13,158.60 L663.50,159.96 L663.93,161.32 L664.43,162.69 L664.99,164.05 L665.61,165.41 L666.28,166.77 L667.05,168.13 L668.05,169.50 L669.20,170.86 L670.41,172.22 L671.60,173.58 L672.69,174.95 L673.79,176.31 L674.96,177.67 L676.15,179.03 L677.30,180.40 L678.36,181.76 L679.28,183.12 L680.00,184.48 L680.49,185.84 L680.81,187.21 L681.11,188.57 L681.38,189.93 L681.61,191.29 L681.80,192.66 L681.93,194.02 L681.99,195.38 L681.96,196.74 L681.70,198.11 L681.24,199.47 L680.62,200.83 L679.88,202.19 L679.08,203.56 L678.21,204.92 L676.87,206.28 L675.14,207.64 L673.27,209.00 L671.53,210.37 L670.19,211.73 L669.30,213.09 L668.51,214.45 L667.79,215.82 L667.14,217.18 L666.56,218.54 L666.03,219.90 L665.55,221.27 L665.11,222.63 L664.71,223.99 L664.33,225.35 L663.98,226.71 L663.65,228.08 L663.35,229.44 L663.07,230.80 L662.82,232.16 L662.58,233.53 L662.36,234.89 L662.17,236.25 L662.00,237.61 L661.83,238.98 L661.67,240.34 L661.50,241.70 L661.50,241.70 L661.33,240.34 L661.17,238.98 L661.00,237.61 L660.83,236.25 L660.64,234.89 L660.42,233.53 L660.18,232.16 L659.93,230.80 L659.65,229.44 L659.35,228.08 L659.02,226.71 L658.67,225.35 L658.29,223.99 L657.89,222.63 L657.45,221.27 L656.97,219.90 L656.44,218.54 L655.86,217.18 L655.21,215.82 L654.49,214.45 L653.70,213.09 L652.81,211.73 L651.47,210.37 L649.73,209.00 L647.86,207.64 L646.13,206.28 L644.79,204.92 L643.92,203.56 L643.12,202.19 L642.38,200.83 L641.76,199.47 L641.30,198.11 L641.04,196.74 L641.01,195.38 L641.07,194.02 L641.20,192.66 L641.39,191.29 L641.62,189.93 L641.89,188.57 L642.19,187.21 L642.51,185.84 L643.00,184.48 L643.72,183.12 L644.64,181.76 L645.70,180.40 L646.85,179.03 L648.04,177.67 L649.21,176.31 L650.31,174.95 L651.40,173.58 L652.59,172.22 L653.80,170.86 L654.95,169.50 L655.95,168.13 L656.72,166.77 L657.39,165.41 L658.01,164.05 L658.57,162.69 L659.07,161.32 L659.50,159.96 L659.87,158.60 L660.15,157.24 L660.40,155.87 L660.61,154.51 L660.80,153.15 L660.97,151.79 L661.14,150.42 L661.31,149.06 L661.50,147.70Z" fill="#c7e6ee" stroke="#4a4a4a" stroke-width="0.5"/>
<path transform="scale(.5)" d="M1317 372h0m4-42h0m7 57h0m-7 7h0m-7-14h0m5 49h0m-1-68h0m-3 47h0m12-8h0m-4 16h0m-4 5h0m12-54h0m5 53h0m-7-43h0m-12 21h0m23 31h0m-33-38h0m28-2h0m-15-42h0m-1 45h0m18-26h0m-8 12h0m13-3h0m-4 62h0m-30-43h0m15 7h0m11-41h0m-28 12h0m19 41h0m18-60h0m-30 74h0m-5-48h0m7-3h0m2 11h0m-3-5h0m6 1h0m16-4h0m-12 19h0m3-30h0m-20-8h0m-1 20h0m35-30h0m-24 31h0m24 2h0m-25 21h0m13-52h0m0 26h0m-22 27h0m-1-32h0m15 36h0m-13-8h0m7-60h0m-4 35h0m5 27h0m5-17h0m-6 10h0m1 51h0m6-49h0m8-12h0m-25 24h0m38-30h0m-23-50h0m20 38h0m-37 23h0m2 36h0m2-35h0m33-23h0m-21 81h0m18-72h0m-6-13h0m-24 24h0m10-15h0m-1-21h0m5 46h0m12-2h0m-27 38h0m34-80h0m-18 63h0m-4-13h0m13-39h0m-17 17h0m17 11h0m-11-24h0m2-16h0m-11 55h0m0-50h0m26 26h0m-11-5h0m-6 37h0m14-27h0m5-11h0m-30 59h0m34-63h0m-39 25h0m24-35h0m-14 38h0m-1 1h0m10 4h0m4-24h0m-7-19h0m12 29h0m9 23h0m-31-46h0m3-36h0m14 26h0m-8 63h0m-3-97h0m7 18h0m8 7h0m8 63h0m2-39h0m-5 22h0m-19 1h0m21-19h0m-7 20h0m-21-17h0m31 6h0m-28-18h0m17-48h0m1 68h0m8-22h0m-9 0h0m12 45h0m-37-39h0m-1-23h0m7 41h0m15-5h0m-6-44h0m-14 30h0m5 18h0m15-22h0m-7 74h0m15-37h0m-12-23h0m16 36h0m-5-80h0m-10 25h0m-6 54h0m-5-33h0m3-28h0m2 32h0m0 9h0m-7-6h0m12-52h0m-15-2h0m31 38h0m-13-43h0m-18 14h0m9 46h0m-3-14h0m-4-32h0m13 65h0m-12-37h0m-1 38h0m22-21h0m-11 0h0m10-14h0m-8 17h0m1-30h0m-8 3h0m5 45h0m2-51h0m-5 13h0m19 25h0m-23-27h0m-1 0h0m5 43h0m17-54h0m3 3h0m-11 50h0m-9-49h0m12 6h0m7 42h0m-23-44h0m17 84h0m1-47h0m-12 4h0m-10-48h0m18-1h0m-16 40h0m7 7h0m7-46h0m17-3h0m-33 6h0m-3-11h0m19 24h0m16 5h0m-36 8h0m24-49h0m-25 19h0m21-8h0m-17 11h0m21-6h0m-12 65h0m12-49h0m-16-21h0m-7 41h0m4 40h0m4-30h0m-4-12h0m1-18h0m14 2h0m-4-7h0m15 35h0m-13 0h0m2-22h0m6 29h0m6-18h0m-11 2h0m-22-29h0m17-2h0m-17 0h0m23 53h0m-21-11h0m19 10h0m-16-10h0m28-2h0m-30-25h0m22 23h0m2-45h0m-17 35h0m13-54h0m-11 93h0m-3-18h0m0-55h0m-9 43h0m26 6h0m-24-68h0m5 48h0m-5-10h0m29 13h0m-11 22h0m-2-16h0m4-35h0m9 24h0m-7 2h0m-4-59h0m-8 26h0m8 19h0m18-15h0m-16 6h0m-4 30h0m17 35h0m-34-49h0m1 12h0m29 9h0m6-6h0m-36-2h0m-1-73h0m-1 92h0m23-56h0m-17 2h0m16 24h0m5 6h0m-26 12h0m34-34h0m-25 58h0m12-32h0m-8 16h0m0-27h0m2-36h0m-16-16h0m17 62h0m-6-14h0m3 3h0m-7-10h0m6-11h0m15 22h0m11-17h0m-31 50h0m27-55h0m-10 72h0m-21-21h0m-3-34h0m34 27h0m-26-16h0m-5-7h0m22 24h0m2 4h0m8-47h0m-16 55h0m-8-80h0m1-13h0m-5 59h0m17-13h0m13 8h0m-35 4h0m12 0h0m-1 35h0m-11 1h0m21-47h0m15-3h0m-28 26h0m18-33h0m7 15h0m-25 22h0m26-72h0m-7 77h0m-4-3h0m-18-25h0m3-10h0m-7 22h0m32-19h0m-4 38h0m-29-16h0m18-19h0m-12 35h0m22-14h0m-8-37h0m15 22h0m-9 5h0m-25 42h0m11-52h0m8 8h0m13 57h0m-21-58h0m-7 29h0m3-58h0m-1 26h0m-4-16h0m8 54h0m-4-26h0m10-25h0m16-14h0m2 29h0m-32-29h0m17 34h0m4 15h0m-21-28h0m15-10h0" fill="none" stroke="#111" stroke-width="3.2" stroke-linecap="square" opacity="0.8"/>
<rect x="555.9" y="269.5" width="46.7" height="102.4" fill="#fff" stroke="#cfcfcf" stroke-width="0.8"/>
<rect x="555.9" y="260.2" width="46.7" height="9.3" fill="#ebebeb" stroke="#c4c4c4" stroke-width="0.8"/>
<line x1="555.9" y1="269.5" x2="602.6" y2="269.5" stroke="#6a6a6a" stroke-width="0.9"/>
<text x="579.2" y="267.1" font-size="7.2" font-weight="bold" text-anchor="middle" fill="#1a1a1a" font-family="Liberation Sans, sans-serif">Zn</text>
<line x1="554.1" y1="270.8" x2="555.9" y2="270.8" stroke="#444" stroke-width="0.6"/>
<text x="553.9" y="272.5" font-size="4.8" text-anchor="end" fill="#4d4d4d" font-family="Liberation Sans, sans-serif">50</text>
<line x1="554.1" y1="292.8" x2="555.9" y2="292.8" stroke="#444" stroke-width="0.6"/>
<text x="553.9" y="294.5" font-size="4.8" text-anchor="end" fill="#4d4d4d" font-family="Liberation Sans, sans-serif">40</text>
<line x1="554.1" y1="315.1" x2="555.9" y2="315.1" stroke="#444" stroke-width="0.6"/>
<text x="553.9" y="316.8" font-size="4.8" text-anchor="end" fill="#4d4d4d" font-family="Liberation Sans, sans-serif">30</text>
<line x1="554.1" y1="337.9" x2="555.9" y2="337.9" stroke="#444" stroke-width="0.6"/>
<text x="553.9" y="339.6" font-size="4.8" text-anchor="end" fill="#4d4d4d" font-family="Liberation Sans, sans-serif">20</text>
<line x1="554.1" y1="360.2" x2="555.9" y2="360.2" stroke="#444" stroke-width="0.6"/>
<text x="553.9" y="361.9" font-size="4.8" text-anchor="end" fill="#4d4d4d" font-family="Liberation Sans, sans-serif">10</text>
<text transform="translate(547.2,320.7) rotate(-90) scale(0.88,1)" font-size="8.4" text-anchor="middle" fill="#1a1a1a" font-family="Liberation Sans, sans-serif">Ppm</text>
<path d="M579.30,273.60 L579.59,274.96 L579.86,276.32 L580.13,277.69 L580.40,279.05 L580.68,280.41 L580.98,281.77 L581.32,283.14 L581.71,284.50 L582.17,285.86 L582.73,287.22 L583.38,288.59 L584.08,289.95 L584.82,291.31 L585.56,292.67 L586.36,294.03 L587.21,295.40 L588.09,296.76 L589.01,298.12 L589.94,299.48 L590.86,300.85 L591.79,302.21 L592.80,303.57 L593.86,304.93 L594.92,306.30 L595.93,307.66 L596.83,309.02 L597.57,310.38 L598.15,311.74 L598.72,313.11 L599.27,314.47 L599.77,315.83 L600.20,317.19 L600.53,318.56 L600.74,319.92 L600.79,321.28 L600.46,322.64 L599.71,324.01 L598.68,325.37 L597.51,326.73 L596.35,328.09 L595.33,329.46 L594.44,330.82 L593.53,332.18 L592.63,333.54 L591.74,334.90 L590.86,336.27 L590.01,337.63 L589.19,338.99 L588.38,340.35 L587.58,341.72 L586.79,343.08 L586.04,344.44 L585.33,345.80 L584.67,347.17 L584.08,348.53 L583.51,349.89 L582.98,351.25 L582.47,352.61 L582.01,353.98 L581.60,355.34 L581.25,356.70 L580.95,358.06 L580.67,359.43 L580.43,360.79 L580.20,362.15 L579.98,363.51 L579.76,364.88 L579.54,366.24 L579.30,367.60 L579.30,367.60 L579.06,366.24 L578.84,364.88 L578.62,363.51 L578.40,362.15 L578.17,360.79 L577.93,359.43 L577.65,358.06 L577.35,356.70 L577.00,355.34 L576.59,353.98 L576.13,352.61 L575.62,351.25 L575.09,349.89 L574.52,348.53 L573.93,347.17 L573.27,345.80 L572.56,344.44 L571.81,343.08 L571.02,341.72 L570.22,340.35 L569.41,338.99 L568.59,337.63 L567.74,336.27 L566.86,334.90 L565.97,333.54 L565.07,332.18 L564.16,330.82 L563.27,329.46 L562.25,328.09 L561.09,326.73 L559.92,325.37 L558.89,324.01 L558.14,322.64 L557.81,321.28 L557.86,319.92 L558.07,318.56 L558.40,317.19 L558.83,315.83 L559.33,314.47 L559.88,313.11 L560.45,311.74 L561.03,310.38 L561.77,309.02 L562.67,307.66 L563.68,306.30 L564.74,304.93 L565.80,303.57 L566.81,302.21 L567.74,300.85 L568.66,299.48 L569.59,298.12 L570.51,296.76 L571.39,295.40 L572.24,294.03 L573.04,292.67 L573.78,291.31 L574.52,289.95 L575.22,288.59 L575.87,287.22 L576.43,285.86 L576.89,284.50 L577.28,283.14 L577.62,281.77 L577.92,280.41 L578.20,279.05 L578.47,277.69 L578.74,276.32 L579.01,274.96 L579.30,273.60Z" fill="#c7e6ee" stroke="#4a4a4a" stroke-width="0.5"/>
<path transform="scale(.5)" d="M1168 613h0m-3 13h0m8-5h0m-31 40h0m8-46h0m-10 23h0m19 5h0m4-18h0m-14 52h0m-8-52h0m16-1h0m-12 25h0m1-13h0m8 15h0m22-44h0m-23 0h0m14 45h0m-14-23h0m2 36h0m-11-50h0m2 1h0m23 51h0m-13-41h0m-6-23h0m28 12h0m-4 40h0m-25-36h0m7 21h0m5 23h0m-16-19h0m11 12h0m-6 35h0m21-69h0m-29 48h0m36-31h0m-30-26h0m4-8h0m-10 19h0m33-17h0m-3 50h0m-31-17h0m19-48h0m-6 78h0m9-28h0m-11-9h0m25-26h0m-30 28h0m24 40h0m-22-33h0m16-9h0m-9 9h0m4-2h0m-1 4h0m5-30h0m-23-7h0m0-27h0m36 82h0m-28-88h0m4 45h0m-5 23h0m16-5h0m14 35h0m-23-57h0m-4-13h0m2 7h0m-13 27h0m2-14h0m-1 12h0m11 15h0m26-25h0m-34 24h0m17-64h0m-14 56h0m-7 34h0m32 5h0m-28-38h0m0 53h0m27-77h0m-23 6h0m-1 11h0m29 3h0m-30 24h0m26-28h0m-21-41h0m10 59h0m-10-36h0m1 55h0m24-55h0m-1 6h0m-29-15h0m22 18h0m-24 20h0m7-24h0m-10-28h0m24 49h0m3 13h0m0-51h0m2 28h0m-16-35h0m-8-14h0m-7 46h0m17-7h0m20 49h0m-19-89h0m6 64h0m12 7h0m-2-23h0m-5 7h0m-6-18h0m-14 0h0m21-26h0m-14 82h0m12-88h0m-19 19h0m28 46h0m-31-18h0m25 5h0m4-18h0m-29-10h0m28 50h0m-9-55h0m-1 17h0m-14 32h0m3-32h0m-4 62h0m8-73h0m9 28h0m3 1h0m-1-3h0m-15 20h0m0-66h0m17 49h0m9 18h0m-31-65h0m8 47h0m-5-8h0m28 0h0m-39 6h0m35 6h0m-5 7h0m-17 20h0m14-25h0m-13 59h0m11-58h0m-8-28h0m19-11h0m-18-11h0m14 23h0m-9-15h0m-9 45h0m24-1h0m-31-4h0m29-17h0m3 5h0m-5-13h0m-10 57h0m0-95h0m13 42h0m-20 18h0m16-32h0m-2 56h0m3-32h0m-17-7h0m9-33h0m-23 28h0m-1 21h0m2-23h0m25-29h0m-15 50h0m22-19h0m-33 43h0m3-15h0m27 1h0m-17 20h0m-8-10h0m23-37h0m-22 18h0m30-24h0m-28-4h0m23-1h0m-15-10h0m18 14h0m-26-1h0m26 32h0m-25-30h0m6-28h0m7 40h0m-3-16h0m4 35h0m1-35h0m-17 26h0m-10-29h0m29 25h0m-5 32h0m-2-45h0m-3 14h0m18-5h0m-26-35h0m25-13h0m-30 81h0m21-40h0m10 26h0m-31-19h0m24 32h0m-19-52h0m-9 25h0m15 2h0m11 21h0m-17-72h0m27 38h0m-38 9h0m10 7h0m3-35h0m1 33h0m-2 11h0m-12 3h0m8-38h0m2 17h0m16-11h0m-11 6h0m13 1h0m-11 52h0m-4-101h0m-7 102h0m3-95h0m27 9h0m-18 19h0m-6 5h0m-4 46h0m27-2h0m-7 14h0m-1-50h0m5-46h0m-23 65h0m20 26h0m-27-70h0m24 58h0m-14-88h0m14 79h0m-17-15h0m5 37h0m12-5h0m11-78h0m-24 45h0m-7-20h0m-1 17h0m21-39h0m9 32h0m-35 4h0m13-56h0m-7 61h0m32 37h0m-33-77h0m-3 87h0m28-46h0m10-21h0m-9 72h0m-27-52h0m12-4h0m4-4h0m16 43h0m-6-65h0m-28 10h0m16 6h0m13-28h0m-10 71h0m5-27h0m12 7h0m1 27h0m-6-35h0m-11-17h0m-10 19h0m-6-1h0m0-14h0m19-7h0m6 10h0m3 27h0m2-45h0m-25 95h0m2-85h0m-6 3h0m14-17h0m16 26h0m-7-3h0m-13 21h0m-11 22h0m27-52h0m2 42h0m-5-36h0m-19 6h0m4-25h0m8 65h0m13-41h0m-27 21h0m7-65h0m-14 63h0m-2-32h0m9 18h0m23 14h0m-5-38h0m-8 29h0m-3 25h0m-6-54h0m20 26h0m-11-25h0m-17-4h0m23 28h0m14-4h0m-36 14h0m36 22h0m-35-16h0m8-27h0m27 12h0m-1 11h0m-31 17h0m21-15h0m-4-12h0m-8-32h0m15 63h0m-6-46h0m-16 8h0m10 41h0m9-58h0m-4 60h0m-3-57h0m8-17h0m-24 39h0m-4 21h0m0-30h0m23 36h0" fill="none" stroke="#111" stroke-width="3.2" stroke-linecap="square" opacity="0.8"/>
<rect x="642.6" y="269.5" width="41.7" height="102.4" fill="#fff" stroke="#cfcfcf" stroke-width="0.8"/>
<rect x="642.6" y="260.6" width="41.7" height="8.9" fill="#ebebeb" stroke="#c4c4c4" stroke-width="0.8"/>
<line x1="642.6" y1="269.5" x2="684.3" y2="269.5" stroke="#6a6a6a" stroke-width="0.9"/>
<text x="663.5" y="267.1" font-size="7.2" font-weight="bold" text-anchor="middle" fill="#1a1a1a" font-family="Liberation Sans, sans-serif">Mg</text>
<line x1="640.8" y1="272.7" x2="642.6" y2="272.7" stroke="#444" stroke-width="0.6"/>
<text x="640.6" y="274.4" font-size="4.8" text-anchor="end" fill="#4d4d4d" font-family="Liberation Sans, sans-serif">1750</text>
<line x1="640.8" y1="295.6" x2="642.6" y2="295.6" stroke="#444" stroke-width="0.6"/>
<text x="640.6" y="297.3" font-size="4.8" text-anchor="end" fill="#4d4d4d" font-family="Liberation Sans, sans-serif">1500</text>
<line x1="640.8" y1="318.7" x2="642.6" y2="318.7" stroke="#444" stroke-width="0.6"/>
<text x="640.6" y="320.4" font-size="4.8" text-anchor="end" fill="#4d4d4d" font-family="Liberation Sans, sans-serif">1250</text>
<line x1="640.8" y1="341.6" x2="642.6" y2="341.6" stroke="#444" stroke-width="0.6"/>
<text x="640.6" y="343.3" font-size="4.8" text-anchor="end" fill="#4d4d4d" font-family="Liberation Sans, sans-serif">1000</text>
<line x1="640.8" y1="364.8" x2="642.6" y2="364.8" stroke="#444" stroke-width="0.6"/>
<text x="640.6" y="366.5" font-size="4.8" text-anchor="end" fill="#4d4d4d" font-family="Liberation Sans, sans-serif">750</text>
<text transform="translate(628.4,320.7) rotate(-90) scale(0.88,1)" font-size="8.4" text-anchor="middle" fill="#1a1a1a" font-family="Liberation Sans, sans-serif">Ppm</text>
<path d="M663.80,273.60 L664.04,274.96 L664.27,276.32 L664.50,277.69 L664.72,279.05 L664.96,280.41 L665.20,281.77 L665.46,283.14 L665.74,284.50 L666.02,285.86 L666.30,287.22 L666.58,288.59 L666.89,289.95 L667.22,291.31 L667.60,292.67 L668.04,294.03 L668.55,295.40 L669.22,296.76 L670.33,298.12 L671.74,299.48 L673.27,300.85 L674.73,302.21 L675.93,303.57 L677.01,304.93 L678.08,306.30 L679.06,307.66 L679.92,309.02 L680.60,310.38 L681.09,311.74 L681.55,313.11 L681.98,314.47 L682.37,315.83 L682.71,317.19 L682.98,318.56 L683.18,319.92 L683.29,321.28 L683.23,322.64 L682.67,324.01 L681.69,325.37 L680.45,326.73 L679.12,328.09 L677.84,329.46 L676.45,330.82 L674.78,332.18 L673.04,333.54 L671.45,334.90 L670.23,336.27 L669.53,337.63 L669.00,338.99 L668.55,340.35 L668.17,341.72 L667.84,343.08 L667.54,344.44 L667.26,345.80 L666.98,347.17 L666.69,348.53 L666.41,349.89 L666.14,351.25 L665.88,352.61 L665.64,353.98 L665.41,355.34 L665.19,356.70 L664.98,358.06 L664.78,359.43 L664.60,360.79 L664.43,362.15 L664.27,363.51 L664.12,364.88 L663.96,366.24 L663.80,367.60 L663.80,367.60 L663.64,366.24 L663.48,364.88 L663.33,363.51 L663.17,362.15 L663.00,360.79 L662.82,359.43 L662.62,358.06 L662.41,356.70 L662.19,355.34 L661.96,353.98 L661.72,352.61 L661.46,351.25 L661.19,349.89 L660.91,348.53 L660.62,347.17 L660.34,345.80 L660.06,344.44 L659.76,343.08 L659.43,341.72 L659.05,340.35 L658.60,338.99 L658.07,337.63 L657.37,336.27 L656.15,334.90 L654.56,333.54 L652.82,332.18 L651.15,330.82 L649.76,329.46 L648.48,328.09 L647.15,326.73 L645.91,325.37 L644.93,324.01 L644.37,322.64 L644.31,321.28 L644.42,319.92 L644.62,318.56 L644.89,317.19 L645.23,315.83 L645.62,314.47 L646.05,313.11 L646.51,311.74 L647.00,310.38 L647.68,309.02 L648.54,307.66 L649.52,306.30 L650.59,304.93 L651.67,303.57 L652.87,302.21 L654.33,300.85 L655.86,299.48 L657.27,298.12 L658.38,296.76 L659.05,295.40 L659.56,294.03 L660.00,292.67 L660.38,291.31 L660.71,289.95 L661.02,288.59 L661.30,287.22 L661.58,285.86 L661.86,284.50 L662.14,283.14 L662.40,281.77 L662.64,280.41 L662.88,279.05 L663.10,277.69 L663.33,276.32 L663.56,274.96 L663.80,273.60Z" fill="#c7e6ee" stroke="#4a4a4a" stroke-width="0.5"/>
<path transform="scale(.5)" d="M1334 632h0m-11 26h0m7 27h0m17-80h0m-11 22h0m-7 3h0m19 9h0m-20 27h0m-2-25h0m16-20h0m4 24h0m-10-21h0m-14 14h0m2-34h0m-16 36h0m9-7h0m22 12h0m-12-5h0m15-1h0m-8 11h0m-4-42h0m10 42h0m-12-8h0m6 3h0m-7-16h0m-5-27h0m16 66h0m-28-11h0m37 28h0m-1-52h0m-5 27h0m-15 1h0m0-24h0m-2 27h0m2-8h0m-10-53h0m24 5h0m3 21h0m-15 6h0m14 9h0m-23-5h0m23 21h0m5-7h0m-13-46h0m12 17h0m-9 37h0m-2-11h0m-8-69h0m-17 61h0m3-35h0m28 27h0m-26 68h0m20-102h0m-21 55h0m24-22h0m8 55h0m-14-28h0m-23-61h0m28 44h0m-10 16h0m15-39h0m-28 29h0m5-31h0m25-3h0m-3 10h0m3-4h0m-16 59h0m7-63h0m10 13h0m-11 4h0m-23 13h0m3 38h0m-6-44h0m4 18h0m-3-49h0m14 34h0m9-32h0m10 49h0m-18-20h0m-10-32h0m30 49h0m0-21h0m3-2h0m-38-33h0m22 63h0m2-29h0m-4 23h0m-14-58h0m29 44h0m-15-18h0m-20 11h0m12 6h0m16 13h0m-21 10h0m23-55h0m-23 46h0m9-52h0m-6-26h0m-6 41h0m30 0h0m-22 31h0m17-14h0m5-11h0m-24 26h0m-11 17h0m21-26h0m-12 1h0m26 13h0m-29-37h0m22 83h0m-27-93h0m9-17h0m-3 62h0m27-44h0m-10 11h0m2 12h0m-23-29h0m9 23h0m23-4h0m-11-21h0m6 38h0m-10-12h0m-12-20h0m28 43h0m-26-25h0m-4-41h0m20 74h0m-23-31h0m27-29h0m-2 18h0m-13-1h0m5-23h0m-1 29h0m-16-14h0m0 6h0m11 30h0m-14-36h0m7-25h0m7 28h0m11 9h0m-5-11h0m-13 30h0m23 20h0m1-5h0m-5-24h0m1 21h0m-17 0h0m23-10h0m-10 12h0m-16-27h0m20 23h0m-2-16h0m-3 15h0m-4-1h0m12-50h0m-1 57h0m-6-63h0m-21 38h0m7 9h0m30 15h0m-23-57h0m9 47h0m-20-19h0m17-34h0m2 31h0m6 20h0m8-41h0m-20 56h0m-6-63h0m-6 24h0m7 5h0m4-25h0m21 68h0m-18 15h0m7-17h0m2-51h0m-29 44h0m9-34h0m12-2h0m-19 24h0m4-45h0m24-28h0m-3 95h0m-22-44h0m-1 30h0m29-23h0m-15-26h0m-6 28h0m16-22h0m-2-10h0m13-16h0m-35 44h0m26-11h0m-12 7h0m-8 55h0m10-25h0m-20-7h0m5-30h0m-1 32h0m23-4h0m1-8h0m-19-19h0m3-3h0m19 13h0m-16-9h0m-1 43h0m23-31h0m-16 13h0m0 17h0m3-18h0m-23-32h0m15 11h0m15 45h0m-5-73h0m9 21h0m-23 26h0m7 16h0m-10-2h0m-2-8h0m-4-2h0m5-18h0m-2-30h0m11 45h0m-1-43h0m14 52h0m1-44h0m-10-22h0m5 124h0m-8-100h0m-6 28h0m8-39h0m5 91h0m13-108h0m-6 63h0m-30 13h0m23-38h0m-22-45h0m21 16h0m10 7h0m-6 53h0m-24-15h0m13 28h0m-10-21h0m19-4h0m2-26h0m1 3h0m-15 72h0m10-12h0m-16-47h0m29 25h0m0-5h0m-36-29h0m21-7h0m6 37h0m-19 30h0m-8 13h0m-1-67h0m28-26h0m-28 23h0m15-22h0m17 92h0m-30-72h0m26 37h0m-11-41h0m-2 63h0m4-47h0m-5 24h0m20-17h0m-8 11h0m-11-50h0m-11 2h0m16 22h0m20 38h0m-5 2h0m-33-18h0m12-6h0m4-45h0m-2 74h0m-12-24h0m3-5h0m14 17h0m7-40h0m0 24h0m-2 4h0m1 2h0m-27-45h0m8 47h0m5 13h0m-3-21h0m5-30h0m1 55h0m-3-61h0m-13 9h0m34 44h0m4-18h0m-14-18h0m-13 31h0m7-9h0m18-38h0m-12 10h0m3 36h0m1 2h0m11-54h0m-13 35h0m-22 12h0m16-22h0m16-27h0m-31 30h0m-3 42h0m0-22h0m0-34h0m4 43h0m24-13h0m-6-24h0m5-2h0m-7-7h0m-8 17h0m17-3h0m-25-4h0m8 39h0m2-11h0m11-15h0m3 47h0m-8-36h0m2 30h0m-13-19h0m12-15h0m10 3h0m-16 7h0m13-1h0" fill="none" stroke="#111" stroke-width="3.2" stroke-linecap="square" opacity="0.8"/>
<rect x="558.3" y="397.5" width="44.3" height="102.8" fill="#fff" stroke="#cfcfcf" stroke-width="0.8"/>
<rect x="558.3" y="388.2" width="44.3" height="9.3" fill="#ebebeb" stroke="#c4c4c4" stroke-width="0.8"/>
<line x1="558.3" y1="397.5" x2="602.6" y2="397.5" stroke="#6a6a6a" stroke-width="0.9"/>
<text x="580.5" y="395.1" font-size="7.2" font-weight="bold" text-anchor="middle" fill="#1a1a1a" font-family="Liberation Sans, sans-serif">Ca</text>
<line x1="556.5" y1="417.8" x2="558.3" y2="417.8" stroke="#444" stroke-width="0.6"/>
<text x="556.3" y="419.5" font-size="4.8" text-anchor="end" fill="#4d4d4d" font-family="Liberation Sans, sans-serif">500</text>
<line x1="556.5" y1="447.6" x2="558.3" y2="447.6" stroke="#444" stroke-width="0.6"/>
<text x="556.3" y="449.3" font-size="4.8" text-anchor="end" fill="#4d4d4d" font-family="Liberation Sans, sans-serif">450</text>
<line x1="556.5" y1="477.4" x2="558.3" y2="477.4" stroke="#444" stroke-width="0.6"/>
<text x="556.3" y="479.1" font-size="4.8" text-anchor="end" fill="#4d4d4d" font-family="Liberation Sans, sans-serif">400</text>
<text transform="translate(547.2,448.9) rotate(-90) scale(0.88,1)" font-size="8.4" text-anchor="middle" fill="#1a1a1a" font-family="Liberation Sans, sans-serif">Ppm</text>
<path d="M580.60,401.60 L580.80,402.96 L581.00,404.32 L581.19,405.69 L581.37,407.05 L581.57,408.41 L581.76,409.77 L581.97,411.14 L582.20,412.50 L582.44,413.86 L582.70,415.22 L582.99,416.59 L583.29,417.95 L583.62,419.31 L583.98,420.67 L584.36,422.03 L584.78,423.40 L585.23,424.76 L585.72,426.12 L586.30,427.48 L586.98,428.85 L587.73,430.21 L588.54,431.57 L589.37,432.93 L590.27,434.30 L591.33,435.66 L592.48,437.02 L593.65,438.38 L594.77,439.74 L595.75,441.11 L596.54,442.47 L597.18,443.83 L597.81,445.19 L598.43,446.56 L599.02,447.92 L599.56,449.28 L600.04,450.64 L600.45,452.01 L600.77,453.37 L600.99,454.73 L601.09,456.09 L601.00,457.46 L600.55,458.82 L599.81,460.18 L598.85,461.54 L597.76,462.90 L596.62,464.27 L595.49,465.63 L594.46,466.99 L593.43,468.35 L592.32,469.72 L591.18,471.08 L590.03,472.44 L588.92,473.80 L587.82,475.17 L586.67,476.53 L585.54,477.89 L584.51,479.25 L583.65,480.61 L582.92,481.98 L582.25,483.34 L581.76,484.70 L581.49,486.06 L581.30,487.43 L581.16,488.79 L581.03,490.15 L580.93,491.51 L580.83,492.88 L580.72,494.24 L580.60,495.60 L580.60,495.60 L580.48,494.24 L580.37,492.88 L580.27,491.51 L580.17,490.15 L580.04,488.79 L579.90,487.43 L579.71,486.06 L579.44,484.70 L578.95,483.34 L578.28,481.98 L577.55,480.61 L576.69,479.25 L575.66,477.89 L574.53,476.53 L573.38,475.17 L572.28,473.80 L571.17,472.44 L570.02,471.08 L568.88,469.72 L567.77,468.35 L566.74,466.99 L565.71,465.63 L564.58,464.27 L563.44,462.90 L562.35,461.54 L561.39,460.18 L560.65,458.82 L560.20,457.46 L560.11,456.09 L560.21,454.73 L560.43,453.37 L560.75,452.01 L561.16,450.64 L561.64,449.28 L562.18,447.92 L562.77,446.56 L563.39,445.19 L564.02,443.83 L564.66,442.47 L565.45,441.11 L566.43,439.74 L567.55,438.38 L568.72,437.02 L569.87,435.66 L570.93,434.30 L571.83,432.93 L572.66,431.57 L573.47,430.21 L574.22,428.85 L574.90,427.48 L575.48,426.12 L575.97,424.76 L576.42,423.40 L576.84,422.03 L577.22,420.67 L577.58,419.31 L577.91,417.95 L578.21,416.59 L578.50,415.22 L578.76,413.86 L579.00,412.50 L579.23,411.14 L579.44,409.77 L579.63,408.41 L579.83,407.05 L580.01,405.69 L580.20,404.32 L580.40,402.96 L580.60,401.60Z" fill="#c7e6ee" stroke="#4a4a4a" stroke-width="0.5"/>
<path transform="scale(.5)" d="M1165 904h0m10 2h0m-33 5h0m31-36h0m7 7h0m-23-4h0m2 28h0m21 10h0m-23 3h0m-1-36h0m20 11h0m-16-18h0m7 39h0m-14-16h0m15-11h0m-12-5h0m17 60h0m-12-38h0m17 49h0m-15-62h0m12-9h0m-16 36h0m9 18h0m-16-60h0m13 54h0m3-21h0m-19 26h0m14 7h0m15-44h0m-29 44h0m12-65h0m14 23h0m-17-1h0m-16-14h0m20 18h0m-2 18h0m18-53h0m-10 34h0m4 3h0m-16-25h0m21 34h0m-3-28h0m-29 22h0m23 0h0m9 11h0m-10 19h0m13 0h0m-28-35h0m13-18h0m-2-2h0m-10 41h0m19-3h0m-14 2h0m9 6h0m5-21h0m-2 26h0m-25-20h0m-2-2h0m31 17h0m-7-17h0m-20 9h0m-1 18h0m15-43h0m-13 26h0m30-34h0m-28 14h0m29 30h0m-9 17h0m-7-6h0m5-22h0m1 10h0m-16 2h0m8-22h0m-17-26h0m-1-43h0m36 79h0m-4 0h0m-4-2h0m-26-11h0m21 6h0m4 3h0m-12-11h0m-2 7h0m14-29h0m-28 23h0m18 6h0m-9-5h0m8-23h0m4-12h0m-5 41h0m18-44h0m0 53h0m-4-44h0m1 43h0m-12-28h0m-9 40h0m22-52h0m-28-6h0m19 39h0m2 7h0m-21-28h0m3 8h0m19 13h0m8-28h0m-19 9h0m5 12h0m8-20h0m-6-15h0m-4 64h0m7-67h0m3 82h0m3-23h0m-9-29h0m4 31h0m-19-71h0m-1 48h0m26-14h0m-24-5h0m9 44h0m18-80h0m-30 77h0m21-67h0m-17 53h0m15-29h0m8 20h0m0 31h0m-2-12h0m-10-58h0m1 20h0m-15 15h0m-2 15h0m25-87h0m-28 100h0m36-3h0m-30 16h0m21-63h0m-11 0h0m7 46h0m5-23h0m-18-19h0m21-43h0m-3 39h0m-7 33h0m0 6h0m-7-28h0m23 45h0m-23-33h0m-6-1h0m13-7h0m14 1h0m0-2h0m-14 34h0m-7-30h0m14-15h0m-7 16h0m10 38h0m1-26h0m-6-42h0m11 28h0m-13 3h0m13-62h0m-13 106h0m-17-8h0m16-68h0m6 39h0m-14-18h0m-10-10h0m7 7h0m17-31h0m-22 59h0m-8-20h0m34 24h0m4 7h0m-4-18h0m-3-15h0m-3-21h0m-7 41h0m4 3h0m4 7h0m-17-51h0m-5-18h0m20 79h0m-4-22h0m16-45h0m-23 52h0m0-60h0m-12 53h0m-4-3h0m5 9h0m18-51h0m15 69h0m-34 6h0m2 10h0m20-29h0m-15-32h0m-10 60h0m34-39h0m-30 7h0m12-5h0m12-33h0m1 50h0m7-14h0m-14-35h0m-18 13h0m-3-20h0m23 25h0m-4 55h0m-12-58h0m-3-1h0m7 29h0m-2-59h0m2 7h0m0 48h0m16-48h0m-11 39h0m15 16h0m-14-19h0m-8-44h0m25 17h0m-11 26h0m8 36h0m-24-30h0m29 4h0m-13-7h0m-11-18h0m-5 19h0m-6-76h0m-2 62h0m6 28h0m5-45h0m8 33h0m-5 5h0m-14-41h0m4 52h0m-5-45h0m1 61h0m10-51h0m14 17h0m-20 31h0m30-15h0m4-24h0m-15-24h0m-23 33h0m5-2h0m14-48h0m17 34h0m1 42h0m-9-33h0m6-28h0m-32 37h0m16-13h0m-1 36h0m-10-34h0m14-56h0m0 28h0m16 3h0m-36 66h0m9-50h0m-5-1h0m2 57h0m4-70h0m2 31h0m23 30h0m-25-4h0m7-61h0m-13 25h0m2-17h0m0 33h0m14-32h0m-11-7h0m-1 8h0m10-13h0m-20 44h0m34-30h0m-33 10h0m15-11h0m23 9h0m-33-5h0m-5 3h0m18 24h0m5-39h0m-10 38h0m-6-24h0m19-26h0m-4 5h0m-10 65h0m11-81h0m9 31h0m-13 45h0m-5-66h0m9 16h0m-5 6h0m-16 41h0m32-56h0m-31 69h0m25-70h0m-12 37h0m14 14h0m-11-14h0m12-3h0m-14-6h0m-9-14h0m21 71h0m2-60h0m-13 17h0m17-4h0m-8 36h0m9-60h0m-30-8h0m30 58h0m-7-31h0m7 10h0m-24-3h0m8 12h0m14 4h0m-9-9h0m-15-88h0m0 98h0m26-74h0m-11 76h0m-25-107h0m9 99h0m11-9h0m-14-66h0m11 75h0m8-14h0m-23-37h0m6 60h0m25-20h0m-33-11h0" fill="none" stroke="#111" stroke-width="3.2" stroke-linecap="square" opacity="0.8"/>
<rect x="642.6" y="397.5" width="41.7" height="102.8" fill="#fff" stroke="#cfcfcf" stroke-width="0.8"/>
<rect x="642.6" y="388.2" width="41.7" height="9.3" fill="#ebebeb" stroke="#c4c4c4" stroke-width="0.8"/>
<line x1="642.6" y1="397.5" x2="684.3" y2="397.5" stroke="#6a6a6a" stroke-width="0.9"/>
<text x="663.5" y="395.1" font-size="7.2" font-weight="bold" text-anchor="middle" fill="#1a1a1a" font-family="Liberation Sans, sans-serif">K</text>
<line x1="640.8" y1="418.4" x2="642.6" y2="418.4" stroke="#444" stroke-width="0.6"/>
<text x="640.6" y="420.1" font-size="4.8" text-anchor="end" fill="#4d4d4d" font-family="Liberation Sans, sans-serif">1750</text>
<line x1="640.8" y1="440.7" x2="642.6" y2="440.7" stroke="#444" stroke-width="0.6"/>
<text x="640.6" y="442.4" font-size="4.8" text-anchor="end" fill="#4d4d4d" font-family="Liberation Sans, sans-serif">1500</text>
<line x1="640.8" y1="462.7" x2="642.6" y2="462.7" stroke="#444" stroke-width="0.6"/>
<text x="640.6" y="464.4" font-size="4.8" text-anchor="end" fill="#4d4d4d" font-family="Liberation Sans, sans-serif">1250</text>
<line x1="640.8" y1="484.8" x2="642.6" y2="484.8" stroke="#444" stroke-width="0.6"/>
<text x="640.6" y="486.5" font-size="4.8" text-anchor="end" fill="#4d4d4d" font-family="Liberation Sans, sans-serif">1000</text>
<text transform="translate(628.4,448.9) rotate(-90) scale(0.88,1)" font-size="8.4" text-anchor="middle" fill="#1a1a1a" font-family="Liberation Sans, sans-serif">Ppm</text>
<path d="M663.40,401.60 L663.46,402.96 L663.62,404.32 L663.86,405.69 L664.15,407.05 L664.46,408.41 L664.76,409.77 L665.04,411.14 L665.25,412.50 L665.38,413.86 L665.41,415.22 L665.48,416.59 L665.61,417.95 L665.77,419.31 L665.96,420.67 L666.13,422.03 L666.28,423.40 L666.38,424.76 L666.43,426.12 L667.04,427.48 L668.20,428.85 L669.55,430.21 L670.73,431.57 L671.37,432.93 L671.90,434.30 L673.70,435.66 L675.83,437.02 L677.26,438.38 L677.52,439.74 L678.13,441.11 L679.12,442.47 L680.29,443.83 L681.49,445.19 L682.52,446.56 L683.21,447.92 L683.40,449.28 L683.25,450.64 L682.94,452.01 L682.52,453.37 L682.04,454.73 L681.54,456.09 L681.07,457.46 L680.70,458.82 L680.46,460.18 L680.34,461.54 L679.19,462.90 L677.04,464.27 L674.59,465.63 L672.49,466.99 L671.43,468.35 L671.15,469.72 L670.35,471.08 L669.29,472.44 L668.25,473.80 L667.54,475.17 L667.38,476.53 L667.19,477.89 L666.85,479.25 L666.43,480.61 L666.00,481.98 L665.65,483.34 L665.43,484.70 L665.38,486.06 L665.19,487.43 L664.88,488.79 L664.50,490.15 L664.11,491.51 L663.75,492.88 L663.50,494.24 L663.40,495.60 L663.40,495.60 L663.30,494.24 L663.05,492.88 L662.69,491.51 L662.30,490.15 L661.92,488.79 L661.61,487.43 L661.42,486.06 L661.37,484.70 L661.15,483.34 L660.80,481.98 L660.37,480.61 L659.95,479.25 L659.61,477.89 L659.42,476.53 L659.26,475.17 L658.55,473.80 L657.51,472.44 L656.45,471.08 L655.65,469.72 L655.37,468.35 L654.31,466.99 L652.21,465.63 L649.76,464.27 L647.61,462.90 L646.46,461.54 L646.34,460.18 L646.10,458.82 L645.73,457.46 L645.26,456.09 L644.76,454.73 L644.28,453.37 L643.86,452.01 L643.55,450.64 L643.40,449.28 L643.59,447.92 L644.28,446.56 L645.31,445.19 L646.51,443.83 L647.68,442.47 L648.67,441.11 L649.28,439.74 L649.54,438.38 L650.97,437.02 L653.10,435.66 L654.90,434.30 L655.43,432.93 L656.07,431.57 L657.25,430.21 L658.60,428.85 L659.76,427.48 L660.37,426.12 L660.42,424.76 L660.52,423.40 L660.67,422.03 L660.84,420.67 L661.03,419.31 L661.19,417.95 L661.32,416.59 L661.39,415.22 L661.42,413.86 L661.55,412.50 L661.76,411.14 L662.04,409.77 L662.34,408.41 L662.65,407.05 L662.94,405.69 L663.18,404.32 L663.34,402.96 L663.40,401.60Z" fill="#c7e6ee" stroke="#4a4a4a" stroke-width="0.5"/>
<path transform="scale(.5)" d="M1327 872h0m8 50h0m-10-10h0m-16-13h0m25 26h0m1-42h0m-2-54h0m8 95h0m-3-15h0m2-19h0m-31 16h0m38-40h0m-17 24h0m1 15h0m0 19h0m-13-34h0m1-26h0m23 6h0m-11 20h0m14 18h0m-30 7h0m15-3h0m1 16h0m-23-16h0m24-1h0m-10-3h0m2 3h0m-10 5h0m17 34h0m3-71h0m8 32h0m-2-38h0m6 8h0m0 55h0m-11-42h0m-17 11h0m10-22h0m-18 19h0m19-53h0m-10 56h0m9 36h0m9-28h0m-28-1h0m33-7h0m-34-14h0m18 28h0m-10-25h0m-8-2h0m18 10h0m-9 47h0m-7-33h0m30-5h0m-23-38h0m27 49h0m-13-27h0m-10 13h0m-12-4h0m32 16h0m-30-66h0m27 17h0m-10 16h0m-3-6h0m-15 31h0m14-40h0m-17-3h0m30 35h0m-2-39h0m-23 56h0m15-29h0m-13-4h0m21 19h0m-21 43h0m0-63h0m4-3h0m28 8h0m-6 28h0m-17 16h0m16-59h0m-18-23h0m-7 36h0m29 0h0m-35 27h0m31-5h0m6 4h0m-35-22h0m31 3h0m-3 42h0m-30-80h0m17-13h0m-8-3h0m5 79h0m0-21h0m1 13h0m-16-4h0m11 13h0m0-19h0m15-15h0m2-17h0m2 24h0m-5-15h0m11 53h0m-14-16h0m-10-31h0m-11 15h0m28-2h0m-7 7h0m-16 32h0m14-52h0m18 21h0m-14-7h0m-12 40h0m20-58h0m-16 26h0m-16-42h0m3 37h0m35 40h0m-34-30h0m27-60h0m-30 101h0m16-51h0m-6 2h0m3 34h0m-11-34h0m13-23h0m14 14h0m-9 20h0m-16-21h0m27-18h0m3 17h0m-17-24h0m-4 0h0m-13 1h0m2 30h0m12-14h0m-11-10h0m35 39h0m-13-9h0m-14 15h0m11-47h0m-16 34h0m29-23h0m-16 14h0m8-3h0m-21 8h0m12 0h0m9 28h0m-13-26h0m-13-16h0m17 30h0m14-44h0m-15 41h0m21-13h0m-17-20h0m13 32h0m-34-47h0m24-15h0m-5 31h0m-6 14h0m22 8h0m-33-18h0m16 15h0m-7 47h0m26 14h0m-7-52h0m-23-26h0m-3 9h0m-4 22h0m6 10h0m30 11h0m-2-46h0m-3-4h0m-16 0h0m3 30h0m4 22h0m9-39h0m-32-5h0m7 12h0m16-15h0m-18 11h0m32-27h0m-35-8h0m37 23h0m-31-8h0m0-11h0m9 69h0m8-32h0m14-19h0m-20 66h0m17-90h0m-1 21h0m4 38h0m-25 17h0m5-26h0m-18-41h0m14 26h0m-1-40h0m-9-1h0m28 62h0m-22-101h0m-6 45h0m-1 0h0m-3 45h0m29-6h0m-9-27h0m0 12h0m-5 48h0m22-60h0m-23-17h0m4 44h0m8-37h0m10 32h0m-3-17h0m1-32h0m-28 55h0m31 8h0m-5-29h0m-20-12h0m19 72h0m6-64h0m-8 0h0m-1 8h0m4-9h0m2 0h0m-4 51h0m-28-68h0m5 57h0m-3-21h0m13-49h0m-16 22h0m20 36h0m15-7h0m2-20h0m-38 3h0m26 47h0m-21-20h0m28-3h0m-33 23h0m3-51h0m9 7h0m-13 33h0m26-27h0m-18 1h0m21 24h0m9 47h0m-19-41h0m0-9h0m21-21h0m-28 16h0m23-33h0m-7 4h0m-28-5h0m12 34h0m17 26h0m-27-22h0m32-32h0m2 24h0m-6-18h0m2 31h0m-8-24h0m8-14h0m-13 4h0m-3-20h0m12 23h0m-10-2h0m-6 8h0m-2 12h0m7 26h0m-2-12h0m15-17h0m1-14h0m1-14h0m2 29h0m-20-44h0m1-2h0m18 49h0m-26-33h0m21 47h0m-7-14h0m5-9h0m2 35h0m-1-62h0m-18 14h0m-8 14h0m37 43h0m-2-80h0m-16 42h0m6 25h0m-23-56h0m15 38h0m5-2h0m5-20h0m-19 10h0m-5 34h0m34-38h0m-4-1h0m-27 7h0m26-51h0m-1 68h0m-25-62h0m25 92h0m-17-5h0m-2-24h0m-7 6h0m17-19h0m1-21h0m-4 19h0m-16 4h0m28-36h0m-20 43h0m-2-29h0m15 11h0m-18-14h0m29 0h0m-10 41h0m5-9h0m-18-56h0m4 56h0m-7 15h0m0-21h0m6 1h0m15-29h0m-11 29h0m13-21h0m-29 41h0m7-20h0m-10-23h0m35 37h0m-34-9h0m19-37h0m6 1h0" fill="none" stroke="#111" stroke-width="3.2" stroke-linecap="square" opacity="0.8"/>
<rect x="561.1" y="521.5" width="41.5" height="102.8" fill="#fff" stroke="#cfcfcf" stroke-width="0.8"/>
<rect x="561.1" y="512.2" width="41.5" height="9.3" fill="#ebebeb" stroke="#c4c4c4" stroke-width="0.8"/>
<line x1="561.1" y1="521.5" x2="602.6" y2="521.5" stroke="#6a6a6a" stroke-width="0.9"/>
<text x="581.9" y="519.1" font-size="7.2" font-weight="bold" text-anchor="middle" fill="#1a1a1a" font-family="Liberation Sans, sans-serif">P</text>
<line x1="559.3" y1="523.8" x2="561.1" y2="523.8" stroke="#444" stroke-width="0.6"/>
<text x="559.1" y="525.5" font-size="4.8" text-anchor="end" fill="#4d4d4d" font-family="Liberation Sans, sans-serif">3500</text>
<line x1="559.3" y1="550.2" x2="561.1" y2="550.2" stroke="#444" stroke-width="0.6"/>
<text x="559.1" y="551.9" font-size="4.8" text-anchor="end" fill="#4d4d4d" font-family="Liberation Sans, sans-serif">3000</text>
<line x1="559.3" y1="576.3" x2="561.1" y2="576.3" stroke="#444" stroke-width="0.6"/>
<text x="559.1" y="578.0" font-size="4.8" text-anchor="end" fill="#4d4d4d" font-family="Liberation Sans, sans-serif">2500</text>
<line x1="559.3" y1="602.3" x2="561.1" y2="602.3" stroke="#444" stroke-width="0.6"/>
<text x="559.1" y="604.0" font-size="4.8" text-anchor="end" fill="#4d4d4d" font-family="Liberation Sans, sans-serif">2000</text>
<text transform="translate(547.2,572.9) rotate(-90) scale(0.88,1)" font-size="8.4" text-anchor="middle" fill="#1a1a1a" font-family="Liberation Sans, sans-serif">Ppm</text>
<path d="M582.10,525.60 L582.34,526.96 L582.57,528.32 L582.80,529.69 L583.02,531.05 L583.26,532.41 L583.50,533.77 L583.76,535.14 L584.04,536.50 L584.33,537.86 L584.63,539.22 L584.95,540.59 L585.28,541.95 L585.63,543.31 L586.02,544.67 L586.43,546.03 L586.89,547.40 L587.39,548.76 L587.96,550.12 L588.61,551.48 L589.32,552.85 L590.10,554.21 L590.95,555.57 L591.85,556.93 L592.91,558.30 L594.32,559.66 L595.87,561.02 L597.35,562.38 L598.54,563.74 L599.27,565.11 L599.83,566.47 L600.35,567.83 L600.80,569.19 L601.17,570.56 L601.44,571.92 L601.58,573.28 L601.51,574.64 L600.81,576.01 L599.60,577.37 L598.10,578.73 L596.54,580.09 L595.14,581.46 L593.79,582.82 L592.29,584.18 L590.80,585.54 L589.46,586.90 L588.43,588.27 L587.79,589.63 L587.28,590.99 L586.83,592.35 L586.43,593.72 L586.09,595.08 L585.78,596.44 L585.51,597.80 L585.25,599.17 L585.01,600.53 L584.80,601.89 L584.61,603.25 L584.44,604.61 L584.28,605.98 L584.12,607.34 L583.96,608.70 L583.78,610.06 L583.58,611.43 L583.36,612.79 L583.12,614.15 L582.87,615.51 L582.61,616.88 L582.35,618.24 L582.10,619.60 L582.10,619.60 L581.85,618.24 L581.59,616.88 L581.33,615.51 L581.08,614.15 L580.84,612.79 L580.62,611.43 L580.42,610.06 L580.24,608.70 L580.08,607.34 L579.92,605.98 L579.76,604.61 L579.59,603.25 L579.40,601.89 L579.19,600.53 L578.95,599.17 L578.69,597.80 L578.42,596.44 L578.11,595.08 L577.77,593.72 L577.37,592.35 L576.92,590.99 L576.41,589.63 L575.77,588.27 L574.74,586.90 L573.40,585.54 L571.91,584.18 L570.41,582.82 L569.06,581.46 L567.66,580.09 L566.10,578.73 L564.60,577.37 L563.39,576.01 L562.69,574.64 L562.62,573.28 L562.76,571.92 L563.03,570.56 L563.40,569.19 L563.85,567.83 L564.37,566.47 L564.93,565.11 L565.66,563.74 L566.85,562.38 L568.33,561.02 L569.88,559.66 L571.29,558.30 L572.35,556.93 L573.25,555.57 L574.10,554.21 L574.88,552.85 L575.59,551.48 L576.24,550.12 L576.81,548.76 L577.31,547.40 L577.77,546.03 L578.18,544.67 L578.57,543.31 L578.92,541.95 L579.25,540.59 L579.57,539.22 L579.87,537.86 L580.16,536.50 L580.44,535.14 L580.70,533.77 L580.94,532.41 L581.18,531.05 L581.40,529.69 L581.63,528.32 L581.86,526.96 L582.10,525.60Z" fill="#c7e6ee" stroke="#4a4a4a" stroke-width="0.5"/>
<path transform="scale(.5)" d="M1150 1122h0m34 74h0m-8 2h0m-23-74h0m30-9h0m-35 33h0m1-7h0m-4 7h0m23-1h0m-8 37h0m-12-27h0m16-27h0m15 25h0m-31-18h0m22 56h0m-19-51h0m14-63h0m-7 93h0m-3-45h0m-10 34h0m22-15h0m-5 9h0m10-1h0m-20 17h0m32-9h0m-39-14h0m7-18h0m18 8h0m-20-10h0m5 2h0m9 8h0m10-1h0m5-9h0m-22 1h0m14 0h0m-26-8h0m35 24h0m-9-37h0m9 18h0m-27-8h0m11 33h0m10-24h0m-29-17h0m33 49h0m-5-21h0m3 21h0m-25-27h0m24-1h0m-8 13h0m-17-42h0m-1 93h0m30-81h0m-19 58h0m-5-23h0m4 7h0m13-34h0m-22 46h0m1-25h0m19-7h0m10-15h0m-9-2h0m11 46h0m-26 24h0m2-54h0m1 18h0m0-2h0m-4-10h0m21-1h0m-20 3h0m5-11h0m2 23h0m21-19h0m-27 5h0m15-21h0m-15 75h0m19-89h0m-16 47h0m-15-3h0m20-19h0m-7 63h0m-3-101h0m1 32h0m-12 6h0m29 18h0m-7-3h0m4 6h0m-3 13h0m-8-80h0m4 60h0m0-8h0m18 15h0m-23-9h0m-8-11h0m-2-56h0m10 53h0m9 9h0m0-6h0m6 0h0m-2 17h0m-23-18h0m12 31h0m-1-30h0m-10 4h0m19 1h0m7 34h0m-29-24h0m19 42h0m-16-117h0m26 112h0m-8-63h0m-20 49h0m18-76h0m-11 70h0m-2-18h0m19 5h0m-11-16h0m21-1h0m0-16h0m-3-3h0m-17 32h0m19-16h0m-33-40h0m28 27h0m-16 0h0m20 2h0m-34 19h0m22 32h0m-20-27h0m9 10h0m11-45h0m-17 42h0m22 15h0m-7 45h0m-12-58h0m13-5h0m-4 38h0m-16-72h0m27 45h0m0-4h0m8-3h0m1-21h0m-23-25h0m11 9h0m-1 35h0m-23-20h0m27 51h0m-18-70h0m6 49h0m8-21h0m-5-10h0m-9-3h0m24 6h0m-31 1h0m20-10h0m-16-1h0m29 69h0m1-54h0m-9 11h0m7 5h0m-5-23h0m-5 46h0m4-47h0m7-8h0m-28-26h0m20 30h0m-22-24h0m12 47h0m-5-4h0m12-57h0m0 94h0m10-29h0m-2-10h0m-31 38h0m4-38h0m-5-23h0m27 36h0m-15 30h0m25-85h0m-30 41h0m29-19h0m-8 48h0m1-63h0m-6 52h0m11-37h0m-26 27h0m25 1h0m0 5h0m-11-56h0m3 42h0m-18-29h0m11 1h0m4 4h0m-11-1h0m-11 61h0m36-33h0m-6-18h0m-17 14h0m6-41h0m3 23h0m15 24h0m-16 5h0m6-5h0m3 54h0m-28-3h0m19-35h0m14-23h0m-4 17h0m4-33h0m-30 42h0m24-40h0m-20 81h0m24-126h0m-3 79h0m-17-18h0m8 20h0m-4-19h0m19 20h0m-16-9h0m-19-3h0m19 33h0m-21-71h0m5 63h0m14-33h0m-1 10h0m-16-3h0m11-14h0m-2 6h0m0 51h0m6-52h0m-16 32h0m0-95h0m8 66h0m19 9h0m9-18h0m-8-28h0m-27 52h0m30-3h0m0-22h0m1-23h0m-5 52h0m-18-5h0m9 6h0m-2-3h0m-16-34h0m20 21h0m-11-8h0m27-5h0m-11 1h0m6 16h0m-32 64h0m28-77h0m3-4h0m-13 14h0m-9 2h0m10-14h0m2 12h0m-4 1h0m-5 5h0m14-36h0m9 31h0m-25-13h0m24 30h0m-33-20h0m26 13h0m-14 1h0m7-37h0m-7-18h0m-11 50h0m4-56h0m33 82h0m-23-31h0m21-13h0m-17 12h0m15-35h0m-18 32h0m22 27h0m-21-107h0m-8 110h0m-4-46h0m-4 5h0m2 43h0m22-21h0m-12-22h0m20 62h0m-27-105h0m30 57h0m-30-9h0m3 28h0m3-84h0m-3 47h0m6 7h0m15-35h0m-29 44h0m7 17h0m-8 5h0m29-54h0m-26 26h0m16 60h0m14-96h0m-22 48h0m-8-25h0m6 43h0m27-26h0m-34 23h0m31-70h0m-30 48h0m2-11h0m24-25h0m-5 25h0m-13 20h0m15-10h0m-22 0h0m29-18h0m-12 14h0m15-4h0m-14 34h0m-1-6h0m12-28h0m-11 4h0m-20-13h0m21 17h0m-13-31h0m14 76h0m14-54h0m-15-59h0m9 51h0m-20 54h0m-13-52h0m1 5h0m-1 59h0" fill="none" stroke="#111" stroke-width="3.2" stroke-linecap="square" opacity="0.8"/>
<rect x="637.3" y="521.5" width="46.6" height="102.8" fill="#fff" stroke="#cfcfcf" stroke-width="0.8"/>
<rect x="637.3" y="512.2" width="46.6" height="9.3" fill="#ebebeb" stroke="#c4c4c4" stroke-width="0.8"/>
<line x1="637.3" y1="521.5" x2="683.9" y2="521.5" stroke="#6a6a6a" stroke-width="0.9"/>
<text x="660.6" y="519.1" font-size="7.2" font-weight="bold" text-anchor="middle" fill="#1a1a1a" font-family="Liberation Sans, sans-serif">Na</text>
<line x1="635.5" y1="547.6" x2="637.3" y2="547.6" stroke="#444" stroke-width="0.6"/>
<text x="635.3" y="549.3" font-size="4.8" text-anchor="end" fill="#4d4d4d" font-family="Liberation Sans, sans-serif">20</text>
<line x1="635.5" y1="582.4" x2="637.3" y2="582.4" stroke="#444" stroke-width="0.6"/>
<text x="635.3" y="584.1" font-size="4.8" text-anchor="end" fill="#4d4d4d" font-family="Liberation Sans, sans-serif">10</text>
<line x1="635.5" y1="617.2" x2="637.3" y2="617.2" stroke="#444" stroke-width="0.6"/>
<text x="635.3" y="618.9" font-size="4.8" text-anchor="end" fill="#4d4d4d" font-family="Liberation Sans, sans-serif">0</text>
<text transform="translate(628.4,572.9) rotate(-90) scale(0.88,1)" font-size="8.4" text-anchor="middle" fill="#1a1a1a" font-family="Liberation Sans, sans-serif">Ppm</text>
<path d="M660.60,525.60 L660.77,526.89 L660.94,528.18 L661.10,529.47 L661.27,530.76 L661.43,532.05 L661.60,533.34 L661.78,534.63 L661.97,535.92 L662.16,537.21 L662.37,538.50 L662.58,539.79 L662.80,541.08 L663.03,542.37 L663.26,543.66 L663.51,544.95 L663.75,546.24 L664.01,547.53 L664.26,548.82 L664.51,550.11 L664.77,551.40 L665.03,552.69 L665.30,553.98 L665.59,555.27 L665.90,556.56 L666.24,557.85 L666.61,559.14 L667.03,560.43 L667.51,561.72 L668.04,563.01 L668.62,564.30 L669.22,565.59 L669.85,566.88 L670.48,568.17 L671.15,569.46 L671.87,570.74 L672.65,572.03 L673.44,573.32 L674.24,574.61 L675.02,575.90 L675.77,577.19 L676.48,578.48 L677.28,579.77 L678.12,581.06 L678.97,582.35 L679.77,583.64 L680.48,584.93 L681.06,586.22 L681.45,587.51 L681.60,588.80 L681.45,590.09 L680.98,591.38 L680.28,592.67 L679.42,593.96 L678.46,595.25 L677.49,596.54 L676.28,597.83 L674.75,599.12 L673.03,600.41 L671.26,601.70 L669.57,602.99 L668.05,604.28 L666.51,605.57 L665.05,606.86 L663.86,608.15 L663.01,609.44 L662.33,610.73 L661.75,612.02 L661.19,613.31 L660.60,614.60 L660.60,614.60 L660.01,613.31 L659.45,612.02 L658.87,610.73 L658.19,609.44 L657.34,608.15 L656.15,606.86 L654.69,605.57 L653.15,604.28 L651.63,602.99 L649.94,601.70 L648.17,600.41 L646.45,599.12 L644.92,597.83 L643.71,596.54 L642.74,595.25 L641.78,593.96 L640.92,592.67 L640.22,591.38 L639.75,590.09 L639.60,588.80 L639.75,587.51 L640.14,586.22 L640.72,584.93 L641.43,583.64 L642.23,582.35 L643.08,581.06 L643.92,579.77 L644.72,578.48 L645.43,577.19 L646.18,575.90 L646.96,574.61 L647.76,573.32 L648.55,572.03 L649.33,570.74 L650.05,569.46 L650.72,568.17 L651.35,566.88 L651.98,565.59 L652.58,564.30 L653.16,563.01 L653.69,561.72 L654.17,560.43 L654.59,559.14 L654.96,557.85 L655.30,556.56 L655.61,555.27 L655.90,553.98 L656.17,552.69 L656.43,551.40 L656.69,550.11 L656.94,548.82 L657.19,547.53 L657.45,546.24 L657.69,544.95 L657.94,543.66 L658.17,542.37 L658.40,541.08 L658.62,539.79 L658.83,538.50 L659.04,537.21 L659.23,535.92 L659.42,534.63 L659.60,533.34 L659.77,532.05 L659.93,530.76 L660.10,529.47 L660.26,528.18 L660.43,526.89 L660.60,525.60Z" fill="#c7e6ee" stroke="#4a4a4a" stroke-width="0.5"/>
<path transform="scale(.5)" d="M1321 1145h0m9 7h0m-15 4h0m5 22h0m-17 5h0m25 2h0m-20 0h0m4 7h0m-2-10h0m20-15h0m-13-4h0m24-41h0m-8-31h0m5 100h0m-9-56h0m-19 58h0m4-32h0m2-45h0m-7 72h0m11-6h0m13 30h0m-11-41h0m-14 26h0m23-28h0m9-19h0m-20 12h0m-13 17h0m23 16h0m-7-7h0m11 11h0m-9-29h0m11-3h0m-34 4h0m25 30h0m-2-41h0m7-44h0m-22 47h0m15 14h0m-13 14h0m19 9h0m-27-20h0m4 9h0m31 0h0m-8 0h0m-20-15h0m3 27h0m5-7h0m-8-109h0m-4 45h0m33 81h0m-30-32h0m21-45h0m-1 62h0m1-72h0m-18 48h0m-3-11h0m16-8h0m15-5h0m-24-24h0m-7 37h0m12-33h0m-13 49h0m6-20h0m16 27h0m-20 16h0m8-6h0m8-10h0m-19 2h0m-1-61h0m33 80h0m-4-31h0m1-3h0m-13 7h0m-3-36h0m-15 26h0m5-37h0m-5 67h0m16-30h0m-3-35h0m-11 72h0m-3-30h0m19 10h0m-17 3h0m-5-8h0m8-14h0m23-13h0m-5-40h0m-6 65h0m-12-49h0m10 32h0m-18 33h0m12 3h0m6-7h0m-15-46h0m19 57h0m-5-66h0m-16 64h0m4-15h0m14 21h0m16 4h0m-34-39h0m21-16h0m-11 44h0m4-43h0m21 2h0m-12 17h0m-13-39h0m6 31h0m21-31h0m-4 31h0m-18 30h0m4 1h0m-2 6h0m-13-19h0m33-1h0m-30-18h0m0 31h0m-4-63h0m33 6h0m-1-9h0m-11 32h0m-5-46h0m2 66h0m-8-41h0m21 40h0m-14-8h0m12 7h0m-6 2h0m-1 6h0m0-21h0m4 8h0m2-25h0m-5 19h0m-15-43h0m-2 74h0m-3-3h0m26-76h0m-14-32h0m-20 72h0m24 11h0m11-4h0m2-12h0m1 20h0m-3-13h0m-28 1h0m14-62h0m8 73h0m-3-53h0m-11 69h0m-13-24h0m34-9h0m-5 20h0m4 18h0m-19-56h0m-6 23h0m24 43h0m-8-13h0m1-31h0m-25-4h0m2 30h0m27-64h0m5 6h0m-22 43h0m21 1h0m-28 0h0m16 11h0m-9 8h0m8-30h0m-14-6h0m8 34h0m3-42h0m4 45h0m-15-12h0m16 11h0m-15-15h0m30-49h0m-29 54h0m-5-12h0m6-29h0m12-15h0m-5 24h0m9-19h0m-22 2h0m12 57h0m5 11h0m17 9h0m-3-39h0m-13 2h0m-11-60h0m-7 18h0m20 54h0m-2-12h0m-4-3h0m10 15h0m-10 1h0m12-6h0m-19-92h0m1 82h0m24 19h0m-14-3h0m15 14h0m-35-31h0m34 1h0m-35-72h0m28 71h0m-7 3h0m-18 24h0m7-3h0m7-76h0m4 17h0m-3 27h0m-19 24h0m39-46h0m-26 45h0m15-10h0m8 19h0m2-36h0m-31 5h0m28-48h0m-15 55h0m5 16h0m-16-16h0m-4 0h0m17 26h0m13-11h0m-19-30h0m21 45h0m-10-16h0m-27-29h0m37-9h0m-33 33h0m4-10h0m14 7h0m15-44h0m-32 54h0m6 6h0m-10-29h0m2-8h0m13 50h0m6 1h0m-2-75h0m-19 40h0m15-5h0m1-14h0m20 17h0m-25 11h0m13-21h0m-6-7h0m11 40h0m-7-13h0m16-24h0m-14-16h0m-12 22h0m3 39h0m17-11h0m-19-44h0m22 32h0m-19-94h0m20 113h0m-32 3h0m26-54h0m-14 12h0m-9-2h0m15-14h0m-21 39h0m5-20h0m26-76h0m-13 61h0m-7 34h0m-8 4h0m1-89h0m2 77h0m10 7h0m-18 0h0m7 1h0m9 6h0m19-28h0m-1 33h0m3-23h0m-29-51h0m-4 62h0m29-20h0m-6 20h0m-18-19h0m8 11h0m19 2h0m-4 8h0m5-25h0m-18 25h0m-12-32h0m14 39h0m-17-40h0m0-27h0m-1-12h0m6 68h0m-3-19h0m4 16h0m17-17h0m-1 10h0m-26 26h0m34 5h0m-2-89h0m5 93h0m-29-31h0m20 13h0m-7 16h0m6-57h0m8 19h0m-33 34h0m31-24h0m1 24h0m-9-4h0m-10 22h0m6-34h0m-16-61h0m24 79h0m-8-55h0m1-4h0m6 21h0m-25-15h0m-2-9h0m3 42h0m-2 19h0m29-46h0m-27 10h0m10 18h0m11-23h0m-15 15h0m26 27h0m0-68h0" fill="none" stroke="#111" stroke-width="3.2" stroke-linecap="square" opacity="0.8"/>
<text x="532.1" y="15.1" font-size="18.6" fill="#000" font-family="Liberation Sans, sans-serif">B</text>
<rect x="19.5" y="300.5" width="503.5" height="341.5" fill="#fff" stroke="#ababab" stroke-width="1"/>
<text x="0.9" y="314.2" font-size="18" fill="#000" font-family="Liberation Sans, sans-serif">C</text>
<path d="M43.6 304.0V331.2H83.8" fill="none" stroke="#c8c8c8" stroke-width="0.8"/>
<path d="M51.8 331.2v1.6M63.1 331.2v1.6M74.5 331.2v1.6" stroke="#aaa" stroke-width="0.6"/>
<path d="M45.43 331.2v-2.2h1.83v2.2zM47.25 331.2v-1.6h1.83v1.6zM49.08 331.2v-6.1h1.83v6.1zM50.91 331.2v-3.5h1.83v3.5zM52.74 331.2v-5.6h1.83v5.6zM54.56 331.2v-4.8h1.83v4.8zM56.39 331.2v-8.8h1.83v8.8zM58.22 331.2v-8.7h1.83v8.7zM60.05 331.2v-16.7h1.83v16.7zM61.87 331.2v-10.9h1.83v10.9zM63.70 331.2v-24.1h1.83v24.1zM65.53 331.2v-19.6h1.83v19.6zM67.35 331.2v-26.0h1.83v26.0zM69.18 331.2v-17.0h1.83v17.0zM71.01 331.2v-6.1h1.83v6.1zM72.84 331.2v-2.2h1.83v2.2zM74.66 331.2v-1.9h1.83v1.9zM76.49 331.2v-1.6h1.83v1.6zM78.32 331.2v-1.1h1.83v1.1zM80.15 331.2v-1.1h1.83v1.1z" fill="#a9cbe8" stroke="#5b7fa3" stroke-width="0.35"/>
<path d="M46.3,329.4 L48.2,328.5 L50.0,326.9 L51.8,326.8 L53.6,325.8 L55.5,325.2 L57.3,322.8 L59.1,321.1 L61.0,317.3 L62.8,315.9 L64.6,311.2 L66.4,310.6 L68.3,310.5 L70.1,315.8 L71.9,322.1 L73.8,326.8 L75.6,328.9 L77.4,329.6 L79.2,330.0 L81.1,330.4" fill="none" stroke="#7aa8d8" stroke-width="0.8" opacity="0.8"/>
<path d="M42.0 331.2h1.6M42.0 317.8h1.6M42.0 304.4h1.6" stroke="#aaa" stroke-width="0.6"/>
<text x="41.4" y="332.6" font-size="4.2" text-anchor="end" fill="#333" font-family="Liberation Sans, sans-serif">0.0</text>
<text x="41.4" y="319.2" font-size="4.2" text-anchor="end" fill="#333" font-family="Liberation Sans, sans-serif">0.5</text>
<text x="41.4" y="305.8" font-size="4.2" text-anchor="end" fill="#333" font-family="Liberation Sans, sans-serif">1.0</text>
<text x="112.1" y="318.2" font-size="8.5" text-anchor="middle" fill="#1a1a1a" stroke="#1a1a1a" stroke-width="0.08" font-family="Liberation Sans, sans-serif">-0.15 <tspan letter-spacing="0.7" font-size="9">**</tspan></text>
<text x="160.8" y="318.2" font-size="8.5" text-anchor="middle" fill="#1a1a1a" stroke="#1a1a1a" stroke-width="0.08" font-family="Liberation Sans, sans-serif">0.39 <tspan letter-spacing="0.7" font-size="9">**</tspan></text>
<text x="209.6" y="318.2" font-size="8.5" text-anchor="middle" fill="#1a1a1a" stroke="#1a1a1a" stroke-width="0.08" font-family="Liberation Sans, sans-serif">-0.03</text>
<text x="258.3" y="318.2" font-size="8.5" text-anchor="middle" fill="#1a1a1a" stroke="#1a1a1a" stroke-width="0.08" font-family="Liberation Sans, sans-serif">-0.14 <tspan letter-spacing="0.7" font-size="9">*</tspan></text>
<text x="307.0" y="318.2" font-size="8.5" text-anchor="middle" fill="#1a1a1a" stroke="#1a1a1a" stroke-width="0.08" font-family="Liberation Sans, sans-serif">-0.06</text>
<text x="355.7" y="318.2" font-size="8.5" text-anchor="middle" fill="#1a1a1a" stroke="#1a1a1a" stroke-width="0.08" font-family="Liberation Sans, sans-serif">-0.39 <tspan letter-spacing="0.7" font-size="9">**</tspan></text>
<text x="404.4" y="318.2" font-size="8.5" text-anchor="middle" fill="#1a1a1a" stroke="#1a1a1a" stroke-width="0.08" font-family="Liberation Sans, sans-serif">-0.15 <tspan letter-spacing="0.7" font-size="9">**</tspan></text>
<text x="453.2" y="318.2" font-size="8.5" text-anchor="middle" fill="#1a1a1a" stroke="#1a1a1a" stroke-width="0.08" font-family="Liberation Sans, sans-serif">-0.29 <tspan letter-spacing="0.7" font-size="9">**</tspan></text>
<text x="501.9" y="318.2" font-size="8.5" text-anchor="middle" fill="#1a1a1a" stroke="#1a1a1a" stroke-width="0.08" font-family="Liberation Sans, sans-serif">-0.14 <tspan letter-spacing="0.7" font-size="9">*</tspan></text>
<path d="M43.6 336.6V363.8H83.8" fill="none" stroke="#c8c8c8" stroke-width="0.8"/>
<path d="M51.8 363.8v1.6M63.1 363.8v1.6M74.5 363.8v1.6" stroke="#aaa" stroke-width="0.6"/>
<path transform="scale(.5)" d="M134 703h0m-14-18h0m17 16h0m6 17h0m-37-15h0m37-22h0m-24 18h0m-26 3h0m-2 10h0m45 3h0m-11-19h0m1 2h0m6-7h0m-16-15h0m-4 16h0m-4 11h0m27-4h0m-43-11h0m21 13h0m9-6h0m17 3h0m-18-8h0m9 8h0m-24-1h0m14-18h0m9 10h0m7 1h0m-28 3h0m21 2h0m-11-9h0m4-6h0m11 20h0m-12-18h0m17 10h0m-9 8h0m-4 6h0m-1-19h0m18 12h0m-34 3h0m12-6h0m-19-5h0m61 26h0m-30-30h0m-23 7h0m20-2h0m6 2h0m-6-11h0m2 22h0m-27-21h0m33 8h0m-15 3h0m10 0h0m-3 16h0m8-7h0m11-5h0m-7 5h0m-5 8h0m-14-21h0m-9 12h0m-18-2h0m39 3h0m-11-14h0m19 7h0m7-9h0m-13 3h0m-27 24h0m-8-24h0m33 0h0m-10 15h0m17-10h0m-47 2h0m37-6h0m19-1h0m2 22h0m-15-17h0m-3 2h0m3 4h0m-17-3h0m9 0h0m-38-1h0m56-8h0m8 15h0m-24-18h0m-26 8h0m40-2h0m-7 7h0m-17 5h0m-12-12h0m52 6h0m-7 6h0m-13-6h0m-19 10h0m19-14h0m-7-5h0m-6 9h0m6-6h0m9 10h0m-19-12h0m12-7h0m-10 15h0m8-16h0m10 22h0m-44 10h0m32-21h0m-22 6h0m28-6h0m-6 5h0m-41-16h0m31 11h0m13 1h0m-12 3h0m23 5h0m-15-21h0m2 31h0m5-29h0m-10 14h0m0-2h0m3-9h0m4 11h0m-23-1h0m1-4h0m23 7h0m5-9h0m-4 9h0m-29-9h0m28 22h0m-23-5h0m6 6h0m12-5h0m-10 14h0m-4-37h0m6 12h0m13-12h0m0 13h0m-13-3h0m10 8h0m-19-21h0m24 4h0m-1 17h0m-4-6h0m-11-1h0m1-6h0m6 19h0m0-13h0m14-6h0m-30 2h0m11 3h0m35 3h0m-3-9h0m-15 9h0m-36-6h0m27 10h0m17 5h0m-13-8h0m-35-11h0m18 10h0m39-13h0m-15 18h0m-4-10h0m-8-6h0m-25-1h0m32 0h0m-36-6h0m31 14h0m8-4h0m0 18h0m-25-5h0m17-7h0m3 0h0m-9-1h0m-28-18h0m29 31h0m7 4h0m1-24h0m-7 7h0m-21 9h0m6-6h0m48-11h0m-31 3h0m-31-10h0m32 33h0m21-18h0m-36-4h0m-17-16h0m15 32h0m19 5h0m-6-18h0m-10-6h0m20-3h0m-15 13h0m25-11h0m-40 7h0m29 1h0m19 7h0m-14-3h0m-41-2h0m36 2h0m1-4h0m-14-4h0m12-2h0m3-6h0m-13-1h0m-32 10h0m18-12h0m-20 3h0m40 7h0m-30 13h0m36-10h0m-5-3h0m-10 7h0m-6 17h0m31-7h0m-29-11h0m-24 9h0m10-11h0m33 11h0m-20 5h0m-12-20h0m-6 8h0m38 2h0m-15-15h0m2 36h0m12-7h0m-22-30h0m42 21h0m-38-12h0m4-2h0m12 2h0m-7-2h0m-22 2h0m52 10h0m-19-13h0m-12-8h0m-12 6h0m15 16h0m-21-5h0m21-15h0m2 9h0m4 3h0m-8 5h0m-7-15h0m-29 13h0m45 3h0m3 0h0m-12-16h0m13 9h0m-24 12h0m24-11h0m-4-9h0m-31 12h0m10-3h0m3-12h0m21 19h0m2-5h0m-38-14h0m32-3h0m-10 27h0m-2 9h0m-11-20h0m14 3h0m16-14h0m-5 11h0m-2 21h0m-10-20h0m-8 3h0m14-15h0m14 9h0m-5-9h0m-12 11h0m9 6h0m5 9h0m-14-23h0m14 14h0m0-4h0m-4 0h0m-7 5h0m-1-12h0m0-5h0m-36 13h0m35-1h0m6-2h0m-1-7h0m13 6h0m-8 24h0m-7-3h0m4-27h0m1 0h0m2 0h0m-7 7h0m9 12h0m8-15h0m-6 11h0m-42-7h0m37-8h0m-2 19h0m-16-23h0m14 29h0m-6-31h0m12 20h0m-4-14h0m-20 11h0m23-24h0m-6 21h0m4-12h0m-1 17h0m-1-5h0m0 15h0m-19-20h0m30 10h0m-19-16h0m-26 12h0m24-9h0m9 14h0m-1-18h0m-12 26h0m16-25h0m-15-1h0m-16 0h0m29 25h0m-4-30h0" stroke="#2f72b4" stroke-width="2.1" stroke-linecap="round" opacity="0.82"/>
<path d="M45.5 346.9L81.2 349.9" stroke="#f4b8b8" stroke-width="2.0" opacity="0.45"/>
<path d="M45.5 346.9L81.2 349.9" stroke="#e24a4c" stroke-width="0.8"/>
<path d="M42.0 363.4h1.6M42.0 346.9h1.6" stroke="#aaa" stroke-width="0.6"/>
<text x="41.4" y="364.8" font-size="4.2" text-anchor="end" fill="#333" font-family="Liberation Sans, sans-serif">2</text>
<text x="41.4" y="348.3" font-size="4.2" text-anchor="end" fill="#333" font-family="Liberation Sans, sans-serif">3</text>
<path d="M92.3 336.6V363.8H132.5" fill="none" stroke="#c8c8c8" stroke-width="0.8"/>
<path d="M92.8 363.8v1.6M117.3 363.8v1.6" stroke="#aaa" stroke-width="0.6"/>
<path d="M94.15 363.8v-1.6h1.83v1.6zM95.97 363.8v-1.6h1.83v1.6zM97.80 363.8v-2.6h1.83v2.6zM99.63 363.8v-1.3h1.83v1.3zM101.46 363.8v-5.5h1.83v5.5zM103.28 363.8v-5.5h1.83v5.5zM105.11 363.8v-6.4h1.83v6.4zM106.94 363.8v-4.8h1.83v4.8zM108.77 363.8v-14.5h1.83v14.5zM110.59 363.8v-7.4h1.83v7.4zM112.42 363.8v-20.6h1.83v20.6zM114.25 363.8v-18.3h1.83v18.3zM116.07 363.8v-20.6h1.83v20.6zM117.90 363.8v-17.4h1.83v17.4zM119.73 363.8v-12.6h1.83v12.6zM121.56 363.8v-9.3h1.83v9.3zM123.38 363.8v-7.4h1.83v7.4zM125.21 363.8v-2.9h1.83v2.9zM127.04 363.8v-1.6h1.83v1.6zM128.87 363.8v-1.3h1.83v1.3z" fill="#a9cbe8" stroke="#5b7fa3" stroke-width="0.35"/>
<path d="M95.1,362.5 L96.9,362.2 L98.7,361.5 L100.5,360.9 L102.4,359.3 L104.2,358.6 L106.0,357.1 L107.9,356.4 L109.7,352.8 L111.5,351.5 L113.3,346.9 L115.2,345.7 L117.0,345.1 L118.8,347.4 L120.6,350.6 L122.5,354.0 L124.3,357.0 L126.1,359.8 L128.0,361.6 L129.8,362.6" fill="none" stroke="#7aa8d8" stroke-width="0.8" opacity="0.8"/>
<path d="M90.7 363.4h1.6M90.7 346.9h1.6" stroke="#aaa" stroke-width="0.6"/>
<text x="160.8" y="350.8" font-size="8.5" text-anchor="middle" fill="#1a1a1a" stroke="#1a1a1a" stroke-width="0.08" font-family="Liberation Sans, sans-serif">0.07</text>
<text x="209.6" y="350.8" font-size="8.5" text-anchor="middle" fill="#1a1a1a" stroke="#1a1a1a" stroke-width="0.08" font-family="Liberation Sans, sans-serif">-0.01</text>
<text x="258.3" y="350.8" font-size="8.5" text-anchor="middle" fill="#1a1a1a" stroke="#1a1a1a" stroke-width="0.08" font-family="Liberation Sans, sans-serif">0.00</text>
<text x="307.0" y="350.8" font-size="8.5" text-anchor="middle" fill="#1a1a1a" stroke="#1a1a1a" stroke-width="0.08" font-family="Liberation Sans, sans-serif">-0.15 <tspan letter-spacing="0.7" font-size="9">**</tspan></text>
<text x="355.7" y="350.8" font-size="8.5" text-anchor="middle" fill="#1a1a1a" stroke="#1a1a1a" stroke-width="0.08" font-family="Liberation Sans, sans-serif">0.16 <tspan letter-spacing="0.7" font-size="9">**</tspan></text>
<text x="404.4" y="350.8" font-size="8.5" text-anchor="middle" fill="#1a1a1a" stroke="#1a1a1a" stroke-width="0.08" font-family="Liberation Sans, sans-serif">-0.06</text>
<text x="453.2" y="350.8" font-size="8.5" text-anchor="middle" fill="#1a1a1a" stroke="#1a1a1a" stroke-width="0.08" font-family="Liberation Sans, sans-serif">0.08</text>
<text x="501.9" y="350.8" font-size="8.5" text-anchor="middle" fill="#1a1a1a" stroke="#1a1a1a" stroke-width="0.08" font-family="Liberation Sans, sans-serif">0.01</text>
<path d="M43.6 369.1V396.3H83.8" fill="none" stroke="#c8c8c8" stroke-width="0.8"/>
<path d="M51.8 396.3v1.6M63.1 396.3v1.6M74.5 396.3v1.6" stroke="#aaa" stroke-width="0.6"/>
<path transform="scale(.5)" d="M134 772h0m-14 13h0m17-14h0m6-7h0m-37 8h0m37-18h0m-24 18h0m-26 12h0m-2-14h0m45-4h0m-11 2h0m1 18h0m6-7h0m-16-6h0m-4 2h0m-4 4h0m27-7h0m-43 7h0m21 5h0m9 4h0m17-22h0m-18 0h0m9 10h0m-24 0h0m14-14h0m9-2h0m7 0h0m-28 22h0m21-2h0m-11 2h0m4-21h0m11 10h0m-12 12h0m17-1h0m-9 5h0m-4-14h0m-1 8h0m18-33h0m-34 40h0m12-17h0m-19 17h0m61-40h0m-30 36h0m-23 2h0m20-28h0m6 25h0m-6-5h0m2-4h0m-27 11h0m33-36h0m-15 25h0m10-11h0m-3 18h0m8-10h0m11-3h0m-7 7h0m-5-12h0m-14-4h0m-9 21h0m-18 5h0m39-1h0m-11-31h0m19 18h0m7-12h0m-13 24h0m-27-1h0m-8-19h0m33 22h0m-10-8h0m17 8h0m-47 0h0m37-3h0m19-22h0m2-6h0m-15 19h0m-3 9h0m3-9h0m-17-14h0m9 16h0m-38-2h0m56-3h0m8-21h0m-24 30h0m-26-13h0m40 9h0m-7 6h0m-17-2h0m-12 10h0m52-18h0m-7 9h0m-13-16h0m-19 18h0m19 0h0m-7 7h0m-6-15h0m6-8h0m9-2h0m-19 12h0m12-4h0m-10 8h0m8-1h0m10-18h0m-44 26h0m32-9h0m-22-3h0m28 9h0m-6-1h0m-41-8h0m31 3h0m13-22h0m-12 23h0m23-21h0m-15-8h0m2 14h0m5 15h0m-10-18h0m0 26h0m3-16h0m4-1h0m-23 5h0m1 11h0m23-6h0m5-29h0m-4-2h0m-29 32h0m28 1h0m-23-21h0m6 24h0m12-9h0m-10 11h0m-4-25h0m6-5h0m13 18h0m0 4h0m-13 4h0m10-5h0m-19 3h0m24-19h0m-1-20h0m-4 47h0m-11-24h0m1 5h0m6 16h0m0-2h0m14-6h0m-30 4h0m11-3h0m35-15h0m-3-8h0m-15 26h0m-36-1h0m27-9h0m17-19h0m-13 21h0m-35 15h0m18-10h0m39-24h0m-15 3h0m-4 7h0m-8 20h0m-25-3h0m32-3h0m-36 7h0m31-23h0m8-2h0m0 6h0m-25 4h0m17 8h0m3 4h0m-9 0h0m-28-21h0m29 18h0m7-2h0m1-16h0m-7 5h0m-21 5h0m6 14h0m48-45h0m-31 34h0m-31-7h0m32-15h0m21 29h0m-36-2h0m-17 3h0m15-24h0m19 28h0m-6-5h0m-10-36h0m20 13h0m-15 18h0m25-22h0m-40 22h0m29 7h0m19-13h0m-14 0h0m-41 16h0m36-5h0m1-24h0m-14 13h0m12 12h0m3 1h0m-13-3h0m-32 8h0m18-14h0m-20 10h0m40-7h0m-30 6h0m36 4h0m-5-13h0m-10 0h0m-6-14h0m31 21h0m-29-12h0m-24 20h0m10-19h0m33-12h0m-20 23h0m-12-12h0m-6 10h0m38-7h0m-15 2h0m2 4h0m12 4h0m-22-28h0m42-14h0m-38 42h0m4-24h0m12 3h0m-7-3h0m-22 21h0m52-5h0m-19 7h0m-12-18h0m-12 23h0m15-13h0m-21-5h0m21 16h0m2-20h0m4-10h0m-8 13h0m-7-1h0m-29 22h0m45-7h0m3-23h0m-12 17h0m13-32h0m-24 41h0m24-21h0m-4 12h0m-31 7h0m10 0h0m3-25h0m21 4h0m2 23h0m-38-11h0m32-6h0m-10 17h0m-2-1h0m-11-4h0m14 7h0m16-29h0m-5 27h0m-2-11h0m-10 2h0m-8 7h0m14-22h0m14 23h0m-5-23h0m-12 22h0m9-20h0m5 16h0m-14-13h0m14-4h0m0-13h0m-4 37h0m-7 0h0m-1-4h0m0-16h0m-36 20h0m35-25h0m6 2h0m-1-3h0m13 17h0m-8 4h0m-7 0h0m4-12h0m1-2h0m2-24h0m-7 30h0m9-1h0m8 4h0m-6-3h0m-42 8h0m37-24h0m-2 6h0m-16 0h0m14-3h0m-6 21h0m12-9h0m-4-8h0m-20 11h0m23-13h0m-6 10h0m4-4h0m-1 10h0m-1 11h0m0-11h0m-19 2h0m30-18h0m-19 1h0m-26-3h0m24 1h0m9 5h0m-1-7h0m-12 29h0m16-11h0m-15 10h0m-16-3h0m29-9h0m-4-14h0" stroke="#2f72b4" stroke-width="2.1" stroke-linecap="round" opacity="0.82"/>
<path d="M45.5 391.6L81.2 381.6" stroke="#f4b8b8" stroke-width="2.0" opacity="0.45"/>
<path d="M45.5 391.6L81.2 381.6" stroke="#e24a4c" stroke-width="0.8"/>
<path d="M42.0 391.5h1.6M42.0 378.2h1.6" stroke="#aaa" stroke-width="0.6"/>
<text x="41.4" y="392.9" font-size="4.2" text-anchor="end" fill="#333" font-family="Liberation Sans, sans-serif">5</text>
<text x="41.4" y="379.6" font-size="4.2" text-anchor="end" fill="#333" font-family="Liberation Sans, sans-serif">10</text>
<path d="M92.3 369.1V396.3H132.5" fill="none" stroke="#c8c8c8" stroke-width="0.8"/>
<path d="M92.8 396.3v1.6M117.3 396.3v1.6" stroke="#aaa" stroke-width="0.6"/>
<path transform="scale(.5)" d="M221 772h0m26 13h0m-24-14h0m-24-7h0m21 8h0m34-18h0m-27 18h0m-4 12h0m-16-14h0m-4-4h0m28 2h0m-3 18h0m11-7h0m22-6h0m-23 2h0m-17 4h0m6-7h0m16 7h0m-19 5h0m9 4h0m-5-22h0m13 0h0m-13 10h0m2 0h0m27-14h0m-16-2h0m-1 0h0m-4 22h0m-3-2h0m13 2h0m9-21h0m-30 10h0m27 12h0m-15-1h0m-12 5h0m-9-14h0m28 8h0m-18-33h0m-4 40h0m10-17h0m7 17h0m-39-40h0m45 36h0m-11 2h0m3-28h0m-3 25h0m17-5h0m-33-4h0m31 11h0m-12-36h0m-5 25h0m0-11h0m-22 18h0m9-10h0m8-3h0m-8 7h0m-11-12h0m31-4h0m-18 21h0m2 5h0m-3-1h0m20-31h0m-11 18h0m13-12h0m-3 24h0m-36-1h0m36-19h0m0 22h0m-22-8h0m14 8h0m-3 0h0m9-3h0m2-22h0m-33-6h0m25 19h0m-3 9h0m-5-9h0m3-14h0m1 16h0m1-2h0m12-3h0m-22-21h0m26 30h0m-11-13h0m2 9h0m-9 6h0m-7-2h0m16 10h0m-9-18h0m-8 9h0m8-16h0m-14 18h0m20 0h0m8 7h0m-13-15h0m9-8h0m-15-2h0m18 12h0m10-4h0m-22 8h0m23-1h0m-32-18h0m-15 26h0m32-9h0m-10-3h0m9 9h0m-7-1h0m23-8h0m-16 3h0m-1-22h0m-5 23h0m-8-21h0m32-8h0m-46 14h0m44 15h0m-21-18h0m2 26h0m13-16h0m-15-1h0m1 5h0m6 11h0m-10-6h0m12-29h0m-13-2h0m14 32h0m-33 1h0m8-21h0m-10 24h0m9-9h0m-21 11h0m54-25h0m-17-5h0m17 18h0m-20 4h0m6 4h0m-13-5h0m32 3h0m-7-19h0m-25-20h0m10 47h0m1-24h0m9 5h0m-29 16h0m20-2h0m8-6h0m-2 4h0m-4-3h0m-5-15h0m13-8h0m-14 26h0m9-1h0m-13-9h0m-9-19h0m13 21h0m15 15h0m-14-10h0m19-24h0m-27 3h0m15 7h0m9 20h0m2-3h0m0-3h0m8 7h0m-20-23h0m6-2h0m-28 6h0m9 4h0m9 8h0m1 4h0m1 0h0m26-21h0m-44 18h0m-7-2h0m36-16h0m-10 5h0m-14 5h0m9 14h0m16-45h0m-4 34h0m14-7h0m-48-15h0m26 29h0m7-2h0m23 3h0m-47-24h0m-8 28h0m27-5h0m9-36h0m4 13h0m-19 18h0m16-22h0m-11 22h0m0 7h0m-12-13h0m5 0h0m3 16h0m-2-5h0m6-24h0m5 13h0m3 12h0m9 1h0m2-3h0m-15 8h0m17-14h0m-4 10h0m-10-7h0m-19 6h0m14 4h0m5-13h0m-11 0h0m-25-14h0m10 21h0m17-12h0m-13 20h0m16-19h0m-16-12h0m-7 23h0m29-12h0m-13 10h0m-2-7h0m22 2h0m-54 4h0m11 4h0m45-28h0m-31-14h0m17 42h0m3-24h0m-3 3h0m3-3h0m-3 21h0m-15-5h0m19 7h0m12-18h0m-9 23h0m-23-13h0m8-5h0m22 16h0m-14-20h0m-4-10h0m-8 13h0m23-1h0m-19 22h0m-5-7h0m0-23h0m23 17h0m-12-32h0m-18 41h0m16-21h0m13 12h0m-18 7h0m4 0h0m18-25h0m-27 4h0m7 23h0m21-11h0m5-6h0m-42 17h0m-12-1h0m29-4h0m-4 7h0m21-29h0m-17 27h0m-31-11h0m29 2h0m-4 7h0m22-22h0m-13 23h0m14-23h0m-17 22h0m-9-20h0m-13 16h0m34-13h0m-20-4h0m6-13h0m0 37h0m-8 0h0m18-4h0m7-16h0m-19 20h0m1-25h0m4 2h0m10-3h0m-10 17h0m-35 4h0m4 0h0m41-12h0m-1-2h0m0-24h0m-10 30h0m-18-1h0m22 4h0m-16-3h0m10 8h0m12-24h0m-27 6h0m33 0h0m-42-3h0m45 21h0m-29-9h0m20-8h0m-15 11h0m35-13h0m-31 10h0m18-4h0m-25 10h0m7 11h0m-23-11h0m31 2h0m-16-18h0m24 1h0m-18-3h0m13 1h0m-20 5h0m26-7h0m-37 29h0m36-11h0m1 10h0m1-3h0m-37-9h0m44-14h0" stroke="#2f72b4" stroke-width="2.1" stroke-linecap="round" opacity="0.82"/>
<path d="M96.0 387.6L130.7 385.4" stroke="#f4b8b8" stroke-width="2.0" opacity="0.45"/>
<path d="M96.0 387.6L130.7 385.4" stroke="#e24a4c" stroke-width="0.8"/>
<path d="M90.7 391.5h1.6M90.7 378.2h1.6" stroke="#aaa" stroke-width="0.6"/>
<path d="M141.0 369.1V396.3H181.2" fill="none" stroke="#c8c8c8" stroke-width="0.8"/>
<path d="M148.1 396.3v1.6M167.8 396.3v1.6" stroke="#aaa" stroke-width="0.6"/>
<path d="M142.87 396.3v-5.1h1.83v5.1zM144.69 396.3v-9.6h1.83v9.6zM146.52 396.3v-13.8h1.83v13.8zM148.35 396.3v-19.9h1.83v19.9zM150.18 396.3v-13.8h1.83v13.8zM152.00 396.3v-15.1h1.83v15.1zM153.83 396.3v-11.2h1.83v11.2zM155.66 396.3v-12.2h1.83v12.2zM157.49 396.3v-10.9h1.83v10.9zM159.31 396.3v-9.3h1.83v9.3zM161.14 396.3v-7.1h1.83v7.1zM162.97 396.3v-9.0h1.83v9.0zM164.79 396.3v-8.7h1.83v8.7zM166.62 396.3v-5.5h1.83v5.5zM168.45 396.3v-3.9h1.83v3.9zM170.28 396.3v-1.9h1.83v1.9zM172.10 396.3v-1.9h1.83v1.9zM173.93 396.3v-1.0h1.83v1.0zM175.76 396.3v-1.9h1.83v1.9zM177.59 396.3v-1.0h1.83v1.0z" fill="#a9cbe8" stroke="#5b7fa3" stroke-width="0.35"/>
<path d="M143.8,391.0 L145.6,386.7 L147.4,383.0 L149.3,380.4 L151.1,381.3 L152.9,382.1 L154.7,383.9 L156.6,384.6 L158.4,385.8 L160.2,386.9 L162.1,387.9 L163.9,388.1 L165.7,388.9 L167.5,390.6 L169.4,392.3 L171.2,393.8 L173.0,394.4 L174.8,394.9 L176.7,395.0 L178.5,395.5" fill="none" stroke="#7aa8d8" stroke-width="0.8" opacity="0.8"/>
<path d="M139.4 391.5h1.6M139.4 378.2h1.6" stroke="#aaa" stroke-width="0.6"/>
<text x="209.6" y="383.3" font-size="8.5" text-anchor="middle" fill="#1a1a1a" stroke="#1a1a1a" stroke-width="0.08" font-family="Liberation Sans, sans-serif">0.09</text>
<text x="258.3" y="383.3" font-size="8.5" text-anchor="middle" fill="#1a1a1a" stroke="#1a1a1a" stroke-width="0.08" font-family="Liberation Sans, sans-serif">-0.07</text>
<text x="307.0" y="383.3" font-size="8.5" text-anchor="middle" fill="#1a1a1a" stroke="#1a1a1a" stroke-width="0.08" font-family="Liberation Sans, sans-serif">-0.25 <tspan letter-spacing="0.7" font-size="9">**</tspan></text>
<text x="355.7" y="383.3" font-size="8.5" text-anchor="middle" fill="#1a1a1a" stroke="#1a1a1a" stroke-width="0.08" font-family="Liberation Sans, sans-serif">-0.43 <tspan letter-spacing="0.7" font-size="9">**</tspan></text>
<text x="404.4" y="383.3" font-size="8.5" text-anchor="middle" fill="#1a1a1a" stroke="#1a1a1a" stroke-width="0.08" font-family="Liberation Sans, sans-serif">-0.10</text>
<text x="453.2" y="383.3" font-size="8.5" text-anchor="middle" fill="#1a1a1a" stroke="#1a1a1a" stroke-width="0.08" font-family="Liberation Sans, sans-serif">-0.29 <tspan letter-spacing="0.7" font-size="9">**</tspan></text>
<text x="501.9" y="383.3" font-size="8.5" text-anchor="middle" fill="#1a1a1a" stroke="#1a1a1a" stroke-width="0.08" font-family="Liberation Sans, sans-serif">-0.22 <tspan letter-spacing="0.7" font-size="9">**</tspan></text>
<path d="M43.6 401.7V428.9H83.8" fill="none" stroke="#c8c8c8" stroke-width="0.8"/>
<path d="M51.8 428.9v1.6M63.1 428.9v1.6M74.5 428.9v1.6" stroke="#aaa" stroke-width="0.6"/>
<path transform="scale(.5)" d="M134 823h0m-14 14h0m17-26h0m6 21h0m-37-10h0m37 3h0m-24 14h0m-26-18h0m-2 8h0m45 6h0m-11-6h0m1 11h0m6-3h0m-16-13h0m-4 16h0m-4-23h0m27-4h0m-43 34h0m21-18h0m9 5h0m17-7h0m-18 2h0m9 3h0m-24-17h0m14 16h0m9-4h0m7 6h0m-28-9h0m21 5h0m-11 5h0m4 9h0m11-16h0m-12 7h0m17-16h0m-9 13h0m-4 23h0m-1-14h0m18-27h0m-34 36h0m12-12h0m-19-19h0m61 22h0m-30 1h0m-23-10h0m20 6h0m6 0h0m-6-9h0m2 2h0m-27-7h0m33 17h0m-15 10h0m10-13h0m-3 0h0m8-2h0m11-8h0m-7 13h0m-5-9h0m-14 18h0m-9-10h0m-18-28h0m39 26h0m-11 9h0m19-10h0m7 7h0m-13-3h0m-27-3h0m-8-4h0m33 3h0m-10-2h0m17 5h0m-47 8h0m37-25h0m19 6h0m2 11h0m-15-10h0m-3 15h0m3-35h0m-17 5h0m9 19h0m-38 13h0m56 1h0m8-17h0m-24 4h0m-26 4h0m40-17h0m-7 17h0m-17-15h0m-12 16h0m52-7h0m-7 20h0m-13-28h0m-19 11h0m19-4h0m-7 10h0m-6-20h0m6 15h0m9 2h0m-19-9h0m12 6h0m-10 13h0m8-16h0m10-3h0m-44 18h0m32-5h0m-22-14h0m28 5h0m-6 9h0m-41 3h0m31-3h0m13 1h0m-12-10h0m23 0h0m-15-7h0m2-8h0m5 18h0m-10-3h0m0 5h0m3 2h0m4-18h0m-23 14h0m1-2h0m23 0h0m5 12h0m-4-2h0m-29-19h0m28 4h0m-23-11h0m6 18h0m12 6h0m-10-20h0m-4 9h0m6-5h0m13 18h0m0-26h0m-13 32h0m10-6h0m-19-17h0m24 21h0m-1-18h0m-4 23h0m-11-25h0m1-2h0m6-12h0m0 33h0m14 8h0m-30-15h0m11-6h0m35 11h0m-3-9h0m-15-19h0m-36 6h0m27 15h0m17-2h0m-13-4h0m-35-10h0m18 15h0m39-23h0m-15 24h0m-4-8h0m-8 9h0m-25 4h0m32 10h0m-36-20h0m31 3h0m8 4h0m0 4h0m-25-27h0m17 2h0m3 34h0m-9-24h0m-28-9h0m29 11h0m7-5h0m1-2h0m-7 11h0m-21 1h0m6 2h0m48-9h0m-31 20h0m-31-10h0m32-13h0m21 13h0m-36-8h0m-17 4h0m15 9h0m19 1h0m-6-3h0m-10-2h0m20-1h0m-15-6h0m25-10h0m-40 20h0m29-3h0m19-11h0m-14 18h0m-41-13h0m36-11h0m1-2h0m-14 17h0m12-3h0m3 0h0m-13 11h0m-32 9h0m18-6h0m-20-18h0m40 7h0m-30-23h0m36 21h0m-5-14h0m-10 5h0m-6 21h0m31-2h0m-29-25h0m-24 11h0m10 15h0m33-22h0m-20 17h0m-12-8h0m-6-3h0m38 4h0m-15-10h0m2 11h0m12 3h0m-22-8h0m42 1h0m-38 18h0m4-29h0m12 11h0m-7 2h0m-22 2h0m52 1h0m-19-6h0m-12 17h0m-12-26h0m15 9h0m-21 5h0m21-4h0m2 12h0m4-3h0m-8-5h0m-7 9h0m-29-3h0m45 1h0m3 11h0m-12-11h0m13-4h0m-24-21h0m24 29h0m-4-15h0m-31 6h0m10-7h0m3-2h0m21 15h0m2-4h0m-38-11h0m32 7h0m-10 3h0m-2-9h0m-11 6h0m14-16h0m16 9h0m-5 1h0m-2-15h0m-10-3h0m-8 29h0m14-11h0m14 17h0m-5-20h0m-12 14h0m9-17h0m5 21h0m-14-8h0m14 4h0m0-12h0m-4 16h0m-7-12h0m-1 4h0m0-13h0m-36 17h0m35-13h0m6-11h0m-1 24h0m13-8h0m-8 15h0m-7-9h0m4-25h0m1 13h0m2 4h0m-7 9h0m9-6h0m8 9h0m-6-15h0m-42-1h0m37 12h0m-2-4h0m-16 3h0m14-22h0m-6 18h0m12-11h0m-4 13h0m-20 2h0m23-2h0m-6-4h0m4 1h0m-1 15h0m-1-19h0m0-2h0m-19 16h0m30-18h0m-19 11h0m-26-13h0m24-1h0m9-2h0m-1 17h0m-12 12h0m16-5h0m-15-9h0m-16-13h0m29 13h0m-4-7h0" stroke="#2f72b4" stroke-width="2.1" stroke-linecap="round" opacity="0.82"/>
<path d="M45.5 416.5L81.2 417.3" stroke="#f4b8b8" stroke-width="2.0" opacity="0.45"/>
<path d="M45.5 416.5L81.2 417.3" stroke="#e24a4c" stroke-width="0.8"/>
<path d="M42.0 425.5h1.6M42.0 416.2h1.6M42.0 406.8h1.6" stroke="#aaa" stroke-width="0.6"/>
<text x="41.4" y="426.9" font-size="4.2" text-anchor="end" fill="#333" font-family="Liberation Sans, sans-serif">400</text>
<text x="41.4" y="417.6" font-size="4.2" text-anchor="end" fill="#333" font-family="Liberation Sans, sans-serif">450</text>
<text x="41.4" y="408.2" font-size="4.2" text-anchor="end" fill="#333" font-family="Liberation Sans, sans-serif">500</text>
<path d="M92.3 401.7V428.9H132.5" fill="none" stroke="#c8c8c8" stroke-width="0.8"/>
<path d="M92.8 428.9v1.6M117.3 428.9v1.6" stroke="#aaa" stroke-width="0.6"/>
<path transform="scale(.5)" d="M221 823h0m26 14h0m-24-26h0m-24 21h0m21-10h0m34 3h0m-27 14h0m-4-18h0m-16 8h0m-4 6h0m28-6h0m-3 11h0m11-3h0m22-13h0m-23 16h0m-17-23h0m6-4h0m16 34h0m-19-18h0m9 5h0m-5-7h0m13 2h0m-13 3h0m2-17h0m27 16h0m-16-4h0m-1 6h0m-4-9h0m-3 5h0m13 5h0m9 9h0m-30-16h0m27 7h0m-15-16h0m-12 13h0m-9 23h0m28-14h0m-18-27h0m-4 36h0m10-12h0m7-19h0m-39 22h0m45 1h0m-11-10h0m3 6h0m-3 0h0m17-9h0m-33 2h0m31-7h0m-12 17h0m-5 10h0m0-13h0m-22 0h0m9-2h0m8-8h0m-8 13h0m-11-9h0m31 18h0m-18-10h0m2-28h0m-3 26h0m20 9h0m-11-10h0m13 7h0m-3-3h0m-36-3h0m36-4h0m0 3h0m-22-2h0m14 5h0m-3 8h0m9-25h0m2 6h0m-33 11h0m25-10h0m-3 15h0m-5-35h0m3 5h0m1 19h0m1 13h0m12 1h0m-22-17h0m26 4h0m-11 4h0m2-17h0m-9 17h0m-7-15h0m16 16h0m-9-7h0m-8 20h0m8-28h0m-14 11h0m20-4h0m8 10h0m-13-20h0m9 15h0m-15 2h0m18-9h0m10 6h0m-22 13h0m23-16h0m-32-3h0m-15 18h0m32-5h0m-10-14h0m9 5h0m-7 9h0m23 3h0m-16-3h0m-1 1h0m-5-10h0m-8 0h0m32-7h0m-46-8h0m44 18h0m-21-3h0m2 5h0m13 2h0m-15-18h0m1 14h0m6-2h0m-10 0h0m12 12h0m-13-2h0m14-19h0m-33 4h0m8-11h0m-10 18h0m9 6h0m-21-20h0m54 9h0m-17-5h0m17 18h0m-20-26h0m6 32h0m-13-6h0m32-17h0m-7 21h0m-25-18h0m10 23h0m1-25h0m9-2h0m-29-12h0m20 33h0m8 8h0m-2-15h0m-4-6h0m-5 11h0m13-9h0m-14-19h0m9 6h0m-13 15h0m-9-2h0m13-4h0m15-10h0m-14 15h0m19-23h0m-27 24h0m15-8h0m9 9h0m2 4h0m0 10h0m8-20h0m-20 3h0m6 4h0m-28 4h0m9-27h0m9 2h0m1 34h0m1-24h0m26-9h0m-44 11h0m-7-5h0m36-2h0m-10 11h0m-14 1h0m9 2h0m16-9h0m-4 20h0m14-10h0m-48-13h0m26 13h0m7-8h0m23 4h0m-47 9h0m-8 1h0m27-3h0m9-2h0m4-1h0m-19-6h0m16-10h0m-11 20h0m0-3h0m-12-11h0m5 18h0m3-13h0m-2-11h0m6-2h0m5 17h0m3-3h0m9 0h0m2 11h0m-15 9h0m17-6h0m-4-18h0m-10 7h0m-19-23h0m14 21h0m5-14h0m-11 5h0m-25 21h0m10-2h0m17-25h0m-13 11h0m16 15h0m-16-22h0m-7 17h0m29-8h0m-13-3h0m-2 4h0m22-10h0m-54 11h0m11 3h0m45-8h0m-31 1h0m17 18h0m3-29h0m-3 11h0m3 2h0m-3 2h0m-15 1h0m19-6h0m12 17h0m-9-26h0m-23 9h0m8 5h0m22-4h0m-14 12h0m-4-3h0m-8-5h0m23 9h0m-19-3h0m-5 1h0m0 11h0m23-11h0m-12-4h0m-18-21h0m16 29h0m13-15h0m-18 6h0m4-7h0m18-2h0m-27 15h0m7-4h0m21-11h0m5 7h0m-42 3h0m-12-9h0m29 6h0m-4-16h0m21 9h0m-17 1h0m-31-15h0m29-3h0m-4 29h0m22-11h0m-13 17h0m14-20h0m-17 14h0m-9-17h0m-13 21h0m34-8h0m-20 4h0m6-12h0m0 16h0m-8-12h0m18 4h0m7-13h0m-19 17h0m1-13h0m4-11h0m10 24h0m-10-8h0m-35 15h0m4-9h0m41-25h0m-1 13h0m0 4h0m-10 9h0m-18-6h0m22 9h0m-16-15h0m10-1h0m12 12h0m-27-4h0m33 3h0m-42-22h0m45 18h0m-29-11h0m20 13h0m-15 2h0m35-2h0m-31-4h0m18 1h0m-25 15h0m7-19h0m-23-2h0m31 16h0m-16-18h0m24 11h0m-18-13h0m13-1h0m-20-2h0m26 17h0m-37 12h0m36-5h0m1-9h0m1-13h0m-37 13h0m44-7h0" stroke="#2f72b4" stroke-width="2.1" stroke-linecap="round" opacity="0.82"/>
<path d="M96.0 416.4L130.7 417.3" stroke="#f4b8b8" stroke-width="2.0" opacity="0.45"/>
<path d="M96.0 416.4L130.7 417.3" stroke="#e24a4c" stroke-width="0.8"/>
<path d="M90.7 425.5h1.6M90.7 416.2h1.6M90.7 406.8h1.6" stroke="#aaa" stroke-width="0.6"/>
<path d="M141.0 401.7V428.9H181.2" fill="none" stroke="#c8c8c8" stroke-width="0.8"/>
<path d="M148.1 428.9v1.6M167.8 428.9v1.6" stroke="#aaa" stroke-width="0.6"/>
<path transform="scale(.5)" d="M313 823h0m-20 14h0m21-26h0m10 21h0m-12-10h0m27 3h0m-27 14h0m-18-18h0m22 8h0m6 6h0m-3-6h0m-28 11h0m11-3h0m9-13h0m-2 16h0m-7-23h0m11-4h0m-10 34h0m-7-18h0m-7 5h0m33-7h0m-1 2h0m-14 3h0m0-17h0m20 16h0m4-4h0m-1 6h0m-31-9h0m1 5h0m-1 5h0m29 9h0m-14-16h0m-17 7h0m1-16h0m-8 13h0m21 23h0m-12-14h0m49-27h0m-59 36h0m25-12h0m-25-19h0m60 22h0m-55 1h0m-3-10h0m42 6h0m-37 0h0m8-9h0m6 2h0m-17-7h0m54 17h0m-37 10h0m15-13h0m-25 0h0m15-2h0m4-8h0m-10 13h0m17-9h0m6 18h0m-31-10h0m-7-28h0m1 26h0m45 9h0m-26-10h0m18 7h0m-36-3h0m2-3h0m28-4h0m-32 3h0m11-2h0m-11 5h0m0 8h0m3-25h0m33 6h0m9 11h0m-28-10h0m-13 15h0m14-35h0m20 5h0m-24 19h0m3 13h0m4 1h0m31-17h0m-43 4h0m18 4h0m-13-17h0m-9 17h0m4-15h0m-15 16h0m25-7h0m-12 20h0m23-28h0m-25 11h0m-1-4h0m-10 10h0m22-20h0m11 15h0m4 2h0m-18-9h0m5 6h0m-11 13h0m2-16h0m26-3h0m-39 18h0m14-5h0m4-14h0m-13 5h0m2 9h0m12 3h0m-6-3h0m33 1h0m-33-10h0m30 0h0m12-7h0m-20-8h0m-22 18h0m26-3h0m-38 5h0m23 2h0m1-18h0m-7 14h0m-16-2h0m9 0h0m43 12h0m3-2h0m-48-19h0m0 4h0m30-11h0m-36 18h0m14 6h0m-16-20h0m37 9h0m7-5h0m-26 18h0m-6-26h0m-6 32h0m6-6h0m-4-17h0m28 21h0m30-18h0m-70 23h0m36-25h0m-8-2h0m-23-12h0m3 33h0m8 8h0m-5-15h0m5-6h0m22 11h0m11-9h0m-38-19h0m1 6h0m14 15h0m28-2h0m-31-4h0m-23-10h0m16 15h0m34-23h0m-4 24h0m-11-8h0m-29 9h0m5 4h0m5 10h0m-10-20h0m33 3h0m2 4h0m-8 4h0m-6-27h0m-12 2h0m-6 34h0m1-24h0m30-9h0m-26 11h0m2-5h0m24-2h0m-7 11h0m-8 1h0m-21 2h0m68-9h0m-51 20h0m11-10h0m22-13h0m-43 13h0m3-8h0m-5 4h0m35 9h0m-41 1h0m7-3h0m54-2h0m-19-1h0m-27-6h0m32-10h0m-31 20h0m-11-3h0m19-11h0m0 18h0m-24-13h0m8-11h0m35-2h0m-18 17h0m-18-3h0m-2 0h0m5 11h0m-13 9h0m22-6h0m-16-18h0m11 7h0m-9-23h0m-5 21h0m19-14h0m0 5h0m19 21h0m-30-2h0m17-25h0m-28 11h0m28 15h0m17-22h0m-34 17h0m18-8h0m-15-3h0m11 4h0m-3-10h0m-6 11h0m-6 3h0m40-8h0m22 1h0m-62 18h0m35-29h0m-5 11h0m5 2h0m-32 2h0m8 1h0m-10-6h0m26 17h0m-33-26h0m19 9h0m8 5h0m-25-4h0m30 12h0m15-3h0m-19-5h0m1 9h0m-32-3h0m10 1h0m34 11h0m-25-11h0m47-4h0m-60-21h0m30 29h0m-17-15h0m-11 6h0m1-7h0m36-2h0m-6 15h0m-33-4h0m15-11h0m9 7h0m-25 3h0m3-9h0m5 6h0m-11-16h0m44 9h0m-40 1h0m16-15h0m-4-3h0m-10 29h0m33-11h0m-35 17h0m34-20h0m-32 14h0m30-17h0m-23 21h0m18-8h0m7 4h0m18-12h0m-54 16h0m0-12h0m6 4h0m24-13h0m-30 17h0m37-13h0m-4-11h0m6 24h0m-25-8h0m-6 15h0m0-9h0m17-25h0m3 13h0m35 4h0m-44 9h0m2-6h0m-7 9h0m5-15h0m-12-1h0m36 12h0m-9-4h0m0 3h0m4-22h0m-30 18h0m12-11h0m13 13h0m-17 2h0m19-2h0m-15-4h0m6 1h0m-15 15h0m-15-19h0m16-2h0m-3 16h0m26-18h0m-1 11h0m4-13h0m-1-1h0m-8-2h0m11 17h0m-42 12h0m16-5h0m-16-9h0m4-13h0m14 13h0m20-7h0" stroke="#2f72b4" stroke-width="2.1" stroke-linecap="round" opacity="0.82"/>
<path d="M143.3 417.7L179.4 415.5" stroke="#f4b8b8" stroke-width="2.0" opacity="0.45"/>
<path d="M143.3 417.7L179.4 415.5" stroke="#e24a4c" stroke-width="0.8"/>
<path d="M139.4 425.5h1.6M139.4 416.2h1.6M139.4 406.8h1.6" stroke="#aaa" stroke-width="0.6"/>
<path d="M189.8 401.7V428.9H230.0" fill="none" stroke="#c8c8c8" stroke-width="0.8"/>
<path d="M194.8 428.9v1.6M208.6 428.9v1.6M222.5 428.9v1.6" stroke="#aaa" stroke-width="0.6"/>
<path d="M191.59 428.9v-1.0h1.83v1.0zM193.41 428.9v-2.3h1.83v2.3zM195.24 428.9v-5.1h1.83v5.1zM197.07 428.9v-9.3h1.83v9.3zM198.90 428.9v-10.6h1.83v10.6zM200.72 428.9v-17.2h1.83v17.2zM202.55 428.9v-13.5h1.83v13.5zM204.38 428.9v-19.1h1.83v19.1zM206.21 428.9v-13.8h1.83v13.8zM208.03 428.9v-14.5h1.83v14.5zM209.86 428.9v-12.5h1.83v12.5zM211.69 428.9v-12.2h1.83v12.2zM213.51 428.9v-9.3h1.83v9.3zM215.34 428.9v-6.4h1.83v6.4zM217.17 428.9v-2.6h1.83v2.6zM219.00 428.9v-4.5h1.83v4.5zM220.82 428.9v-4.2h1.83v4.2zM222.65 428.9v-2.6h1.83v2.6zM224.48 428.9v-0.6h1.83v0.6zM226.31 428.9v-0.6h1.83v0.6z" fill="#a9cbe8" stroke="#5b7fa3" stroke-width="0.35"/>
<path d="M192.5,427.6 L194.3,425.9 L196.2,423.4 L198.0,420.1 L199.8,417.5 L201.6,414.4 L203.5,413.8 L205.3,412.6 L207.1,414.1 L208.9,414.7 L210.8,416.2 L212.6,417.6 L214.4,419.9 L216.3,422.3 L218.1,424.3 L219.9,424.9 L221.7,425.5 L223.6,426.4 L225.4,427.6 L227.2,428.3" fill="none" stroke="#7aa8d8" stroke-width="0.8" opacity="0.8"/>
<path d="M188.2 425.5h1.6M188.2 416.2h1.6M188.2 406.8h1.6" stroke="#aaa" stroke-width="0.6"/>
<text x="258.3" y="415.9" font-size="8.5" text-anchor="middle" fill="#1a1a1a" stroke="#1a1a1a" stroke-width="0.08" font-family="Liberation Sans, sans-serif">0.11</text>
<text x="307.0" y="415.9" font-size="8.5" text-anchor="middle" fill="#1a1a1a" stroke="#1a1a1a" stroke-width="0.08" font-family="Liberation Sans, sans-serif">0.14 <tspan letter-spacing="0.7" font-size="9">*</tspan></text>
<text x="355.7" y="415.9" font-size="8.5" text-anchor="middle" fill="#1a1a1a" stroke="#1a1a1a" stroke-width="0.08" font-family="Liberation Sans, sans-serif">0.11</text>
<text x="404.4" y="415.9" font-size="8.5" text-anchor="middle" fill="#1a1a1a" stroke="#1a1a1a" stroke-width="0.08" font-family="Liberation Sans, sans-serif">0.15 <tspan letter-spacing="0.7" font-size="9">**</tspan></text>
<text x="453.2" y="415.9" font-size="8.5" text-anchor="middle" fill="#1a1a1a" stroke="#1a1a1a" stroke-width="0.08" font-family="Liberation Sans, sans-serif">0.03</text>
<text x="501.9" y="415.9" font-size="8.5" text-anchor="middle" fill="#1a1a1a" stroke="#1a1a1a" stroke-width="0.08" font-family="Liberation Sans, sans-serif">0.02</text>
<path d="M43.6 434.3V461.5H83.8" fill="none" stroke="#c8c8c8" stroke-width="0.8"/>
<path d="M51.8 461.5v1.6M63.1 461.5v1.6M74.5 461.5v1.6" stroke="#aaa" stroke-width="0.6"/>
<path transform="scale(.5)" d="M134 899h0m-14-14h0m17-7h0m6 26h0m-37-18h0m37 21h0m-24-15h0m-26 3h0m-2 4h0m45-16h0m-11-1h0m1 37h0m6-20h0m-16 0h0m-4-5h0m-4-17h0m27 28h0m-43-9h0m21 7h0m9 15h0m17-11h0m-18-18h0m9 9h0m-24 0h0m14 7h0m9-18h0m7 14h0m-28-9h0m21 2h0m-11-4h0m4 11h0m11 5h0m-12-5h0m17-3h0m-9 2h0m-4 2h0m-1-13h0m18 13h0m-34 7h0m12-14h0m-19-12h0m61 14h0m-30 12h0m-23-29h0m20 16h0m6 19h0m-6-7h0m2-9h0m-27-2h0m33-12h0m-15 7h0m10 16h0m-3-8h0m8-8h0m11 6h0m-7-7h0m-5 15h0m-14-9h0m-9-5h0m-18-15h0m39 9h0m-11 22h0m19-13h0m7 12h0m-13 8h0m-27-36h0m-8 12h0m33 12h0m-10-6h0m17 15h0m-47-19h0m37-7h0m19 21h0m2-11h0m-15-2h0m-3 10h0m3-25h0m-17 20h0m9 1h0m-38-3h0m56 13h0m8-11h0m-24-6h0m-26 7h0m40-8h0m-7 25h0m-17-18h0m-12-11h0m52 29h0m-7-14h0m-13 6h0m-19-15h0m19 12h0m-7-13h0m-6-15h0m6 28h0m9 0h0m-19-20h0m12 6h0m-10 1h0m8-4h0m10-2h0m-44 2h0m32 12h0m-22-6h0m28 5h0m-6 9h0m-41-9h0m31-5h0m13 3h0m-12-1h0m23 3h0m-15-7h0m2 14h0m5-2h0m-10-7h0m0-6h0m3 6h0m4 7h0m-23 11h0m1-25h0m23 0h0m5 12h0m-4-9h0m-29 3h0m28 7h0m-23 1h0m6-7h0m12 17h0m-10-37h0m-4 20h0m6 3h0m13-24h0m0 15h0m-13 10h0m10-9h0m-19 22h0m24-14h0m-1-7h0m-4 7h0m-11-15h0m1 7h0m6-3h0m0 14h0m14-11h0m-30-9h0m11 5h0m35 0h0m-3 5h0m-15-4h0m-36 4h0m27 10h0m17-13h0m-13 1h0m-35-8h0m18 17h0m39-2h0m-15 12h0m-4-10h0m-8-9h0m-25 12h0m32 1h0m-36-22h0m31 16h0m8 5h0m0-12h0m-25 5h0m17 3h0m3-11h0m-9-5h0m-28 25h0m29-7h0m7 2h0m1-10h0m-7 15h0m-21-25h0m6 9h0m48 3h0m-31-3h0m-31 20h0m32 4h0m21-5h0m-36-15h0m-17 1h0m15 8h0m19-16h0m-6 2h0m-10 20h0m20-24h0m-15-1h0m25-9h0m-40 20h0m29-3h0m19 8h0m-14 14h0m-41-25h0m36 0h0m1 6h0m-14-11h0m12 17h0m3-3h0m-13 16h0m-32-32h0m18 4h0m-20 15h0m40 5h0m-30-19h0m36-7h0m-5 17h0m-10-13h0m-6 6h0m31 12h0m-29-5h0m-24-10h0m10-3h0m33 0h0m-20 15h0m-12-15h0m-6-5h0m38-1h0m-15-4h0m2 0h0m12 20h0m-22-1h0m42 5h0m-38-9h0m4 0h0m12-9h0m-7 18h0m-22 4h0m52-27h0m-19 18h0m-12-3h0m-12 15h0m15-18h0m-21-1h0m21-10h0m2 30h0m4-15h0m-8-4h0m-7 6h0m-29 4h0m45 2h0m3-15h0m-12 3h0m13-10h0m-24 11h0m24 5h0m-4-2h0m-31 0h0m10-2h0m3 23h0m21-13h0m2-5h0m-38 0h0m32-2h0m-10-7h0m-2 17h0m-11-2h0m14 0h0m16 2h0m-5-18h0m-2 6h0m-10-2h0m-8 20h0m14-9h0m14 11h0m-5-16h0m-12-12h0m9 0h0m5 5h0m-14 14h0m14-4h0m0-21h0m-4 21h0m-7-1h0m-1 5h0m0-12h0m-36 0h0m35-16h0m6 20h0m-1-3h0m13 3h0m-8 9h0m-7-4h0m4 4h0m1 1h0m2-15h0m-7 6h0m9-10h0m8 13h0m-6-4h0m-42-3h0m37-5h0m-2 19h0m-16-31h0m14 0h0m-6 20h0m12-1h0m-4-6h0m-20 6h0m23-10h0m-6 12h0m4-20h0m-1 9h0m-1 4h0m0 16h0m-19 1h0m30-8h0m-19-22h0m-26 14h0m24-19h0m9 33h0m-1 2h0m-12-17h0m16 12h0m-15-12h0m-16-11h0m29 12h0m-4 9h0" stroke="#2f72b4" stroke-width="2.1" stroke-linecap="round" opacity="0.82"/>
<path d="M45.5 446.5L81.2 449.6" stroke="#f4b8b8" stroke-width="2.0" opacity="0.45"/>
<path d="M45.5 446.5L81.2 449.6" stroke="#e24a4c" stroke-width="0.8"/>
<path d="M42.0 458.7h1.6M42.0 449.5h1.6M42.0 440.3h1.6" stroke="#aaa" stroke-width="0.6"/>
<text x="41.4" y="460.1" font-size="4.2" text-anchor="end" fill="#333" font-family="Liberation Sans, sans-serif">50</text>
<text x="41.4" y="450.9" font-size="4.2" text-anchor="end" fill="#333" font-family="Liberation Sans, sans-serif">100</text>
<text x="41.4" y="441.7" font-size="4.2" text-anchor="end" fill="#333" font-family="Liberation Sans, sans-serif">150</text>
<path d="M92.3 434.3V461.5H132.5" fill="none" stroke="#c8c8c8" stroke-width="0.8"/>
<path d="M92.8 461.5v1.6M117.3 461.5v1.6" stroke="#aaa" stroke-width="0.6"/>
<path transform="scale(.5)" d="M221 899h0m26-14h0m-24-7h0m-24 26h0m21-18h0m34 21h0m-27-15h0m-4 3h0m-16 4h0m-4-16h0m28-1h0m-3 37h0m11-20h0m22 0h0m-23-5h0m-17-17h0m6 28h0m16-9h0m-19 7h0m9 15h0m-5-11h0m13-18h0m-13 9h0m2 0h0m27 7h0m-16-18h0m-1 14h0m-4-9h0m-3 2h0m13-4h0m9 11h0m-30 5h0m27-5h0m-15-3h0m-12 2h0m-9 2h0m28-13h0m-18 13h0m-4 7h0m10-14h0m7-12h0m-39 14h0m45 12h0m-11-29h0m3 16h0m-3 19h0m17-7h0m-33-9h0m31-2h0m-12-12h0m-5 7h0m0 16h0m-22-8h0m9-8h0m8 6h0m-8-7h0m-11 15h0m31-9h0m-18-5h0m2-15h0m-3 9h0m20 22h0m-11-13h0m13 12h0m-3 8h0m-36-36h0m36 12h0m0 12h0m-22-6h0m14 15h0m-3-19h0m9-7h0m2 21h0m-33-11h0m25-2h0m-3 10h0m-5-25h0m3 20h0m1 1h0m1-3h0m12 13h0m-22-11h0m26-6h0m-11 7h0m2-8h0m-9 25h0m-7-18h0m16-11h0m-9 29h0m-8-14h0m8 6h0m-14-15h0m20 12h0m8-13h0m-13-15h0m9 28h0m-15 0h0m18-20h0m10 6h0m-22 1h0m23-4h0m-32-2h0m-15 2h0m32 12h0m-10-6h0m9 5h0m-7 9h0m23-9h0m-16-5h0m-1 3h0m-5-1h0m-8 3h0m32-7h0m-46 14h0m44-2h0m-21-7h0m2-6h0m13 6h0m-15 7h0m1 11h0m6-25h0m-10 0h0m12 12h0m-13-9h0m14 3h0m-33 7h0m8 1h0m-10-7h0m9 17h0m-21-37h0m54 20h0m-17 3h0m17-24h0m-20 15h0m6 10h0m-13-9h0m32 22h0m-7-14h0m-25-7h0m10 7h0m1-15h0m9 7h0m-29-3h0m20 14h0m8-11h0m-2-9h0m-4 5h0m-5 0h0m13 5h0m-14-4h0m9 4h0m-13 10h0m-9-13h0m13 1h0m15-8h0m-14 17h0m19-2h0m-27 12h0m15-10h0m9-9h0m2 12h0m0 1h0m8-22h0m-20 16h0m6 5h0m-28-12h0m9 5h0m9 3h0m1-11h0m1-5h0m26 25h0m-44-7h0m-7 2h0m36-10h0m-10 15h0m-14-25h0m9 9h0m16 3h0m-4-3h0m14 20h0m-48 4h0m26-5h0m7-15h0m23 1h0m-47 8h0m-8-16h0m27 2h0m9 20h0m4-24h0m-19-1h0m16-9h0m-11 20h0m0-3h0m-12 8h0m5 14h0m3-25h0m-2 0h0m6 6h0m5-11h0m3 17h0m9-3h0m2 16h0m-15-32h0m17 4h0m-4 15h0m-10 5h0m-19-19h0m14-7h0m5 17h0m-11-13h0m-25 6h0m10 12h0m17-5h0m-13-10h0m16-3h0m-16 0h0m-7 15h0m29-15h0m-13-5h0m-2-1h0m22-4h0m-54 0h0m11 20h0m45-1h0m-31 5h0m17-9h0m3 0h0m-3-9h0m3 18h0m-3 4h0m-15-27h0m19 18h0m12-3h0m-9 15h0m-23-18h0m8-1h0m22-10h0m-14 30h0m-4-15h0m-8-4h0m23 6h0m-19 4h0m-5 2h0m0-15h0m23 3h0m-12-10h0m-18 11h0m16 5h0m13-2h0m-18 0h0m4-2h0m18 23h0m-27-13h0m7-5h0m21 0h0m5-2h0m-42-7h0m-12 17h0m29-2h0m-4 0h0m21 2h0m-17-18h0m-31 6h0m29-2h0m-4 20h0m22-9h0m-13 11h0m14-16h0m-17-12h0m-9 0h0m-13 5h0m34 14h0m-20-4h0m6-21h0m0 21h0m-8-1h0m18 5h0m7-12h0m-19 0h0m1-16h0m4 20h0m10-3h0m-10 3h0m-35 9h0m4-4h0m41 4h0m-1 1h0m0-15h0m-10 6h0m-18-10h0m22 13h0m-16-4h0m10-3h0m12-5h0m-27 19h0m33-31h0m-42 0h0m45 20h0m-29-1h0m20-6h0m-15 6h0m35-10h0m-31 12h0m18-20h0m-25 9h0m7 4h0m-23 16h0m31 1h0m-16-8h0m24-22h0m-18 14h0m13-19h0m-20 33h0m26 2h0m-37-17h0m36 12h0m1-12h0m1-11h0m-37 12h0m44 9h0" stroke="#2f72b4" stroke-width="2.1" stroke-linecap="round" opacity="0.82"/>
<path d="M96.0 447.4L130.7 448.6" stroke="#f4b8b8" stroke-width="2.0" opacity="0.45"/>
<path d="M96.0 447.4L130.7 448.6" stroke="#e24a4c" stroke-width="0.8"/>
<path d="M90.7 458.7h1.6M90.7 449.5h1.6M90.7 440.3h1.6" stroke="#aaa" stroke-width="0.6"/>
<path d="M141.0 434.3V461.5H181.2" fill="none" stroke="#c8c8c8" stroke-width="0.8"/>
<path d="M148.1 461.5v1.6M167.8 461.5v1.6" stroke="#aaa" stroke-width="0.6"/>
<path transform="scale(.5)" d="M313 899h0m-20-14h0m21-7h0m10 26h0m-12-18h0m27 21h0m-27-15h0m-18 3h0m22 4h0m6-16h0m-3-1h0m-28 37h0m11-20h0m9 0h0m-2-5h0m-7-17h0m11 28h0m-10-9h0m-7 7h0m-7 15h0m33-11h0m-1-18h0m-14 9h0m0 0h0m20 7h0m4-18h0m-1 14h0m-31-9h0m1 2h0m-1-4h0m29 11h0m-14 5h0m-17-5h0m1-3h0m-8 2h0m21 2h0m-12-13h0m49 13h0m-59 7h0m25-14h0m-25-12h0m60 14h0m-55 12h0m-3-29h0m42 16h0m-37 19h0m8-7h0m6-9h0m-17-2h0m54-12h0m-37 7h0m15 16h0m-25-8h0m15-8h0m4 6h0m-10-7h0m17 15h0m6-9h0m-31-5h0m-7-15h0m1 9h0m45 22h0m-26-13h0m18 12h0m-36 8h0m2-36h0m28 12h0m-32 12h0m11-6h0m-11 15h0m0-19h0m3-7h0m33 21h0m9-11h0m-28-2h0m-13 10h0m14-25h0m20 20h0m-24 1h0m3-3h0m4 13h0m31-11h0m-43-6h0m18 7h0m-13-8h0m-9 25h0m4-18h0m-15-11h0m25 29h0m-12-14h0m23 6h0m-25-15h0m-1 12h0m-10-13h0m22-15h0m11 28h0m4 0h0m-18-20h0m5 6h0m-11 1h0m2-4h0m26-2h0m-39 2h0m14 12h0m4-6h0m-13 5h0m2 9h0m12-9h0m-6-5h0m33 3h0m-33-1h0m30 3h0m12-7h0m-20 14h0m-22-2h0m26-7h0m-38-6h0m23 6h0m1 7h0m-7 11h0m-16-25h0m9 0h0m43 12h0m3-9h0m-48 3h0m0 7h0m30 1h0m-36-7h0m14 17h0m-16-37h0m37 20h0m7 3h0m-26-24h0m-6 15h0m-6 10h0m6-9h0m-4 22h0m28-14h0m30-7h0m-70 7h0m36-15h0m-8 7h0m-23-3h0m3 14h0m8-11h0m-5-9h0m5 5h0m22 0h0m11 5h0m-38-4h0m1 4h0m14 10h0m28-13h0m-31 1h0m-23-8h0m16 17h0m34-2h0m-4 12h0m-11-10h0m-29-9h0m5 12h0m5 1h0m-10-22h0m33 16h0m2 5h0m-8-12h0m-6 5h0m-12 3h0m-6-11h0m1-5h0m30 25h0m-26-7h0m2 2h0m24-10h0m-7 15h0m-8-25h0m-21 9h0m68 3h0m-51-3h0m11 20h0m22 4h0m-43-5h0m3-15h0m-5 1h0m35 8h0m-41-16h0m7 2h0m54 20h0m-19-24h0m-27-1h0m32-9h0m-31 20h0m-11-3h0m19 8h0m0 14h0m-24-25h0m8 0h0m35 6h0m-18-11h0m-18 17h0m-2-3h0m5 16h0m-13-32h0m22 4h0m-16 15h0m11 5h0m-9-19h0m-5-7h0m19 17h0m0-13h0m19 6h0m-30 12h0m17-5h0m-28-10h0m28-3h0m17 0h0m-34 15h0m18-15h0m-15-5h0m11-1h0m-3-4h0m-6 0h0m-6 20h0m40-1h0m22 5h0m-62-9h0m35 0h0m-5-9h0m5 18h0m-32 4h0m8-27h0m-10 18h0m26-3h0m-33 15h0m19-18h0m8-1h0m-25-10h0m30 30h0m15-15h0m-19-4h0m1 6h0m-32 4h0m10 2h0m34-15h0m-25 3h0m47-10h0m-60 11h0m30 5h0m-17-2h0m-11 0h0m1-2h0m36 23h0m-6-13h0m-33-5h0m15 0h0m9-2h0m-25-7h0m3 17h0m5-2h0m-11 0h0m44 2h0m-40-18h0m16 6h0m-4-2h0m-10 20h0m33-9h0m-35 11h0m34-16h0m-32-12h0m30 0h0m-23 5h0m18 14h0m7-4h0m18-21h0m-54 21h0m0-1h0m6 5h0m24-12h0m-30 0h0m37-16h0m-4 20h0m6-3h0m-25 3h0m-6 9h0m0-4h0m17 4h0m3 1h0m35-15h0m-44 6h0m2-10h0m-7 13h0m5-4h0m-12-3h0m36-5h0m-9 19h0m0-31h0m4 0h0m-30 20h0m12-1h0m13-6h0m-17 6h0m19-10h0m-15 12h0m6-20h0m-15 9h0m-15 4h0m16 16h0m-3 1h0m26-8h0m-1-22h0m4 14h0m-1-19h0m-8 33h0m11 2h0m-42-17h0m16 12h0m-16-12h0m4-11h0m14 12h0m20 9h0" stroke="#2f72b4" stroke-width="2.1" stroke-linecap="round" opacity="0.82"/>
<path d="M143.3 447.9L179.4 448.4" stroke="#f4b8b8" stroke-width="2.0" opacity="0.45"/>
<path d="M143.3 447.9L179.4 448.4" stroke="#e24a4c" stroke-width="0.8"/>
<path d="M139.4 458.7h1.6M139.4 449.5h1.6M139.4 440.3h1.6" stroke="#aaa" stroke-width="0.6"/>
<path d="M189.8 434.3V461.5H230.0" fill="none" stroke="#c8c8c8" stroke-width="0.8"/>
<path d="M194.8 461.5v1.6M208.6 461.5v1.6M222.5 461.5v1.6" stroke="#aaa" stroke-width="0.6"/>
<path transform="scale(.5)" d="M431 899h0m-21-14h0m39-7h0m-32 26h0m15-18h0m-4 21h0m-20-15h0m27 3h0m-12 4h0m-10-16h0m10-1h0m-17 37h0m4-20h0m20 0h0m-24-5h0m34-17h0m6 28h0m-51-9h0m27 7h0m-8 15h0m10-11h0m-2-18h0m-4 9h0m25 0h0m-24 7h0m6-18h0m-8 14h0m12-9h0m-7 2h0m-8-4h0m-13 11h0m24 5h0m-11-5h0m24-3h0m-19 2h0m-34 2h0m21-13h0m39 13h0m-52 7h0m17-14h0m28-12h0m-32 14h0m-2 12h0m15-29h0m-9 16h0m1 19h0m13-7h0m-4-9h0m10-2h0m-24-12h0m-14 7h0m18 16h0m1-8h0m2-8h0m12 6h0m-19-7h0m13 15h0m-26-9h0m14-5h0m41-15h0m-38 9h0m-12 22h0m14-13h0m-11 12h0m4 8h0m5-36h0m7 12h0m-6 12h0m4-6h0m-8 15h0m-12-19h0m38-7h0m-9 21h0m-17-11h0m16-2h0m-23 10h0m52-25h0m-8 20h0m-27 1h0m-21-3h0m0 13h0m24-11h0m-5-6h0m-6 7h0m25-8h0m-25 25h0m23-18h0m-25-11h0m11 29h0m-29-14h0m40 6h0m-16-15h0m6 12h0m-15-13h0m30-15h0m-22 28h0m-3 0h0m13-20h0m-8 6h0m-20 1h0m24-4h0m5-2h0m-28 2h0m8 12h0m20-6h0m-7 5h0m-13 9h0m-5-9h0m5-5h0m-2 3h0m15-1h0m1 3h0m10-7h0m11 14h0m-26-2h0m4-7h0m-7-6h0m-3 6h0m26 7h0m-20 11h0m3-25h0m0 0h0m-18 12h0m2-9h0m29 3h0m-6 7h0m16 1h0m-26-7h0m-9 17h0m29-37h0m-13 20h0m7 3h0m-26-24h0m38 15h0m-47 10h0m9-9h0m25 22h0m-31-14h0m27-7h0m-34 7h0m37-15h0m2 7h0m18-3h0m-48 14h0m-12-11h0m22-9h0m9 5h0m-16 0h0m13 5h0m28-4h0m-9 4h0m-23 10h0m3-13h0m7 1h0m15-8h0m-23 17h0m34-2h0m-35 12h0m12-10h0m-13-9h0m-7 12h0m-14 1h0m29-22h0m-5 16h0m-5 5h0m-6-12h0m40 5h0m-3 3h0m-50-11h0m35-5h0m13 25h0m-16-7h0m7 2h0m3-10h0m-15 15h0m-3-25h0m-2 9h0m14 3h0m-31-3h0m15 20h0m19 4h0m-19-5h0m12-15h0m-5 1h0m-15 8h0m0-16h0m5 2h0m2 20h0m1-24h0m9-1h0m14-9h0m-28 20h0m4-3h0m16 8h0m-26 14h0m18-25h0m16 0h0m4 6h0m-25-11h0m5 17h0m-1-3h0m-16 16h0m-13-32h0m8 4h0m27 15h0m-10 5h0m34-19h0m-32-7h0m22 17h0m-7-13h0m-32 6h0m4 12h0m36-5h0m-16-10h0m-23-3h0m33 0h0m-25 15h0m12-15h0m4-5h0m-6-1h0m16-4h0m-18 0h0m-3 20h0m12-1h0m-2 5h0m-28-9h0m44 0h0m-16-9h0m-4 18h0m-2 4h0m-1-27h0m8 18h0m-24-3h0m37 15h0m-12-18h0m-8-1h0m6-10h0m-18 30h0m5-15h0m7-4h0m-13 6h0m3 4h0m-1 2h0m-16-15h0m17 3h0m5-10h0m31 11h0m-42 5h0m21-2h0m-8 0h0m9-2h0m4 23h0m-22-13h0m6-5h0m17 0h0m-12-2h0m-3-7h0m12 17h0m-9-2h0m24 0h0m-12 2h0m-2-18h0m22 6h0m5-2h0m-44 20h0m16-9h0m-24 11h0m29-16h0m-21-12h0m25 0h0m-30 5h0m12 14h0m-6-4h0m17-21h0m-24 21h0m17-1h0m-5 5h0m20-12h0m-26 0h0m20-16h0m16 20h0m-35-3h0m11 3h0m-21 9h0m13-4h0m37 4h0m-20 1h0m-7-15h0m-13 6h0m10-10h0m-14 13h0m22-4h0m2-3h0m-18-5h0m7 19h0m-6-31h0m33 0h0m-26 20h0m16-1h0m-20-6h0m-2 6h0m3-10h0m5 12h0m-1-20h0m-23 9h0m29 4h0m2 16h0m-22 1h0m27-8h0m-17-22h0m18 14h0m2-19h0m4 33h0m-25 2h0m-18-17h0m7 12h0m14-12h0m19-11h0m-19 12h0m9 9h0" stroke="#2f72b4" stroke-width="2.1" stroke-linecap="round" opacity="0.82"/>
<path d="M191.9 449.7L226.0 446.1" stroke="#f4b8b8" stroke-width="2.0" opacity="0.45"/>
<path d="M191.9 449.7L226.0 446.1" stroke="#e24a4c" stroke-width="0.8"/>
<path d="M188.2 458.7h1.6M188.2 449.5h1.6M188.2 440.3h1.6" stroke="#aaa" stroke-width="0.6"/>
<path d="M238.5 434.3V461.5H278.7" fill="none" stroke="#c8c8c8" stroke-width="0.8"/>
<path d="M242.6 461.5v1.6M256.1 461.5v1.6M269.7 461.5v1.6" stroke="#aaa" stroke-width="0.6"/>
<path d="M240.31 461.5v-1.6h1.83v1.6zM242.13 461.5v-4.2h1.83v4.2zM243.96 461.5v-2.2h1.83v2.2zM245.79 461.5v-4.0h1.83v4.0zM247.62 461.5v-5.1h1.83v5.1zM249.44 461.5v-8.0h1.83v8.0zM251.27 461.5v-12.9h1.83v12.9zM253.10 461.5v-9.9h1.83v9.9zM254.93 461.5v-18.9h1.83v18.9zM256.75 461.5v-16.0h1.83v16.0zM258.58 461.5v-15.4h1.83v15.4zM260.41 461.5v-16.3h1.83v16.3zM262.23 461.5v-14.1h1.83v14.1zM264.06 461.5v-10.2h1.83v10.2zM265.89 461.5v-7.7h1.83v7.7zM267.72 461.5v-5.8h1.83v5.8zM269.54 461.5v-4.5h1.83v4.5zM271.37 461.5v-3.8h1.83v3.8zM273.20 461.5v-2.2h1.83v2.2zM275.03 461.5v-1.0h1.83v1.0z" fill="#a9cbe8" stroke="#5b7fa3" stroke-width="0.35"/>
<path d="M241.2,459.8 L243.0,458.6 L244.9,458.3 L246.7,457.2 L248.5,455.5 L250.4,453.3 L252.2,450.3 L254.0,448.7 L255.8,445.9 L257.7,445.6 L259.5,445.6 L261.3,446.4 L263.1,448.2 L265.0,450.8 L266.8,453.3 L268.6,455.3 L270.5,456.8 L272.3,457.9 L274.1,459.2 L275.9,460.3" fill="none" stroke="#7aa8d8" stroke-width="0.8" opacity="0.8"/>
<path d="M236.9 458.7h1.6M236.9 449.5h1.6M236.9 440.3h1.6" stroke="#aaa" stroke-width="0.6"/>
<text x="307.0" y="448.5" font-size="8.5" text-anchor="middle" fill="#1a1a1a" stroke="#1a1a1a" stroke-width="0.08" font-family="Liberation Sans, sans-serif">-0.00</text>
<text x="355.7" y="448.5" font-size="8.5" text-anchor="middle" fill="#1a1a1a" stroke="#1a1a1a" stroke-width="0.08" font-family="Liberation Sans, sans-serif">0.11</text>
<text x="404.4" y="448.5" font-size="8.5" text-anchor="middle" fill="#1a1a1a" stroke="#1a1a1a" stroke-width="0.08" font-family="Liberation Sans, sans-serif">0.11 <tspan letter-spacing="0.7" font-size="9">*</tspan></text>
<text x="453.2" y="448.5" font-size="8.5" text-anchor="middle" fill="#1a1a1a" stroke="#1a1a1a" stroke-width="0.08" font-family="Liberation Sans, sans-serif">0.06</text>
<text x="501.9" y="448.5" font-size="8.5" text-anchor="middle" fill="#1a1a1a" stroke="#1a1a1a" stroke-width="0.08" font-family="Liberation Sans, sans-serif">0.11 <tspan letter-spacing="0.7" font-size="9">*</tspan></text>
<path d="M43.6 466.9V494.1H83.8" fill="none" stroke="#c8c8c8" stroke-width="0.8"/>
<path d="M51.8 494.1v1.6M63.1 494.1v1.6M74.5 494.1v1.6" stroke="#aaa" stroke-width="0.6"/>
<path transform="scale(.5)" d="M134 955h0m-14 1h0m17-4h0m6-10h0m-37 17h0m37 7h0m-24 6h0m-26-18h0m-2-16h0m45 13h0m-11 10h0m1 1h0m6-25h0m-16 31h0m-4-3h0m-4-8h0m27 2h0m-43 8h0m21-25h0m9 25h0m17-12h0m-18 6h0m9 10h0m-24-12h0m14 0h0m9 12h0m7-9h0m-28-11h0m21 29h0m-11-23h0m4 14h0m11-6h0m-12-13h0m17 17h0m-9-25h0m-4 20h0m-1-5h0m18 9h0m-34 5h0m12-6h0m-19-2h0m61-6h0m-30 12h0m-23-16h0m20 10h0m6 14h0m-6-17h0m2 3h0m-27-9h0m33 13h0m-15 6h0m10-9h0m-3-3h0m8 2h0m11-3h0m-7-21h0m-5 6h0m-14 24h0m-9 4h0m-18-13h0m39 10h0m-11-22h0m19 2h0m7 17h0m-13-2h0m-27 7h0m-8-2h0m33-15h0m-10 15h0m17-20h0m-47 8h0m37 2h0m19-3h0m2 12h0m-15-7h0m-3 1h0m3-11h0m-17-2h0m9 21h0m-38 8h0m56-1h0m8 1h0m-24-18h0m-26 5h0m40-22h0m-7 9h0m-17 14h0m-12-20h0m52-4h0m-7 32h0m-13-7h0m-19-15h0m19 3h0m-7-2h0m-6 9h0m6 5h0m9 7h0m-19 1h0m12-11h0m-10-10h0m8 6h0m10-2h0m-44-10h0m32 6h0m-22-18h0m28 18h0m-6-4h0m-41 12h0m31 13h0m13-11h0m-12-8h0m23 21h0m-15-18h0m2-3h0m5 7h0m-10-9h0m0-5h0m3 18h0m4-18h0m-23 13h0m1-1h0m23-10h0m5 19h0m-4-2h0m-29-4h0m28-3h0m-23-23h0m6 24h0m12-2h0m-10-15h0m-4 22h0m6-10h0m13 6h0m0 11h0m-13-20h0m10-6h0m-19 10h0m24 0h0m-1 13h0m-4-13h0m-11 9h0m1-15h0m6-3h0m0 13h0m14-1h0m-30-3h0m11 6h0m35-2h0m-3-8h0m-15 6h0m-36-5h0m27 3h0m17 6h0m-13-29h0m-35 22h0m18 17h0m39-7h0m-15-7h0m-4-3h0m-8 10h0m-25 0h0m32-2h0m-36 1h0m31-12h0m8 6h0m0-3h0m-25 4h0m17-5h0m3 10h0m-9-4h0m-28-1h0m29-2h0m7 1h0m1 3h0m-7 5h0m-21-7h0m6-20h0m48 19h0m-31-6h0m-31 7h0m32 16h0m21-12h0m-36-12h0m-17 13h0m15-4h0m19-5h0m-6 5h0m-10 11h0m20-3h0m-15-11h0m25-3h0m-40 4h0m29 7h0m19-10h0m-14 10h0m-41-6h0m36-5h0m1 0h0m-14 7h0m12-5h0m3 9h0m-13-1h0m-32-10h0m18-7h0m-20 18h0m40-18h0m-30 8h0m36 2h0m-5-1h0m-10-7h0m-6 8h0m31-1h0m-29 9h0m-24-33h0m10 23h0m33 20h0m-20-23h0m-12 9h0m-6-9h0m38-7h0m-15 31h0m2-17h0m12 6h0m-22-16h0m42 4h0m-38 8h0m4-1h0m12-1h0m-7 7h0m-22-17h0m52 8h0m-19-3h0m-12-2h0m-12 20h0m15-38h0m-21 32h0m21-22h0m2 28h0m4-18h0m-8 19h0m-7-9h0m-29-20h0m45 12h0m3 5h0m-12 8h0m13-10h0m-24-16h0m24 24h0m-4 1h0m-31-35h0m10 31h0m3-15h0m21 19h0m2-22h0m-38 13h0m32 2h0m-10-5h0m-2-19h0m-11-2h0m14 31h0m16-4h0m-5-7h0m-2-6h0m-10-5h0m-8 1h0m14 26h0m14-16h0m-5 9h0m-12-5h0m9 0h0m5 18h0m-14-23h0m14 8h0m0 11h0m-4-18h0m-7-9h0m-1 13h0m0-25h0m-36 37h0m35-8h0m6-9h0m-1-2h0m13-5h0m-8 2h0m-7 2h0m4 2h0m1 21h0m2-8h0m-7-7h0m9-7h0m8 8h0m-6-9h0m-42 16h0m37-6h0m-2-10h0m-16 12h0m14 16h0m-6-24h0m12-5h0m-4 11h0m-20-11h0m23 17h0m-6-19h0m4 12h0m-1-2h0m-1-7h0m0-2h0m-19-12h0m30 29h0m-19 1h0m-26-16h0m24 13h0m9 11h0m-1 4h0m-12-8h0m16-5h0m-15-4h0m-16-5h0m29 18h0m-4-20h0" stroke="#2f72b4" stroke-width="2.1" stroke-linecap="round" opacity="0.82"/>
<path d="M45.5 480.0L81.2 482.4" stroke="#f4b8b8" stroke-width="2.0" opacity="0.45"/>
<path d="M45.5 480.0L81.2 482.4" stroke="#e24a4c" stroke-width="0.8"/>
<path d="M42.0 492.6h1.6M42.0 477.4h1.6" stroke="#aaa" stroke-width="0.6"/>
<text x="41.4" y="494.0" font-size="4.2" text-anchor="end" fill="#333" font-family="Liberation Sans, sans-serif">1000</text>
<text x="41.4" y="478.8" font-size="4.2" text-anchor="end" fill="#333" font-family="Liberation Sans, sans-serif">1500</text>
<path d="M92.3 466.9V494.1H132.5" fill="none" stroke="#c8c8c8" stroke-width="0.8"/>
<path d="M92.8 494.1v1.6M117.3 494.1v1.6" stroke="#aaa" stroke-width="0.6"/>
<path transform="scale(.5)" d="M221 955h0m26 1h0m-24-4h0m-24-10h0m21 17h0m34 7h0m-27 6h0m-4-18h0m-16-16h0m-4 13h0m28 10h0m-3 1h0m11-25h0m22 31h0m-23-3h0m-17-8h0m6 2h0m16 8h0m-19-25h0m9 25h0m-5-12h0m13 6h0m-13 10h0m2-12h0m27 0h0m-16 12h0m-1-9h0m-4-11h0m-3 29h0m13-23h0m9 14h0m-30-6h0m27-13h0m-15 17h0m-12-25h0m-9 20h0m28-5h0m-18 9h0m-4 5h0m10-6h0m7-2h0m-39-6h0m45 12h0m-11-16h0m3 10h0m-3 14h0m17-17h0m-33 3h0m31-9h0m-12 13h0m-5 6h0m0-9h0m-22-3h0m9 2h0m8-3h0m-8-21h0m-11 6h0m31 24h0m-18 4h0m2-13h0m-3 10h0m20-22h0m-11 2h0m13 17h0m-3-2h0m-36 7h0m36-2h0m0-15h0m-22 15h0m14-20h0m-3 8h0m9 2h0m2-3h0m-33 12h0m25-7h0m-3 1h0m-5-11h0m3-2h0m1 21h0m1 8h0m12-1h0m-22 1h0m26-18h0m-11 5h0m2-22h0m-9 9h0m-7 14h0m16-20h0m-9-4h0m-8 32h0m8-7h0m-14-15h0m20 3h0m8-2h0m-13 9h0m9 5h0m-15 7h0m18 1h0m10-11h0m-22-10h0m23 6h0m-32-2h0m-15-10h0m32 6h0m-10-18h0m9 18h0m-7-4h0m23 12h0m-16 13h0m-1-11h0m-5-8h0m-8 21h0m32-18h0m-46-3h0m44 7h0m-21-9h0m2-5h0m13 18h0m-15-18h0m1 13h0m6-1h0m-10-10h0m12 19h0m-13-2h0m14-4h0m-33-3h0m8-23h0m-10 24h0m9-2h0m-21-15h0m54 22h0m-17-10h0m17 6h0m-20 11h0m6-20h0m-13-6h0m32 10h0m-7 0h0m-25 13h0m10-13h0m1 9h0m9-15h0m-29-3h0m20 13h0m8-1h0m-2-3h0m-4 6h0m-5-2h0m13-8h0m-14 6h0m9-5h0m-13 3h0m-9 6h0m13-29h0m15 22h0m-14 17h0m19-7h0m-27-7h0m15-3h0m9 10h0m2 0h0m0-2h0m8 1h0m-20-12h0m6 6h0m-28-3h0m9 4h0m9-5h0m1 10h0m1-4h0m26-1h0m-44-2h0m-7 1h0m36 3h0m-10 5h0m-14-7h0m9-20h0m16 19h0m-4-6h0m14 7h0m-48 16h0m26-12h0m7-12h0m23 13h0m-47-4h0m-8-5h0m27 5h0m9 11h0m4-3h0m-19-11h0m16-3h0m-11 4h0m0 7h0m-12-10h0m5 10h0m3-6h0m-2-5h0m6 0h0m5 7h0m3-5h0m9 9h0m2-1h0m-15-10h0m17-7h0m-4 18h0m-10-18h0m-19 8h0m14 2h0m5-1h0m-11-7h0m-25 8h0m10-1h0m17 9h0m-13-33h0m16 23h0m-16 20h0m-7-23h0m29 9h0m-13-9h0m-2-7h0m22 31h0m-54-17h0m11 6h0m45-16h0m-31 4h0m17 8h0m3-1h0m-3-1h0m3 7h0m-3-17h0m-15 8h0m19-3h0m12-2h0m-9 20h0m-23-38h0m8 32h0m22-22h0m-14 28h0m-4-18h0m-8 19h0m23-9h0m-19-20h0m-5 12h0m0 5h0m23 8h0m-12-10h0m-18-16h0m16 24h0m13 1h0m-18-35h0m4 31h0m18-15h0m-27 19h0m7-22h0m21 13h0m5 2h0m-42-5h0m-12-19h0m29-2h0m-4 31h0m21-4h0m-17-7h0m-31-6h0m29-5h0m-4 1h0m22 26h0m-13-16h0m14 9h0m-17-5h0m-9 0h0m-13 18h0m34-23h0m-20 8h0m6 11h0m0-18h0m-8-9h0m18 13h0m7-25h0m-19 37h0m1-8h0m4-9h0m10-2h0m-10-5h0m-35 2h0m4 2h0m41 2h0m-1 21h0m0-8h0m-10-7h0m-18-7h0m22 8h0m-16-9h0m10 16h0m12-6h0m-27-10h0m33 12h0m-42 16h0m45-24h0m-29-5h0m20 11h0m-15-11h0m35 17h0m-31-19h0m18 12h0m-25-2h0m7-7h0m-23-2h0m31-12h0m-16 29h0m24 1h0m-18-16h0m13 13h0m-20 11h0m26 4h0m-37-8h0m36-5h0m1-4h0m1-5h0m-37 18h0m44-20h0" stroke="#2f72b4" stroke-width="2.1" stroke-linecap="round" opacity="0.82"/>
<path d="M96.0 479.2L130.7 483.0" stroke="#f4b8b8" stroke-width="2.0" opacity="0.45"/>
<path d="M96.0 479.2L130.7 483.0" stroke="#e24a4c" stroke-width="0.8"/>
<path d="M90.7 492.6h1.6M90.7 477.4h1.6" stroke="#aaa" stroke-width="0.6"/>
<path d="M141.0 466.9V494.1H181.2" fill="none" stroke="#c8c8c8" stroke-width="0.8"/>
<path d="M148.1 494.1v1.6M167.8 494.1v1.6" stroke="#aaa" stroke-width="0.6"/>
<path transform="scale(.5)" d="M313 955h0m-20 1h0m21-4h0m10-10h0m-12 17h0m27 7h0m-27 6h0m-18-18h0m22-16h0m6 13h0m-3 10h0m-28 1h0m11-25h0m9 31h0m-2-3h0m-7-8h0m11 2h0m-10 8h0m-7-25h0m-7 25h0m33-12h0m-1 6h0m-14 10h0m0-12h0m20 0h0m4 12h0m-1-9h0m-31-11h0m1 29h0m-1-23h0m29 14h0m-14-6h0m-17-13h0m1 17h0m-8-25h0m21 20h0m-12-5h0m49 9h0m-59 5h0m25-6h0m-25-2h0m60-6h0m-55 12h0m-3-16h0m42 10h0m-37 14h0m8-17h0m6 3h0m-17-9h0m54 13h0m-37 6h0m15-9h0m-25-3h0m15 2h0m4-3h0m-10-21h0m17 6h0m6 24h0m-31 4h0m-7-13h0m1 10h0m45-22h0m-26 2h0m18 17h0m-36-2h0m2 7h0m28-2h0m-32-15h0m11 15h0m-11-20h0m0 8h0m3 2h0m33-3h0m9 12h0m-28-7h0m-13 1h0m14-11h0m20-2h0m-24 21h0m3 8h0m4-1h0m31 1h0m-43-18h0m18 5h0m-13-22h0m-9 9h0m4 14h0m-15-20h0m25-4h0m-12 32h0m23-7h0m-25-15h0m-1 3h0m-10-2h0m22 9h0m11 5h0m4 7h0m-18 1h0m5-11h0m-11-10h0m2 6h0m26-2h0m-39-10h0m14 6h0m4-18h0m-13 18h0m2-4h0m12 12h0m-6 13h0m33-11h0m-33-8h0m30 21h0m12-18h0m-20-3h0m-22 7h0m26-9h0m-38-5h0m23 18h0m1-18h0m-7 13h0m-16-1h0m9-10h0m43 19h0m3-2h0m-48-4h0m0-3h0m30-23h0m-36 24h0m14-2h0m-16-15h0m37 22h0m7-10h0m-26 6h0m-6 11h0m-6-20h0m6-6h0m-4 10h0m28 0h0m30 13h0m-70-13h0m36 9h0m-8-15h0m-23-3h0m3 13h0m8-1h0m-5-3h0m5 6h0m22-2h0m11-8h0m-38 6h0m1-5h0m14 3h0m28 6h0m-31-29h0m-23 22h0m16 17h0m34-7h0m-4-7h0m-11-3h0m-29 10h0m5 0h0m5-2h0m-10 1h0m33-12h0m2 6h0m-8-3h0m-6 4h0m-12-5h0m-6 10h0m1-4h0m30-1h0m-26-2h0m2 1h0m24 3h0m-7 5h0m-8-7h0m-21-20h0m68 19h0m-51-6h0m11 7h0m22 16h0m-43-12h0m3-12h0m-5 13h0m35-4h0m-41-5h0m7 5h0m54 11h0m-19-3h0m-27-11h0m32-3h0m-31 4h0m-11 7h0m19-10h0m0 10h0m-24-6h0m8-5h0m35 0h0m-18 7h0m-18-5h0m-2 9h0m5-1h0m-13-10h0m22-7h0m-16 18h0m11-18h0m-9 8h0m-5 2h0m19-1h0m0-7h0m19 8h0m-30-1h0m17 9h0m-28-33h0m28 23h0m17 20h0m-34-23h0m18 9h0m-15-9h0m11-7h0m-3 31h0m-6-17h0m-6 6h0m40-16h0m22 4h0m-62 8h0m35-1h0m-5-1h0m5 7h0m-32-17h0m8 8h0m-10-3h0m26-2h0m-33 20h0m19-38h0m8 32h0m-25-22h0m30 28h0m15-18h0m-19 19h0m1-9h0m-32-20h0m10 12h0m34 5h0m-25 8h0m47-10h0m-60-16h0m30 24h0m-17 1h0m-11-35h0m1 31h0m36-15h0m-6 19h0m-33-22h0m15 13h0m9 2h0m-25-5h0m3-19h0m5-2h0m-11 31h0m44-4h0m-40-7h0m16-6h0m-4-5h0m-10 1h0m33 26h0m-35-16h0m34 9h0m-32-5h0m30 0h0m-23 18h0m18-23h0m7 8h0m18 11h0m-54-18h0m0-9h0m6 13h0m24-25h0m-30 37h0m37-8h0m-4-9h0m6-2h0m-25-5h0m-6 2h0m0 2h0m17 2h0m3 21h0m35-8h0m-44-7h0m2-7h0m-7 8h0m5-9h0m-12 16h0m36-6h0m-9-10h0m0 12h0m4 16h0m-30-24h0m12-5h0m13 11h0m-17-11h0m19 17h0m-15-19h0m6 12h0m-15-2h0m-15-7h0m16-2h0m-3-12h0m26 29h0m-1 1h0m4-16h0m-1 13h0m-8 11h0m11 4h0m-42-8h0m16-5h0m-16-4h0m4-5h0m14 18h0m20-20h0" stroke="#2f72b4" stroke-width="2.1" stroke-linecap="round" opacity="0.82"/>
<path d="M143.3 479.6L179.4 484.4" stroke="#f4b8b8" stroke-width="2.0" opacity="0.45"/>
<path d="M143.3 479.6L179.4 484.4" stroke="#e24a4c" stroke-width="0.8"/>
<path d="M139.4 492.6h1.6M139.4 477.4h1.6" stroke="#aaa" stroke-width="0.6"/>
<path d="M189.8 466.9V494.1H230.0" fill="none" stroke="#c8c8c8" stroke-width="0.8"/>
<path d="M194.8 494.1v1.6M208.6 494.1v1.6M222.5 494.1v1.6" stroke="#aaa" stroke-width="0.6"/>
<path transform="scale(.5)" d="M431 955h0m-21 1h0m39-4h0m-32-10h0m15 17h0m-4 7h0m-20 6h0m27-18h0m-12-16h0m-10 13h0m10 10h0m-17 1h0m4-25h0m20 31h0m-24-3h0m34-8h0m6 2h0m-51 8h0m27-25h0m-8 25h0m10-12h0m-2 6h0m-4 10h0m25-12h0m-24 0h0m6 12h0m-8-9h0m12-11h0m-7 29h0m-8-23h0m-13 14h0m24-6h0m-11-13h0m24 17h0m-19-25h0m-34 20h0m21-5h0m39 9h0m-52 5h0m17-6h0m28-2h0m-32-6h0m-2 12h0m15-16h0m-9 10h0m1 14h0m13-17h0m-4 3h0m10-9h0m-24 13h0m-14 6h0m18-9h0m1-3h0m2 2h0m12-3h0m-19-21h0m13 6h0m-26 24h0m14 4h0m41-13h0m-38 10h0m-12-22h0m14 2h0m-11 17h0m4-2h0m5 7h0m7-2h0m-6-15h0m4 15h0m-8-20h0m-12 8h0m38 2h0m-9-3h0m-17 12h0m16-7h0m-23 1h0m52-11h0m-8-2h0m-27 21h0m-21 8h0m0-1h0m24 1h0m-5-18h0m-6 5h0m25-22h0m-25 9h0m23 14h0m-25-20h0m11-4h0m-29 32h0m40-7h0m-16-15h0m6 3h0m-15-2h0m30 9h0m-22 5h0m-3 7h0m13 1h0m-8-11h0m-20-10h0m24 6h0m5-2h0m-28-10h0m8 6h0m20-18h0m-7 18h0m-13-4h0m-5 12h0m5 13h0m-2-11h0m15-8h0m1 21h0m10-18h0m11-3h0m-26 7h0m4-9h0m-7-5h0m-3 18h0m26-18h0m-20 13h0m3-1h0m0-10h0m-18 19h0m2-2h0m29-4h0m-6-3h0m16-23h0m-26 24h0m-9-2h0m29-15h0m-13 22h0m7-10h0m-26 6h0m38 11h0m-47-20h0m9-6h0m25 10h0m-31 0h0m27 13h0m-34-13h0m37 9h0m2-15h0m18-3h0m-48 13h0m-12-1h0m22-3h0m9 6h0m-16-2h0m13-8h0m28 6h0m-9-5h0m-23 3h0m3 6h0m7-29h0m15 22h0m-23 17h0m34-7h0m-35-7h0m12-3h0m-13 10h0m-7 0h0m-14-2h0m29 1h0m-5-12h0m-5 6h0m-6-3h0m40 4h0m-3-5h0m-50 10h0m35-4h0m13-1h0m-16-2h0m7 1h0m3 3h0m-15 5h0m-3-7h0m-2-20h0m14 19h0m-31-6h0m15 7h0m19 16h0m-19-12h0m12-12h0m-5 13h0m-15-4h0m0-5h0m5 5h0m2 11h0m1-3h0m9-11h0m14-3h0m-28 4h0m4 7h0m16-10h0m-26 10h0m18-6h0m16-5h0m4 0h0m-25 7h0m5-5h0m-1 9h0m-16-1h0m-13-10h0m8-7h0m27 18h0m-10-18h0m34 8h0m-32 2h0m22-1h0m-7-7h0m-32 8h0m4-1h0m36 9h0m-16-33h0m-23 23h0m33 20h0m-25-23h0m12 9h0m4-9h0m-6-7h0m16 31h0m-18-17h0m-3 6h0m12-16h0m-2 4h0m-28 8h0m44-1h0m-16-1h0m-4 7h0m-2-17h0m-1 8h0m8-3h0m-24-2h0m37 20h0m-12-38h0m-8 32h0m6-22h0m-18 28h0m5-18h0m7 19h0m-13-9h0m3-20h0m-1 12h0m-16 5h0m17 8h0m5-10h0m31-16h0m-42 24h0m21 1h0m-8-35h0m9 31h0m4-15h0m-22 19h0m6-22h0m17 13h0m-12 2h0m-3-5h0m12-19h0m-9-2h0m24 31h0m-12-4h0m-2-7h0m22-6h0m5-5h0m-44 1h0m16 26h0m-24-16h0m29 9h0m-21-5h0m25 0h0m-30 18h0m12-23h0m-6 8h0m17 11h0m-24-18h0m17-9h0m-5 13h0m20-25h0m-26 37h0m20-8h0m16-9h0m-35-2h0m11-5h0m-21 2h0m13 2h0m37 2h0m-20 21h0m-7-8h0m-13-7h0m10-7h0m-14 8h0m22-9h0m2 16h0m-18-6h0m7-10h0m-6 12h0m33 16h0m-26-24h0m16-5h0m-20 11h0m-2-11h0m3 17h0m5-19h0m-1 12h0m-23-2h0m29-7h0m2-2h0m-22-12h0m27 29h0m-17 1h0m18-16h0m2 13h0m4 11h0m-25 4h0m-18-8h0m7-5h0m14-4h0m19-5h0m-19 18h0m9-20h0" stroke="#2f72b4" stroke-width="2.1" stroke-linecap="round" opacity="0.82"/>
<path d="M191.9 482.7L226.0 479.6" stroke="#f4b8b8" stroke-width="2.0" opacity="0.45"/>
<path d="M191.9 482.7L226.0 479.6" stroke="#e24a4c" stroke-width="0.8"/>
<path d="M188.2 492.6h1.6M188.2 477.4h1.6" stroke="#aaa" stroke-width="0.6"/>
<path d="M238.5 466.9V494.1H278.7" fill="none" stroke="#c8c8c8" stroke-width="0.8"/>
<path d="M242.6 494.1v1.6M256.1 494.1v1.6M269.7 494.1v1.6" stroke="#aaa" stroke-width="0.6"/>
<path transform="scale(.5)" d="M512 955h0m21 1h0m11-4h0m-39-10h0m26 17h0m-30 7h0m21 6h0m-4-18h0m-6-16h0m24 13h0m1 10h0m-54 1h0m29-25h0m0 31h0m8-3h0m25-8h0m-42 2h0m14 8h0m-11-25h0m-22 25h0m17-12h0m26 6h0m-13 10h0m0-12h0m-10 0h0m26 12h0m-21-9h0m14-11h0m-3 29h0m6-23h0m-17 14h0m-6-6h0m7-13h0m4 17h0m-3-25h0m-2 20h0m19-5h0m-21 9h0m-10 5h0m22-6h0m17-2h0m-21-6h0m-18 12h0m43-16h0m-23 10h0m-29 14h0m11-17h0m13 3h0m3-9h0m18 13h0m-11 6h0m-23-9h0m12-3h0m12 2h0m-10-3h0m11-21h0m-22 6h0m13 24h0m8 4h0m22-13h0m-14 10h0m-31-22h0m19 2h0m-18 17h0m-13-2h0m54 7h0m-18-2h0m-18-15h0m9 15h0m-23-20h0m29 8h0m11 2h0m-31-3h0m16 12h0m2-7h0m-15 1h0m38-11h0m-30-2h0m-2 21h0m6 8h0m-20-1h0m16 1h0m10-18h0m-11 5h0m12-22h0m-37 9h0m27 14h0m15-20h0m-43-4h0m21 32h0m-9-7h0m22-15h0m-18 3h0m20-2h0m22 9h0m-42 5h0m1 7h0m29 1h0m-9-11h0m-1-10h0m6 6h0m3-2h0m-3-10h0m-18 6h0m10-18h0m-9 18h0m-12-4h0m13 12h0m7 13h0m-5-11h0m3-8h0m-5 21h0m10-18h0m-20-3h0m3 7h0m10-9h0m8-5h0m-8 18h0m-11-18h0m-16 13h0m38-1h0m-1-10h0m-17 19h0m13-2h0m-5-4h0m-9-3h0m-2-23h0m10 24h0m-25-2h0m54-15h0m-29 22h0m-5-10h0m35 6h0m-21 11h0m-15-20h0m14-6h0m-34 10h0m22 0h0m10 13h0m-10-13h0m21 9h0m-10-15h0m5-3h0m-21 13h0m17-1h0m12-3h0m-7 6h0m0-2h0m-7-8h0m6 6h0m-6-5h0m-14 3h0m18 6h0m-1-29h0m12 22h0m-25 17h0m3-7h0m-18-7h0m15-3h0m12 10h0m-17 0h0m-2-2h0m33 1h0m-23-12h0m-8 6h0m18-3h0m-8 4h0m-4-5h0m16 10h0m8-4h0m-38-1h0m10-2h0m-1 1h0m14 3h0m-23 5h0m37-7h0m-13-20h0m-4 19h0m4-6h0m-30 7h0m-5 16h0m7-12h0m22-12h0m-2 13h0m-11-4h0m24-5h0m-3 5h0m-30 11h0m36-3h0m1-11h0m14-3h0m-31 4h0m6 7h0m-13-10h0m-20 10h0m37-6h0m0-5h0m-10 0h0m17 7h0m-25-5h0m4 9h0m-24-1h0m49-10h0m-7-7h0m-21 18h0m-8-18h0m28 8h0m10 2h0m-26-1h0m20-7h0m-9 8h0m-18-1h0m8 9h0m15-33h0m4 23h0m-1 20h0m-21-23h0m22 9h0m8-9h0m1-7h0m6 31h0m0-17h0m-30 6h0m2-16h0m-8 4h0m13 8h0m0-1h0m15-1h0m-27 7h0m-7-17h0m40 8h0m-26-3h0m4-2h0m-22 20h0m26-38h0m3 32h0m14-22h0m-44 28h0m21-18h0m6 19h0m-8-9h0m-7-20h0m-2 12h0m22 5h0m-5 8h0m16-10h0m-17-16h0m-7 24h0m3 1h0m-1-35h0m4 31h0m-34-15h0m18 19h0m8-22h0m0 13h0m3 2h0m10-5h0m-24-19h0m2-2h0m1 31h0m-3-4h0m26-7h0m-9-6h0m3-5h0m-29 1h0m12 26h0m-16-16h0m24 9h0m18-5h0m0 0h0m-7 18h0m-21-23h0m5 8h0m31 11h0m-30-18h0m2-9h0m-9 13h0m19-25h0m0 37h0m23-8h0m-29-9h0m4-2h0m-4-5h0m-13 2h0m5 2h0m-6 2h0m-1 21h0m22-8h0m-9-7h0m16-7h0m-20 8h0m6-9h0m4 16h0m7-6h0m-27-10h0m45 12h0m0 16h0m-29-24h0m2-5h0m9 11h0m-10-11h0m16 17h0m-19-19h0m30 12h0m-14-2h0m-6-7h0m-23-2h0m-2-12h0m12 29h0m33 1h0m-21-16h0m28 13h0m-48 11h0m-4 4h0m26-8h0m-18-5h0m17-4h0m17-5h0m-18 18h0m-14-20h0" stroke="#2f72b4" stroke-width="2.1" stroke-linecap="round" opacity="0.82"/>
<path d="M241.4 481.3L276.2 481.2" stroke="#f4b8b8" stroke-width="2.0" opacity="0.45"/>
<path d="M241.4 481.3L276.2 481.2" stroke="#e24a4c" stroke-width="0.8"/>
<path d="M236.9 492.6h1.6M236.9 477.4h1.6" stroke="#aaa" stroke-width="0.6"/>
<path d="M287.2 466.9V494.1H327.4" fill="none" stroke="#c8c8c8" stroke-width="0.8"/>
<path d="M289.3 494.1v1.6M311.8 494.1v1.6" stroke="#aaa" stroke-width="0.6"/>
<path d="M289.03 494.1v-1.0h1.83v1.0zM290.85 494.1v-2.6h1.83v2.6zM292.68 494.1v-5.8h1.83v5.8zM294.51 494.1v-3.5h1.83v3.5zM296.34 494.1v-7.1h1.83v7.1zM298.16 494.1v-14.8h1.83v14.8zM299.99 494.1v-16.5h1.83v16.5zM301.82 494.1v-14.8h1.83v14.8zM303.65 494.1v-22.7h1.83v22.7zM305.47 494.1v-15.8h1.83v15.8zM307.30 494.1v-19.9h1.83v19.9zM309.13 494.1v-14.1h1.83v14.1zM310.95 494.1v-12.5h1.83v12.5zM312.78 494.1v-8.7h1.83v8.7zM314.61 494.1v-4.8h1.83v4.8zM316.44 494.1v-2.6h1.83v2.6zM318.26 494.1v-1.9h1.83v1.9zM320.09 494.1v-1.9h1.83v1.9zM321.92 494.1v-1.6h1.83v1.6zM323.75 494.1v-2.9h1.83v2.9z" fill="#a9cbe8" stroke="#5b7fa3" stroke-width="0.35"/>
<path d="M289.9,492.6 L291.8,491.3 L293.6,489.7 L295.4,488.3 L297.2,485.3 L299.1,481.6 L300.9,478.5 L302.7,477.2 L304.6,475.2 L306.4,476.3 L308.2,476.6 L310.0,479.5 L311.9,482.0 L313.7,485.4 L315.5,488.4 L317.4,490.6 L319.2,491.7 L321.0,492.0 L322.8,492.2 L324.7,492.4" fill="none" stroke="#7aa8d8" stroke-width="0.8" opacity="0.8"/>
<path d="M285.6 492.6h1.6M285.6 477.4h1.6" stroke="#aaa" stroke-width="0.6"/>
<text x="355.7" y="481.1" font-size="8.5" text-anchor="middle" fill="#1a1a1a" stroke="#1a1a1a" stroke-width="0.08" font-family="Liberation Sans, sans-serif">0.45 <tspan letter-spacing="0.7" font-size="9">**</tspan></text>
<text x="404.4" y="481.1" font-size="8.5" text-anchor="middle" fill="#1a1a1a" stroke="#1a1a1a" stroke-width="0.08" font-family="Liberation Sans, sans-serif">0.14 <tspan letter-spacing="0.7" font-size="9">*</tspan></text>
<text x="453.2" y="481.1" font-size="8.5" text-anchor="middle" fill="#1a1a1a" stroke="#1a1a1a" stroke-width="0.08" font-family="Liberation Sans, sans-serif">0.47 <tspan letter-spacing="0.7" font-size="9">**</tspan></text>
<text x="501.9" y="481.1" font-size="8.5" text-anchor="middle" fill="#1a1a1a" stroke="#1a1a1a" stroke-width="0.08" font-family="Liberation Sans, sans-serif">0.18 <tspan letter-spacing="0.7" font-size="9">**</tspan></text>
<path d="M43.6 499.4V526.6H83.8" fill="none" stroke="#c8c8c8" stroke-width="0.8"/>
<path d="M51.8 526.6v1.6M63.1 526.6v1.6M74.5 526.6v1.6" stroke="#aaa" stroke-width="0.6"/>
<path transform="scale(.5)" d="M134 1029h0m-14-8h0m17 9h0m6 5h0m-37 1h0m37 1h0m-24-20h0m-26 1h0m-2-12h0m45 24h0m-11 0h0m1-2h0m6-15h0m-16 14h0m-4-1h0m-4-17h0m27 20h0m-43 6h0m21-25h0m9 0h0m17 32h0m-18-20h0m9 17h0m-24-30h0m14 6h0m9 16h0m7-17h0m-28-12h0m21 29h0m-11-16h0m4 16h0m11 1h0m-12-18h0m17 10h0m-9-14h0m-4 22h0m-1-27h0m18 40h0m-34-18h0m12 3h0m-19-12h0m61 15h0m-30-3h0m-23-23h0m20 13h0m6 12h0m-6-9h0m2 12h0m-27-22h0m33 31h0m-15-25h0m10 16h0m-3-19h0m8 14h0m11 0h0m-7-1h0m-5-11h0m-14 5h0m-9-13h0m-18-3h0m39 33h0m-11-15h0m19-2h0m7 8h0m-13-28h0m-27 22h0m-8-2h0m33-12h0m-10 19h0m17-21h0m-47 3h0m37 13h0m19 15h0m2-18h0m-15 14h0m-3-8h0m3-14h0m-17 9h0m9-6h0m-38 3h0m56 4h0m8 12h0m-24-20h0m-26 8h0m40 5h0m-7-3h0m-17-8h0m-12 2h0m52-2h0m-7 21h0m-13-25h0m-19 19h0m19-19h0m-7 8h0m-6 9h0m6-2h0m9 12h0m-19-11h0m12-15h0m-10 7h0m8 1h0m10 4h0m-44-9h0m32 7h0m-22-11h0m28 0h0m-6 5h0m-41 0h0m31-1h0m13 16h0m-12-14h0m23 9h0m-15 5h0m2-17h0m5 5h0m-10 10h0m0-17h0m3 14h0m4-10h0m-23 6h0m1-9h0m23-6h0m5 18h0m-4 4h0m-29-15h0m28-2h0m-23-1h0m6 2h0m12 13h0m-10-14h0m-4 14h0m6 7h0m13-22h0m0 18h0m-13-2h0m10-3h0m-19-14h0m24 20h0m-1 6h0m-4-22h0m-11 13h0m1-12h0m6 0h0m0 10h0m14 4h0m-30-2h0m11-22h0m35 32h0m-3-17h0m-15 0h0m-36-5h0m27 0h0m17 30h0m-13-30h0m-35 2h0m18 21h0m39-26h0m-15 17h0m-4-1h0m-8-10h0m-25 7h0m32-2h0m-36-10h0m31 7h0m8-5h0m0 18h0m-25-13h0m17 7h0m3-14h0m-9-8h0m-28 7h0m29 14h0m7 5h0m1-4h0m-7 8h0m-21-10h0m6-23h0m48 30h0m-31-4h0m-31-24h0m32 29h0m21-8h0m-36-10h0m-17-6h0m15 7h0m19-1h0m-6 11h0m-10 11h0m20-6h0m-15-14h0m25 19h0m-40-15h0m29-1h0m19 24h0m-14-1h0m-41-29h0m36 3h0m1 10h0m-14-2h0m12-15h0m3 11h0m-13 2h0m-32-16h0m18 7h0m-20-9h0m40 16h0m-30-13h0m36-5h0m-5 26h0m-10-14h0m-6 13h0m31-4h0m-29 7h0m-24-30h0m10 21h0m33 25h0m-20-19h0m-12 4h0m-6-21h0m38 3h0m-15-6h0m2 8h0m12 14h0m-22-17h0m42 24h0m-38-15h0m4-2h0m12-2h0m-7 0h0m-22-15h0m52 22h0m-19 0h0m-12-9h0m-12 0h0m15 5h0m-21 0h0m21-9h0m2 29h0m4-21h0m-8 3h0m-7 11h0m-29-25h0m45 15h0m3 4h0m-12-9h0m13 6h0m-24-15h0m24 25h0m-4 7h0m-31-28h0m10-9h0m3 12h0m21 21h0m2-28h0m-38 11h0m32 2h0m-10-9h0m-2-10h0m-11 6h0m14 17h0m16 4h0m-5-3h0m-2-3h0m-10-8h0m-8-5h0m14 21h0m14-18h0m-5 20h0m-12-26h0m9 18h0m5 17h0m-14-23h0m14 15h0m0-11h0m-4 12h0m-7-17h0m-1-5h0m0-11h0m-36 11h0m35 0h0m6 1h0m-1 10h0m13 4h0m-8-9h0m-7 7h0m4-8h0m1 15h0m2 3h0m-7-18h0m9 6h0m8-3h0m-6-1h0m-42-8h0m37 22h0m-2-6h0m-16-10h0m14 12h0m-6-13h0m12-3h0m-4 18h0m-20-20h0m23 14h0m-6-13h0m4-5h0m-1 14h0m-1-20h0m0 1h0m-19 6h0m30 28h0m-19-14h0m-26 4h0m24-7h0m9 9h0m-1 16h0m-12-27h0m16 1h0m-15 0h0m-16-14h0m29 38h0m-4-31h0" stroke="#2f72b4" stroke-width="2.1" stroke-linecap="round" opacity="0.82"/>
<path d="M45.5 506.6L81.2 517.3" stroke="#f4b8b8" stroke-width="2.0" opacity="0.45"/>
<path d="M45.5 506.6L81.2 517.3" stroke="#e24a4c" stroke-width="0.8"/>
<path d="M42.0 520.7h1.6M42.0 503.0h1.6" stroke="#aaa" stroke-width="0.6"/>
<text x="41.4" y="522.1" font-size="4.2" text-anchor="end" fill="#333" font-family="Liberation Sans, sans-serif">1000</text>
<text x="41.4" y="504.4" font-size="4.2" text-anchor="end" fill="#333" font-family="Liberation Sans, sans-serif">1500</text>
<path d="M92.3 499.4V526.6H132.5" fill="none" stroke="#c8c8c8" stroke-width="0.8"/>
<path d="M92.8 526.6v1.6M117.3 526.6v1.6" stroke="#aaa" stroke-width="0.6"/>
<path transform="scale(.5)" d="M221 1029h0m26-8h0m-24 9h0m-24 5h0m21 1h0m34 1h0m-27-20h0m-4 1h0m-16-12h0m-4 24h0m28 0h0m-3-2h0m11-15h0m22 14h0m-23-1h0m-17-17h0m6 20h0m16 6h0m-19-25h0m9 0h0m-5 32h0m13-20h0m-13 17h0m2-30h0m27 6h0m-16 16h0m-1-17h0m-4-12h0m-3 29h0m13-16h0m9 16h0m-30 1h0m27-18h0m-15 10h0m-12-14h0m-9 22h0m28-27h0m-18 40h0m-4-18h0m10 3h0m7-12h0m-39 15h0m45-3h0m-11-23h0m3 13h0m-3 12h0m17-9h0m-33 12h0m31-22h0m-12 31h0m-5-25h0m0 16h0m-22-19h0m9 14h0m8 0h0m-8-1h0m-11-11h0m31 5h0m-18-13h0m2-3h0m-3 33h0m20-15h0m-11-2h0m13 8h0m-3-28h0m-36 22h0m36-2h0m0-12h0m-22 19h0m14-21h0m-3 3h0m9 13h0m2 15h0m-33-18h0m25 14h0m-3-8h0m-5-14h0m3 9h0m1-6h0m1 3h0m12 4h0m-22 12h0m26-20h0m-11 8h0m2 5h0m-9-3h0m-7-8h0m16 2h0m-9-2h0m-8 21h0m8-25h0m-14 19h0m20-19h0m8 8h0m-13 9h0m9-2h0m-15 12h0m18-11h0m10-15h0m-22 7h0m23 1h0m-32 4h0m-15-9h0m32 7h0m-10-11h0m9 0h0m-7 5h0m23 0h0m-16-1h0m-1 16h0m-5-14h0m-8 9h0m32 5h0m-46-17h0m44 5h0m-21 10h0m2-17h0m13 14h0m-15-10h0m1 6h0m6-9h0m-10-6h0m12 18h0m-13 4h0m14-15h0m-33-2h0m8-1h0m-10 2h0m9 13h0m-21-14h0m54 14h0m-17 7h0m17-22h0m-20 18h0m6-2h0m-13-3h0m32-14h0m-7 20h0m-25 6h0m10-22h0m1 13h0m9-12h0m-29 0h0m20 10h0m8 4h0m-2-2h0m-4-22h0m-5 32h0m13-17h0m-14 0h0m9-5h0m-13 0h0m-9 30h0m13-30h0m15 2h0m-14 21h0m19-26h0m-27 17h0m15-1h0m9-10h0m2 7h0m0-2h0m8-10h0m-20 7h0m6-5h0m-28 18h0m9-13h0m9 7h0m1-14h0m1-8h0m26 7h0m-44 14h0m-7 5h0m36-4h0m-10 8h0m-14-10h0m9-23h0m16 30h0m-4-4h0m14-24h0m-48 29h0m26-8h0m7-10h0m23-6h0m-47 7h0m-8-1h0m27 11h0m9 11h0m4-6h0m-19-14h0m16 19h0m-11-15h0m0-1h0m-12 24h0m5-1h0m3-29h0m-2 3h0m6 10h0m5-2h0m3-15h0m9 11h0m2 2h0m-15-16h0m17 7h0m-4-9h0m-10 16h0m-19-13h0m14-5h0m5 26h0m-11-14h0m-25 13h0m10-4h0m17 7h0m-13-30h0m16 21h0m-16 25h0m-7-19h0m29 4h0m-13-21h0m-2 3h0m22-6h0m-54 8h0m11 14h0m45-17h0m-31 24h0m17-15h0m3-2h0m-3-2h0m3 0h0m-3-15h0m-15 22h0m19 0h0m12-9h0m-9 0h0m-23 5h0m8 0h0m22-9h0m-14 29h0m-4-21h0m-8 3h0m23 11h0m-19-25h0m-5 15h0m0 4h0m23-9h0m-12 6h0m-18-15h0m16 25h0m13 7h0m-18-28h0m4-9h0m18 12h0m-27 21h0m7-28h0m21 11h0m5 2h0m-42-9h0m-12-10h0m29 6h0m-4 17h0m21 4h0m-17-3h0m-31-3h0m29-8h0m-4-5h0m22 21h0m-13-18h0m14 20h0m-17-26h0m-9 18h0m-13 17h0m34-23h0m-20 15h0m6-11h0m0 12h0m-8-17h0m18-5h0m7-11h0m-19 11h0m1 0h0m4 1h0m10 10h0m-10 4h0m-35-9h0m4 7h0m41-8h0m-1 15h0m0 3h0m-10-18h0m-18 6h0m22-3h0m-16-1h0m10-8h0m12 22h0m-27-6h0m33-10h0m-42 12h0m45-13h0m-29-3h0m20 18h0m-15-20h0m35 14h0m-31-13h0m18-5h0m-25 14h0m7-20h0m-23 1h0m31 6h0m-16 28h0m24-14h0m-18 4h0m13-7h0m-20 9h0m26 16h0m-37-27h0m36 1h0m1 0h0m1-14h0m-37 38h0m44-31h0" stroke="#2f72b4" stroke-width="2.1" stroke-linecap="round" opacity="0.82"/>
<path d="M96.0 513.7L130.7 510.9" stroke="#f4b8b8" stroke-width="2.0" opacity="0.45"/>
<path d="M96.0 513.7L130.7 510.9" stroke="#e24a4c" stroke-width="0.8"/>
<path d="M90.7 520.7h1.6M90.7 503.0h1.6" stroke="#aaa" stroke-width="0.6"/>
<path d="M141.0 499.4V526.6H181.2" fill="none" stroke="#c8c8c8" stroke-width="0.8"/>
<path d="M148.1 526.6v1.6M167.8 526.6v1.6" stroke="#aaa" stroke-width="0.6"/>
<path transform="scale(.5)" d="M313 1029h0m-20-8h0m21 9h0m10 5h0m-12 1h0m27 1h0m-27-20h0m-18 1h0m22-12h0m6 24h0m-3 0h0m-28-2h0m11-15h0m9 14h0m-2-1h0m-7-17h0m11 20h0m-10 6h0m-7-25h0m-7 0h0m33 32h0m-1-20h0m-14 17h0m0-30h0m20 6h0m4 16h0m-1-17h0m-31-12h0m1 29h0m-1-16h0m29 16h0m-14 1h0m-17-18h0m1 10h0m-8-14h0m21 22h0m-12-27h0m49 40h0m-59-18h0m25 3h0m-25-12h0m60 15h0m-55-3h0m-3-23h0m42 13h0m-37 12h0m8-9h0m6 12h0m-17-22h0m54 31h0m-37-25h0m15 16h0m-25-19h0m15 14h0m4 0h0m-10-1h0m17-11h0m6 5h0m-31-13h0m-7-3h0m1 33h0m45-15h0m-26-2h0m18 8h0m-36-28h0m2 22h0m28-2h0m-32-12h0m11 19h0m-11-21h0m0 3h0m3 13h0m33 15h0m9-18h0m-28 14h0m-13-8h0m14-14h0m20 9h0m-24-6h0m3 3h0m4 4h0m31 12h0m-43-20h0m18 8h0m-13 5h0m-9-3h0m4-8h0m-15 2h0m25-2h0m-12 21h0m23-25h0m-25 19h0m-1-19h0m-10 8h0m22 9h0m11-2h0m4 12h0m-18-11h0m5-15h0m-11 7h0m2 1h0m26 4h0m-39-9h0m14 7h0m4-11h0m-13 0h0m2 5h0m12 0h0m-6-1h0m33 16h0m-33-14h0m30 9h0m12 5h0m-20-17h0m-22 5h0m26 10h0m-38-17h0m23 14h0m1-10h0m-7 6h0m-16-9h0m9-6h0m43 18h0m3 4h0m-48-15h0m0-2h0m30-1h0m-36 2h0m14 13h0m-16-14h0m37 14h0m7 7h0m-26-22h0m-6 18h0m-6-2h0m6-3h0m-4-14h0m28 20h0m30 6h0m-70-22h0m36 13h0m-8-12h0m-23 0h0m3 10h0m8 4h0m-5-2h0m5-22h0m22 32h0m11-17h0m-38 0h0m1-5h0m14 0h0m28 30h0m-31-30h0m-23 2h0m16 21h0m34-26h0m-4 17h0m-11-1h0m-29-10h0m5 7h0m5-2h0m-10-10h0m33 7h0m2-5h0m-8 18h0m-6-13h0m-12 7h0m-6-14h0m1-8h0m30 7h0m-26 14h0m2 5h0m24-4h0m-7 8h0m-8-10h0m-21-23h0m68 30h0m-51-4h0m11-24h0m22 29h0m-43-8h0m3-10h0m-5-6h0m35 7h0m-41-1h0m7 11h0m54 11h0m-19-6h0m-27-14h0m32 19h0m-31-15h0m-11-1h0m19 24h0m0-1h0m-24-29h0m8 3h0m35 10h0m-18-2h0m-18-15h0m-2 11h0m5 2h0m-13-16h0m22 7h0m-16-9h0m11 16h0m-9-13h0m-5-5h0m19 26h0m0-14h0m19 13h0m-30-4h0m17 7h0m-28-30h0m28 21h0m17 25h0m-34-19h0m18 4h0m-15-21h0m11 3h0m-3-6h0m-6 8h0m-6 14h0m40-17h0m22 24h0m-62-15h0m35-2h0m-5-2h0m5 0h0m-32-15h0m8 22h0m-10 0h0m26-9h0m-33 0h0m19 5h0m8 0h0m-25-9h0m30 29h0m15-21h0m-19 3h0m1 11h0m-32-25h0m10 15h0m34 4h0m-25-9h0m47 6h0m-60-15h0m30 25h0m-17 7h0m-11-28h0m1-9h0m36 12h0m-6 21h0m-33-28h0m15 11h0m9 2h0m-25-9h0m3-10h0m5 6h0m-11 17h0m44 4h0m-40-3h0m16-3h0m-4-8h0m-10-5h0m33 21h0m-35-18h0m34 20h0m-32-26h0m30 18h0m-23 17h0m18-23h0m7 15h0m18-11h0m-54 12h0m0-17h0m6-5h0m24-11h0m-30 11h0m37 0h0m-4 1h0m6 10h0m-25 4h0m-6-9h0m0 7h0m17-8h0m3 15h0m35 3h0m-44-18h0m2 6h0m-7-3h0m5-1h0m-12-8h0m36 22h0m-9-6h0m0-10h0m4 12h0m-30-13h0m12-3h0m13 18h0m-17-20h0m19 14h0m-15-13h0m6-5h0m-15 14h0m-15-20h0m16 1h0m-3 6h0m26 28h0m-1-14h0m4 4h0m-1-7h0m-8 9h0m11 16h0m-42-27h0m16 1h0m-16 0h0m4-14h0m14 38h0m20-31h0" stroke="#2f72b4" stroke-width="2.1" stroke-linecap="round" opacity="0.82"/>
<path d="M143.3 508.5L179.4 519.1" stroke="#f4b8b8" stroke-width="2.0" opacity="0.45"/>
<path d="M143.3 508.5L179.4 519.1" stroke="#e24a4c" stroke-width="0.8"/>
<path d="M139.4 520.7h1.6M139.4 503.0h1.6" stroke="#aaa" stroke-width="0.6"/>
<path d="M189.8 499.4V526.6H230.0" fill="none" stroke="#c8c8c8" stroke-width="0.8"/>
<path d="M194.8 526.6v1.6M208.6 526.6v1.6M222.5 526.6v1.6" stroke="#aaa" stroke-width="0.6"/>
<path transform="scale(.5)" d="M431 1029h0m-21-8h0m39 9h0m-32 5h0m15 1h0m-4 1h0m-20-20h0m27 1h0m-12-12h0m-10 24h0m10 0h0m-17-2h0m4-15h0m20 14h0m-24-1h0m34-17h0m6 20h0m-51 6h0m27-25h0m-8 0h0m10 32h0m-2-20h0m-4 17h0m25-30h0m-24 6h0m6 16h0m-8-17h0m12-12h0m-7 29h0m-8-16h0m-13 16h0m24 1h0m-11-18h0m24 10h0m-19-14h0m-34 22h0m21-27h0m39 40h0m-52-18h0m17 3h0m28-12h0m-32 15h0m-2-3h0m15-23h0m-9 13h0m1 12h0m13-9h0m-4 12h0m10-22h0m-24 31h0m-14-25h0m18 16h0m1-19h0m2 14h0m12 0h0m-19-1h0m13-11h0m-26 5h0m14-13h0m41-3h0m-38 33h0m-12-15h0m14-2h0m-11 8h0m4-28h0m5 22h0m7-2h0m-6-12h0m4 19h0m-8-21h0m-12 3h0m38 13h0m-9 15h0m-17-18h0m16 14h0m-23-8h0m52-14h0m-8 9h0m-27-6h0m-21 3h0m0 4h0m24 12h0m-5-20h0m-6 8h0m25 5h0m-25-3h0m23-8h0m-25 2h0m11-2h0m-29 21h0m40-25h0m-16 19h0m6-19h0m-15 8h0m30 9h0m-22-2h0m-3 12h0m13-11h0m-8-15h0m-20 7h0m24 1h0m5 4h0m-28-9h0m8 7h0m20-11h0m-7 0h0m-13 5h0m-5 0h0m5-1h0m-2 16h0m15-14h0m1 9h0m10 5h0m11-17h0m-26 5h0m4 10h0m-7-17h0m-3 14h0m26-10h0m-20 6h0m3-9h0m0-6h0m-18 18h0m2 4h0m29-15h0m-6-2h0m16-1h0m-26 2h0m-9 13h0m29-14h0m-13 14h0m7 7h0m-26-22h0m38 18h0m-47-2h0m9-3h0m25-14h0m-31 20h0m27 6h0m-34-22h0m37 13h0m2-12h0m18 0h0m-48 10h0m-12 4h0m22-2h0m9-22h0m-16 32h0m13-17h0m28 0h0m-9-5h0m-23 0h0m3 30h0m7-30h0m15 2h0m-23 21h0m34-26h0m-35 17h0m12-1h0m-13-10h0m-7 7h0m-14-2h0m29-10h0m-5 7h0m-5-5h0m-6 18h0m40-13h0m-3 7h0m-50-14h0m35-8h0m13 7h0m-16 14h0m7 5h0m3-4h0m-15 8h0m-3-10h0m-2-23h0m14 30h0m-31-4h0m15-24h0m19 29h0m-19-8h0m12-10h0m-5-6h0m-15 7h0m0-1h0m5 11h0m2 11h0m1-6h0m9-14h0m14 19h0m-28-15h0m4-1h0m16 24h0m-26-1h0m18-29h0m16 3h0m4 10h0m-25-2h0m5-15h0m-1 11h0m-16 2h0m-13-16h0m8 7h0m27-9h0m-10 16h0m34-13h0m-32-5h0m22 26h0m-7-14h0m-32 13h0m4-4h0m36 7h0m-16-30h0m-23 21h0m33 25h0m-25-19h0m12 4h0m4-21h0m-6 3h0m16-6h0m-18 8h0m-3 14h0m12-17h0m-2 24h0m-28-15h0m44-2h0m-16-2h0m-4 0h0m-2-15h0m-1 22h0m8 0h0m-24-9h0m37 0h0m-12 5h0m-8 0h0m6-9h0m-18 29h0m5-21h0m7 3h0m-13 11h0m3-25h0m-1 15h0m-16 4h0m17-9h0m5 6h0m31-15h0m-42 25h0m21 7h0m-8-28h0m9-9h0m4 12h0m-22 21h0m6-28h0m17 11h0m-12 2h0m-3-9h0m12-10h0m-9 6h0m24 17h0m-12 4h0m-2-3h0m22-3h0m5-8h0m-44-5h0m16 21h0m-24-18h0m29 20h0m-21-26h0m25 18h0m-30 17h0m12-23h0m-6 15h0m17-11h0m-24 12h0m17-17h0m-5-5h0m20-11h0m-26 11h0m20 0h0m16 1h0m-35 10h0m11 4h0m-21-9h0m13 7h0m37-8h0m-20 15h0m-7 3h0m-13-18h0m10 6h0m-14-3h0m22-1h0m2-8h0m-18 22h0m7-6h0m-6-10h0m33 12h0m-26-13h0m16-3h0m-20 18h0m-2-20h0m3 14h0m5-13h0m-1-5h0m-23 14h0m29-20h0m2 1h0m-22 6h0m27 28h0m-17-14h0m18 4h0m2-7h0m4 9h0m-25 16h0m-18-27h0m7 1h0m14 0h0m19-14h0m-19 38h0m9-31h0" stroke="#2f72b4" stroke-width="2.1" stroke-linecap="round" opacity="0.82"/>
<path d="M191.9 513.2L226.0 510.9" stroke="#f4b8b8" stroke-width="2.0" opacity="0.45"/>
<path d="M191.9 513.2L226.0 510.9" stroke="#e24a4c" stroke-width="0.8"/>
<path d="M188.2 520.7h1.6M188.2 503.0h1.6" stroke="#aaa" stroke-width="0.6"/>
<path d="M238.5 499.4V526.6H278.7" fill="none" stroke="#c8c8c8" stroke-width="0.8"/>
<path d="M242.6 526.6v1.6M256.1 526.6v1.6M269.7 526.6v1.6" stroke="#aaa" stroke-width="0.6"/>
<path transform="scale(.5)" d="M512 1029h0m21-8h0m11 9h0m-39 5h0m26 1h0m-30 1h0m21-20h0m-4 1h0m-6-12h0m24 24h0m1 0h0m-54-2h0m29-15h0m0 14h0m8-1h0m25-17h0m-42 20h0m14 6h0m-11-25h0m-22 0h0m17 32h0m26-20h0m-13 17h0m0-30h0m-10 6h0m26 16h0m-21-17h0m14-12h0m-3 29h0m6-16h0m-17 16h0m-6 1h0m7-18h0m4 10h0m-3-14h0m-2 22h0m19-27h0m-21 40h0m-10-18h0m22 3h0m17-12h0m-21 15h0m-18-3h0m43-23h0m-23 13h0m-29 12h0m11-9h0m13 12h0m3-22h0m18 31h0m-11-25h0m-23 16h0m12-19h0m12 14h0m-10 0h0m11-1h0m-22-11h0m13 5h0m8-13h0m22-3h0m-14 33h0m-31-15h0m19-2h0m-18 8h0m-13-28h0m54 22h0m-18-2h0m-18-12h0m9 19h0m-23-21h0m29 3h0m11 13h0m-31 15h0m16-18h0m2 14h0m-15-8h0m38-14h0m-30 9h0m-2-6h0m6 3h0m-20 4h0m16 12h0m10-20h0m-11 8h0m12 5h0m-37-3h0m27-8h0m15 2h0m-43-2h0m21 21h0m-9-25h0m22 19h0m-18-19h0m20 8h0m22 9h0m-42-2h0m1 12h0m29-11h0m-9-15h0m-1 7h0m6 1h0m3 4h0m-3-9h0m-18 7h0m10-11h0m-9 0h0m-12 5h0m13 0h0m7-1h0m-5 16h0m3-14h0m-5 9h0m10 5h0m-20-17h0m3 5h0m10 10h0m8-17h0m-8 14h0m-11-10h0m-16 6h0m38-9h0m-1-6h0m-17 18h0m13 4h0m-5-15h0m-9-2h0m-2-1h0m10 2h0m-25 13h0m54-14h0m-29 14h0m-5 7h0m35-22h0m-21 18h0m-15-2h0m14-3h0m-34-14h0m22 20h0m10 6h0m-10-22h0m21 13h0m-10-12h0m5 0h0m-21 10h0m17 4h0m12-2h0m-7-22h0m0 32h0m-7-17h0m6 0h0m-6-5h0m-14 0h0m18 30h0m-1-30h0m12 2h0m-25 21h0m3-26h0m-18 17h0m15-1h0m12-10h0m-17 7h0m-2-2h0m33-10h0m-23 7h0m-8-5h0m18 18h0m-8-13h0m-4 7h0m16-14h0m8-8h0m-38 7h0m10 14h0m-1 5h0m14-4h0m-23 8h0m37-10h0m-13-23h0m-4 30h0m4-4h0m-30-24h0m-5 29h0m7-8h0m22-10h0m-2-6h0m-11 7h0m24-1h0m-3 11h0m-30 11h0m36-6h0m1-14h0m14 19h0m-31-15h0m6-1h0m-13 24h0m-20-1h0m37-29h0m0 3h0m-10 10h0m17-2h0m-25-15h0m4 11h0m-24 2h0m49-16h0m-7 7h0m-21-9h0m-8 16h0m28-13h0m10-5h0m-26 26h0m20-14h0m-9 13h0m-18-4h0m8 7h0m15-30h0m4 21h0m-1 25h0m-21-19h0m22 4h0m8-21h0m1 3h0m6-6h0m0 8h0m-30 14h0m2-17h0m-8 24h0m13-15h0m0-2h0m15-2h0m-27 0h0m-7-15h0m40 22h0m-26 0h0m4-9h0m-22 0h0m26 5h0m3 0h0m14-9h0m-44 29h0m21-21h0m6 3h0m-8 11h0m-7-25h0m-2 15h0m22 4h0m-5-9h0m16 6h0m-17-15h0m-7 25h0m3 7h0m-1-28h0m4-9h0m-34 12h0m18 21h0m8-28h0m0 11h0m3 2h0m10-9h0m-24-10h0m2 6h0m1 17h0m-3 4h0m26-3h0m-9-3h0m3-8h0m-29-5h0m12 21h0m-16-18h0m24 20h0m18-26h0m0 18h0m-7 17h0m-21-23h0m5 15h0m31-11h0m-30 12h0m2-17h0m-9-5h0m19-11h0m0 11h0m23 0h0m-29 1h0m4 10h0m-4 4h0m-13-9h0m5 7h0m-6-8h0m-1 15h0m22 3h0m-9-18h0m16 6h0m-20-3h0m6-1h0m4-8h0m7 22h0m-27-6h0m45-10h0m0 12h0m-29-13h0m2-3h0m9 18h0m-10-20h0m16 14h0m-19-13h0m30-5h0m-14 14h0m-6-20h0m-23 1h0m-2 6h0m12 28h0m33-14h0m-21 4h0m28-7h0m-48 9h0m-4 16h0m26-27h0m-18 1h0m17 0h0m17-14h0m-18 38h0m-14-31h0" stroke="#2f72b4" stroke-width="2.1" stroke-linecap="round" opacity="0.82"/>
<path d="M241.4 513.3L276.2 511.0" stroke="#f4b8b8" stroke-width="2.0" opacity="0.45"/>
<path d="M241.4 513.3L276.2 511.0" stroke="#e24a4c" stroke-width="0.8"/>
<path d="M236.9 520.7h1.6M236.9 503.0h1.6" stroke="#aaa" stroke-width="0.6"/>
<path d="M287.2 499.4V526.6H327.4" fill="none" stroke="#c8c8c8" stroke-width="0.8"/>
<path d="M289.3 526.6v1.6M311.8 526.6v1.6" stroke="#aaa" stroke-width="0.6"/>
<path transform="scale(.5)" d="M624 1029h0m-2-8h0m6 9h0m14 5h0m-25 1h0m-10 1h0m-9-20h0m26 1h0m25-12h0m-20 24h0m-15 0h0m-2-2h0m38-15h0m-46 14h0m4-1h0m13-17h0m-4 20h0m-11 6h0m37-25h0m-37 0h0m17 32h0m-8-20h0m-15 17h0m18-30h0m-1 6h0m-17 16h0m12-17h0m17-12h0m-43 29h0m35-16h0m-22 16h0m10 1h0m19-18h0m-25 10h0m37-14h0m-31 22h0m9-27h0m-14 40h0m-8-18h0m9 3h0m3-12h0m10 15h0m-18-3h0m24-23h0m-15 13h0m-21 12h0m25-9h0m-4 12h0m13-22h0m-19 31h0m-9-25h0m13 16h0m5-19h0m-3 14h0m4 0h0m31-1h0m-9-11h0m-35 5h0m-6-13h0m19-3h0m-15 33h0m33-15h0m-3-2h0m-26 8h0m4-28h0m-11 22h0m3-2h0m23-12h0m-22 19h0m29-21h0m-12 3h0m-4 13h0m6 15h0m-19-18h0m11 14h0m-1-8h0m16-14h0m2 9h0m-31-6h0m-11 3h0m1 4h0m-1 12h0m26-20h0m-7 8h0m33 5h0m-14-3h0m-20-8h0m29 2h0m6-2h0m-48 21h0m11-25h0m22 19h0m-4-19h0m4 8h0m-15 9h0m-7-2h0m-10 12h0m-1-11h0m15-15h0m15 7h0m-9 1h0m3 4h0m15-9h0m-8 7h0m26-11h0m-26 0h0m6 5h0m-19 0h0m-19-1h0m17 16h0m12-14h0m-32 9h0m27 5h0m4-17h0m-10 5h0m13 10h0m7-17h0m-26 14h0m27-10h0m-20 6h0m2-9h0m15-6h0m-29 18h0m4 4h0m6-15h0m4-2h0m34-1h0m-35 2h0m3 13h0m21-14h0m-31 14h0m14 7h0m-10-22h0m-14 18h0m29-2h0m8-3h0m-15-14h0m0 20h0m-19 6h0m19-22h0m-13 13h0m23-12h0m4 0h0m-20 10h0m3 4h0m3-2h0m-8-22h0m3 32h0m12-17h0m-9 0h0m7-5h0m-5 0h0m-8 30h0m42-30h0m-32 2h0m-25 21h0m11-26h0m9 17h0m5-1h0m-15-10h0m0 7h0m2-2h0m-1-10h0m18 7h0m-8-5h0m5 18h0m-6-13h0m7 7h0m-16-14h0m7-8h0m1 7h0m2 14h0m0 5h0m-4-4h0m-8 8h0m10-10h0m29-23h0m-28 30h0m10-4h0m-11-24h0m-23 29h0m17-8h0m18-10h0m-19-6h0m6 7h0m7-1h0m-7 11h0m-17 11h0m5-6h0m16-14h0m5 19h0m-6-15h0m-11-1h0m15 24h0m-15-1h0m10-29h0m7 3h0m-1 10h0m-10-2h0m7-15h0m-13 11h0m2 2h0m14-16h0m11 7h0m-27-9h0m27 16h0m-12-13h0m-3-5h0m2 26h0m10-14h0m-12 13h0m2-4h0m-15 7h0m50-30h0m-34 21h0m-30 25h0m34-19h0m-14 4h0m14-21h0m11 3h0m-46-6h0m25 8h0m-9 14h0m24-17h0m-6 24h0m-12-15h0m2-2h0m1-2h0m-10 0h0m25-15h0m-12 22h0m4 0h0m4-9h0m-30 0h0m55 5h0m-46 0h0m32-9h0m-41 29h0m26-21h0m-28 3h0m14 11h0m30-25h0m-19 15h0m-7 4h0m-12-9h0m15 6h0m24-15h0m-36 25h0m-1 7h0m52-28h0m-46-9h0m21 12h0m-27 21h0m32-28h0m-19 11h0m-3 2h0m7-9h0m29-10h0m2 6h0m-45 17h0m6 4h0m10-3h0m8-3h0m8-8h0m-1-5h0m-39 21h0m25-18h0m-14 20h0m7-26h0m0 18h0m-27 17h0m35-23h0m-13 15h0m-15-11h0m25 12h0m15-17h0m-19-5h0m37-11h0m-55 11h0m11 0h0m13 1h0m4 10h0m6 4h0m-3-9h0m-2 7h0m-3-8h0m-31 15h0m12 3h0m9-18h0m11 6h0m-12-3h0m14-1h0m-23-8h0m8 22h0m15-6h0m-18-10h0m-23 12h0m35-13h0m7-3h0m-16 18h0m17-20h0m-25 14h0m27-13h0m-18-5h0m4 14h0m10-20h0m3 1h0m17 6h0m-43 28h0m-1-14h0m24 4h0m-19-7h0m-16 9h0m-6 16h0m12-27h0m6 1h0m6 0h0m7-14h0m-25 38h0m29-31h0" stroke="#2f72b4" stroke-width="2.1" stroke-linecap="round" opacity="0.82"/>
<path d="M290.3 517.0L325.1 506.4" stroke="#f4b8b8" stroke-width="2.0" opacity="0.45"/>
<path d="M290.3 517.0L325.1 506.4" stroke="#e24a4c" stroke-width="0.8"/>
<path d="M285.6 520.7h1.6M285.6 503.0h1.6" stroke="#aaa" stroke-width="0.6"/>
<path d="M335.9 499.4V526.6H376.1" fill="none" stroke="#c8c8c8" stroke-width="0.8"/>
<path d="M344.7 526.6v1.6M370.9 526.6v1.6" stroke="#aaa" stroke-width="0.6"/>
<path d="M337.75 526.6v-1.0h1.83v1.0zM339.57 526.6v-2.1h1.83v2.1zM341.40 526.6v-2.1h1.83v2.1zM343.23 526.6v-2.2h1.83v2.2zM345.06 526.6v-5.8h1.83v5.8zM346.88 526.6v-4.2h1.83v4.2zM348.71 526.6v-10.9h1.83v10.9zM350.54 526.6v-12.9h1.83v12.9zM352.37 526.6v-18.0h1.83v18.0zM354.19 526.6v-16.8h1.83v16.8zM356.02 526.6v-16.1h1.83v16.1zM357.85 526.6v-16.8h1.83v16.8zM359.67 526.6v-10.0h1.83v10.0zM361.50 526.6v-12.2h1.83v12.2zM363.33 526.6v-12.1h1.83v12.1zM365.16 526.6v-4.5h1.83v4.5zM366.98 526.6v-5.1h1.83v5.1zM368.81 526.6v-5.8h1.83v5.8zM370.64 526.6v-1.9h1.83v1.9zM372.47 526.6v-0.6h1.83v0.6z" fill="#a9cbe8" stroke="#5b7fa3" stroke-width="0.35"/>
<path d="M338.7,525.6 L340.5,525.0 L342.3,524.3 L344.1,523.5 L346.0,521.7 L347.8,520.1 L349.6,516.5 L351.5,513.6 L353.3,510.8 L355.1,510.1 L356.9,510.7 L358.8,511.8 L360.6,514.0 L362.4,515.2 L364.2,516.9 L366.1,519.6 L367.9,521.1 L369.7,522.4 L371.6,524.0 L373.4,525.4" fill="none" stroke="#7aa8d8" stroke-width="0.8" opacity="0.8"/>
<path d="M334.3 520.7h1.6M334.3 503.0h1.6" stroke="#aaa" stroke-width="0.6"/>
<text x="404.4" y="513.6" font-size="8.5" text-anchor="middle" fill="#1a1a1a" stroke="#1a1a1a" stroke-width="0.08" font-family="Liberation Sans, sans-serif">0.28 <tspan letter-spacing="0.7" font-size="9">**</tspan></text>
<text x="453.2" y="513.6" font-size="8.5" text-anchor="middle" fill="#1a1a1a" stroke="#1a1a1a" stroke-width="0.08" font-family="Liberation Sans, sans-serif">0.71 <tspan letter-spacing="0.7" font-size="9">**</tspan></text>
<text x="501.9" y="513.6" font-size="8.5" text-anchor="middle" fill="#1a1a1a" stroke="#1a1a1a" stroke-width="0.08" font-family="Liberation Sans, sans-serif">0.32 <tspan letter-spacing="0.7" font-size="9">**</tspan></text>
<path d="M43.6 532.0V559.2H83.8" fill="none" stroke="#c8c8c8" stroke-width="0.8"/>
<path d="M51.8 559.2v1.6M63.1 559.2v1.6M74.5 559.2v1.6" stroke="#aaa" stroke-width="0.6"/>
<path transform="scale(.5)" d="M134 1103h0m-14 6h0m17-15h0m6 8h0m-37-4h0m37 0h0m-24 5h0m-26-18h0m-2-15h0m45 34h0m-11 8h0m1-34h0m6 34h0m-16-2h0m-4-9h0m-4-14h0m27-1h0m-43 12h0m21 14h0m9-34h0m17 10h0m-18 24h0m9 2h0m-24-6h0m14-4h0m9-19h0m7 12h0m-28-6h0m21 8h0m-11 9h0m4 7h0m11-20h0m-12 9h0m17 2h0m-9-19h0m-4 3h0m-1 8h0m18 1h0m-34 0h0m12 3h0m-19 5h0m61-8h0m-30-4h0m-23 1h0m20 4h0m6 7h0m-6-3h0m2-6h0m-27-10h0m33 14h0m-15-26h0m10 5h0m-3 11h0m8 16h0m11-1h0m-7-10h0m-5-18h0m-14 23h0m-9-28h0m-18-5h0m39 30h0m-11 5h0m19-29h0m7 32h0m-13-11h0m-27-20h0m-8 6h0m33 14h0m-10 9h0m17-5h0m-47-27h0m37-7h0m19 37h0m2-20h0m-15 23h0m-3-16h0m3 0h0m-17-11h0m9 23h0m-38-8h0m56 11h0m8 3h0m-24-6h0m-26 0h0m40-25h0m-7 28h0m-17-9h0m-12-7h0m52 15h0m-7 0h0m-13-5h0m-19 13h0m19-42h0m-7 23h0m-6 13h0m6-7h0m9 11h0m-19-2h0m12-19h0m-10 16h0m8 4h0m10-22h0m-44 12h0m32-16h0m-22 8h0m28 14h0m-6 4h0m-41-2h0m31 4h0m13-3h0m-12-15h0m23 14h0m-15-5h0m2-13h0m5 14h0m-10-8h0m0 7h0m3 13h0m4-10h0m-23-36h0m1 32h0m23-11h0m5 21h0m-4-6h0m-29-26h0m28 26h0m-23-9h0m6 10h0m12-12h0m-10-13h0m-4 27h0m6-17h0m13 14h0m0 3h0m-13-9h0m10-12h0m-19 13h0m24 2h0m-1 3h0m-4 6h0m-11-3h0m1-24h0m6 16h0m0-3h0m14-1h0m-30 0h0m11 6h0m35 1h0m-3-13h0m-15 11h0m-36 0h0m27 1h0m17 6h0m-13-8h0m-35-2h0m18 11h0m39-2h0m-15 4h0m-4 0h0m-8-6h0m-25-3h0m32 6h0m-36-33h0m31 21h0m8 5h0m0 8h0m-25-7h0m17 4h0m3-5h0m-9-1h0m-28-2h0m29 3h0m7-17h0m1 22h0m-7 8h0m-21-22h0m6-10h0m48 20h0m-31 9h0m-31-26h0m32 16h0m21 5h0m-36-6h0m-17 5h0m15 6h0m19-11h0m-6-3h0m-10 16h0m20-1h0m-15-3h0m25-3h0m-40-3h0m29 5h0m19-3h0m-14 0h0m-41-23h0m36 18h0m1-5h0m-14 7h0m12-4h0m3 13h0m-13-7h0m-32-8h0m18-6h0m-20 11h0m40 3h0m-30-32h0m36 23h0m-5 13h0m-10-6h0m-6-34h0m31 45h0m-29-24h0m-24-2h0m10 13h0m33-1h0m-20-10h0m-12 11h0m-6 11h0m38-41h0m-15 21h0m2-15h0m12 20h0m-22 9h0m42-4h0m-38 6h0m4-22h0m12 13h0m-7 1h0m-22 8h0m52-31h0m-19 30h0m-12-17h0m-12 12h0m15-3h0m-21 7h0m21 0h0m2 2h0m4-10h0m-8 9h0m-7 6h0m-29-17h0m45-5h0m3 23h0m-12-12h0m13 6h0m-24-15h0m24 5h0m-4 18h0m-31-18h0m10 9h0m3-1h0m21-1h0m2-18h0m-38 9h0m32 16h0m-10-29h0m-2 16h0m-11-4h0m14 18h0m16-7h0m-5-7h0m-2 0h0m-10 9h0m-8-23h0m14 25h0m14 0h0m-5-6h0m-12 4h0m9 4h0m5-30h0m-14 12h0m14 10h0m0 2h0m-4 8h0m-7-20h0m-1-26h0m0 41h0m-36-22h0m35 15h0m6-3h0m-1 2h0m13 10h0m-8-20h0m-7-13h0m4 25h0m1 4h0m2 5h0m-7-22h0m9 7h0m8 4h0m-6 5h0m-42-7h0m37 9h0m-2 3h0m-16 4h0m14-20h0m-6-3h0m12-2h0m-4 13h0m-20-31h0m23 31h0m-6-2h0m4-17h0m-1 15h0m-1 8h0m0-35h0m-19 36h0m30-4h0m-19 7h0m-26-5h0m24-15h0m9 18h0m-1 4h0m-12-5h0m16-3h0m-15-12h0m-16 11h0m29 8h0m-4-18h0" stroke="#2f72b4" stroke-width="2.1" stroke-linecap="round" opacity="0.82"/>
<path d="M45.5 546.4L81.2 551.8" stroke="#f4b8b8" stroke-width="2.0" opacity="0.45"/>
<path d="M45.5 546.4L81.2 551.8" stroke="#e24a4c" stroke-width="0.8"/>
<path d="M42.0 548.7h1.6M42.0 535.9h1.6" stroke="#aaa" stroke-width="0.6"/>
<text x="41.4" y="550.1" font-size="4.2" text-anchor="end" fill="#333" font-family="Liberation Sans, sans-serif">10</text>
<text x="41.4" y="537.3" font-size="4.2" text-anchor="end" fill="#333" font-family="Liberation Sans, sans-serif">20</text>
<path d="M92.3 532.0V559.2H132.5" fill="none" stroke="#c8c8c8" stroke-width="0.8"/>
<path d="M92.8 559.2v1.6M117.3 559.2v1.6" stroke="#aaa" stroke-width="0.6"/>
<path transform="scale(.5)" d="M221 1103h0m26 6h0m-24-15h0m-24 8h0m21-4h0m34 0h0m-27 5h0m-4-18h0m-16-15h0m-4 34h0m28 8h0m-3-34h0m11 34h0m22-2h0m-23-9h0m-17-14h0m6-1h0m16 12h0m-19 14h0m9-34h0m-5 10h0m13 24h0m-13 2h0m2-6h0m27-4h0m-16-19h0m-1 12h0m-4-6h0m-3 8h0m13 9h0m9 7h0m-30-20h0m27 9h0m-15 2h0m-12-19h0m-9 3h0m28 8h0m-18 1h0m-4 0h0m10 3h0m7 5h0m-39-8h0m45-4h0m-11 1h0m3 4h0m-3 7h0m17-3h0m-33-6h0m31-10h0m-12 14h0m-5-26h0m0 5h0m-22 11h0m9 16h0m8-1h0m-8-10h0m-11-18h0m31 23h0m-18-28h0m2-5h0m-3 30h0m20 5h0m-11-29h0m13 32h0m-3-11h0m-36-20h0m36 6h0m0 14h0m-22 9h0m14-5h0m-3-27h0m9-7h0m2 37h0m-33-20h0m25 23h0m-3-16h0m-5 0h0m3-11h0m1 23h0m1-8h0m12 11h0m-22 3h0m26-6h0m-11 0h0m2-25h0m-9 28h0m-7-9h0m16-7h0m-9 15h0m-8 0h0m8-5h0m-14 13h0m20-42h0m8 23h0m-13 13h0m9-7h0m-15 11h0m18-2h0m10-19h0m-22 16h0m23 4h0m-32-22h0m-15 12h0m32-16h0m-10 8h0m9 14h0m-7 4h0m23-2h0m-16 4h0m-1-3h0m-5-15h0m-8 14h0m32-5h0m-46-13h0m44 14h0m-21-8h0m2 7h0m13 13h0m-15-10h0m1-36h0m6 32h0m-10-11h0m12 21h0m-13-6h0m14-26h0m-33 26h0m8-9h0m-10 10h0m9-12h0m-21-13h0m54 27h0m-17-17h0m17 14h0m-20 3h0m6-9h0m-13-12h0m32 13h0m-7 2h0m-25 3h0m10 6h0m1-3h0m9-24h0m-29 16h0m20-3h0m8-1h0m-2 0h0m-4 6h0m-5 1h0m13-13h0m-14 11h0m9 0h0m-13 1h0m-9 6h0m13-8h0m15-2h0m-14 11h0m19-2h0m-27 4h0m15 0h0m9-6h0m2-3h0m0 6h0m8-33h0m-20 21h0m6 5h0m-28 8h0m9-7h0m9 4h0m1-5h0m1-1h0m26-2h0m-44 3h0m-7-17h0m36 22h0m-10 8h0m-14-22h0m9-10h0m16 20h0m-4 9h0m14-26h0m-48 16h0m26 5h0m7-6h0m23 5h0m-47 6h0m-8-11h0m27-3h0m9 16h0m4-1h0m-19-3h0m16-3h0m-11-3h0m0 5h0m-12-3h0m5 0h0m3-23h0m-2 18h0m6-5h0m5 7h0m3-4h0m9 13h0m2-7h0m-15-8h0m17-6h0m-4 11h0m-10 3h0m-19-32h0m14 23h0m5 13h0m-11-6h0m-25-34h0m10 45h0m17-24h0m-13-2h0m16 13h0m-16-1h0m-7-10h0m29 11h0m-13 11h0m-2-41h0m22 21h0m-54-15h0m11 20h0m45 9h0m-31-4h0m17 6h0m3-22h0m-3 13h0m3 1h0m-3 8h0m-15-31h0m19 30h0m12-17h0m-9 12h0m-23-3h0m8 7h0m22 0h0m-14 2h0m-4-10h0m-8 9h0m23 6h0m-19-17h0m-5-5h0m0 23h0m23-12h0m-12 6h0m-18-15h0m16 5h0m13 18h0m-18-18h0m4 9h0m18-1h0m-27-1h0m7-18h0m21 9h0m5 16h0m-42-29h0m-12 16h0m29-4h0m-4 18h0m21-7h0m-17-7h0m-31 0h0m29 9h0m-4-23h0m22 25h0m-13 0h0m14-6h0m-17 4h0m-9 4h0m-13-30h0m34 12h0m-20 10h0m6 2h0m0 8h0m-8-20h0m18-26h0m7 41h0m-19-22h0m1 15h0m4-3h0m10 2h0m-10 10h0m-35-20h0m4-13h0m41 25h0m-1 4h0m0 5h0m-10-22h0m-18 7h0m22 4h0m-16 5h0m10-7h0m12 9h0m-27 3h0m33 4h0m-42-20h0m45-3h0m-29-2h0m20 13h0m-15-31h0m35 31h0m-31-2h0m18-17h0m-25 15h0m7 8h0m-23-35h0m31 36h0m-16-4h0m24 7h0m-18-5h0m13-15h0m-20 18h0m26 4h0m-37-5h0m36-3h0m1-12h0m1 11h0m-37 8h0m44-18h0" stroke="#2f72b4" stroke-width="2.1" stroke-linecap="round" opacity="0.82"/>
<path d="M96.0 545.7L130.7 552.1" stroke="#f4b8b8" stroke-width="2.0" opacity="0.45"/>
<path d="M96.0 545.7L130.7 552.1" stroke="#e24a4c" stroke-width="0.8"/>
<path d="M90.7 548.7h1.6M90.7 535.9h1.6" stroke="#aaa" stroke-width="0.6"/>
<path d="M141.0 532.0V559.2H181.2" fill="none" stroke="#c8c8c8" stroke-width="0.8"/>
<path d="M148.1 559.2v1.6M167.8 559.2v1.6" stroke="#aaa" stroke-width="0.6"/>
<path transform="scale(.5)" d="M313 1103h0m-20 6h0m21-15h0m10 8h0m-12-4h0m27 0h0m-27 5h0m-18-18h0m22-15h0m6 34h0m-3 8h0m-28-34h0m11 34h0m9-2h0m-2-9h0m-7-14h0m11-1h0m-10 12h0m-7 14h0m-7-34h0m33 10h0m-1 24h0m-14 2h0m0-6h0m20-4h0m4-19h0m-1 12h0m-31-6h0m1 8h0m-1 9h0m29 7h0m-14-20h0m-17 9h0m1 2h0m-8-19h0m21 3h0m-12 8h0m49 1h0m-59 0h0m25 3h0m-25 5h0m60-8h0m-55-4h0m-3 1h0m42 4h0m-37 7h0m8-3h0m6-6h0m-17-10h0m54 14h0m-37-26h0m15 5h0m-25 11h0m15 16h0m4-1h0m-10-10h0m17-18h0m6 23h0m-31-28h0m-7-5h0m1 30h0m45 5h0m-26-29h0m18 32h0m-36-11h0m2-20h0m28 6h0m-32 14h0m11 9h0m-11-5h0m0-27h0m3-7h0m33 37h0m9-20h0m-28 23h0m-13-16h0m14 0h0m20-11h0m-24 23h0m3-8h0m4 11h0m31 3h0m-43-6h0m18 0h0m-13-25h0m-9 28h0m4-9h0m-15-7h0m25 15h0m-12 0h0m23-5h0m-25 13h0m-1-42h0m-10 23h0m22 13h0m11-7h0m4 11h0m-18-2h0m5-19h0m-11 16h0m2 4h0m26-22h0m-39 12h0m14-16h0m4 8h0m-13 14h0m2 4h0m12-2h0m-6 4h0m33-3h0m-33-15h0m30 14h0m12-5h0m-20-13h0m-22 14h0m26-8h0m-38 7h0m23 13h0m1-10h0m-7-36h0m-16 32h0m9-11h0m43 21h0m3-6h0m-48-26h0m0 26h0m30-9h0m-36 10h0m14-12h0m-16-13h0m37 27h0m7-17h0m-26 14h0m-6 3h0m-6-9h0m6-12h0m-4 13h0m28 2h0m30 3h0m-70 6h0m36-3h0m-8-24h0m-23 16h0m3-3h0m8-1h0m-5 0h0m5 6h0m22 1h0m11-13h0m-38 11h0m1 0h0m14 1h0m28 6h0m-31-8h0m-23-2h0m16 11h0m34-2h0m-4 4h0m-11 0h0m-29-6h0m5-3h0m5 6h0m-10-33h0m33 21h0m2 5h0m-8 8h0m-6-7h0m-12 4h0m-6-5h0m1-1h0m30-2h0m-26 3h0m2-17h0m24 22h0m-7 8h0m-8-22h0m-21-10h0m68 20h0m-51 9h0m11-26h0m22 16h0m-43 5h0m3-6h0m-5 5h0m35 6h0m-41-11h0m7-3h0m54 16h0m-19-1h0m-27-3h0m32-3h0m-31-3h0m-11 5h0m19-3h0m0 0h0m-24-23h0m8 18h0m35-5h0m-18 7h0m-18-4h0m-2 13h0m5-7h0m-13-8h0m22-6h0m-16 11h0m11 3h0m-9-32h0m-5 23h0m19 13h0m0-6h0m19-34h0m-30 45h0m17-24h0m-28-2h0m28 13h0m17-1h0m-34-10h0m18 11h0m-15 11h0m11-41h0m-3 21h0m-6-15h0m-6 20h0m40 9h0m22-4h0m-62 6h0m35-22h0m-5 13h0m5 1h0m-32 8h0m8-31h0m-10 30h0m26-17h0m-33 12h0m19-3h0m8 7h0m-25 0h0m30 2h0m15-10h0m-19 9h0m1 6h0m-32-17h0m10-5h0m34 23h0m-25-12h0m47 6h0m-60-15h0m30 5h0m-17 18h0m-11-18h0m1 9h0m36-1h0m-6-1h0m-33-18h0m15 9h0m9 16h0m-25-29h0m3 16h0m5-4h0m-11 18h0m44-7h0m-40-7h0m16 0h0m-4 9h0m-10-23h0m33 25h0m-35 0h0m34-6h0m-32 4h0m30 4h0m-23-30h0m18 12h0m7 10h0m18 2h0m-54 8h0m0-20h0m6-26h0m24 41h0m-30-22h0m37 15h0m-4-3h0m6 2h0m-25 10h0m-6-20h0m0-13h0m17 25h0m3 4h0m35 5h0m-44-22h0m2 7h0m-7 4h0m5 5h0m-12-7h0m36 9h0m-9 3h0m0 4h0m4-20h0m-30-3h0m12-2h0m13 13h0m-17-31h0m19 31h0m-15-2h0m6-17h0m-15 15h0m-15 8h0m16-35h0m-3 36h0m26-4h0m-1 7h0m4-5h0m-1-15h0m-8 18h0m11 4h0m-42-5h0m16-3h0m-16-12h0m4 11h0m14 8h0m20-18h0" stroke="#2f72b4" stroke-width="2.1" stroke-linecap="round" opacity="0.82"/>
<path d="M143.3 547.6L179.4 552.2" stroke="#f4b8b8" stroke-width="2.0" opacity="0.45"/>
<path d="M143.3 547.6L179.4 552.2" stroke="#e24a4c" stroke-width="0.8"/>
<path d="M139.4 548.7h1.6M139.4 535.9h1.6" stroke="#aaa" stroke-width="0.6"/>
<path d="M189.8 532.0V559.2H230.0" fill="none" stroke="#c8c8c8" stroke-width="0.8"/>
<path d="M194.8 559.2v1.6M208.6 559.2v1.6M222.5 559.2v1.6" stroke="#aaa" stroke-width="0.6"/>
<path transform="scale(.5)" d="M431 1103h0m-21 6h0m39-15h0m-32 8h0m15-4h0m-4 0h0m-20 5h0m27-18h0m-12-15h0m-10 34h0m10 8h0m-17-34h0m4 34h0m20-2h0m-24-9h0m34-14h0m6-1h0m-51 12h0m27 14h0m-8-34h0m10 10h0m-2 24h0m-4 2h0m25-6h0m-24-4h0m6-19h0m-8 12h0m12-6h0m-7 8h0m-8 9h0m-13 7h0m24-20h0m-11 9h0m24 2h0m-19-19h0m-34 3h0m21 8h0m39 1h0m-52 0h0m17 3h0m28 5h0m-32-8h0m-2-4h0m15 1h0m-9 4h0m1 7h0m13-3h0m-4-6h0m10-10h0m-24 14h0m-14-26h0m18 5h0m1 11h0m2 16h0m12-1h0m-19-10h0m13-18h0m-26 23h0m14-28h0m41-5h0m-38 30h0m-12 5h0m14-29h0m-11 32h0m4-11h0m5-20h0m7 6h0m-6 14h0m4 9h0m-8-5h0m-12-27h0m38-7h0m-9 37h0m-17-20h0m16 23h0m-23-16h0m52 0h0m-8-11h0m-27 23h0m-21-8h0m0 11h0m24 3h0m-5-6h0m-6 0h0m25-25h0m-25 28h0m23-9h0m-25-7h0m11 15h0m-29 0h0m40-5h0m-16 13h0m6-42h0m-15 23h0m30 13h0m-22-7h0m-3 11h0m13-2h0m-8-19h0m-20 16h0m24 4h0m5-22h0m-28 12h0m8-16h0m20 8h0m-7 14h0m-13 4h0m-5-2h0m5 4h0m-2-3h0m15-15h0m1 14h0m10-5h0m11-13h0m-26 14h0m4-8h0m-7 7h0m-3 13h0m26-10h0m-20-36h0m3 32h0m0-11h0m-18 21h0m2-6h0m29-26h0m-6 26h0m16-9h0m-26 10h0m-9-12h0m29-13h0m-13 27h0m7-17h0m-26 14h0m38 3h0m-47-9h0m9-12h0m25 13h0m-31 2h0m27 3h0m-34 6h0m37-3h0m2-24h0m18 16h0m-48-3h0m-12-1h0m22 0h0m9 6h0m-16 1h0m13-13h0m28 11h0m-9 0h0m-23 1h0m3 6h0m7-8h0m15-2h0m-23 11h0m34-2h0m-35 4h0m12 0h0m-13-6h0m-7-3h0m-14 6h0m29-33h0m-5 21h0m-5 5h0m-6 8h0m40-7h0m-3 4h0m-50-5h0m35-1h0m13-2h0m-16 3h0m7-17h0m3 22h0m-15 8h0m-3-22h0m-2-10h0m14 20h0m-31 9h0m15-26h0m19 16h0m-19 5h0m12-6h0m-5 5h0m-15 6h0m0-11h0m5-3h0m2 16h0m1-1h0m9-3h0m14-3h0m-28-3h0m4 5h0m16-3h0m-26 0h0m18-23h0m16 18h0m4-5h0m-25 7h0m5-4h0m-1 13h0m-16-7h0m-13-8h0m8-6h0m27 11h0m-10 3h0m34-32h0m-32 23h0m22 13h0m-7-6h0m-32-34h0m4 45h0m36-24h0m-16-2h0m-23 13h0m33-1h0m-25-10h0m12 11h0m4 11h0m-6-41h0m16 21h0m-18-15h0m-3 20h0m12 9h0m-2-4h0m-28 6h0m44-22h0m-16 13h0m-4 1h0m-2 8h0m-1-31h0m8 30h0m-24-17h0m37 12h0m-12-3h0m-8 7h0m6 0h0m-18 2h0m5-10h0m7 9h0m-13 6h0m3-17h0m-1-5h0m-16 23h0m17-12h0m5 6h0m31-15h0m-42 5h0m21 18h0m-8-18h0m9 9h0m4-1h0m-22-1h0m6-18h0m17 9h0m-12 16h0m-3-29h0m12 16h0m-9-4h0m24 18h0m-12-7h0m-2-7h0m22 0h0m5 9h0m-44-23h0m16 25h0m-24 0h0m29-6h0m-21 4h0m25 4h0m-30-30h0m12 12h0m-6 10h0m17 2h0m-24 8h0m17-20h0m-5-26h0m20 41h0m-26-22h0m20 15h0m16-3h0m-35 2h0m11 10h0m-21-20h0m13-13h0m37 25h0m-20 4h0m-7 5h0m-13-22h0m10 7h0m-14 4h0m22 5h0m2-7h0m-18 9h0m7 3h0m-6 4h0m33-20h0m-26-3h0m16-2h0m-20 13h0m-2-31h0m3 31h0m5-2h0m-1-17h0m-23 15h0m29 8h0m2-35h0m-22 36h0m27-4h0m-17 7h0m18-5h0m2-15h0m4 18h0m-25 4h0m-18-5h0m7-3h0m14-12h0m19 11h0m-19 8h0m9-18h0" stroke="#2f72b4" stroke-width="2.1" stroke-linecap="round" opacity="0.82"/>
<path d="M191.9 550.2L226.0 548.0" stroke="#f4b8b8" stroke-width="2.0" opacity="0.45"/>
<path d="M191.9 550.2L226.0 548.0" stroke="#e24a4c" stroke-width="0.8"/>
<path d="M188.2 548.7h1.6M188.2 535.9h1.6" stroke="#aaa" stroke-width="0.6"/>
<path d="M238.5 532.0V559.2H278.7" fill="none" stroke="#c8c8c8" stroke-width="0.8"/>
<path d="M242.6 559.2v1.6M256.1 559.2v1.6M269.7 559.2v1.6" stroke="#aaa" stroke-width="0.6"/>
<path transform="scale(.5)" d="M512 1103h0m21 6h0m11-15h0m-39 8h0m26-4h0m-30 0h0m21 5h0m-4-18h0m-6-15h0m24 34h0m1 8h0m-54-34h0m29 34h0m0-2h0m8-9h0m25-14h0m-42-1h0m14 12h0m-11 14h0m-22-34h0m17 10h0m26 24h0m-13 2h0m0-6h0m-10-4h0m26-19h0m-21 12h0m14-6h0m-3 8h0m6 9h0m-17 7h0m-6-20h0m7 9h0m4 2h0m-3-19h0m-2 3h0m19 8h0m-21 1h0m-10 0h0m22 3h0m17 5h0m-21-8h0m-18-4h0m43 1h0m-23 4h0m-29 7h0m11-3h0m13-6h0m3-10h0m18 14h0m-11-26h0m-23 5h0m12 11h0m12 16h0m-10-1h0m11-10h0m-22-18h0m13 23h0m8-28h0m22-5h0m-14 30h0m-31 5h0m19-29h0m-18 32h0m-13-11h0m54-20h0m-18 6h0m-18 14h0m9 9h0m-23-5h0m29-27h0m11-7h0m-31 37h0m16-20h0m2 23h0m-15-16h0m38 0h0m-30-11h0m-2 23h0m6-8h0m-20 11h0m16 3h0m10-6h0m-11 0h0m12-25h0m-37 28h0m27-9h0m15-7h0m-43 15h0m21 0h0m-9-5h0m22 13h0m-18-42h0m20 23h0m22 13h0m-42-7h0m1 11h0m29-2h0m-9-19h0m-1 16h0m6 4h0m3-22h0m-3 12h0m-18-16h0m10 8h0m-9 14h0m-12 4h0m13-2h0m7 4h0m-5-3h0m3-15h0m-5 14h0m10-5h0m-20-13h0m3 14h0m10-8h0m8 7h0m-8 13h0m-11-10h0m-16-36h0m38 32h0m-1-11h0m-17 21h0m13-6h0m-5-26h0m-9 26h0m-2-9h0m10 10h0m-25-12h0m54-13h0m-29 27h0m-5-17h0m35 14h0m-21 3h0m-15-9h0m14-12h0m-34 13h0m22 2h0m10 3h0m-10 6h0m21-3h0m-10-24h0m5 16h0m-21-3h0m17-1h0m12 0h0m-7 6h0m0 1h0m-7-13h0m6 11h0m-6 0h0m-14 1h0m18 6h0m-1-8h0m12-2h0m-25 11h0m3-2h0m-18 4h0m15 0h0m12-6h0m-17-3h0m-2 6h0m33-33h0m-23 21h0m-8 5h0m18 8h0m-8-7h0m-4 4h0m16-5h0m8-1h0m-38-2h0m10 3h0m-1-17h0m14 22h0m-23 8h0m37-22h0m-13-10h0m-4 20h0m4 9h0m-30-26h0m-5 16h0m7 5h0m22-6h0m-2 5h0m-11 6h0m24-11h0m-3-3h0m-30 16h0m36-1h0m1-3h0m14-3h0m-31-3h0m6 5h0m-13-3h0m-20 0h0m37-23h0m0 18h0m-10-5h0m17 7h0m-25-4h0m4 13h0m-24-7h0m49-8h0m-7-6h0m-21 11h0m-8 3h0m28-32h0m10 23h0m-26 13h0m20-6h0m-9-34h0m-18 45h0m8-24h0m15-2h0m4 13h0m-1-1h0m-21-10h0m22 11h0m8 11h0m1-41h0m6 21h0m0-15h0m-30 20h0m2 9h0m-8-4h0m13 6h0m0-22h0m15 13h0m-27 1h0m-7 8h0m40-31h0m-26 30h0m4-17h0m-22 12h0m26-3h0m3 7h0m14 0h0m-44 2h0m21-10h0m6 9h0m-8 6h0m-7-17h0m-2-5h0m22 23h0m-5-12h0m16 6h0m-17-15h0m-7 5h0m3 18h0m-1-18h0m4 9h0m-34-1h0m18-1h0m8-18h0m0 9h0m3 16h0m10-29h0m-24 16h0m2-4h0m1 18h0m-3-7h0m26-7h0m-9 0h0m3 9h0m-29-23h0m12 25h0m-16 0h0m24-6h0m18 4h0m0 4h0m-7-30h0m-21 12h0m5 10h0m31 2h0m-30 8h0m2-20h0m-9-26h0m19 41h0m0-22h0m23 15h0m-29-3h0m4 2h0m-4 10h0m-13-20h0m5-13h0m-6 25h0m-1 4h0m22 5h0m-9-22h0m16 7h0m-20 4h0m6 5h0m4-7h0m7 9h0m-27 3h0m45 4h0m0-20h0m-29-3h0m2-2h0m9 13h0m-10-31h0m16 31h0m-19-2h0m30-17h0m-14 15h0m-6 8h0m-23-35h0m-2 36h0m12-4h0m33 7h0m-21-5h0m28-15h0m-48 18h0m-4 4h0m26-5h0m-18-3h0m17-12h0m17 11h0m-18 8h0m-14-18h0" stroke="#2f72b4" stroke-width="2.1" stroke-linecap="round" opacity="0.82"/>
<path d="M241.4 550.3L276.2 548.0" stroke="#f4b8b8" stroke-width="2.0" opacity="0.45"/>
<path d="M241.4 550.3L276.2 548.0" stroke="#e24a4c" stroke-width="0.8"/>
<path d="M236.9 548.7h1.6M236.9 535.9h1.6" stroke="#aaa" stroke-width="0.6"/>
<path d="M287.2 532.0V559.2H327.4" fill="none" stroke="#c8c8c8" stroke-width="0.8"/>
<path d="M289.3 559.2v1.6M311.8 559.2v1.6" stroke="#aaa" stroke-width="0.6"/>
<path transform="scale(.5)" d="M624 1103h0m-2 6h0m6-15h0m14 8h0m-25-4h0m-10 0h0m-9 5h0m26-18h0m25-15h0m-20 34h0m-15 8h0m-2-34h0m38 34h0m-46-2h0m4-9h0m13-14h0m-4-1h0m-11 12h0m37 14h0m-37-34h0m17 10h0m-8 24h0m-15 2h0m18-6h0m-1-4h0m-17-19h0m12 12h0m17-6h0m-43 8h0m35 9h0m-22 7h0m10-20h0m19 9h0m-25 2h0m37-19h0m-31 3h0m9 8h0m-14 1h0m-8 0h0m9 3h0m3 5h0m10-8h0m-18-4h0m24 1h0m-15 4h0m-21 7h0m25-3h0m-4-6h0m13-10h0m-19 14h0m-9-26h0m13 5h0m5 11h0m-3 16h0m4-1h0m31-10h0m-9-18h0m-35 23h0m-6-28h0m19-5h0m-15 30h0m33 5h0m-3-29h0m-26 32h0m4-11h0m-11-20h0m3 6h0m23 14h0m-22 9h0m29-5h0m-12-27h0m-4-7h0m6 37h0m-19-20h0m11 23h0m-1-16h0m16 0h0m2-11h0m-31 23h0m-11-8h0m1 11h0m-1 3h0m26-6h0m-7 0h0m33-25h0m-14 28h0m-20-9h0m29-7h0m6 15h0m-48 0h0m11-5h0m22 13h0m-4-42h0m4 23h0m-15 13h0m-7-7h0m-10 11h0m-1-2h0m15-19h0m15 16h0m-9 4h0m3-22h0m15 12h0m-8-16h0m26 8h0m-26 14h0m6 4h0m-19-2h0m-19 4h0m17-3h0m12-15h0m-32 14h0m27-5h0m4-13h0m-10 14h0m13-8h0m7 7h0m-26 13h0m27-10h0m-20-36h0m2 32h0m15-11h0m-29 21h0m4-6h0m6-26h0m4 26h0m34-9h0m-35 10h0m3-12h0m21-13h0m-31 27h0m14-17h0m-10 14h0m-14 3h0m29-9h0m8-12h0m-15 13h0m0 2h0m-19 3h0m19 6h0m-13-3h0m23-24h0m4 16h0m-20-3h0m3-1h0m3 0h0m-8 6h0m3 1h0m12-13h0m-9 11h0m7 0h0m-5 1h0m-8 6h0m42-8h0m-32-2h0m-25 11h0m11-2h0m9 4h0m5 0h0m-15-6h0m0-3h0m2 6h0m-1-33h0m18 21h0m-8 5h0m5 8h0m-6-7h0m7 4h0m-16-5h0m7-1h0m1-2h0m2 3h0m0-17h0m-4 22h0m-8 8h0m10-22h0m29-10h0m-28 20h0m10 9h0m-11-26h0m-23 16h0m17 5h0m18-6h0m-19 5h0m6 6h0m7-11h0m-7-3h0m-17 16h0m5-1h0m16-3h0m5-3h0m-6-3h0m-11 5h0m15-3h0m-15 0h0m10-23h0m7 18h0m-1-5h0m-10 7h0m7-4h0m-13 13h0m2-7h0m14-8h0m11-6h0m-27 11h0m27 3h0m-12-32h0m-3 23h0m2 13h0m10-6h0m-12-34h0m2 45h0m-15-24h0m50-2h0m-34 13h0m-30-1h0m34-10h0m-14 11h0m14 11h0m11-41h0m-46 21h0m25-15h0m-9 20h0m24 9h0m-6-4h0m-12 6h0m2-22h0m1 13h0m-10 1h0m25 8h0m-12-31h0m4 30h0m4-17h0m-30 12h0m55-3h0m-46 7h0m32 0h0m-41 2h0m26-10h0m-28 9h0m14 6h0m30-17h0m-19-5h0m-7 23h0m-12-12h0m15 6h0m24-15h0m-36 5h0m-1 18h0m52-18h0m-46 9h0m21-1h0m-27-1h0m32-18h0m-19 9h0m-3 16h0m7-29h0m29 16h0m2-4h0m-45 18h0m6-7h0m10-7h0m8 0h0m8 9h0m-1-23h0m-39 25h0m25 0h0m-14-6h0m7 4h0m0 4h0m-27-30h0m35 12h0m-13 10h0m-15 2h0m25 8h0m15-20h0m-19-26h0m37 41h0m-55-22h0m11 15h0m13-3h0m4 2h0m6 10h0m-3-20h0m-2-13h0m-3 25h0m-31 4h0m12 5h0m9-22h0m11 7h0m-12 4h0m14 5h0m-23-7h0m8 9h0m15 3h0m-18 4h0m-23-20h0m35-3h0m7-2h0m-16 13h0m17-31h0m-25 31h0m27-2h0m-18-17h0m4 15h0m10 8h0m3-35h0m17 36h0m-43-4h0m-1 7h0m24-5h0m-19-15h0m-16 18h0m-6 4h0m12-5h0m6-3h0m6-12h0m7 11h0m-25 8h0m29-18h0" stroke="#2f72b4" stroke-width="2.1" stroke-linecap="round" opacity="0.82"/>
<path d="M290.3 551.9L325.1 546.0" stroke="#f4b8b8" stroke-width="2.0" opacity="0.45"/>
<path d="M290.3 551.9L325.1 546.0" stroke="#e24a4c" stroke-width="0.8"/>
<path d="M285.6 548.7h1.6M285.6 535.9h1.6" stroke="#aaa" stroke-width="0.6"/>
<path d="M335.9 532.0V559.2H376.1" fill="none" stroke="#c8c8c8" stroke-width="0.8"/>
<path d="M344.7 559.2v1.6M370.9 559.2v1.6" stroke="#aaa" stroke-width="0.6"/>
<path transform="scale(.5)" d="M707 1103h0m12 6h0m-13-15h0m-7 8h0m-1-4h0m-3 0h0m31 5h0m-2-18h0m17-15h0m-34 34h0m0 8h0m1-34h0m23 34h0m-20-2h0m1-9h0m25-14h0m-29-1h0m-9 12h0m37 14h0m0-34h0m-47 10h0m29 24h0m-26 2h0m45-6h0m-8-4h0m-24-19h0m25 12h0m17-6h0m-42 8h0m23 9h0m-24 7h0m0-20h0m26 9h0m-16 2h0m22-19h0m-32 3h0m39 8h0m-59 1h0m27 0h0m-4 3h0m17 5h0m-22-8h0m4-4h0m34 1h0m-18 4h0m-18 7h0m13-3h0m-19-6h0m34-10h0m-47 14h0m37-26h0m-24 5h0m28 11h0m-20 16h0m0-1h0m2-10h0m15-18h0m-6 23h0m19-28h0m4-5h0m-48 30h0m22 5h0m2-29h0m-11 32h0m41-11h0m-32-20h0m2 6h0m19 14h0m-28 9h0m30-5h0m-4-27h0m-20-7h0m-21 37h0m27-20h0m-21 23h0m11-16h0m20 0h0m-12-11h0m9 23h0m-5-8h0m-5 11h0m-18 3h0m29-6h0m-12 0h0m-7-25h0m5 28h0m11-9h0m-3-7h0m3 15h0m-31 0h0m37-5h0m-28 13h0m27-42h0m-11 23h0m-13 13h0m3-7h0m-18 11h0m16-2h0m22-19h0m-10 16h0m-1 4h0m-7-22h0m14 12h0m-11-16h0m17 8h0m-1 14h0m-7 4h0m1-2h0m1 4h0m-24-3h0m20-15h0m-12 14h0m-7-5h0m25-13h0m-8 14h0m-14-8h0m25 7h0m-21 13h0m14-10h0m-9-36h0m14 32h0m8-11h0m-26 21h0m-5-6h0m22-26h0m2 26h0m2-9h0m-4 10h0m-18-12h0m21-13h0m-22 27h0m-10-17h0m33 14h0m-27 3h0m3-9h0m4-12h0m21 13h0m-29 2h0m-9 3h0m33 6h0m-19-3h0m17-24h0m0 16h0m-15-3h0m-6-1h0m3 0h0m32 6h0m-46 1h0m24-13h0m0 11h0m8 0h0m1 1h0m-45 6h0m43-8h0m-2-2h0m-31 11h0m38-2h0m-25 4h0m2 0h0m14-6h0m-10-3h0m4 6h0m14-33h0m-11 21h0m7 5h0m-26 8h0m20-7h0m-10 4h0m20-5h0m11-1h0m-10-2h0m-20 3h0m-8-17h0m6 22h0m-11 8h0m15-22h0m33-10h0m-45 20h0m7 9h0m36-26h0m-43 16h0m11 5h0m14-6h0m9 5h0m-10 6h0m3-11h0m-17-3h0m-17 16h0m10-1h0m19-3h0m-27-3h0m23-3h0m1 5h0m-37-3h0m2 0h0m44-23h0m-5 18h0m-15-5h0m2 7h0m24-4h0m-17 13h0m-3-7h0m24-8h0m-10-6h0m13 11h0m-25 3h0m20-32h0m8 23h0m-38 13h0m20-6h0m-19-34h0m5 45h0m-9-24h0m44-2h0m-32 13h0m-36-1h0m28-10h0m-6 11h0m31 11h0m-5-41h0m9 21h0m-12-15h0m-21 20h0m26 9h0m-36-4h0m22 6h0m3-22h0m4 13h0m0 1h0m22 8h0m-33-31h0m0 30h0m14-17h0m0 12h0m-8-3h0m0 7h0m13 0h0m-43 2h0m31-10h0m-4 9h0m-16 6h0m36-17h0m-21-5h0m-6 23h0m13-12h0m-8 6h0m21-15h0m-37 5h0m-10 18h0m41-18h0m14 9h0m-18-1h0m-32-1h0m42-18h0m-16 9h0m-3 16h0m14-29h0m14 16h0m-8-4h0m-26 18h0m-6-7h0m5-7h0m4 0h0m12 9h0m8-23h0m-32 25h0m27 0h0m-29-6h0m37 4h0m-25 4h0m-27-30h0m36 12h0m-23 10h0m16 2h0m-18 8h0m26-20h0m7-26h0m17 41h0m-17-22h0m0 15h0m-1-3h0m-15 2h0m-7 10h0m14-20h0m-10-13h0m11 25h0m-21 4h0m-5 5h0m27-22h0m-10 7h0m5 4h0m1 5h0m12-7h0m-32 9h0m8 3h0m15 4h0m-17-20h0m19-3h0m4-2h0m-26 13h0m29-31h0m-20 31h0m19-2h0m8-17h0m-21 15h0m30 8h0m-2-35h0m-9 36h0m-41-4h0m20 7h0m-5-5h0m9-15h0m-13 18h0m-23 4h0m39-5h0m-1-3h0m0-12h0m21 11h0m-56 8h0m45-18h0" stroke="#2f72b4" stroke-width="2.1" stroke-linecap="round" opacity="0.82"/>
<path d="M338.4 553.4L373.7 545.6" stroke="#f4b8b8" stroke-width="2.0" opacity="0.45"/>
<path d="M338.4 553.4L373.7 545.6" stroke="#e24a4c" stroke-width="0.8"/>
<path d="M334.3 548.7h1.6M334.3 535.9h1.6" stroke="#aaa" stroke-width="0.6"/>
<path d="M384.6 532.0V559.2H424.8" fill="none" stroke="#c8c8c8" stroke-width="0.8"/>
<path d="M400.1 559.2v1.6M419.1 559.2v1.6" stroke="#aaa" stroke-width="0.6"/>
<path d="M386.47 559.2v-3.8h1.83v3.8zM388.29 559.2v-9.0h1.83v9.0zM390.12 559.2v-11.5h1.83v11.5zM391.95 559.2v-18.9h1.83v18.9zM393.78 559.2v-20.2h1.83v20.2zM395.60 559.2v-17.6h1.83v17.6zM397.43 559.2v-15.4h1.83v15.4zM399.26 559.2v-15.4h1.83v15.4zM401.09 559.2v-8.7h1.83v8.7zM402.91 559.2v-6.7h1.83v6.7zM404.74 559.2v-6.7h1.83v6.7zM406.57 559.2v-4.8h1.83v4.8zM408.39 559.2v-3.8h1.83v3.8zM410.22 559.2v-4.2h1.83v4.2zM412.05 559.2v-3.5h1.83v3.5zM413.88 559.2v-3.2h1.83v3.2zM415.70 559.2v-3.2h1.83v3.2zM417.53 559.2v-2.2h1.83v2.2zM419.36 559.2v-1.9h1.83v1.9zM421.19 559.2v-1.6h1.83v1.6z" fill="#a9cbe8" stroke="#5b7fa3" stroke-width="0.35"/>
<path d="M387.4,554.7 L389.2,550.6 L391.0,546.6 L392.9,542.6 L394.7,541.1 L396.5,541.6 L398.3,543.5 L400.2,545.8 L402.0,549.1 L403.8,551.4 L405.7,552.9 L407.5,554.1 L409.3,554.8 L411.1,555.2 L413.0,555.6 L414.8,555.9 L416.6,556.3 L418.4,556.8 L420.3,557.3 L422.1,557.9" fill="none" stroke="#7aa8d8" stroke-width="0.8" opacity="0.8"/>
<path d="M383.0 548.7h1.6M383.0 535.9h1.6" stroke="#aaa" stroke-width="0.6"/>
<text x="453.2" y="546.2" font-size="8.5" text-anchor="middle" fill="#1a1a1a" stroke="#1a1a1a" stroke-width="0.08" font-family="Liberation Sans, sans-serif">0.46 <tspan letter-spacing="0.7" font-size="9">**</tspan></text>
<text x="501.9" y="546.2" font-size="8.5" text-anchor="middle" fill="#1a1a1a" stroke="#1a1a1a" stroke-width="0.08" font-family="Liberation Sans, sans-serif">0.22 <tspan letter-spacing="0.7" font-size="9">**</tspan></text>
<path d="M43.6 564.6V591.8H83.8" fill="none" stroke="#c8c8c8" stroke-width="0.8"/>
<path d="M51.8 591.8v1.6M63.1 591.8v1.6M74.5 591.8v1.6" stroke="#aaa" stroke-width="0.6"/>
<path transform="scale(.5)" d="M134 1158h0m-14-8h0m17 7h0m6 0h0m-37 5h0m37 7h0m-24-21h0m-26 7h0m-2-18h0m45 19h0m-11 1h0m1-6h0m6-7h0m-16 30h0m-4-19h0m-4-17h0m27 7h0m-43 11h0m21-17h0m9 9h0m17 23h0m-18 2h0m9-11h0m-24-7h0m14-2h0m9 2h0m7-2h0m-28-12h0m21 15h0m-11-10h0m4 13h0m11-2h0m-12-2h0m17 7h0m-9-20h0m-4 9h0m-1 3h0m18 8h0m-34-8h0m12 10h0m-19-7h0m61 2h0m-30-13h0m-23 10h0m20 2h0m6 2h0m-6-7h0m2 12h0m-27-19h0m33 20h0m-15-16h0m10 11h0m-3-4h0m8 2h0m11 7h0m-7-13h0m-5 2h0m-14 5h0m-9-19h0m-18 1h0m39 38h0m-11-29h0m19 3h0m7 17h0m-13-29h0m-27 23h0m-8-11h0m33-16h0m-10 20h0m17-16h0m-47-5h0m37 5h0m19 17h0m2-18h0m-15 19h0m-3 0h0m3-17h0m-17 9h0m9 12h0m-38-12h0m56 5h0m8 16h0m-24-29h0m-26 10h0m40-2h0m-7-4h0m-17 6h0m-12-12h0m52 6h0m-7 20h0m-13-11h0m-19 1h0m19-15h0m-7 1h0m-6 13h0m6 2h0m9 6h0m-19-8h0m12-15h0m-10 11h0m8 6h0m10 1h0m-44-10h0m32 2h0m-22-4h0m28 2h0m-6 4h0m-41 1h0m31 3h0m13-3h0m-12-13h0m23 27h0m-15-11h0m2-2h0m5 2h0m-10-7h0m0 3h0m3 21h0m4-31h0m-23-3h0m1 14h0m23-3h0m5 9h0m-4 4h0m-29-6h0m28-1h0m-23-18h0m6 10h0m12 4h0m-10-11h0m-4 31h0m6-17h0m13-7h0m0 25h0m-13-22h0m10 8h0m-19 2h0m24-4h0m-1 17h0m-4-25h0m-11 14h0m1-21h0m6-7h0m0 24h0m14-3h0m-30-6h0m11 1h0m35 3h0m-3-6h0m-15 16h0m-36-7h0m27 0h0m17 0h0m-13-6h0m-35 1h0m18 19h0m39-15h0m-15 10h0m-4-2h0m-8-5h0m-25 7h0m32-11h0m-36-7h0m31 8h0m8-14h0m0 21h0m-25-8h0m17 2h0m3-3h0m-9-8h0m-28 0h0m29 5h0m7 7h0m1 4h0m-7 6h0m-21-18h0m6-19h0m48 34h0m-31-7h0m-31-26h0m32 33h0m21-2h0m-36-11h0m-17 0h0m15 9h0m19-10h0m-6 1h0m-10 23h0m20-18h0m-15-1h0m25 21h0m-40-11h0m29-9h0m19 12h0m-14-10h0m-41-22h0m36 20h0m1-1h0m-14 3h0m12-11h0m3 25h0m-13-11h0m-32-13h0m18-5h0m-20 5h0m40-8h0m-30 7h0m36 1h0m-5 9h0m-10-1h0m-6-8h0m31 7h0m-29-2h0m-24-24h0m10 23h0m33 24h0m-20-11h0m-12-13h0m-6-16h0m38 8h0m-15 7h0m2-17h0m12 26h0m-22-6h0m42 12h0m-38 2h0m4-21h0m12 6h0m-7 1h0m-22-14h0m52 23h0m-19-3h0m-12-16h0m-12 9h0m15-7h0m-21 12h0m21-7h0m2 13h0m4-13h0m-8 18h0m-7 7h0m-29-40h0m45 16h0m3-6h0m-12 1h0m13 5h0m-24-10h0m24 24h0m-4 4h0m-31-22h0m10-2h0m3-5h0m21 24h0m2-21h0m-38 13h0m32 5h0m-10-21h0m-2-7h0m-11 2h0m14 16h0m16 11h0m-5-12h0m-2-11h0m-10 5h0m-8-1h0m14 25h0m14-21h0m-5 13h0m-12-5h0m9 3h0m5 2h0m-14-14h0m14 7h0m0-1h0m-4 18h0m-7-18h0m-1-12h0m0-1h0m-36 7h0m35 5h0m6 1h0m-1 2h0m13 3h0m-8-13h0m-7 3h0m4 3h0m1 0h0m2 21h0m-7-15h0m9-9h0m8-4h0m-6 1h0m-42 0h0m37 19h0m-2-9h0m-16-1h0m14 24h0m-6-35h0m12 8h0m-4 5h0m-20-17h0m23 16h0m-6-8h0m4 0h0m-1 4h0m-1 8h0m0-22h0m-19 10h0m30 24h0m-19-17h0m-26 9h0m24-7h0m9 7h0m-1 13h0m-12-23h0m16 1h0m-15-1h0m-16-3h0m29 26h0m-4-29h0" stroke="#2f72b4" stroke-width="2.1" stroke-linecap="round" opacity="0.82"/>
<path d="M45.5 574.0L81.2 581.5" stroke="#f4b8b8" stroke-width="2.0" opacity="0.45"/>
<path d="M45.5 574.0L81.2 581.5" stroke="#e24a4c" stroke-width="0.8"/>
<path d="M42.0 587.7h1.6M42.0 569.7h1.6" stroke="#aaa" stroke-width="0.6"/>
<text x="41.4" y="589.1" font-size="4.2" text-anchor="end" fill="#333" font-family="Liberation Sans, sans-serif">2000</text>
<text x="41.4" y="571.1" font-size="4.2" text-anchor="end" fill="#333" font-family="Liberation Sans, sans-serif">3000</text>
<path d="M92.3 564.6V591.8H132.5" fill="none" stroke="#c8c8c8" stroke-width="0.8"/>
<path d="M92.8 591.8v1.6M117.3 591.8v1.6" stroke="#aaa" stroke-width="0.6"/>
<path transform="scale(.5)" d="M221 1158h0m26-8h0m-24 7h0m-24 0h0m21 5h0m34 7h0m-27-21h0m-4 7h0m-16-18h0m-4 19h0m28 1h0m-3-6h0m11-7h0m22 30h0m-23-19h0m-17-17h0m6 7h0m16 11h0m-19-17h0m9 9h0m-5 23h0m13 2h0m-13-11h0m2-7h0m27-2h0m-16 2h0m-1-2h0m-4-12h0m-3 15h0m13-10h0m9 13h0m-30-2h0m27-2h0m-15 7h0m-12-20h0m-9 9h0m28 3h0m-18 8h0m-4-8h0m10 10h0m7-7h0m-39 2h0m45-13h0m-11 10h0m3 2h0m-3 2h0m17-7h0m-33 12h0m31-19h0m-12 20h0m-5-16h0m0 11h0m-22-4h0m9 2h0m8 7h0m-8-13h0m-11 2h0m31 5h0m-18-19h0m2 1h0m-3 38h0m20-29h0m-11 3h0m13 17h0m-3-29h0m-36 23h0m36-11h0m0-16h0m-22 20h0m14-16h0m-3-5h0m9 5h0m2 17h0m-33-18h0m25 19h0m-3 0h0m-5-17h0m3 9h0m1 12h0m1-12h0m12 5h0m-22 16h0m26-29h0m-11 10h0m2-2h0m-9-4h0m-7 6h0m16-12h0m-9 6h0m-8 20h0m8-11h0m-14 1h0m20-15h0m8 1h0m-13 13h0m9 2h0m-15 6h0m18-8h0m10-15h0m-22 11h0m23 6h0m-32 1h0m-15-10h0m32 2h0m-10-4h0m9 2h0m-7 4h0m23 1h0m-16 3h0m-1-3h0m-5-13h0m-8 27h0m32-11h0m-46-2h0m44 2h0m-21-7h0m2 3h0m13 21h0m-15-31h0m1-3h0m6 14h0m-10-3h0m12 9h0m-13 4h0m14-6h0m-33-1h0m8-18h0m-10 10h0m9 4h0m-21-11h0m54 31h0m-17-17h0m17-7h0m-20 25h0m6-22h0m-13 8h0m32 2h0m-7-4h0m-25 17h0m10-25h0m1 14h0m9-21h0m-29-7h0m20 24h0m8-3h0m-2-6h0m-4 1h0m-5 3h0m13-6h0m-14 16h0m9-7h0m-13 0h0m-9 0h0m13-6h0m15 1h0m-14 19h0m19-15h0m-27 10h0m15-2h0m9-5h0m2 7h0m0-11h0m8-7h0m-20 8h0m6-14h0m-28 21h0m9-8h0m9 2h0m1-3h0m1-8h0m26 0h0m-44 5h0m-7 7h0m36 4h0m-10 6h0m-14-18h0m9-19h0m16 34h0m-4-7h0m14-26h0m-48 33h0m26-2h0m7-11h0m23 0h0m-47 9h0m-8-10h0m27 1h0m9 23h0m4-18h0m-19-1h0m16 21h0m-11-11h0m0-9h0m-12 12h0m5-10h0m3-22h0m-2 20h0m6-1h0m5 3h0m3-11h0m9 25h0m2-11h0m-15-13h0m17-5h0m-4 5h0m-10-8h0m-19 7h0m14 1h0m5 9h0m-11-1h0m-25-8h0m10 7h0m17-2h0m-13-24h0m16 23h0m-16 24h0m-7-11h0m29-13h0m-13-16h0m-2 8h0m22 7h0m-54-17h0m11 26h0m45-6h0m-31 12h0m17 2h0m3-21h0m-3 6h0m3 1h0m-3-14h0m-15 23h0m19-3h0m12-16h0m-9 9h0m-23-7h0m8 12h0m22-7h0m-14 13h0m-4-13h0m-8 18h0m23 7h0m-19-40h0m-5 16h0m0-6h0m23 1h0m-12 5h0m-18-10h0m16 24h0m13 4h0m-18-22h0m4-2h0m18-5h0m-27 24h0m7-21h0m21 13h0m5 5h0m-42-21h0m-12-7h0m29 2h0m-4 16h0m21 11h0m-17-12h0m-31-11h0m29 5h0m-4-1h0m22 25h0m-13-21h0m14 13h0m-17-5h0m-9 3h0m-13 2h0m34-14h0m-20 7h0m6-1h0m0 18h0m-8-18h0m18-12h0m7-1h0m-19 7h0m1 5h0m4 1h0m10 2h0m-10 3h0m-35-13h0m4 3h0m41 3h0m-1 0h0m0 21h0m-10-15h0m-18-9h0m22-4h0m-16 1h0m10 0h0m12 19h0m-27-9h0m33-1h0m-42 24h0m45-35h0m-29 8h0m20 5h0m-15-17h0m35 16h0m-31-8h0m18 0h0m-25 4h0m7 8h0m-23-22h0m31 10h0m-16 24h0m24-17h0m-18 9h0m13-7h0m-20 7h0m26 13h0m-37-23h0m36 1h0m1-1h0m1-3h0m-37 26h0m44-29h0" stroke="#2f72b4" stroke-width="2.1" stroke-linecap="round" opacity="0.82"/>
<path d="M96.0 577.0L130.7 578.6" stroke="#f4b8b8" stroke-width="2.0" opacity="0.45"/>
<path d="M96.0 577.0L130.7 578.6" stroke="#e24a4c" stroke-width="0.8"/>
<path d="M90.7 587.7h1.6M90.7 569.7h1.6" stroke="#aaa" stroke-width="0.6"/>
<path d="M141.0 564.6V591.8H181.2" fill="none" stroke="#c8c8c8" stroke-width="0.8"/>
<path d="M148.1 591.8v1.6M167.8 591.8v1.6" stroke="#aaa" stroke-width="0.6"/>
<path transform="scale(.5)" d="M313 1158h0m-20-8h0m21 7h0m10 0h0m-12 5h0m27 7h0m-27-21h0m-18 7h0m22-18h0m6 19h0m-3 1h0m-28-6h0m11-7h0m9 30h0m-2-19h0m-7-17h0m11 7h0m-10 11h0m-7-17h0m-7 9h0m33 23h0m-1 2h0m-14-11h0m0-7h0m20-2h0m4 2h0m-1-2h0m-31-12h0m1 15h0m-1-10h0m29 13h0m-14-2h0m-17-2h0m1 7h0m-8-20h0m21 9h0m-12 3h0m49 8h0m-59-8h0m25 10h0m-25-7h0m60 2h0m-55-13h0m-3 10h0m42 2h0m-37 2h0m8-7h0m6 12h0m-17-19h0m54 20h0m-37-16h0m15 11h0m-25-4h0m15 2h0m4 7h0m-10-13h0m17 2h0m6 5h0m-31-19h0m-7 1h0m1 38h0m45-29h0m-26 3h0m18 17h0m-36-29h0m2 23h0m28-11h0m-32-16h0m11 20h0m-11-16h0m0-5h0m3 5h0m33 17h0m9-18h0m-28 19h0m-13 0h0m14-17h0m20 9h0m-24 12h0m3-12h0m4 5h0m31 16h0m-43-29h0m18 10h0m-13-2h0m-9-4h0m4 6h0m-15-12h0m25 6h0m-12 20h0m23-11h0m-25 1h0m-1-15h0m-10 1h0m22 13h0m11 2h0m4 6h0m-18-8h0m5-15h0m-11 11h0m2 6h0m26 1h0m-39-10h0m14 2h0m4-4h0m-13 2h0m2 4h0m12 1h0m-6 3h0m33-3h0m-33-13h0m30 27h0m12-11h0m-20-2h0m-22 2h0m26-7h0m-38 3h0m23 21h0m1-31h0m-7-3h0m-16 14h0m9-3h0m43 9h0m3 4h0m-48-6h0m0-1h0m30-18h0m-36 10h0m14 4h0m-16-11h0m37 31h0m7-17h0m-26-7h0m-6 25h0m-6-22h0m6 8h0m-4 2h0m28-4h0m30 17h0m-70-25h0m36 14h0m-8-21h0m-23-7h0m3 24h0m8-3h0m-5-6h0m5 1h0m22 3h0m11-6h0m-38 16h0m1-7h0m14 0h0m28 0h0m-31-6h0m-23 1h0m16 19h0m34-15h0m-4 10h0m-11-2h0m-29-5h0m5 7h0m5-11h0m-10-7h0m33 8h0m2-14h0m-8 21h0m-6-8h0m-12 2h0m-6-3h0m1-8h0m30 0h0m-26 5h0m2 7h0m24 4h0m-7 6h0m-8-18h0m-21-19h0m68 34h0m-51-7h0m11-26h0m22 33h0m-43-2h0m3-11h0m-5 0h0m35 9h0m-41-10h0m7 1h0m54 23h0m-19-18h0m-27-1h0m32 21h0m-31-11h0m-11-9h0m19 12h0m0-10h0m-24-22h0m8 20h0m35-1h0m-18 3h0m-18-11h0m-2 25h0m5-11h0m-13-13h0m22-5h0m-16 5h0m11-8h0m-9 7h0m-5 1h0m19 9h0m0-1h0m19-8h0m-30 7h0m17-2h0m-28-24h0m28 23h0m17 24h0m-34-11h0m18-13h0m-15-16h0m11 8h0m-3 7h0m-6-17h0m-6 26h0m40-6h0m22 12h0m-62 2h0m35-21h0m-5 6h0m5 1h0m-32-14h0m8 23h0m-10-3h0m26-16h0m-33 9h0m19-7h0m8 12h0m-25-7h0m30 13h0m15-13h0m-19 18h0m1 7h0m-32-40h0m10 16h0m34-6h0m-25 1h0m47 5h0m-60-10h0m30 24h0m-17 4h0m-11-22h0m1-2h0m36-5h0m-6 24h0m-33-21h0m15 13h0m9 5h0m-25-21h0m3-7h0m5 2h0m-11 16h0m44 11h0m-40-12h0m16-11h0m-4 5h0m-10-1h0m33 25h0m-35-21h0m34 13h0m-32-5h0m30 3h0m-23 2h0m18-14h0m7 7h0m18-1h0m-54 18h0m0-18h0m6-12h0m24-1h0m-30 7h0m37 5h0m-4 1h0m6 2h0m-25 3h0m-6-13h0m0 3h0m17 3h0m3 0h0m35 21h0m-44-15h0m2-9h0m-7-4h0m5 1h0m-12 0h0m36 19h0m-9-9h0m0-1h0m4 24h0m-30-35h0m12 8h0m13 5h0m-17-17h0m19 16h0m-15-8h0m6 0h0m-15 4h0m-15 8h0m16-22h0m-3 10h0m26 24h0m-1-17h0m4 9h0m-1-7h0m-8 7h0m11 13h0m-42-23h0m16 1h0m-16-1h0m4-3h0m14 26h0m20-29h0" stroke="#2f72b4" stroke-width="2.1" stroke-linecap="round" opacity="0.82"/>
<path d="M143.3 575.1L179.4 583.2" stroke="#f4b8b8" stroke-width="2.0" opacity="0.45"/>
<path d="M143.3 575.1L179.4 583.2" stroke="#e24a4c" stroke-width="0.8"/>
<path d="M139.4 587.7h1.6M139.4 569.7h1.6" stroke="#aaa" stroke-width="0.6"/>
<path d="M189.8 564.6V591.8H230.0" fill="none" stroke="#c8c8c8" stroke-width="0.8"/>
<path d="M194.8 591.8v1.6M208.6 591.8v1.6M222.5 591.8v1.6" stroke="#aaa" stroke-width="0.6"/>
<path transform="scale(.5)" d="M431 1158h0m-21-8h0m39 7h0m-32 0h0m15 5h0m-4 7h0m-20-21h0m27 7h0m-12-18h0m-10 19h0m10 1h0m-17-6h0m4-7h0m20 30h0m-24-19h0m34-17h0m6 7h0m-51 11h0m27-17h0m-8 9h0m10 23h0m-2 2h0m-4-11h0m25-7h0m-24-2h0m6 2h0m-8-2h0m12-12h0m-7 15h0m-8-10h0m-13 13h0m24-2h0m-11-2h0m24 7h0m-19-20h0m-34 9h0m21 3h0m39 8h0m-52-8h0m17 10h0m28-7h0m-32 2h0m-2-13h0m15 10h0m-9 2h0m1 2h0m13-7h0m-4 12h0m10-19h0m-24 20h0m-14-16h0m18 11h0m1-4h0m2 2h0m12 7h0m-19-13h0m13 2h0m-26 5h0m14-19h0m41 1h0m-38 38h0m-12-29h0m14 3h0m-11 17h0m4-29h0m5 23h0m7-11h0m-6-16h0m4 20h0m-8-16h0m-12-5h0m38 5h0m-9 17h0m-17-18h0m16 19h0m-23 0h0m52-17h0m-8 9h0m-27 12h0m-21-12h0m0 5h0m24 16h0m-5-29h0m-6 10h0m25-2h0m-25-4h0m23 6h0m-25-12h0m11 6h0m-29 20h0m40-11h0m-16 1h0m6-15h0m-15 1h0m30 13h0m-22 2h0m-3 6h0m13-8h0m-8-15h0m-20 11h0m24 6h0m5 1h0m-28-10h0m8 2h0m20-4h0m-7 2h0m-13 4h0m-5 1h0m5 3h0m-2-3h0m15-13h0m1 27h0m10-11h0m11-2h0m-26 2h0m4-7h0m-7 3h0m-3 21h0m26-31h0m-20-3h0m3 14h0m0-3h0m-18 9h0m2 4h0m29-6h0m-6-1h0m16-18h0m-26 10h0m-9 4h0m29-11h0m-13 31h0m7-17h0m-26-7h0m38 25h0m-47-22h0m9 8h0m25 2h0m-31-4h0m27 17h0m-34-25h0m37 14h0m2-21h0m18-7h0m-48 24h0m-12-3h0m22-6h0m9 1h0m-16 3h0m13-6h0m28 16h0m-9-7h0m-23 0h0m3 0h0m7-6h0m15 1h0m-23 19h0m34-15h0m-35 10h0m12-2h0m-13-5h0m-7 7h0m-14-11h0m29-7h0m-5 8h0m-5-14h0m-6 21h0m40-8h0m-3 2h0m-50-3h0m35-8h0m13 0h0m-16 5h0m7 7h0m3 4h0m-15 6h0m-3-18h0m-2-19h0m14 34h0m-31-7h0m15-26h0m19 33h0m-19-2h0m12-11h0m-5 0h0m-15 9h0m0-10h0m5 1h0m2 23h0m1-18h0m9-1h0m14 21h0m-28-11h0m4-9h0m16 12h0m-26-10h0m18-22h0m16 20h0m4-1h0m-25 3h0m5-11h0m-1 25h0m-16-11h0m-13-13h0m8-5h0m27 5h0m-10-8h0m34 7h0m-32 1h0m22 9h0m-7-1h0m-32-8h0m4 7h0m36-2h0m-16-24h0m-23 23h0m33 24h0m-25-11h0m12-13h0m4-16h0m-6 8h0m16 7h0m-18-17h0m-3 26h0m12-6h0m-2 12h0m-28 2h0m44-21h0m-16 6h0m-4 1h0m-2-14h0m-1 23h0m8-3h0m-24-16h0m37 9h0m-12-7h0m-8 12h0m6-7h0m-18 13h0m5-13h0m7 18h0m-13 7h0m3-40h0m-1 16h0m-16-6h0m17 1h0m5 5h0m31-10h0m-42 24h0m21 4h0m-8-22h0m9-2h0m4-5h0m-22 24h0m6-21h0m17 13h0m-12 5h0m-3-21h0m12-7h0m-9 2h0m24 16h0m-12 11h0m-2-12h0m22-11h0m5 5h0m-44-1h0m16 25h0m-24-21h0m29 13h0m-21-5h0m25 3h0m-30 2h0m12-14h0m-6 7h0m17-1h0m-24 18h0m17-18h0m-5-12h0m20-1h0m-26 7h0m20 5h0m16 1h0m-35 2h0m11 3h0m-21-13h0m13 3h0m37 3h0m-20 0h0m-7 21h0m-13-15h0m10-9h0m-14-4h0m22 1h0m2 0h0m-18 19h0m7-9h0m-6-1h0m33 24h0m-26-35h0m16 8h0m-20 5h0m-2-17h0m3 16h0m5-8h0m-1 0h0m-23 4h0m29 8h0m2-22h0m-22 10h0m27 24h0m-17-17h0m18 9h0m2-7h0m4 7h0m-25 13h0m-18-23h0m7 1h0m14-1h0m19-3h0m-19 26h0m9-29h0" stroke="#2f72b4" stroke-width="2.1" stroke-linecap="round" opacity="0.82"/>
<path d="M191.9 578.2L226.0 577.6" stroke="#f4b8b8" stroke-width="2.0" opacity="0.45"/>
<path d="M191.9 578.2L226.0 577.6" stroke="#e24a4c" stroke-width="0.8"/>
<path d="M188.2 587.7h1.6M188.2 569.7h1.6" stroke="#aaa" stroke-width="0.6"/>
<path d="M238.5 564.6V591.8H278.7" fill="none" stroke="#c8c8c8" stroke-width="0.8"/>
<path d="M242.6 591.8v1.6M256.1 591.8v1.6M269.7 591.8v1.6" stroke="#aaa" stroke-width="0.6"/>
<path transform="scale(.5)" d="M512 1158h0m21-8h0m11 7h0m-39 0h0m26 5h0m-30 7h0m21-21h0m-4 7h0m-6-18h0m24 19h0m1 1h0m-54-6h0m29-7h0m0 30h0m8-19h0m25-17h0m-42 7h0m14 11h0m-11-17h0m-22 9h0m17 23h0m26 2h0m-13-11h0m0-7h0m-10-2h0m26 2h0m-21-2h0m14-12h0m-3 15h0m6-10h0m-17 13h0m-6-2h0m7-2h0m4 7h0m-3-20h0m-2 9h0m19 3h0m-21 8h0m-10-8h0m22 10h0m17-7h0m-21 2h0m-18-13h0m43 10h0m-23 2h0m-29 2h0m11-7h0m13 12h0m3-19h0m18 20h0m-11-16h0m-23 11h0m12-4h0m12 2h0m-10 7h0m11-13h0m-22 2h0m13 5h0m8-19h0m22 1h0m-14 38h0m-31-29h0m19 3h0m-18 17h0m-13-29h0m54 23h0m-18-11h0m-18-16h0m9 20h0m-23-16h0m29-5h0m11 5h0m-31 17h0m16-18h0m2 19h0m-15 0h0m38-17h0m-30 9h0m-2 12h0m6-12h0m-20 5h0m16 16h0m10-29h0m-11 10h0m12-2h0m-37-4h0m27 6h0m15-12h0m-43 6h0m21 20h0m-9-11h0m22 1h0m-18-15h0m20 1h0m22 13h0m-42 2h0m1 6h0m29-8h0m-9-15h0m-1 11h0m6 6h0m3 1h0m-3-10h0m-18 2h0m10-4h0m-9 2h0m-12 4h0m13 1h0m7 3h0m-5-3h0m3-13h0m-5 27h0m10-11h0m-20-2h0m3 2h0m10-7h0m8 3h0m-8 21h0m-11-31h0m-16-3h0m38 14h0m-1-3h0m-17 9h0m13 4h0m-5-6h0m-9-1h0m-2-18h0m10 10h0m-25 4h0m54-11h0m-29 31h0m-5-17h0m35-7h0m-21 25h0m-15-22h0m14 8h0m-34 2h0m22-4h0m10 17h0m-10-25h0m21 14h0m-10-21h0m5-7h0m-21 24h0m17-3h0m12-6h0m-7 1h0m0 3h0m-7-6h0m6 16h0m-6-7h0m-14 0h0m18 0h0m-1-6h0m12 1h0m-25 19h0m3-15h0m-18 10h0m15-2h0m12-5h0m-17 7h0m-2-11h0m33-7h0m-23 8h0m-8-14h0m18 21h0m-8-8h0m-4 2h0m16-3h0m8-8h0m-38 0h0m10 5h0m-1 7h0m14 4h0m-23 6h0m37-18h0m-13-19h0m-4 34h0m4-7h0m-30-26h0m-5 33h0m7-2h0m22-11h0m-2 0h0m-11 9h0m24-10h0m-3 1h0m-30 23h0m36-18h0m1-1h0m14 21h0m-31-11h0m6-9h0m-13 12h0m-20-10h0m37-22h0m0 20h0m-10-1h0m17 3h0m-25-11h0m4 25h0m-24-11h0m49-13h0m-7-5h0m-21 5h0m-8-8h0m28 7h0m10 1h0m-26 9h0m20-1h0m-9-8h0m-18 7h0m8-2h0m15-24h0m4 23h0m-1 24h0m-21-11h0m22-13h0m8-16h0m1 8h0m6 7h0m0-17h0m-30 26h0m2-6h0m-8 12h0m13 2h0m0-21h0m15 6h0m-27 1h0m-7-14h0m40 23h0m-26-3h0m4-16h0m-22 9h0m26-7h0m3 12h0m14-7h0m-44 13h0m21-13h0m6 18h0m-8 7h0m-7-40h0m-2 16h0m22-6h0m-5 1h0m16 5h0m-17-10h0m-7 24h0m3 4h0m-1-22h0m4-2h0m-34-5h0m18 24h0m8-21h0m0 13h0m3 5h0m10-21h0m-24-7h0m2 2h0m1 16h0m-3 11h0m26-12h0m-9-11h0m3 5h0m-29-1h0m12 25h0m-16-21h0m24 13h0m18-5h0m0 3h0m-7 2h0m-21-14h0m5 7h0m31-1h0m-30 18h0m2-18h0m-9-12h0m19-1h0m0 7h0m23 5h0m-29 1h0m4 2h0m-4 3h0m-13-13h0m5 3h0m-6 3h0m-1 0h0m22 21h0m-9-15h0m16-9h0m-20-4h0m6 1h0m4 0h0m7 19h0m-27-9h0m45-1h0m0 24h0m-29-35h0m2 8h0m9 5h0m-10-17h0m16 16h0m-19-8h0m30 0h0m-14 4h0m-6 8h0m-23-22h0m-2 10h0m12 24h0m33-17h0m-21 9h0m28-7h0m-48 7h0m-4 13h0m26-23h0m-18 1h0m17-1h0m17-3h0m-18 26h0m-14-29h0" stroke="#2f72b4" stroke-width="2.1" stroke-linecap="round" opacity="0.82"/>
<path d="M241.4 578.1L276.2 577.7" stroke="#f4b8b8" stroke-width="2.0" opacity="0.45"/>
<path d="M241.4 578.1L276.2 577.7" stroke="#e24a4c" stroke-width="0.8"/>
<path d="M236.9 587.7h1.6M236.9 569.7h1.6" stroke="#aaa" stroke-width="0.6"/>
<path d="M287.2 564.6V591.8H327.4" fill="none" stroke="#c8c8c8" stroke-width="0.8"/>
<path d="M289.3 591.8v1.6M311.8 591.8v1.6" stroke="#aaa" stroke-width="0.6"/>
<path transform="scale(.5)" d="M624 1158h0m-2-8h0m6 7h0m14 0h0m-25 5h0m-10 7h0m-9-21h0m26 7h0m25-18h0m-20 19h0m-15 1h0m-2-6h0m38-7h0m-46 30h0m4-19h0m13-17h0m-4 7h0m-11 11h0m37-17h0m-37 9h0m17 23h0m-8 2h0m-15-11h0m18-7h0m-1-2h0m-17 2h0m12-2h0m17-12h0m-43 15h0m35-10h0m-22 13h0m10-2h0m19-2h0m-25 7h0m37-20h0m-31 9h0m9 3h0m-14 8h0m-8-8h0m9 10h0m3-7h0m10 2h0m-18-13h0m24 10h0m-15 2h0m-21 2h0m25-7h0m-4 12h0m13-19h0m-19 20h0m-9-16h0m13 11h0m5-4h0m-3 2h0m4 7h0m31-13h0m-9 2h0m-35 5h0m-6-19h0m19 1h0m-15 38h0m33-29h0m-3 3h0m-26 17h0m4-29h0m-11 23h0m3-11h0m23-16h0m-22 20h0m29-16h0m-12-5h0m-4 5h0m6 17h0m-19-18h0m11 19h0m-1 0h0m16-17h0m2 9h0m-31 12h0m-11-12h0m1 5h0m-1 16h0m26-29h0m-7 10h0m33-2h0m-14-4h0m-20 6h0m29-12h0m6 6h0m-48 20h0m11-11h0m22 1h0m-4-15h0m4 1h0m-15 13h0m-7 2h0m-10 6h0m-1-8h0m15-15h0m15 11h0m-9 6h0m3 1h0m15-10h0m-8 2h0m26-4h0m-26 2h0m6 4h0m-19 1h0m-19 3h0m17-3h0m12-13h0m-32 27h0m27-11h0m4-2h0m-10 2h0m13-7h0m7 3h0m-26 21h0m27-31h0m-20-3h0m2 14h0m15-3h0m-29 9h0m4 4h0m6-6h0m4-1h0m34-18h0m-35 10h0m3 4h0m21-11h0m-31 31h0m14-17h0m-10-7h0m-14 25h0m29-22h0m8 8h0m-15 2h0m0-4h0m-19 17h0m19-25h0m-13 14h0m23-21h0m4-7h0m-20 24h0m3-3h0m3-6h0m-8 1h0m3 3h0m12-6h0m-9 16h0m7-7h0m-5 0h0m-8 0h0m42-6h0m-32 1h0m-25 19h0m11-15h0m9 10h0m5-2h0m-15-5h0m0 7h0m2-11h0m-1-7h0m18 8h0m-8-14h0m5 21h0m-6-8h0m7 2h0m-16-3h0m7-8h0m1 0h0m2 5h0m0 7h0m-4 4h0m-8 6h0m10-18h0m29-19h0m-28 34h0m10-7h0m-11-26h0m-23 33h0m17-2h0m18-11h0m-19 0h0m6 9h0m7-10h0m-7 1h0m-17 23h0m5-18h0m16-1h0m5 21h0m-6-11h0m-11-9h0m15 12h0m-15-10h0m10-22h0m7 20h0m-1-1h0m-10 3h0m7-11h0m-13 25h0m2-11h0m14-13h0m11-5h0m-27 5h0m27-8h0m-12 7h0m-3 1h0m2 9h0m10-1h0m-12-8h0m2 7h0m-15-2h0m50-24h0m-34 23h0m-30 24h0m34-11h0m-14-13h0m14-16h0m11 8h0m-46 7h0m25-17h0m-9 26h0m24-6h0m-6 12h0m-12 2h0m2-21h0m1 6h0m-10 1h0m25-14h0m-12 23h0m4-3h0m4-16h0m-30 9h0m55-7h0m-46 12h0m32-7h0m-41 13h0m26-13h0m-28 18h0m14 7h0m30-40h0m-19 16h0m-7-6h0m-12 1h0m15 5h0m24-10h0m-36 24h0m-1 4h0m52-22h0m-46-2h0m21-5h0m-27 24h0m32-21h0m-19 13h0m-3 5h0m7-21h0m29-7h0m2 2h0m-45 16h0m6 11h0m10-12h0m8-11h0m8 5h0m-1-1h0m-39 25h0m25-21h0m-14 13h0m7-5h0m0 3h0m-27 2h0m35-14h0m-13 7h0m-15-1h0m25 18h0m15-18h0m-19-12h0m37-1h0m-55 7h0m11 5h0m13 1h0m4 2h0m6 3h0m-3-13h0m-2 3h0m-3 3h0m-31 0h0m12 21h0m9-15h0m11-9h0m-12-4h0m14 1h0m-23 0h0m8 19h0m15-9h0m-18-1h0m-23 24h0m35-35h0m7 8h0m-16 5h0m17-17h0m-25 16h0m27-8h0m-18 0h0m4 4h0m10 8h0m3-22h0m17 10h0m-43 24h0m-1-17h0m24 9h0m-19-7h0m-16 7h0m-6 13h0m12-23h0m6 1h0m6-1h0m7-3h0m-25 26h0m29-29h0" stroke="#2f72b4" stroke-width="2.1" stroke-linecap="round" opacity="0.82"/>
<path d="M290.3 583.7L325.1 571.0" stroke="#f4b8b8" stroke-width="2.0" opacity="0.45"/>
<path d="M290.3 583.7L325.1 571.0" stroke="#e24a4c" stroke-width="0.8"/>
<path d="M285.6 587.7h1.6M285.6 569.7h1.6" stroke="#aaa" stroke-width="0.6"/>
<path d="M335.9 564.6V591.8H376.1" fill="none" stroke="#c8c8c8" stroke-width="0.8"/>
<path d="M344.7 591.8v1.6M370.9 591.8v1.6" stroke="#aaa" stroke-width="0.6"/>
<path transform="scale(.5)" d="M707 1158h0m12-8h0m-13 7h0m-7 0h0m-1 5h0m-3 7h0m31-21h0m-2 7h0m17-18h0m-34 19h0m0 1h0m1-6h0m23-7h0m-20 30h0m1-19h0m25-17h0m-29 7h0m-9 11h0m37-17h0m0 9h0m-47 23h0m29 2h0m-26-11h0m45-7h0m-8-2h0m-24 2h0m25-2h0m17-12h0m-42 15h0m23-10h0m-24 13h0m0-2h0m26-2h0m-16 7h0m22-20h0m-32 9h0m39 3h0m-59 8h0m27-8h0m-4 10h0m17-7h0m-22 2h0m4-13h0m34 10h0m-18 2h0m-18 2h0m13-7h0m-19 12h0m34-19h0m-47 20h0m37-16h0m-24 11h0m28-4h0m-20 2h0m0 7h0m2-13h0m15 2h0m-6 5h0m19-19h0m4 1h0m-48 38h0m22-29h0m2 3h0m-11 17h0m41-29h0m-32 23h0m2-11h0m19-16h0m-28 20h0m30-16h0m-4-5h0m-20 5h0m-21 17h0m27-18h0m-21 19h0m11 0h0m20-17h0m-12 9h0m9 12h0m-5-12h0m-5 5h0m-18 16h0m29-29h0m-12 10h0m-7-2h0m5-4h0m11 6h0m-3-12h0m3 6h0m-31 20h0m37-11h0m-28 1h0m27-15h0m-11 1h0m-13 13h0m3 2h0m-18 6h0m16-8h0m22-15h0m-10 11h0m-1 6h0m-7 1h0m14-10h0m-11 2h0m17-4h0m-1 2h0m-7 4h0m1 1h0m1 3h0m-24-3h0m20-13h0m-12 27h0m-7-11h0m25-2h0m-8 2h0m-14-7h0m25 3h0m-21 21h0m14-31h0m-9-3h0m14 14h0m8-3h0m-26 9h0m-5 4h0m22-6h0m2-1h0m2-18h0m-4 10h0m-18 4h0m21-11h0m-22 31h0m-10-17h0m33-7h0m-27 25h0m3-22h0m4 8h0m21 2h0m-29-4h0m-9 17h0m33-25h0m-19 14h0m17-21h0m0-7h0m-15 24h0m-6-3h0m3-6h0m32 1h0m-46 3h0m24-6h0m0 16h0m8-7h0m1 0h0m-45 0h0m43-6h0m-2 1h0m-31 19h0m38-15h0m-25 10h0m2-2h0m14-5h0m-10 7h0m4-11h0m14-7h0m-11 8h0m7-14h0m-26 21h0m20-8h0m-10 2h0m20-3h0m11-8h0m-10 0h0m-20 5h0m-8 7h0m6 4h0m-11 6h0m15-18h0m33-19h0m-45 34h0m7-7h0m36-26h0m-43 33h0m11-2h0m14-11h0m9 0h0m-10 9h0m3-10h0m-17 1h0m-17 23h0m10-18h0m19-1h0m-27 21h0m23-11h0m1-9h0m-37 12h0m2-10h0m44-22h0m-5 20h0m-15-1h0m2 3h0m24-11h0m-17 25h0m-3-11h0m24-13h0m-10-5h0m13 5h0m-25-8h0m20 7h0m8 1h0m-38 9h0m20-1h0m-19-8h0m5 7h0m-9-2h0m44-24h0m-32 23h0m-36 24h0m28-11h0m-6-13h0m31-16h0m-5 8h0m9 7h0m-12-17h0m-21 26h0m26-6h0m-36 12h0m22 2h0m3-21h0m4 6h0m0 1h0m22-14h0m-33 23h0m0-3h0m14-16h0m0 9h0m-8-7h0m0 12h0m13-7h0m-43 13h0m31-13h0m-4 18h0m-16 7h0m36-40h0m-21 16h0m-6-6h0m13 1h0m-8 5h0m21-10h0m-37 24h0m-10 4h0m41-22h0m14-2h0m-18-5h0m-32 24h0m42-21h0m-16 13h0m-3 5h0m14-21h0m14-7h0m-8 2h0m-26 16h0m-6 11h0m5-12h0m4-11h0m12 5h0m8-1h0m-32 25h0m27-21h0m-29 13h0m37-5h0m-25 3h0m-27 2h0m36-14h0m-23 7h0m16-1h0m-18 18h0m26-18h0m7-12h0m17-1h0m-17 7h0m0 5h0m-1 1h0m-15 2h0m-7 3h0m14-13h0m-10 3h0m11 3h0m-21 0h0m-5 21h0m27-15h0m-10-9h0m5-4h0m1 1h0m12 0h0m-32 19h0m8-9h0m15-1h0m-17 24h0m19-35h0m4 8h0m-26 5h0m29-17h0m-20 16h0m19-8h0m8 0h0m-21 4h0m30 8h0m-2-22h0m-9 10h0m-41 24h0m20-17h0m-5 9h0m9-7h0m-13 7h0m-23 13h0m39-23h0m-1 1h0m0-1h0m21-3h0m-56 26h0m45-29h0" stroke="#2f72b4" stroke-width="2.1" stroke-linecap="round" opacity="0.82"/>
<path d="M338.4 586.5L373.7 570.4" stroke="#f4b8b8" stroke-width="2.0" opacity="0.45"/>
<path d="M338.4 586.5L373.7 570.4" stroke="#e24a4c" stroke-width="0.8"/>
<path d="M334.3 587.7h1.6M334.3 569.7h1.6" stroke="#aaa" stroke-width="0.6"/>
<path d="M384.6 564.6V591.8H424.8" fill="none" stroke="#c8c8c8" stroke-width="0.8"/>
<path d="M400.1 591.8v1.6M419.1 591.8v1.6" stroke="#aaa" stroke-width="0.6"/>
<path transform="scale(.5)" d="M792 1158h0m-9-8h0m22 7h0m-11 0h0m6 5h0m0 7h0m-8-21h0m27 7h0m21-18h0m-50 19h0m-11 1h0m50-6h0m-51-7h0m3 30h0m15-19h0m20-17h0m0 7h0m-17 11h0m-20-17h0m50 9h0m-15 23h0m-36 2h0m-3-11h0m9-7h0m6-2h0m29 2h0m-18-2h0m8-12h0m-11 15h0m-13-10h0m-11 13h0m30-2h0m-14-2h0m-2 7h0m27-20h0m-4 9h0m-12 3h0m-1 8h0m0-8h0m-4 10h0m-7-7h0m11 2h0m6-13h0m-2 10h0m-6 2h0m-11 2h0m5-7h0m10 12h0m14-19h0m-20 20h0m38-16h0m-8 11h0m-16-4h0m-23 2h0m0 7h0m16-13h0m26 2h0m-34 5h0m41-19h0m8 1h0m-45 38h0m-6-29h0m43 3h0m-48 17h0m16-29h0m30 23h0m-9-11h0m-21-16h0m-12 20h0m7-16h0m39-5h0m10 5h0m-54 17h0m29-18h0m-33 19h0m23 0h0m0-17h0m17 9h0m-34 12h0m11-12h0m-16 5h0m-4 16h0m9-29h0m0 10h0m36-2h0m-41-4h0m14 6h0m10-12h0m-23 6h0m1 20h0m7-11h0m-19 1h0m62-15h0m-35 1h0m-18 13h0m10 2h0m-17 6h0m3-8h0m29-15h0m-24 11h0m-5 6h0m31 1h0m-17-10h0m24 2h0m-12-4h0m-21 2h0m-6 4h0m3 1h0m-6 3h0m5-3h0m21-13h0m-20 27h0m7-11h0m20-2h0m-22 2h0m13-7h0m-11 3h0m-19 21h0m16-31h0m52-3h0m-48 14h0m18-3h0m-32 9h0m9 4h0m39-6h0m-39-1h0m13-18h0m-14 10h0m17 4h0m20-11h0m-41 31h0m26-17h0m-21-7h0m-4 25h0m12-22h0m19 8h0m-20 2h0m-2-4h0m-4 17h0m-9-25h0m3 14h0m36-21h0m-24-7h0m5 24h0m1-3h0m0-6h0m-9 1h0m-1 3h0m20-6h0m-18 16h0m1-7h0m-1 0h0m-9 0h0m11-6h0m3 1h0m-16 19h0m3-15h0m-5 10h0m-1-2h0m9-5h0m5 7h0m-10-11h0m50-7h0m-32 8h0m-7-14h0m-11 21h0m10-8h0m-6 2h0m7-3h0m1-8h0m4 0h0m-4 5h0m24 7h0m-32 4h0m-13 6h0m33-18h0m16-19h0m-31 34h0m-13-7h0m38-26h0m-23 33h0m-7-2h0m9-11h0m-7 0h0m-10 9h0m16-10h0m5 1h0m-23 23h0m1-18h0m3-1h0m6 21h0m4-11h0m-7-9h0m4 12h0m0-10h0m34-22h0m-27 20h0m7-1h0m-10 3h0m7-11h0m-20 25h0m10-11h0m12-13h0m10-5h0m-17 5h0m-5-8h0m48 7h0m-35 1h0m-19 9h0m9-1h0m50-8h0m-65 7h0m35-2h0m2-24h0m-18 23h0m0 24h0m16-11h0m-17-13h0m-15-16h0m60 8h0m-31 7h0m23-17h0m-31 26h0m-12-6h0m5 12h0m-9 2h0m33-21h0m-20 6h0m-1 1h0m-12-14h0m46 23h0m-45-3h0m26-16h0m-19 9h0m5-7h0m-9 12h0m-1-7h0m-3 13h0m15-13h0m-14 18h0m-8 7h0m26-40h0m7 16h0m-35-6h0m19 1h0m-9 5h0m22-10h0m-8 24h0m-27 4h0m27-22h0m-13-2h0m1-5h0m1 24h0m27-21h0m-13 13h0m-23 5h0m42-21h0m-23-7h0m5 2h0m-26 16h0m11 11h0m9-12h0m1-11h0m-14 5h0m33-1h0m-35 25h0m-2-21h0m11 13h0m-7-5h0m-6 3h0m45 2h0m-18-14h0m-15 7h0m-2-1h0m-13 18h0m30-18h0m38-12h0m-61-1h0m33 7h0m-23 5h0m5 1h0m-2 2h0m-15 3h0m29-13h0m19 3h0m-37 3h0m-6 0h0m-6 21h0m31-15h0m-10-9h0m-6-4h0m-7 1h0m10 0h0m-14 19h0m-4-9h0m-5-1h0m29 24h0m4-35h0m4 8h0m-20 5h0m46-17h0m-46 16h0m4-8h0m25 0h0m-22 4h0m-13 8h0m52-22h0m-53 10h0m5 24h0m-9-17h0m6 9h0m23-7h0m-26 7h0m-7 13h0m8-23h0m4 1h0m19-1h0m-17-3h0m-11 26h0m25-29h0" stroke="#2f72b4" stroke-width="2.1" stroke-linecap="round" opacity="0.82"/>
<path d="M386.9 581.5L423.0 571.1" stroke="#f4b8b8" stroke-width="2.0" opacity="0.45"/>
<path d="M386.9 581.5L423.0 571.1" stroke="#e24a4c" stroke-width="0.8"/>
<path d="M383.0 587.7h1.6M383.0 569.7h1.6" stroke="#aaa" stroke-width="0.6"/>
<path d="M433.4 564.6V591.8H473.6" fill="none" stroke="#c8c8c8" stroke-width="0.8"/>
<path d="M439.4 591.8v1.6M465.9 591.8v1.6" stroke="#aaa" stroke-width="0.6"/>
<path d="M435.19 591.8v-1.6h1.83v1.6zM437.01 591.8v-1.6h1.83v1.6zM438.84 591.8v-3.3h1.83v3.3zM440.67 591.8v-3.5h1.83v3.5zM442.50 591.8v-4.8h1.83v4.8zM444.32 591.8v-3.8h1.83v3.8zM446.15 591.8v-8.6h1.83v8.6zM447.98 591.8v-8.0h1.83v8.0zM449.81 591.8v-19.6h1.83v19.6zM451.63 591.8v-24.5h1.83v24.5zM453.46 591.8v-22.1h1.83v22.1zM455.29 591.8v-16.4h1.83v16.4zM457.11 591.8v-14.4h1.83v14.4zM458.94 591.8v-9.3h1.83v9.3zM460.77 591.8v-5.5h1.83v5.5zM462.60 591.8v-7.1h1.83v7.1zM464.42 591.8v-4.5h1.83v4.5zM466.25 591.8v-3.2h1.83v3.2zM468.08 591.8v-1.6h1.83v1.6zM469.91 591.8v-1.3h1.83v1.3z" fill="#a9cbe8" stroke="#5b7fa3" stroke-width="0.35"/>
<path d="M436.1,590.5 L437.9,589.8 L439.8,588.8 L441.6,588.2 L443.4,587.2 L445.2,586.4 L447.1,583.5 L448.9,580.1 L450.7,574.4 L452.5,571.2 L454.4,571.3 L456.2,574.5 L458.0,578.1 L459.9,581.7 L461.7,584.4 L463.5,585.7 L465.3,587.2 L467.2,588.4 L469.0,589.8 L470.8,590.6" fill="none" stroke="#7aa8d8" stroke-width="0.8" opacity="0.8"/>
<path d="M431.8 587.7h1.6M431.8 569.7h1.6" stroke="#aaa" stroke-width="0.6"/>
<text x="501.9" y="578.8" font-size="8.5" text-anchor="middle" fill="#1a1a1a" stroke="#1a1a1a" stroke-width="0.08" font-family="Liberation Sans, sans-serif">0.21 <tspan letter-spacing="0.7" font-size="9">**</tspan></text>
<path d="M43.6 597.1V624.3H83.8" fill="none" stroke="#c8c8c8" stroke-width="0.8"/>
<path d="M51.8 624.3v1.6M63.1 624.3v1.6M74.5 624.3v1.6" stroke="#aaa" stroke-width="0.6"/>
<path transform="scale(.5)" d="M134 1210h0m-14 25h0m17-13h0m6 23h0m-37-33h0m37 16h0m-24-26h0m-26 6h0m-2-1h0m45 10h0m-11 13h0m1-7h0m6-24h0m-16 12h0m-4 23h0m-4-19h0m27 13h0m-43-6h0m21-2h0m9 6h0m17 6h0m-18 13h0m9-24h0m-24-1h0m14 18h0m9-5h0m7-17h0m-28-9h0m21 25h0m-11-7h0m4-3h0m11 18h0m-12-20h0m17 9h0m-9-26h0m-4 19h0m-1-15h0m18 18h0m-34-3h0m12-10h0m-19 4h0m61 9h0m-30-14h0m-23 23h0m20-24h0m6 2h0m-6 32h0m2-24h0m-27-15h0m33 6h0m-15 25h0m10-4h0m-3-10h0m8 14h0m11-3h0m-7-9h0m-5-3h0m-14 3h0m-9 7h0m-18-29h0m39 2h0m-11 10h0m19-2h0m7 22h0m-13-13h0m-27-12h0m-8 14h0m33 6h0m-10-1h0m17 6h0m-47-14h0m37-13h0m19 38h0m2-30h0m-15 18h0m-3 10h0m3-18h0m-17-14h0m9 33h0m-38-36h0m56 14h0m8 4h0m-24 2h0m-26 15h0m40 0h0m-7-19h0m-17-23h0m-12 18h0m52-2h0m-7 19h0m-13-13h0m-19 9h0m19-24h0m-7 10h0m-6 5h0m6 6h0m9 15h0m-19-16h0m12-9h0m-10 0h0m8-4h0m10 5h0m-44 0h0m32-14h0m-22-4h0m28 8h0m-6 26h0m-41-12h0m31-4h0m13 17h0m-12-7h0m23-15h0m-15 18h0m2-3h0m5-28h0m-10 17h0m0-1h0m3 21h0m4 1h0m-23-19h0m1-17h0m23-5h0m5 13h0m-4 12h0m-29-9h0m28 29h0m-23-26h0m6 8h0m12 9h0m-10-1h0m-4-11h0m6 6h0m13-4h0m0 6h0m-13-4h0m10-1h0m-19-10h0m24 8h0m-1 21h0m-4-22h0m-11 7h0m1-18h0m6 22h0m0-17h0m14 3h0m-30 11h0m11-31h0m35 21h0m-3-7h0m-15 7h0m-36-12h0m27 17h0m17 10h0m-13-3h0m-35-26h0m18 12h0m39 7h0m-15 10h0m-4-12h0m-8-16h0m-25 1h0m32 13h0m-36-16h0m31 15h0m8 5h0m0 17h0m-25-28h0m17 14h0m3-17h0m-9 23h0m-28-2h0m29-11h0m7 9h0m1-10h0m-7 23h0m-21-23h0m6-10h0m48 8h0m-31 8h0m-31 2h0m32-6h0m21 0h0m-36-4h0m-17 16h0m15-13h0m19-10h0m-6 10h0m-10 2h0m20-4h0m-15 22h0m25-8h0m-40-10h0m29-1h0m19 21h0m-14-5h0m-41-15h0m36-21h0m1-1h0m-14 9h0m12-4h0m3 25h0m-13 0h0m-32-28h0m18 20h0m-20 8h0m40-5h0m-30-25h0m36 5h0m-5 28h0m-10-13h0m-6 7h0m31-25h0m-29 42h0m-24-25h0m10 0h0m33 18h0m-20-40h0m-12 35h0m-6-12h0m38-12h0m-15 29h0m2-18h0m12 3h0m-22 3h0m42 16h0m-38-38h0m4 22h0m12 4h0m-7-16h0m-22-3h0m52 28h0m-19-19h0m-12-9h0m-12 6h0m15 8h0m-21-5h0m21-7h0m2-9h0m4 31h0m-8 2h0m-7-2h0m-29-28h0m45-5h0m3 30h0m-12 3h0m13-17h0m-24 2h0m24 5h0m-4 6h0m-31-8h0m10-24h0m3 35h0m21-9h0m2-18h0m-38 3h0m32 20h0m-10-10h0m-2 12h0m-11-16h0m14 7h0m16-10h0m-5 30h0m-2-33h0m-10 13h0m-8-10h0m14 29h0m14-18h0m-5 7h0m-12-16h0m9 7h0m5 18h0m-14-14h0m14-17h0m0 22h0m-4-3h0m-7-13h0m-1-7h0m0 10h0m-36 3h0m35 10h0m6-14h0m-1 3h0m13 22h0m-8-1h0m-7-33h0m4 24h0m1 2h0m2-19h0m-7 1h0m9 2h0m8-3h0m-6-3h0m-42 6h0m37 4h0m-2-3h0m-16 13h0m14-3h0m-6 5h0m12-7h0m-4-9h0m-20-17h0m23 38h0m-6-31h0m4 21h0m-1-11h0m-1-19h0m0 11h0m-19-6h0m30 36h0m-19-15h0m-26 7h0m24-11h0m9 12h0m-1 9h0m-12-24h0m16 0h0m-15 20h0m-16-15h0m29 6h0m-4-15h0" stroke="#2f72b4" stroke-width="2.1" stroke-linecap="round" opacity="0.82"/>
<path d="M45.5 608.2L81.2 614.5" stroke="#f4b8b8" stroke-width="2.0" opacity="0.45"/>
<path d="M45.5 608.2L81.2 614.5" stroke="#e24a4c" stroke-width="0.8"/>
<path d="M42.0 616.9h1.6M42.0 600.0h1.6" stroke="#aaa" stroke-width="0.6"/>
<text x="41.4" y="618.3" font-size="4.2" text-anchor="end" fill="#333" font-family="Liberation Sans, sans-serif">20</text>
<text x="41.4" y="601.4" font-size="4.2" text-anchor="end" fill="#333" font-family="Liberation Sans, sans-serif">40</text>
<text x="51.8" y="629.9" font-size="4.2" text-anchor="middle" fill="#333" font-family="Liberation Sans, sans-serif">50</text>
<text x="63.1" y="629.9" font-size="4.2" text-anchor="middle" fill="#333" font-family="Liberation Sans, sans-serif">60</text>
<text x="74.5" y="629.9" font-size="4.2" text-anchor="middle" fill="#333" font-family="Liberation Sans, sans-serif">70</text>
<path d="M92.3 597.1V624.3H132.5" fill="none" stroke="#c8c8c8" stroke-width="0.8"/>
<path d="M92.8 624.3v1.6M117.3 624.3v1.6" stroke="#aaa" stroke-width="0.6"/>
<path transform="scale(.5)" d="M221 1210h0m26 25h0m-24-13h0m-24 23h0m21-33h0m34 16h0m-27-26h0m-4 6h0m-16-1h0m-4 10h0m28 13h0m-3-7h0m11-24h0m22 12h0m-23 23h0m-17-19h0m6 13h0m16-6h0m-19-2h0m9 6h0m-5 6h0m13 13h0m-13-24h0m2-1h0m27 18h0m-16-5h0m-1-17h0m-4-9h0m-3 25h0m13-7h0m9-3h0m-30 18h0m27-20h0m-15 9h0m-12-26h0m-9 19h0m28-15h0m-18 18h0m-4-3h0m10-10h0m7 4h0m-39 9h0m45-14h0m-11 23h0m3-24h0m-3 2h0m17 32h0m-33-24h0m31-15h0m-12 6h0m-5 25h0m0-4h0m-22-10h0m9 14h0m8-3h0m-8-9h0m-11-3h0m31 3h0m-18 7h0m2-29h0m-3 2h0m20 10h0m-11-2h0m13 22h0m-3-13h0m-36-12h0m36 14h0m0 6h0m-22-1h0m14 6h0m-3-14h0m9-13h0m2 38h0m-33-30h0m25 18h0m-3 10h0m-5-18h0m3-14h0m1 33h0m1-36h0m12 14h0m-22 4h0m26 2h0m-11 15h0m2 0h0m-9-19h0m-7-23h0m16 18h0m-9-2h0m-8 19h0m8-13h0m-14 9h0m20-24h0m8 10h0m-13 5h0m9 6h0m-15 15h0m18-16h0m10-9h0m-22 0h0m23-4h0m-32 5h0m-15 0h0m32-14h0m-10-4h0m9 8h0m-7 26h0m23-12h0m-16-4h0m-1 17h0m-5-7h0m-8-15h0m32 18h0m-46-3h0m44-28h0m-21 17h0m2-1h0m13 21h0m-15 1h0m1-19h0m6-17h0m-10-5h0m12 13h0m-13 12h0m14-9h0m-33 29h0m8-26h0m-10 8h0m9 9h0m-21-1h0m54-11h0m-17 6h0m17-4h0m-20 6h0m6-4h0m-13-1h0m32-10h0m-7 8h0m-25 21h0m10-22h0m1 7h0m9-18h0m-29 22h0m20-17h0m8 3h0m-2 11h0m-4-31h0m-5 21h0m13-7h0m-14 7h0m9-12h0m-13 17h0m-9 10h0m13-3h0m15-26h0m-14 12h0m19 7h0m-27 10h0m15-12h0m9-16h0m2 1h0m0 13h0m8-16h0m-20 15h0m6 5h0m-28 17h0m9-28h0m9 14h0m1-17h0m1 23h0m26-2h0m-44-11h0m-7 9h0m36-10h0m-10 23h0m-14-23h0m9-10h0m16 8h0m-4 8h0m14 2h0m-48-6h0m26 0h0m7-4h0m23 16h0m-47-13h0m-8-10h0m27 10h0m9 2h0m4-4h0m-19 22h0m16-8h0m-11-10h0m0-1h0m-12 21h0m5-5h0m3-15h0m-2-21h0m6-1h0m5 9h0m3-4h0m9 25h0m2 0h0m-15-28h0m17 20h0m-4 8h0m-10-5h0m-19-25h0m14 5h0m5 28h0m-11-13h0m-25 7h0m10-25h0m17 42h0m-13-25h0m16 0h0m-16 18h0m-7-40h0m29 35h0m-13-12h0m-2-12h0m22 29h0m-54-18h0m11 3h0m45 3h0m-31 16h0m17-38h0m3 22h0m-3 4h0m3-16h0m-3-3h0m-15 28h0m19-19h0m12-9h0m-9 6h0m-23 8h0m8-5h0m22-7h0m-14-9h0m-4 31h0m-8 2h0m23-2h0m-19-28h0m-5-5h0m0 30h0m23 3h0m-12-17h0m-18 2h0m16 5h0m13 6h0m-18-8h0m4-24h0m18 35h0m-27-9h0m7-18h0m21 3h0m5 20h0m-42-10h0m-12 12h0m29-16h0m-4 7h0m21-10h0m-17 30h0m-31-33h0m29 13h0m-4-10h0m22 29h0m-13-18h0m14 7h0m-17-16h0m-9 7h0m-13 18h0m34-14h0m-20-17h0m6 22h0m0-3h0m-8-13h0m18-7h0m7 10h0m-19 3h0m1 10h0m4-14h0m10 3h0m-10 22h0m-35-1h0m4-33h0m41 24h0m-1 2h0m0-19h0m-10 1h0m-18 2h0m22-3h0m-16-3h0m10 6h0m12 4h0m-27-3h0m33 13h0m-42-3h0m45 5h0m-29-7h0m20-9h0m-15-17h0m35 38h0m-31-31h0m18 21h0m-25-11h0m7-19h0m-23 11h0m31-6h0m-16 36h0m24-15h0m-18 7h0m13-11h0m-20 12h0m26 9h0m-37-24h0m36 0h0m1 20h0m1-15h0m-37 6h0m44-15h0" stroke="#2f72b4" stroke-width="2.1" stroke-linecap="round" opacity="0.82"/>
<path d="M96.0 611.5L130.7 611.4" stroke="#f4b8b8" stroke-width="2.0" opacity="0.45"/>
<path d="M96.0 611.5L130.7 611.4" stroke="#e24a4c" stroke-width="0.8"/>
<path d="M90.7 616.9h1.6M90.7 600.0h1.6" stroke="#aaa" stroke-width="0.6"/>
<text x="92.8" y="629.9" font-size="4.2" text-anchor="middle" fill="#333" font-family="Liberation Sans, sans-serif">2</text>
<text x="117.3" y="629.9" font-size="4.2" text-anchor="middle" fill="#333" font-family="Liberation Sans, sans-serif">3</text>
<path d="M141.0 597.1V624.3H181.2" fill="none" stroke="#c8c8c8" stroke-width="0.8"/>
<path d="M148.1 624.3v1.6M167.8 624.3v1.6" stroke="#aaa" stroke-width="0.6"/>
<path transform="scale(.5)" d="M313 1210h0m-20 25h0m21-13h0m10 23h0m-12-33h0m27 16h0m-27-26h0m-18 6h0m22-1h0m6 10h0m-3 13h0m-28-7h0m11-24h0m9 12h0m-2 23h0m-7-19h0m11 13h0m-10-6h0m-7-2h0m-7 6h0m33 6h0m-1 13h0m-14-24h0m0-1h0m20 18h0m4-5h0m-1-17h0m-31-9h0m1 25h0m-1-7h0m29-3h0m-14 18h0m-17-20h0m1 9h0m-8-26h0m21 19h0m-12-15h0m49 18h0m-59-3h0m25-10h0m-25 4h0m60 9h0m-55-14h0m-3 23h0m42-24h0m-37 2h0m8 32h0m6-24h0m-17-15h0m54 6h0m-37 25h0m15-4h0m-25-10h0m15 14h0m4-3h0m-10-9h0m17-3h0m6 3h0m-31 7h0m-7-29h0m1 2h0m45 10h0m-26-2h0m18 22h0m-36-13h0m2-12h0m28 14h0m-32 6h0m11-1h0m-11 6h0m0-14h0m3-13h0m33 38h0m9-30h0m-28 18h0m-13 10h0m14-18h0m20-14h0m-24 33h0m3-36h0m4 14h0m31 4h0m-43 2h0m18 15h0m-13 0h0m-9-19h0m4-23h0m-15 18h0m25-2h0m-12 19h0m23-13h0m-25 9h0m-1-24h0m-10 10h0m22 5h0m11 6h0m4 15h0m-18-16h0m5-9h0m-11 0h0m2-4h0m26 5h0m-39 0h0m14-14h0m4-4h0m-13 8h0m2 26h0m12-12h0m-6-4h0m33 17h0m-33-7h0m30-15h0m12 18h0m-20-3h0m-22-28h0m26 17h0m-38-1h0m23 21h0m1 1h0m-7-19h0m-16-17h0m9-5h0m43 13h0m3 12h0m-48-9h0m0 29h0m30-26h0m-36 8h0m14 9h0m-16-1h0m37-11h0m7 6h0m-26-4h0m-6 6h0m-6-4h0m6-1h0m-4-10h0m28 8h0m30 21h0m-70-22h0m36 7h0m-8-18h0m-23 22h0m3-17h0m8 3h0m-5 11h0m5-31h0m22 21h0m11-7h0m-38 7h0m1-12h0m14 17h0m28 10h0m-31-3h0m-23-26h0m16 12h0m34 7h0m-4 10h0m-11-12h0m-29-16h0m5 1h0m5 13h0m-10-16h0m33 15h0m2 5h0m-8 17h0m-6-28h0m-12 14h0m-6-17h0m1 23h0m30-2h0m-26-11h0m2 9h0m24-10h0m-7 23h0m-8-23h0m-21-10h0m68 8h0m-51 8h0m11 2h0m22-6h0m-43 0h0m3-4h0m-5 16h0m35-13h0m-41-10h0m7 10h0m54 2h0m-19-4h0m-27 22h0m32-8h0m-31-10h0m-11-1h0m19 21h0m0-5h0m-24-15h0m8-21h0m35-1h0m-18 9h0m-18-4h0m-2 25h0m5 0h0m-13-28h0m22 20h0m-16 8h0m11-5h0m-9-25h0m-5 5h0m19 28h0m0-13h0m19 7h0m-30-25h0m17 42h0m-28-25h0m28 0h0m17 18h0m-34-40h0m18 35h0m-15-12h0m11-12h0m-3 29h0m-6-18h0m-6 3h0m40 3h0m22 16h0m-62-38h0m35 22h0m-5 4h0m5-16h0m-32-3h0m8 28h0m-10-19h0m26-9h0m-33 6h0m19 8h0m8-5h0m-25-7h0m30-9h0m15 31h0m-19 2h0m1-2h0m-32-28h0m10-5h0m34 30h0m-25 3h0m47-17h0m-60 2h0m30 5h0m-17 6h0m-11-8h0m1-24h0m36 35h0m-6-9h0m-33-18h0m15 3h0m9 20h0m-25-10h0m3 12h0m5-16h0m-11 7h0m44-10h0m-40 30h0m16-33h0m-4 13h0m-10-10h0m33 29h0m-35-18h0m34 7h0m-32-16h0m30 7h0m-23 18h0m18-14h0m7-17h0m18 22h0m-54-3h0m0-13h0m6-7h0m24 10h0m-30 3h0m37 10h0m-4-14h0m6 3h0m-25 22h0m-6-1h0m0-33h0m17 24h0m3 2h0m35-19h0m-44 1h0m2 2h0m-7-3h0m5-3h0m-12 6h0m36 4h0m-9-3h0m0 13h0m4-3h0m-30 5h0m12-7h0m13-9h0m-17-17h0m19 38h0m-15-31h0m6 21h0m-15-11h0m-15-19h0m16 11h0m-3-6h0m26 36h0m-1-15h0m4 7h0m-1-11h0m-8 12h0m11 9h0m-42-24h0m16 0h0m-16 20h0m4-15h0m14 6h0m20-15h0" stroke="#2f72b4" stroke-width="2.1" stroke-linecap="round" opacity="0.82"/>
<path d="M143.3 609.3L179.4 615.7" stroke="#f4b8b8" stroke-width="2.0" opacity="0.45"/>
<path d="M143.3 609.3L179.4 615.7" stroke="#e24a4c" stroke-width="0.8"/>
<path d="M139.4 616.9h1.6M139.4 600.0h1.6" stroke="#aaa" stroke-width="0.6"/>
<text x="148.1" y="629.9" font-size="4.2" text-anchor="middle" fill="#333" font-family="Liberation Sans, sans-serif">5</text>
<text x="167.8" y="629.9" font-size="4.2" text-anchor="middle" fill="#333" font-family="Liberation Sans, sans-serif">10</text>
<path d="M189.8 597.1V624.3H230.0" fill="none" stroke="#c8c8c8" stroke-width="0.8"/>
<path d="M194.8 624.3v1.6M208.6 624.3v1.6M222.5 624.3v1.6" stroke="#aaa" stroke-width="0.6"/>
<path transform="scale(.5)" d="M431 1210h0m-21 25h0m39-13h0m-32 23h0m15-33h0m-4 16h0m-20-26h0m27 6h0m-12-1h0m-10 10h0m10 13h0m-17-7h0m4-24h0m20 12h0m-24 23h0m34-19h0m6 13h0m-51-6h0m27-2h0m-8 6h0m10 6h0m-2 13h0m-4-24h0m25-1h0m-24 18h0m6-5h0m-8-17h0m12-9h0m-7 25h0m-8-7h0m-13-3h0m24 18h0m-11-20h0m24 9h0m-19-26h0m-34 19h0m21-15h0m39 18h0m-52-3h0m17-10h0m28 4h0m-32 9h0m-2-14h0m15 23h0m-9-24h0m1 2h0m13 32h0m-4-24h0m10-15h0m-24 6h0m-14 25h0m18-4h0m1-10h0m2 14h0m12-3h0m-19-9h0m13-3h0m-26 3h0m14 7h0m41-29h0m-38 2h0m-12 10h0m14-2h0m-11 22h0m4-13h0m5-12h0m7 14h0m-6 6h0m4-1h0m-8 6h0m-12-14h0m38-13h0m-9 38h0m-17-30h0m16 18h0m-23 10h0m52-18h0m-8-14h0m-27 33h0m-21-36h0m0 14h0m24 4h0m-5 2h0m-6 15h0m25 0h0m-25-19h0m23-23h0m-25 18h0m11-2h0m-29 19h0m40-13h0m-16 9h0m6-24h0m-15 10h0m30 5h0m-22 6h0m-3 15h0m13-16h0m-8-9h0m-20 0h0m24-4h0m5 5h0m-28 0h0m8-14h0m20-4h0m-7 8h0m-13 26h0m-5-12h0m5-4h0m-2 17h0m15-7h0m1-15h0m10 18h0m11-3h0m-26-28h0m4 17h0m-7-1h0m-3 21h0m26 1h0m-20-19h0m3-17h0m0-5h0m-18 13h0m2 12h0m29-9h0m-6 29h0m16-26h0m-26 8h0m-9 9h0m29-1h0m-13-11h0m7 6h0m-26-4h0m38 6h0m-47-4h0m9-1h0m25-10h0m-31 8h0m27 21h0m-34-22h0m37 7h0m2-18h0m18 22h0m-48-17h0m-12 3h0m22 11h0m9-31h0m-16 21h0m13-7h0m28 7h0m-9-12h0m-23 17h0m3 10h0m7-3h0m15-26h0m-23 12h0m34 7h0m-35 10h0m12-12h0m-13-16h0m-7 1h0m-14 13h0m29-16h0m-5 15h0m-5 5h0m-6 17h0m40-28h0m-3 14h0m-50-17h0m35 23h0m13-2h0m-16-11h0m7 9h0m3-10h0m-15 23h0m-3-23h0m-2-10h0m14 8h0m-31 8h0m15 2h0m19-6h0m-19 0h0m12-4h0m-5 16h0m-15-13h0m0-10h0m5 10h0m2 2h0m1-4h0m9 22h0m14-8h0m-28-10h0m4-1h0m16 21h0m-26-5h0m18-15h0m16-21h0m4-1h0m-25 9h0m5-4h0m-1 25h0m-16 0h0m-13-28h0m8 20h0m27 8h0m-10-5h0m34-25h0m-32 5h0m22 28h0m-7-13h0m-32 7h0m4-25h0m36 42h0m-16-25h0m-23 0h0m33 18h0m-25-40h0m12 35h0m4-12h0m-6-12h0m16 29h0m-18-18h0m-3 3h0m12 3h0m-2 16h0m-28-38h0m44 22h0m-16 4h0m-4-16h0m-2-3h0m-1 28h0m8-19h0m-24-9h0m37 6h0m-12 8h0m-8-5h0m6-7h0m-18-9h0m5 31h0m7 2h0m-13-2h0m3-28h0m-1-5h0m-16 30h0m17 3h0m5-17h0m31 2h0m-42 5h0m21 6h0m-8-8h0m9-24h0m4 35h0m-22-9h0m6-18h0m17 3h0m-12 20h0m-3-10h0m12 12h0m-9-16h0m24 7h0m-12-10h0m-2 30h0m22-33h0m5 13h0m-44-10h0m16 29h0m-24-18h0m29 7h0m-21-16h0m25 7h0m-30 18h0m12-14h0m-6-17h0m17 22h0m-24-3h0m17-13h0m-5-7h0m20 10h0m-26 3h0m20 10h0m16-14h0m-35 3h0m11 22h0m-21-1h0m13-33h0m37 24h0m-20 2h0m-7-19h0m-13 1h0m10 2h0m-14-3h0m22-3h0m2 6h0m-18 4h0m7-3h0m-6 13h0m33-3h0m-26 5h0m16-7h0m-20-9h0m-2-17h0m3 38h0m5-31h0m-1 21h0m-23-11h0m29-19h0m2 11h0m-22-6h0m27 36h0m-17-15h0m18 7h0m2-11h0m4 12h0m-25 9h0m-18-24h0m7 0h0m14 20h0m19-15h0m-19 6h0m9-15h0" stroke="#2f72b4" stroke-width="2.1" stroke-linecap="round" opacity="0.82"/>
<path d="M191.9 611.0L226.0 612.1" stroke="#f4b8b8" stroke-width="2.0" opacity="0.45"/>
<path d="M191.9 611.0L226.0 612.1" stroke="#e24a4c" stroke-width="0.8"/>
<path d="M188.2 616.9h1.6M188.2 600.0h1.6" stroke="#aaa" stroke-width="0.6"/>
<text x="194.8" y="629.9" font-size="4.2" text-anchor="middle" fill="#333" font-family="Liberation Sans, sans-serif">400</text>
<text x="208.6" y="629.9" font-size="4.2" text-anchor="middle" fill="#333" font-family="Liberation Sans, sans-serif">450</text>
<text x="222.5" y="629.9" font-size="4.2" text-anchor="middle" fill="#333" font-family="Liberation Sans, sans-serif">500</text>
<path d="M238.5 597.1V624.3H278.7" fill="none" stroke="#c8c8c8" stroke-width="0.8"/>
<path d="M242.6 624.3v1.6M256.1 624.3v1.6M269.7 624.3v1.6" stroke="#aaa" stroke-width="0.6"/>
<path transform="scale(.5)" d="M512 1210h0m21 25h0m11-13h0m-39 23h0m26-33h0m-30 16h0m21-26h0m-4 6h0m-6-1h0m24 10h0m1 13h0m-54-7h0m29-24h0m0 12h0m8 23h0m25-19h0m-42 13h0m14-6h0m-11-2h0m-22 6h0m17 6h0m26 13h0m-13-24h0m0-1h0m-10 18h0m26-5h0m-21-17h0m14-9h0m-3 25h0m6-7h0m-17-3h0m-6 18h0m7-20h0m4 9h0m-3-26h0m-2 19h0m19-15h0m-21 18h0m-10-3h0m22-10h0m17 4h0m-21 9h0m-18-14h0m43 23h0m-23-24h0m-29 2h0m11 32h0m13-24h0m3-15h0m18 6h0m-11 25h0m-23-4h0m12-10h0m12 14h0m-10-3h0m11-9h0m-22-3h0m13 3h0m8 7h0m22-29h0m-14 2h0m-31 10h0m19-2h0m-18 22h0m-13-13h0m54-12h0m-18 14h0m-18 6h0m9-1h0m-23 6h0m29-14h0m11-13h0m-31 38h0m16-30h0m2 18h0m-15 10h0m38-18h0m-30-14h0m-2 33h0m6-36h0m-20 14h0m16 4h0m10 2h0m-11 15h0m12 0h0m-37-19h0m27-23h0m15 18h0m-43-2h0m21 19h0m-9-13h0m22 9h0m-18-24h0m20 10h0m22 5h0m-42 6h0m1 15h0m29-16h0m-9-9h0m-1 0h0m6-4h0m3 5h0m-3 0h0m-18-14h0m10-4h0m-9 8h0m-12 26h0m13-12h0m7-4h0m-5 17h0m3-7h0m-5-15h0m10 18h0m-20-3h0m3-28h0m10 17h0m8-1h0m-8 21h0m-11 1h0m-16-19h0m38-17h0m-1-5h0m-17 13h0m13 12h0m-5-9h0m-9 29h0m-2-26h0m10 8h0m-25 9h0m54-1h0m-29-11h0m-5 6h0m35-4h0m-21 6h0m-15-4h0m14-1h0m-34-10h0m22 8h0m10 21h0m-10-22h0m21 7h0m-10-18h0m5 22h0m-21-17h0m17 3h0m12 11h0m-7-31h0m0 21h0m-7-7h0m6 7h0m-6-12h0m-14 17h0m18 10h0m-1-3h0m12-26h0m-25 12h0m3 7h0m-18 10h0m15-12h0m12-16h0m-17 1h0m-2 13h0m33-16h0m-23 15h0m-8 5h0m18 17h0m-8-28h0m-4 14h0m16-17h0m8 23h0m-38-2h0m10-11h0m-1 9h0m14-10h0m-23 23h0m37-23h0m-13-10h0m-4 8h0m4 8h0m-30 2h0m-5-6h0m7 0h0m22-4h0m-2 16h0m-11-13h0m24-10h0m-3 10h0m-30 2h0m36-4h0m1 22h0m14-8h0m-31-10h0m6-1h0m-13 21h0m-20-5h0m37-15h0m0-21h0m-10-1h0m17 9h0m-25-4h0m4 25h0m-24 0h0m49-28h0m-7 20h0m-21 8h0m-8-5h0m28-25h0m10 5h0m-26 28h0m20-13h0m-9 7h0m-18-25h0m8 42h0m15-25h0m4 0h0m-1 18h0m-21-40h0m22 35h0m8-12h0m1-12h0m6 29h0m0-18h0m-30 3h0m2 3h0m-8 16h0m13-38h0m0 22h0m15 4h0m-27-16h0m-7-3h0m40 28h0m-26-19h0m4-9h0m-22 6h0m26 8h0m3-5h0m14-7h0m-44-9h0m21 31h0m6 2h0m-8-2h0m-7-28h0m-2-5h0m22 30h0m-5 3h0m16-17h0m-17 2h0m-7 5h0m3 6h0m-1-8h0m4-24h0m-34 35h0m18-9h0m8-18h0m0 3h0m3 20h0m10-10h0m-24 12h0m2-16h0m1 7h0m-3-10h0m26 30h0m-9-33h0m3 13h0m-29-10h0m12 29h0m-16-18h0m24 7h0m18-16h0m0 7h0m-7 18h0m-21-14h0m5-17h0m31 22h0m-30-3h0m2-13h0m-9-7h0m19 10h0m0 3h0m23 10h0m-29-14h0m4 3h0m-4 22h0m-13-1h0m5-33h0m-6 24h0m-1 2h0m22-19h0m-9 1h0m16 2h0m-20-3h0m6-3h0m4 6h0m7 4h0m-27-3h0m45 13h0m0-3h0m-29 5h0m2-7h0m9-9h0m-10-17h0m16 38h0m-19-31h0m30 21h0m-14-11h0m-6-19h0m-23 11h0m-2-6h0m12 36h0m33-15h0m-21 7h0m28-11h0m-48 12h0m-4 9h0m26-24h0m-18 0h0m17 20h0m17-15h0m-18 6h0m-14-15h0" stroke="#2f72b4" stroke-width="2.1" stroke-linecap="round" opacity="0.82"/>
<path d="M241.4 612.4L276.2 610.5" stroke="#f4b8b8" stroke-width="2.0" opacity="0.45"/>
<path d="M241.4 612.4L276.2 610.5" stroke="#e24a4c" stroke-width="0.8"/>
<path d="M236.9 616.9h1.6M236.9 600.0h1.6" stroke="#aaa" stroke-width="0.6"/>
<text x="242.6" y="629.9" font-size="4.2" text-anchor="middle" fill="#333" font-family="Liberation Sans, sans-serif">50</text>
<text x="256.1" y="629.9" font-size="4.2" text-anchor="middle" fill="#333" font-family="Liberation Sans, sans-serif">100</text>
<text x="269.7" y="629.9" font-size="4.2" text-anchor="middle" fill="#333" font-family="Liberation Sans, sans-serif">150</text>
<path d="M287.2 597.1V624.3H327.4" fill="none" stroke="#c8c8c8" stroke-width="0.8"/>
<path d="M289.3 624.3v1.6M311.8 624.3v1.6" stroke="#aaa" stroke-width="0.6"/>
<path transform="scale(.5)" d="M624 1210h0m-2 25h0m6-13h0m14 23h0m-25-33h0m-10 16h0m-9-26h0m26 6h0m25-1h0m-20 10h0m-15 13h0m-2-7h0m38-24h0m-46 12h0m4 23h0m13-19h0m-4 13h0m-11-6h0m37-2h0m-37 6h0m17 6h0m-8 13h0m-15-24h0m18-1h0m-1 18h0m-17-5h0m12-17h0m17-9h0m-43 25h0m35-7h0m-22-3h0m10 18h0m19-20h0m-25 9h0m37-26h0m-31 19h0m9-15h0m-14 18h0m-8-3h0m9-10h0m3 4h0m10 9h0m-18-14h0m24 23h0m-15-24h0m-21 2h0m25 32h0m-4-24h0m13-15h0m-19 6h0m-9 25h0m13-4h0m5-10h0m-3 14h0m4-3h0m31-9h0m-9-3h0m-35 3h0m-6 7h0m19-29h0m-15 2h0m33 10h0m-3-2h0m-26 22h0m4-13h0m-11-12h0m3 14h0m23 6h0m-22-1h0m29 6h0m-12-14h0m-4-13h0m6 38h0m-19-30h0m11 18h0m-1 10h0m16-18h0m2-14h0m-31 33h0m-11-36h0m1 14h0m-1 4h0m26 2h0m-7 15h0m33 0h0m-14-19h0m-20-23h0m29 18h0m6-2h0m-48 19h0m11-13h0m22 9h0m-4-24h0m4 10h0m-15 5h0m-7 6h0m-10 15h0m-1-16h0m15-9h0m15 0h0m-9-4h0m3 5h0m15 0h0m-8-14h0m26-4h0m-26 8h0m6 26h0m-19-12h0m-19-4h0m17 17h0m12-7h0m-32-15h0m27 18h0m4-3h0m-10-28h0m13 17h0m7-1h0m-26 21h0m27 1h0m-20-19h0m2-17h0m15-5h0m-29 13h0m4 12h0m6-9h0m4 29h0m34-26h0m-35 8h0m3 9h0m21-1h0m-31-11h0m14 6h0m-10-4h0m-14 6h0m29-4h0m8-1h0m-15-10h0m0 8h0m-19 21h0m19-22h0m-13 7h0m23-18h0m4 22h0m-20-17h0m3 3h0m3 11h0m-8-31h0m3 21h0m12-7h0m-9 7h0m7-12h0m-5 17h0m-8 10h0m42-3h0m-32-26h0m-25 12h0m11 7h0m9 10h0m5-12h0m-15-16h0m0 1h0m2 13h0m-1-16h0m18 15h0m-8 5h0m5 17h0m-6-28h0m7 14h0m-16-17h0m7 23h0m1-2h0m2-11h0m0 9h0m-4-10h0m-8 23h0m10-23h0m29-10h0m-28 8h0m10 8h0m-11 2h0m-23-6h0m17 0h0m18-4h0m-19 16h0m6-13h0m7-10h0m-7 10h0m-17 2h0m5-4h0m16 22h0m5-8h0m-6-10h0m-11-1h0m15 21h0m-15-5h0m10-15h0m7-21h0m-1-1h0m-10 9h0m7-4h0m-13 25h0m2 0h0m14-28h0m11 20h0m-27 8h0m27-5h0m-12-25h0m-3 5h0m2 28h0m10-13h0m-12 7h0m2-25h0m-15 42h0m50-25h0m-34 0h0m-30 18h0m34-40h0m-14 35h0m14-12h0m11-12h0m-46 29h0m25-18h0m-9 3h0m24 3h0m-6 16h0m-12-38h0m2 22h0m1 4h0m-10-16h0m25-3h0m-12 28h0m4-19h0m4-9h0m-30 6h0m55 8h0m-46-5h0m32-7h0m-41-9h0m26 31h0m-28 2h0m14-2h0m30-28h0m-19-5h0m-7 30h0m-12 3h0m15-17h0m24 2h0m-36 5h0m-1 6h0m52-8h0m-46-24h0m21 35h0m-27-9h0m32-18h0m-19 3h0m-3 20h0m7-10h0m29 12h0m2-16h0m-45 7h0m6-10h0m10 30h0m8-33h0m8 13h0m-1-10h0m-39 29h0m25-18h0m-14 7h0m7-16h0m0 7h0m-27 18h0m35-14h0m-13-17h0m-15 22h0m25-3h0m15-13h0m-19-7h0m37 10h0m-55 3h0m11 10h0m13-14h0m4 3h0m6 22h0m-3-1h0m-2-33h0m-3 24h0m-31 2h0m12-19h0m9 1h0m11 2h0m-12-3h0m14-3h0m-23 6h0m8 4h0m15-3h0m-18 13h0m-23-3h0m35 5h0m7-7h0m-16-9h0m17-17h0m-25 38h0m27-31h0m-18 21h0m4-11h0m10-19h0m3 11h0m17-6h0m-43 36h0m-1-15h0m24 7h0m-19-11h0m-16 12h0m-6 9h0m12-24h0m6 0h0m6 20h0m7-15h0m-25 6h0m29-15h0" stroke="#2f72b4" stroke-width="2.1" stroke-linecap="round" opacity="0.82"/>
<path d="M290.3 614.1L325.1 608.3" stroke="#f4b8b8" stroke-width="2.0" opacity="0.45"/>
<path d="M290.3 614.1L325.1 608.3" stroke="#e24a4c" stroke-width="0.8"/>
<path d="M285.6 616.9h1.6M285.6 600.0h1.6" stroke="#aaa" stroke-width="0.6"/>
<text x="289.3" y="629.9" font-size="4.2" text-anchor="middle" fill="#333" font-family="Liberation Sans, sans-serif">1000</text>
<text x="311.8" y="629.9" font-size="4.2" text-anchor="middle" fill="#333" font-family="Liberation Sans, sans-serif">1500</text>
<path d="M335.9 597.1V624.3H376.1" fill="none" stroke="#c8c8c8" stroke-width="0.8"/>
<path d="M344.7 624.3v1.6M370.9 624.3v1.6" stroke="#aaa" stroke-width="0.6"/>
<path transform="scale(.5)" d="M707 1210h0m12 25h0m-13-13h0m-7 23h0m-1-33h0m-3 16h0m31-26h0m-2 6h0m17-1h0m-34 10h0m0 13h0m1-7h0m23-24h0m-20 12h0m1 23h0m25-19h0m-29 13h0m-9-6h0m37-2h0m0 6h0m-47 6h0m29 13h0m-26-24h0m45-1h0m-8 18h0m-24-5h0m25-17h0m17-9h0m-42 25h0m23-7h0m-24-3h0m0 18h0m26-20h0m-16 9h0m22-26h0m-32 19h0m39-15h0m-59 18h0m27-3h0m-4-10h0m17 4h0m-22 9h0m4-14h0m34 23h0m-18-24h0m-18 2h0m13 32h0m-19-24h0m34-15h0m-47 6h0m37 25h0m-24-4h0m28-10h0m-20 14h0m0-3h0m2-9h0m15-3h0m-6 3h0m19 7h0m4-29h0m-48 2h0m22 10h0m2-2h0m-11 22h0m41-13h0m-32-12h0m2 14h0m19 6h0m-28-1h0m30 6h0m-4-14h0m-20-13h0m-21 38h0m27-30h0m-21 18h0m11 10h0m20-18h0m-12-14h0m9 33h0m-5-36h0m-5 14h0m-18 4h0m29 2h0m-12 15h0m-7 0h0m5-19h0m11-23h0m-3 18h0m3-2h0m-31 19h0m37-13h0m-28 9h0m27-24h0m-11 10h0m-13 5h0m3 6h0m-18 15h0m16-16h0m22-9h0m-10 0h0m-1-4h0m-7 5h0m14 0h0m-11-14h0m17-4h0m-1 8h0m-7 26h0m1-12h0m1-4h0m-24 17h0m20-7h0m-12-15h0m-7 18h0m25-3h0m-8-28h0m-14 17h0m25-1h0m-21 21h0m14 1h0m-9-19h0m14-17h0m8-5h0m-26 13h0m-5 12h0m22-9h0m2 29h0m2-26h0m-4 8h0m-18 9h0m21-1h0m-22-11h0m-10 6h0m33-4h0m-27 6h0m3-4h0m4-1h0m21-10h0m-29 8h0m-9 21h0m33-22h0m-19 7h0m17-18h0m0 22h0m-15-17h0m-6 3h0m3 11h0m32-31h0m-46 21h0m24-7h0m0 7h0m8-12h0m1 17h0m-45 10h0m43-3h0m-2-26h0m-31 12h0m38 7h0m-25 10h0m2-12h0m14-16h0m-10 1h0m4 13h0m14-16h0m-11 15h0m7 5h0m-26 17h0m20-28h0m-10 14h0m20-17h0m11 23h0m-10-2h0m-20-11h0m-8 9h0m6-10h0m-11 23h0m15-23h0m33-10h0m-45 8h0m7 8h0m36 2h0m-43-6h0m11 0h0m14-4h0m9 16h0m-10-13h0m3-10h0m-17 10h0m-17 2h0m10-4h0m19 22h0m-27-8h0m23-10h0m1-1h0m-37 21h0m2-5h0m44-15h0m-5-21h0m-15-1h0m2 9h0m24-4h0m-17 25h0m-3 0h0m24-28h0m-10 20h0m13 8h0m-25-5h0m20-25h0m8 5h0m-38 28h0m20-13h0m-19 7h0m5-25h0m-9 42h0m44-25h0m-32 0h0m-36 18h0m28-40h0m-6 35h0m31-12h0m-5-12h0m9 29h0m-12-18h0m-21 3h0m26 3h0m-36 16h0m22-38h0m3 22h0m4 4h0m0-16h0m22-3h0m-33 28h0m0-19h0m14-9h0m0 6h0m-8 8h0m0-5h0m13-7h0m-43-9h0m31 31h0m-4 2h0m-16-2h0m36-28h0m-21-5h0m-6 30h0m13 3h0m-8-17h0m21 2h0m-37 5h0m-10 6h0m41-8h0m14-24h0m-18 35h0m-32-9h0m42-18h0m-16 3h0m-3 20h0m14-10h0m14 12h0m-8-16h0m-26 7h0m-6-10h0m5 30h0m4-33h0m12 13h0m8-10h0m-32 29h0m27-18h0m-29 7h0m37-16h0m-25 7h0m-27 18h0m36-14h0m-23-17h0m16 22h0m-18-3h0m26-13h0m7-7h0m17 10h0m-17 3h0m0 10h0m-1-14h0m-15 3h0m-7 22h0m14-1h0m-10-33h0m11 24h0m-21 2h0m-5-19h0m27 1h0m-10 2h0m5-3h0m1-3h0m12 6h0m-32 4h0m8-3h0m15 13h0m-17-3h0m19 5h0m4-7h0m-26-9h0m29-17h0m-20 38h0m19-31h0m8 21h0m-21-11h0m30-19h0m-2 11h0m-9-6h0m-41 36h0m20-15h0m-5 7h0m9-11h0m-13 12h0m-23 9h0m39-24h0m-1 0h0m0 20h0m21-15h0m-56 6h0m45-15h0" stroke="#2f72b4" stroke-width="2.1" stroke-linecap="round" opacity="0.82"/>
<path d="M338.4 616.9L373.7 606.8" stroke="#f4b8b8" stroke-width="2.0" opacity="0.45"/>
<path d="M338.4 616.9L373.7 606.8" stroke="#e24a4c" stroke-width="0.8"/>
<path d="M334.3 616.9h1.6M334.3 600.0h1.6" stroke="#aaa" stroke-width="0.6"/>
<text x="344.7" y="629.9" font-size="4.2" text-anchor="middle" fill="#333" font-family="Liberation Sans, sans-serif">1000</text>
<text x="370.9" y="629.9" font-size="4.2" text-anchor="middle" fill="#333" font-family="Liberation Sans, sans-serif">1500</text>
<path d="M384.6 597.1V624.3H424.8" fill="none" stroke="#c8c8c8" stroke-width="0.8"/>
<path d="M400.1 624.3v1.6M419.1 624.3v1.6" stroke="#aaa" stroke-width="0.6"/>
<path transform="scale(.5)" d="M792 1210h0m-9 25h0m22-13h0m-11 23h0m6-33h0m0 16h0m-8-26h0m27 6h0m21-1h0m-50 10h0m-11 13h0m50-7h0m-51-24h0m3 12h0m15 23h0m20-19h0m0 13h0m-17-6h0m-20-2h0m50 6h0m-15 6h0m-36 13h0m-3-24h0m9-1h0m6 18h0m29-5h0m-18-17h0m8-9h0m-11 25h0m-13-7h0m-11-3h0m30 18h0m-14-20h0m-2 9h0m27-26h0m-4 19h0m-12-15h0m-1 18h0m0-3h0m-4-10h0m-7 4h0m11 9h0m6-14h0m-2 23h0m-6-24h0m-11 2h0m5 32h0m10-24h0m14-15h0m-20 6h0m38 25h0m-8-4h0m-16-10h0m-23 14h0m0-3h0m16-9h0m26-3h0m-34 3h0m41 7h0m8-29h0m-45 2h0m-6 10h0m43-2h0m-48 22h0m16-13h0m30-12h0m-9 14h0m-21 6h0m-12-1h0m7 6h0m39-14h0m10-13h0m-54 38h0m29-30h0m-33 18h0m23 10h0m0-18h0m17-14h0m-34 33h0m11-36h0m-16 14h0m-4 4h0m9 2h0m0 15h0m36 0h0m-41-19h0m14-23h0m10 18h0m-23-2h0m1 19h0m7-13h0m-19 9h0m62-24h0m-35 10h0m-18 5h0m10 6h0m-17 15h0m3-16h0m29-9h0m-24 0h0m-5-4h0m31 5h0m-17 0h0m24-14h0m-12-4h0m-21 8h0m-6 26h0m3-12h0m-6-4h0m5 17h0m21-7h0m-20-15h0m7 18h0m20-3h0m-22-28h0m13 17h0m-11-1h0m-19 21h0m16 1h0m52-19h0m-48-17h0m18-5h0m-32 13h0m9 12h0m39-9h0m-39 29h0m13-26h0m-14 8h0m17 9h0m20-1h0m-41-11h0m26 6h0m-21-4h0m-4 6h0m12-4h0m19-1h0m-20-10h0m-2 8h0m-4 21h0m-9-22h0m3 7h0m36-18h0m-24 22h0m5-17h0m1 3h0m0 11h0m-9-31h0m-1 21h0m20-7h0m-18 7h0m1-12h0m-1 17h0m-9 10h0m11-3h0m3-26h0m-16 12h0m3 7h0m-5 10h0m-1-12h0m9-16h0m5 1h0m-10 13h0m50-16h0m-32 15h0m-7 5h0m-11 17h0m10-28h0m-6 14h0m7-17h0m1 23h0m4-2h0m-4-11h0m24 9h0m-32-10h0m-13 23h0m33-23h0m16-10h0m-31 8h0m-13 8h0m38 2h0m-23-6h0m-7 0h0m9-4h0m-7 16h0m-10-13h0m16-10h0m5 10h0m-23 2h0m1-4h0m3 22h0m6-8h0m4-10h0m-7-1h0m4 21h0m0-5h0m34-15h0m-27-21h0m7-1h0m-10 9h0m7-4h0m-20 25h0m10 0h0m12-28h0m10 20h0m-17 8h0m-5-5h0m48-25h0m-35 5h0m-19 28h0m9-13h0m50 7h0m-65-25h0m35 42h0m2-25h0m-18 0h0m0 18h0m16-40h0m-17 35h0m-15-12h0m60-12h0m-31 29h0m23-18h0m-31 3h0m-12 3h0m5 16h0m-9-38h0m33 22h0m-20 4h0m-1-16h0m-12-3h0m46 28h0m-45-19h0m26-9h0m-19 6h0m5 8h0m-9-5h0m-1-7h0m-3-9h0m15 31h0m-14 2h0m-8-2h0m26-28h0m7-5h0m-35 30h0m19 3h0m-9-17h0m22 2h0m-8 5h0m-27 6h0m27-8h0m-13-24h0m1 35h0m1-9h0m27-18h0m-13 3h0m-23 20h0m42-10h0m-23 12h0m5-16h0m-26 7h0m11-10h0m9 30h0m1-33h0m-14 13h0m33-10h0m-35 29h0m-2-18h0m11 7h0m-7-16h0m-6 7h0m45 18h0m-18-14h0m-15-17h0m-2 22h0m-13-3h0m30-13h0m38-7h0m-61 10h0m33 3h0m-23 10h0m5-14h0m-2 3h0m-15 22h0m29-1h0m19-33h0m-37 24h0m-6 2h0m-6-19h0m31 1h0m-10 2h0m-6-3h0m-7-3h0m10 6h0m-14 4h0m-4-3h0m-5 13h0m29-3h0m4 5h0m4-7h0m-20-9h0m46-17h0m-46 38h0m4-31h0m25 21h0m-22-11h0m-13-19h0m52 11h0m-53-6h0m5 36h0m-9-15h0m6 7h0m23-11h0m-26 12h0m-7 9h0m8-24h0m4 0h0m19 20h0m-17-15h0m-11 6h0m25-15h0" stroke="#2f72b4" stroke-width="2.1" stroke-linecap="round" opacity="0.82"/>
<path d="M386.9 613.6L423.0 607.4" stroke="#f4b8b8" stroke-width="2.0" opacity="0.45"/>
<path d="M386.9 613.6L423.0 607.4" stroke="#e24a4c" stroke-width="0.8"/>
<path d="M383.0 616.9h1.6M383.0 600.0h1.6" stroke="#aaa" stroke-width="0.6"/>
<text x="400.1" y="629.9" font-size="4.2" text-anchor="middle" fill="#333" font-family="Liberation Sans, sans-serif">10</text>
<text x="419.1" y="629.9" font-size="4.2" text-anchor="middle" fill="#333" font-family="Liberation Sans, sans-serif">20</text>
<path d="M433.4 597.1V624.3H473.6" fill="none" stroke="#c8c8c8" stroke-width="0.8"/>
<path d="M439.4 624.3v1.6M465.9 624.3v1.6" stroke="#aaa" stroke-width="0.6"/>
<path transform="scale(.5)" d="M904 1210h0m12 25h0m-10-13h0m-1 23h0m-6-33h0m-11 16h0m31-26h0m-11 6h0m28-1h0m-29 10h0m-2 13h0m10-7h0m11-24h0m-46 12h0m29 23h0m24-19h0m-9 13h0m-16-6h0m25-2h0m-13 6h0m-35 6h0m-3 13h0m16-24h0m10-1h0m4 18h0m-4-5h0m4-17h0m17-9h0m-22 25h0m15-7h0m-19-3h0m3 18h0m3-20h0m-10 9h0m29-26h0m-14 19h0m-3-15h0m-12 18h0m11-3h0m-15-10h0m11 4h0m-3 9h0m19-14h0m-14 23h0m-4-24h0m-3 2h0m11 32h0m-18-24h0m28-15h0m-30 6h0m25 25h0m-16-4h0m5-10h0m-3 14h0m-11-3h0m20-9h0m-3-3h0m-7 3h0m27 7h0m0-29h0m-58 2h0m44 10h0m-4-2h0m-25 22h0m42-13h0m-33-12h0m15 14h0m24 6h0m-29-1h0m23 6h0m8-14h0m-8-13h0m-25 38h0m26-30h0m-27 18h0m0 10h0m25-18h0m-13-14h0m-18 33h0m18-36h0m-9 14h0m-23 4h0m43 2h0m-15 15h0m3 0h0m7-19h0m-10-23h0m17 18h0m-7-2h0m-31 19h0m16-13h0m0 9h0m21-24h0m0 10h0m-20 5h0m-3 6h0m-9 15h0m12-16h0m22-9h0m-16 0h0m-10-4h0m-1 5h0m15 0h0m-3-14h0m6-4h0m-3 8h0m-6 26h0m-2-12h0m-4-4h0m4 17h0m20-7h0m-40-15h0m16 18h0m4-3h0m-4-28h0m11 17h0m-5-1h0m-31 21h0m47 1h0m4-19h0m-22-17h0m6-5h0m-14 13h0m-5 12h0m7-9h0m3 29h0m25-26h0m-14 8h0m-6 9h0m16-1h0m-45-11h0m24 6h0m11-4h0m-37 6h0m33-4h0m-12-1h0m-2-10h0m5 8h0m-25 21h0m37-22h0m-21 7h0m30-18h0m12 22h0m-36-17h0m5 3h0m8 11h0m-1-31h0m-5 21h0m9-7h0m-24 7h0m11-12h0m0 17h0m1 10h0m7-3h0m-1-26h0m-27 12h0m22 7h0m-15 10h0m3-12h0m7-16h0m-11 1h0m16 13h0m11-16h0m-11 15h0m21 5h0m-33 17h0m13-28h0m-3 14h0m5-17h0m11 23h0m0-2h0m-8-11h0m-10 9h0m-5-10h0m-9 23h0m26-23h0m28-10h0m-49 8h0m9 8h0m38 2h0m-48-6h0m2 0h0m17-4h0m1 16h0m-14-13h0m16-10h0m-3 10h0m-34 2h0m28-4h0m1 22h0m-32-8h0m17-10h0m12-1h0m-16 21h0m14-5h0m33-15h0m-30-21h0m1-1h0m-4 9h0m16-4h0m-37 25h0m17 0h0m19-28h0m7 20h0m-7 8h0m11-5h0m-10-25h0m-1 5h0m-14 28h0m1-13h0m13 7h0m-11-25h0m4 42h0m35-25h0m-34 0h0m-35 18h0m16-40h0m19 35h0m23-12h0m-11-12h0m-11 29h0m25-18h0m-38 3h0m9 3h0m-18 16h0m-3-38h0m31 22h0m-9 4h0m0-16h0m20-3h0m-34 28h0m4-19h0m23-9h0m-13 6h0m11 8h0m-18-5h0m11-7h0m-20-9h0m19 31h0m-26 2h0m-10-2h0m58-28h0m-23-5h0m9 30h0m-1 3h0m-9-17h0m15 2h0m-35 5h0m-6 6h0m32-8h0m3-24h0m9 35h0m-36-9h0m31-18h0m-19 3h0m-9 20h0m33-10h0m9 12h0m-2-16h0m-24 7h0m-17-10h0m19 30h0m16-33h0m-7 13h0m1-10h0m-37 29h0m31-18h0m-20 7h0m9-16h0m-6 7h0m-2 18h0m21-14h0m-11-17h0m2 22h0m-27-3h0m26-13h0m18-7h0m2 10h0m-11 3h0m-8 10h0m0-14h0m-3 3h0m-5 22h0m20-1h0m-5-33h0m-5 24h0m0 2h0m-31-19h0m23 1h0m12 2h0m7-3h0m-2-3h0m1 6h0m-29 4h0m14-3h0m1 13h0m-35-3h0m51 5h0m-12-7h0m-7-9h0m26-17h0m-24 38h0m11-31h0m1 21h0m-6-11h0m-13-19h0m33 11h0m-14-6h0m-36 36h0m25-15h0m-13 7h0m10-11h0m-10 12h0m-19 9h0m33-24h0m0 0h0m0 20h0m5-15h0m-38 6h0m42-15h0" stroke="#2f72b4" stroke-width="2.1" stroke-linecap="round" opacity="0.82"/>
<path d="M435.4 615.3L471.3 607.8" stroke="#f4b8b8" stroke-width="2.0" opacity="0.45"/>
<path d="M435.4 615.3L471.3 607.8" stroke="#e24a4c" stroke-width="0.8"/>
<path d="M431.8 616.9h1.6M431.8 600.0h1.6" stroke="#aaa" stroke-width="0.6"/>
<text x="439.4" y="629.9" font-size="4.2" text-anchor="middle" fill="#333" font-family="Liberation Sans, sans-serif">2000</text>
<text x="465.9" y="629.9" font-size="4.2" text-anchor="middle" fill="#333" font-family="Liberation Sans, sans-serif">3000</text>
<path d="M482.1 597.1V624.3H522.3" fill="none" stroke="#c8c8c8" stroke-width="0.8"/>
<path d="M493.1 624.3v1.6M518.0 624.3v1.6" stroke="#aaa" stroke-width="0.6"/>
<path d="M483.91 624.3v-6.4h1.83v6.4zM485.73 624.3v-3.2h1.83v3.2zM487.56 624.3v-5.1h1.83v5.1zM489.39 624.3v-5.1h1.83v5.1zM491.22 624.3v-11.2h1.83v11.2zM493.04 624.3v-9.3h1.83v9.3zM494.87 624.3v-9.6h1.83v9.6zM496.70 624.3v-10.3h1.83v10.3zM498.53 624.3v-17.0h1.83v17.0zM500.35 624.3v-14.1h1.83v14.1zM502.18 624.3v-21.2h1.83v21.2zM504.01 624.3v-11.9h1.83v11.9zM505.83 624.3v-11.9h1.83v11.9zM507.66 624.3v-9.6h1.83v9.6zM509.49 624.3v-6.7h1.83v6.7zM511.32 624.3v-8.7h1.83v8.7zM513.14 624.3v-5.1h1.83v5.1zM514.97 624.3v-3.2h1.83v3.2zM516.80 624.3v-1.9h1.83v1.9zM518.63 624.3v-1.0h1.83v1.0z" fill="#a9cbe8" stroke="#5b7fa3" stroke-width="0.35"/>
<path d="M484.8,620.6 L486.6,620.2 L488.5,618.8 L490.3,617.8 L492.1,615.5 L494.0,614.9 L495.8,613.7 L497.6,612.5 L499.4,609.6 L501.3,608.8 L503.1,607.8 L504.9,610.6 L506.7,612.5 L508.6,614.7 L510.4,616.3 L512.2,617.2 L514.1,619.0 L515.9,620.7 L517.7,622.2 L519.5,623.2" fill="none" stroke="#7aa8d8" stroke-width="0.8" opacity="0.8"/>
<path d="M480.5 616.9h1.6M480.5 600.0h1.6" stroke="#aaa" stroke-width="0.6"/>
<text x="493.1" y="629.9" font-size="4.2" text-anchor="middle" fill="#333" font-family="Liberation Sans, sans-serif">20</text>
<text x="518.0" y="629.9" font-size="4.2" text-anchor="middle" fill="#333" font-family="Liberation Sans, sans-serif">40</text>
<text transform="translate(33.2,318.6) rotate(-90)" font-size="11.4" text-anchor="middle" fill="#111" font-family="Liberation Sans, sans-serif">DFF</text>
<text transform="translate(36.3,350.5) rotate(-90)" font-size="11.4" text-anchor="middle" fill="#111" font-family="Liberation Sans, sans-serif">TW</text>
<text transform="translate(34.8,385.0) rotate(-90)" font-size="11.4" text-anchor="middle" fill="#111" font-family="Liberation Sans, sans-serif">GYPP</text>
<text transform="translate(32.7,416.8) rotate(-90)" font-size="11.4" text-anchor="middle" fill="#111" font-family="Liberation Sans, sans-serif">Ca</text>
<text transform="translate(33.2,448.2) rotate(-90)" font-size="11.4" text-anchor="middle" fill="#111" font-family="Liberation Sans, sans-serif">Fe</text>
<text transform="translate(30.6,481.4) rotate(-90)" font-size="11.4" text-anchor="middle" fill="#111" font-family="Liberation Sans, sans-serif">K</text>
<text transform="translate(30.5,513.7) rotate(-90)" font-size="11.4" text-anchor="middle" fill="#111" font-family="Liberation Sans, sans-serif">Mg</text>
<text transform="translate(35.5,546.7) rotate(-90)" font-size="11.4" text-anchor="middle" fill="#111" font-family="Liberation Sans, sans-serif">Na</text>
<text transform="translate(31.2,580.9) rotate(-90)" font-size="11.4" text-anchor="middle" fill="#111" font-family="Liberation Sans, sans-serif">P</text>
<text transform="translate(34.9,611.3) rotate(-90)" font-size="11.4" text-anchor="middle" fill="#111" font-family="Liberation Sans, sans-serif">Zn</text>
<text x="63.7" y="639.2" font-size="11.6" text-anchor="middle" fill="#111" font-family="Liberation Sans, sans-serif">DFF</text>
<text x="112.4" y="639.2" font-size="11.6" text-anchor="middle" fill="#111" font-family="Liberation Sans, sans-serif">TW</text>
<text x="161.1" y="639.2" font-size="11.6" text-anchor="middle" fill="#111" font-family="Liberation Sans, sans-serif">GYPP</text>
<text x="209.9" y="639.2" font-size="11.6" text-anchor="middle" fill="#111" font-family="Liberation Sans, sans-serif">Ca</text>
<text x="258.6" y="639.2" font-size="11.6" text-anchor="middle" fill="#111" font-family="Liberation Sans, sans-serif">Fe</text>
<text x="307.3" y="639.2" font-size="11.6" text-anchor="middle" fill="#111" font-family="Liberation Sans, sans-serif">K</text>
<text x="356.0" y="639.2" font-size="11.6" text-anchor="middle" fill="#111" font-family="Liberation Sans, sans-serif">Mg</text>
<text x="404.7" y="639.2" font-size="11.6" text-anchor="middle" fill="#111" font-family="Liberation Sans, sans-serif">Na</text>
<text x="453.5" y="639.2" font-size="11.6" text-anchor="middle" fill="#111" font-family="Liberation Sans, sans-serif">P</text>
<text x="502.2" y="639.2" font-size="11.6" text-anchor="middle" fill="#111" font-family="Liberation Sans, sans-serif">Zn</text>
</svg>
</body></html>
